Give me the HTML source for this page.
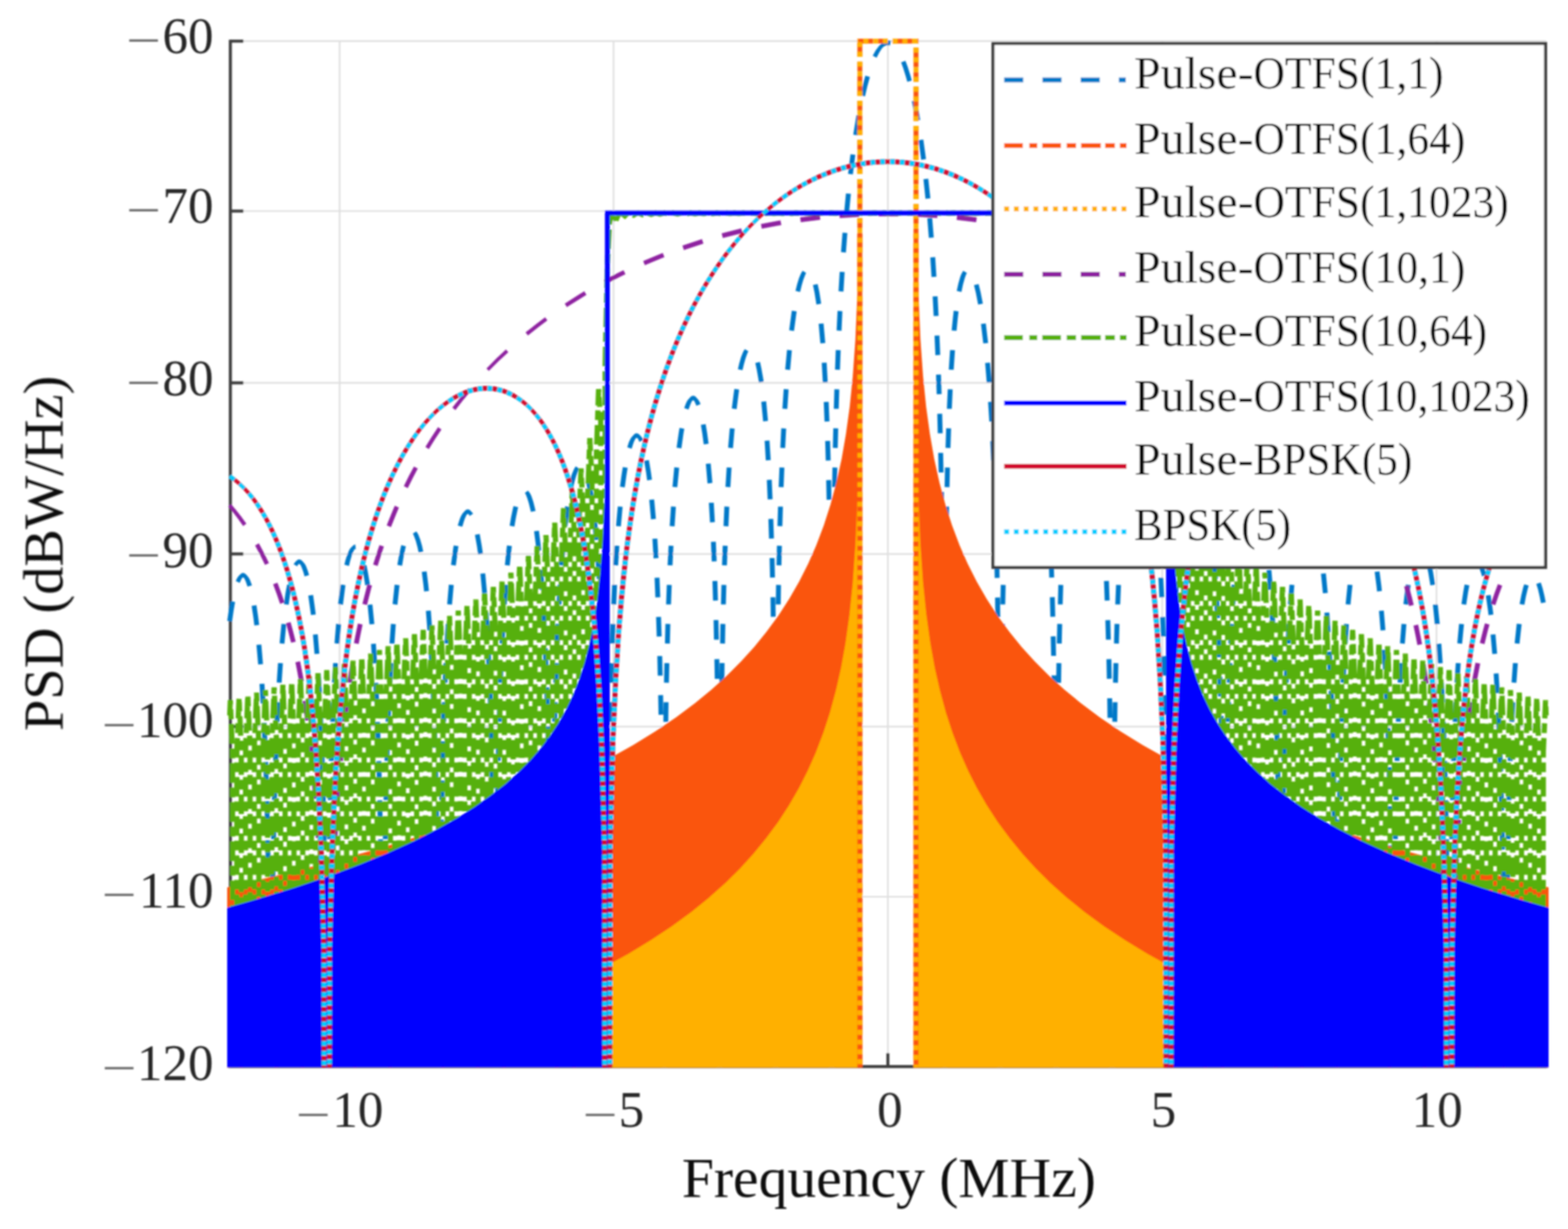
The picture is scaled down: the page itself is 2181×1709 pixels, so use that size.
<!DOCTYPE html>
<html lang="en"><head><meta charset="utf-8"><title>PSD of Pulse-OTFS and BPSK signals</title>
<style>html,body{margin:0;padding:0;background:#fff}body{width:2181px;height:1709px;overflow:hidden}svg{display:block}text{font-family:"Liberation Serif","DejaVu Serif",serif}</style>
</head><body>
<svg xmlns="http://www.w3.org/2000/svg" width="2181" height="1709" viewBox="0 0 2181 1709">
<defs><clipPath id="ax"><rect x="311.5" y="53.6" width="1847.2" height="1431.2"/></clipPath>
<filter id="soft" x="0" y="0" width="2181" height="1709" filterUnits="userSpaceOnUse"><feGaussianBlur stdDeviation="1.1"/></filter>
</defs>
<rect x="0" y="0" width="2181" height="1709" fill="#fff"/>
<g filter="url(#soft)">
<g stroke="#DEDEDE" stroke-width="2.2" fill="none">
<line x1="472.4" y1="57.2" x2="472.4" y2="1483.2"/>
<line x1="853.4" y1="57.2" x2="853.4" y2="1483.2"/>
<line x1="1235" y1="57.2" x2="1235" y2="1483.2"/>
<line x1="1616.6" y1="57.2" x2="1616.6" y2="1483.2"/>
<line x1="1998.1" y1="57.2" x2="1998.1" y2="1483.2"/>
<line x1="319.5" y1="57.2" x2="2150.6" y2="57.2"/>
<line x1="319.5" y1="293.5" x2="2150.6" y2="293.5"/>
<line x1="319.5" y1="532.4" x2="2150.6" y2="532.4"/>
<line x1="319.5" y1="770.3" x2="2150.6" y2="770.3"/>
<line x1="319.5" y1="1010.3" x2="2150.6" y2="1010.3"/>
<line x1="319.5" y1="1247" x2="2150.6" y2="1247"/>
<line x1="319.5" y1="1483.2" x2="2150.6" y2="1483.2"/>
</g>
<g stroke="#3E3E3E" stroke-width="4.2" fill="none" stroke-linecap="butt">
<path d="M320.4,55.3L320.4,1483.2L2151.6,1483.2"/>
<line x1="320.4" y1="57.2" x2="338.5" y2="57.2"/>
<line x1="320.4" y1="293.5" x2="338.5" y2="293.5"/>
<line x1="320.4" y1="532.4" x2="338.5" y2="532.4"/>
<line x1="320.4" y1="770.3" x2="338.5" y2="770.3"/>
<line x1="320.4" y1="1010.3" x2="338.5" y2="1010.3"/>
<line x1="320.4" y1="1247" x2="338.5" y2="1247"/>
<line x1="472.4" y1="1483.2" x2="472.4" y2="1464.5"/>
<line x1="853.4" y1="1483.2" x2="853.4" y2="1464.5"/>
<line x1="1235" y1="1483.2" x2="1235" y2="1464.5"/>
<line x1="1616.6" y1="1483.2" x2="1616.6" y2="1464.5"/>
<line x1="1998.1" y1="1483.2" x2="1998.1" y2="1464.5"/>
</g>
<g clip-path="url(#ax)" stroke="none">
<path fill="#0078C8" d="M316.1,863.3l2.1,-14.9l2.2,-12.4l6.6,1.1l-2.1,12.4l-2.1,14.7zM327.9,808.1l2,-4.3l1.6,-2.2l1.6,-1.8l1.6,-1.6l2,-1.4l2.5,-0.1l2.1,1.3l1.6,1.6l1.7,1.8l1.5,2.1l1.5,2.8l2.6,6.9l0.3,0.8l-6.3,1.8l-0.1,-0.6l-2.2,-6.5l-1,-2.3l-0.9,-1.8l-0.8,-1.2l-0.8,-0.3l-0.3,0.3v-0.1l-0.4,-0.2l-0.8,0.4l-0.8,1.3l-0.9,1.8l-1.7,4zM356.7,841.6l2.3,15.7l1.5,11.6l-6.7,0.8l-1.4,-11.5l-2.4,-15.6zM363.5,896.2l2.3,27.2l-6.7,0.6l-2.4,-27.2zM367.8,950.7l1.6,27.2l-6.8,0.4l-1.6,-27.2zM370.7,1005.1l1.2,27.2l-6.8,0.3l-1.2,-27.2zM372.9,1059.6l0.9,27.2l-6.8,0.2l-0.9,-27.2zM374.5,1114l0.7,27.2l-6.8,0.2l-0.6,-27.2zM375.8,1168.4l0.5,27.2l-6.8,0.2l-0.5,-27.2zM376.7,1222.8l0.4,27.2l-6.8,0.1l-0.4,-27.2zM377.5,1277.3l0.2,27.2h-6.8l-0.2,-27.2zM377.9,1331.7l0.3,27.2h-6.8l-0.3,-27.2zM378.4,1386.1l0.2,27.2h-6.8l-0.2,-27.2zM378.6,1440.5v27.2h-6.8v-27.2zM374.2,1484.6l0.1,-18.5h6.8l-0.1,18.5zM374.3,1438.9v-27.2h6.8v27.2zM374.5,1384.5l0.2,-27.2h6.8l-0.2,27.2zM375,1330.1l0.2,-27.2h6.8l-0.2,27.2zM375.4,1275.7l0.4,-27.2h6.8l-0.4,27.2zM376.2,1221.3l0.4,-27.2h6.8l-0.4,27.2zM377.1,1166.8l0.6,-27.2l6.8,0.2l-0.6,27.2zM378.3,1112.4l0.7,-27.2l6.8,0.2l-0.7,27.2zM379.9,1058l1,-27.2l6.8,0.2l-1,27.2zM382,1003.5l1.4,-27.2l6.7,0.4l-1.3,27.2zM384.9,949.1l1.8,-27.2l6.8,0.4l-1.8,27.2zM388.9,894.6l2.6,-27.2l6.7,0.6l-2.6,27.2zM394.8,840l2.7,-17.5l1.9,-9.8l6.6,1.2l-1.9,9.7l-2.6,17.4zM408.3,784.6l1.2,-1.7l1.6,-1.8l1.6,-1.6l2,-1.4l2.5,-0.2l2.1,1.2l1.7,1.6l1.6,1.8l1.6,2.1l1.5,2.7l2.6,6.9l1.6,5.5l-6.3,1.7l-1.4,-5.2l-2.3,-6.4l-0.9,-2.3l-0.9,-1.8l-0.8,-1.2l-0.8,-0.2l-0.3,0.3l0.1,-0.1l-0.5,-0.2l-0.9,0.4l-0.8,1.4l-0.7,1.5zM435.5,827.3l2.8,20.1l0.9,7.1l-6.7,0.8l-0.9,-7l-2.8,-20.1zM442,881.9l2.2,27.2l-6.7,0.5l-2.2,-27.2zM446.1,936.3l1.6,27.2l-6.8,0.4l-1.6,-27.2zM449,990.8l1.2,27.2l-6.8,0.3l-1.2,-27.2zM451.1,1045.2l0.9,27.2l-6.8,0.3l-0.8,-27.2zM452.7,1099.7l0.7,27.2l-6.8,0.1l-0.7,-27.2zM453.9,1154.1l0.5,27.2l-6.8,0.1l-0.5,-27.2zM454.8,1208.5l0.4,27.2l-6.8,0.1l-0.4,-27.2zM455.6,1262.9l0.2,27.2l-6.8,0.1l-0.2,-27.2zM456,1317.3l0.3,27.2l-6.8,0.1l-0.3,-27.2zM456.5,1371.7l0.2,27.2l-6.8,0.1l-0.2,-27.2zM456.7,1426.1v27.2h-6.8v-27.2zM456.7,1480.5v4.1h-6.8v-4.1zM452.3,1484.6v-18.5h6.8v18.5zM452.3,1438.9v-27.2h6.8v27.2zM452.4,1384.5l0.2,-27.2h6.8l-0.2,27.2zM452.9,1330.1l0.2,-27.2h6.8l-0.2,27.2zM453.3,1275.7l0.3,-27.2h6.8l-0.3,27.2zM454,1221.3l0.4,-27.2h6.8l-0.4,27.2zM454.8,1166.8l0.5,-27.2l6.8,0.2l-0.5,27.2zM455.9,1112.4l0.7,-27.2l6.8,0.2l-0.7,27.2zM457.3,1058l0.9,-27.2l6.8,0.2l-0.9,27.2zM459.2,1003.6l1.2,-27.2l6.8,0.2l-1.2,27.2zM461.8,949.1l1.6,-27.2l6.8,0.4l-1.6,27.2zM465.3,894.6l2.2,-27.2l6.8,0.6l-2.3,27.2zM470.3,840.1l2.8,-22.1l0.8,-5.2l6.6,1l-0.7,5.1l-2.8,22zM479,785.3l1.6,-6.5l2.6,-8.1l1.4,-3.3l1.4,-2.8l1.5,-2.3l1.7,-1.8l1.5,-1.6l2,-1.4l1.6,-0.3l0.5,6.8l-0.4,-0.2l-0.5,-0.2l-0.9,0.5l-0.8,1.4l-0.9,1.9l-1,2.4l-1.1,3l-2.3,7.8l-1.5,6.3zM509.7,785.7l1.7,8.3l2.5,14.5l0.7,4.6l-6.7,1l-0.6,-4.6l-2.4,-14.3l-1.7,-8.1zM518,840.5l2.7,27.2l-6.8,0.6l-2.6,-27.2zM522.8,895l1.8,27.2l-6.8,0.4l-1.7,-27.2zM526.1,949.4l1.3,27.2l-6.8,0.3l-1.2,-27.2zM528.5,1003.9l0.9,27.2l-6.7,0.2l-1,-27.2zM530.3,1058.3l0.7,27.2l-6.8,0.2l-0.7,-27.2zM531.6,1112.7l0.6,27.2l-6.8,0.2l-0.6,-27.2zM532.6,1167.1l0.4,27.2l-6.8,0.1l-0.4,-27.2zM533.4,1221.6l0.3,27.2h-6.8l-0.3,-27.2zM533.9,1276l0.2,27.2h-6.8l-0.2,-27.2zM534.4,1330.4l0.2,27.2h-6.8l-0.2,-27.2zM534.7,1384.8v27.2h-6.8v-27.2zM534.8,1439.2v27.2h-6.8v-27.2zM530.3,1484.6v-18.5h6.8v18.5zM530.4,1438.9v-27.2h6.8v27.2zM530.4,1384.5l0.1,-27.2h6.8l-0.1,27.2zM530.7,1330.1l0.3,-27.2h6.8l-0.3,27.2zM531.2,1275.7l0.2,-27.2h6.8l-0.2,27.2zM531.7,1221.3l0.4,-27.2h6.8l-0.4,27.2zM532.5,1166.8l0.4,-27.2l6.8,0.2l-0.4,27.2zM533.5,1112.4l0.5,-27.2l6.8,0.2l-0.5,27.2zM534.8,1058l0.7,-27.2l6.8,0.2l-0.7,27.2zM536.4,1003.6l1.1,-27.2l6.8,0.2l-1.1,27.2zM538.7,949.1l1.4,-27.2l6.8,0.4l-1.4,27.2zM541.8,894.7l1.9,-27.2l6.8,0.4l-1.9,27.2zM546.1,840.1l2.8,-27.2l6.8,0.8l-2.9,27.2zM552.7,785.5l2.2,-12.6l2.5,-11.7l0.8,-3.1l6.4,1.6l-0.8,3l-2.4,11.4l-2.1,12.6zM579,738.9l1.2,1.7l1.6,2.6l2.6,6.8l2.6,9l1.7,7.9l-6.4,1.4l-1.7,-7.7l-2.3,-8.6l-2.3,-6.3l-0.9,-2.2l-0.9,-1.5zM593.4,794.4l2.3,18.5l0.9,8.8l-6.7,0.7l-0.9,-8.7l-2.3,-18.5zM599.2,849l2,27.2l-6.7,0.5l-2.1,-27.2zM603,903.4l1.4,27.2l-6.7,0.4l-1.5,-27.2zM605.7,957.9l1.1,27.2l-6.8,0.3l-1.1,-27.2zM607.7,1012.3l0.8,27.2l-6.8,0.2l-0.8,-27.2zM609.2,1066.8l0.6,27.2l-6.8,0.1l-0.6,-27.2zM610.3,1121.2l0.4,27.2l-6.8,0.1l-0.4,-27.2zM611.1,1175.6l0.4,27.2l-6.8,0.1l-0.4,-27.2zM611.8,1230l0.2,27.2l-6.8,0.1l-0.2,-27.2zM612.2,1284.4l0.3,27.2l-6.8,0.1l-0.3,-27.2zM612.7,1338.8l0.1,27.2h-6.8l-0.1,-27.2zM612.8,1393.2v27.2h-6.8v-27.2zM612.8,1447.6v27.2h-6.8v-27.2zM608.4,1484.6v-18.5h6.8v18.5zM608.4,1438.9v-27.2h6.8v27.2zM608.4,1384.5v-27.2h6.8v27.2zM608.6,1330.1l0.2,-27.2h6.8l-0.2,27.2zM609,1275.7l0.3,-27.2h6.8l-0.3,27.2zM609.5,1221.3l0.3,-27.2h6.8l-0.3,27.2zM610.2,1166.9l0.4,-27.2h6.8l-0.4,27.2zM611,1112.4l0.6,-27.2l6.8,0.2l-0.6,27.2zM612.2,1058l0.7,-27.2l6.8,0.2l-0.7,27.2zM613.7,1003.6l0.9,-27.2l6.8,0.2l-0.9,27.2zM615.7,949.1l1.2,-27.2l6.8,0.4l-1.3,27.2zM618.3,894.7l1.7,-27.2l6.8,0.4l-1.7,27.2zM622,840.2l2.3,-27.2l6.8,0.6l-2.4,27.2zM627.3,785.6l3.2,-23.5l0.6,-3.7l6.6,1l-0.6,3.7l-3.1,23.5zM636.7,730.8l2.6,-8.3l1.3,-3.4l1.4,-2.9l1.6,-2.4l1.6,-1.8l1.6,-1.7l1.8,-1.5l2.4,-0.5l2.3,0.8l1.7,1.7l1.6,1.7l1.5,1.8l-4.8,3.2l-0.9,-1.7l-0.8,-1h-0.8l-0.1,0.3v-0.2l-0.7,-0.2l-0.8,0.7l-0.8,1.5l-0.9,2l-1.1,2.6l-1,3l-2.4,8.1zM667.2,742.5l2.8,15.9l1.7,11.4l-6.7,1l-1.6,-11.4l-2.8,-15.7zM674.9,797.2l2.5,27.2l-6.7,0.6l-2.5,-27.2zM679.5,851.7l1.7,27.2l-6.8,0.4l-1.7,-27.2zM682.6,906.1l1.2,27.2l-6.7,0.3l-1.3,-27.2zM684.9,960.6l0.9,27.2l-6.8,0.2l-0.9,-27.2zM686.6,1015l0.7,27.2l-6.8,0.2l-0.7,-27.2zM687.9,1069.4l0.5,27.2l-6.8,0.2l-0.5,-27.2zM688.8,1123.8l0.4,27.2l-6.8,0.1l-0.4,-27.2zM689.6,1178.3l0.3,27.2h-6.8l-0.3,-27.2zM690.1,1232.7l0.2,27.2h-6.8l-0.2,-27.2zM690.6,1287.1l0.2,27.2h-6.8l-0.2,-27.2zM690.9,1341.5v27.2h-6.8v-27.2zM690.9,1395.9v27.2h-6.8v-27.2zM690.9,1450.3v27.2h-6.8v-27.2zM686.4,1484.6v-18.5h6.8v18.5zM686.5,1438.9v-27.2h6.8v27.2zM686.5,1384.5v-27.2h6.8v27.2zM686.5,1330.1l0.1,-27.2h6.8l-0.1,27.2zM686.9,1275.7l0.2,-27.2h6.8l-0.2,27.2zM687.3,1221.3l0.3,-27.2h6.8l-0.3,27.2zM687.8,1166.9l0.4,-27.2h6.8l-0.4,27.2zM688.6,1112.4l0.5,-27.2l6.8,0.2l-0.5,27.2zM689.6,1058l0.6,-27.2l6.8,0.2l-0.6,27.2zM690.9,1003.6l0.8,-27.2l6.8,0.2l-0.8,27.2zM692.6,949.2l1.1,-27.2l6.8,0.2l-1.1,27.2zM694.9,894.7l1.4,-27.2l6.8,0.4l-1.4,27.2zM698,840.3l1.9,-27.2l6.8,0.4l-1.9,27.2zM702.3,785.7l2.8,-27.2l6.8,0.8l-2.9,27.2zM708.9,731.1l2.1,-12.3l2.5,-12l0.8,-3.1l6.4,1.6l-0.7,3l-2.4,11.7l-2.1,12.3zM734.4,682.3l1.8,2.3l1.6,2.5l1.4,3l2.6,7.6l2.5,10l0.6,2.7l-6.5,1.4l-0.5,-2.6l-2.4,-9.7l-2.2,-7.1l-1.1,-2.7l-0.8,-2.1l-1.4,-2.1zM749.6,737.9l2.2,17.6l1,9.7l-6.7,0.7l-1,-9.6l-2.2,-17.6zM755.4,792.5l2.1,27.2l-6.8,0.5l-2.1,-27.2zM759.2,846.9l1.4,27.2l-6.7,0.4l-1.5,-27.2zM761.9,901.4l1,27.2l-6.7,0.3l-1.1,-27.2zM763.9,955.8l0.7,27.2l-6.8,0.2l-0.7,-27.2zM765.3,1010.3l0.6,27.2l-6.8,0.1l-0.6,-27.2zM766.5,1064.7l0.4,27.2l-6.8,0.1l-0.4,-27.2zM767.3,1119.1l0.4,27.2l-6.8,0.1l-0.4,-27.2zM767.9,1173.5l0.2,27.2l-6.8,0.1l-0.2,-27.2zM768.4,1227.9l0.2,27.2l-6.8,0.1l-0.2,-27.2zM768.8,1282.3l0.1,27.2h-6.8l-0.1,-27.2zM768.9,1336.7v27.2h-6.8v-27.2zM768.9,1391.1v27.2h-6.8v-27.2zM768.9,1445.5l0.1,27.2h-6.8l-0.1,-27.2zM764.5,1484.6v-18.5h6.8v18.5zM764.5,1438.9v-27.2h6.8v27.2zM764.5,1384.5v-27.2h6.8v27.2zM764.5,1330.1v-27.2h6.8v27.2zM764.6,1275.7l0.3,-27.2h6.8l-0.3,27.2zM765.1,1221.3l0.2,-27.2h6.8l-0.2,27.2zM765.6,1166.9l0.2,-27.2h6.8l-0.2,27.2zM766.2,1112.5l0.4,-27.2h6.8l-0.4,27.2zM767,1058l0.6,-27.2l6.8,0.2l-0.6,27.2zM768.1,1003.6l0.8,-27.2l6.7,0.2l-0.7,27.2zM769.6,949.2l0.9,-27.2l6.8,0.2l-0.9,27.2zM771.5,894.8l1.2,-27.2l6.8,0.2l-1.2,27.2zM774.1,840.3l1.6,-27.2l6.8,0.4l-1.6,27.2zM777.6,785.8l2.2,-27.2l6.8,0.6l-2.3,27.2zM782.5,731.3l2.8,-22.7l0.7,-4.6l6.7,1l-0.7,4.5l-2.8,22.6zM790.8,676.6l2,-8.6l2.6,-8.6l2.7,-6.5l1.5,-2.6l1.3,-1.8l4.7,3.2l-1,1.6l-0.9,2.1l-2.2,6l-2.3,8.2l-1.9,8.4zM821.5,668.4l2.2,9.7l2.4,13.9l0.6,3.8l-6.6,1l-0.6,-3.7l-2.4,-13.7l-2.1,-9.6zM830.3,723.2l2.6,27.2l-6.7,0.6l-2.7,-27.2zM835.1,777.7l1.8,27.2l-6.7,0.4l-1.8,-27.2zM838.4,832.2l1.3,27.2l-6.8,0.3l-1.2,-27.2zM840.8,886.6l1,27.2l-6.8,0.2l-1,-27.2zM842.6,941l0.7,27.2l-6.8,0.2l-0.7,-27.2zM843.9,995.4l0.5,27.2l-6.8,0.2l-0.5,-27.2zM844.9,1049.9l0.4,27.2l-6.8,0.1l-0.4,-27.2zM845.7,1104.3l0.2,27.2h-6.8l-0.2,-27.2zM846.2,1158.7l0.2,27.2h-6.8l-0.2,-27.2zM846.6,1213.1l0.3,27.2h-6.8l-0.3,-27.2zM847,1267.5v27.2h-6.8v-27.2zM847,1321.9v27.2h-6.8v-27.2zM847,1376.3v27.2h-6.8v-27.2zM847,1430.7v27.2h-6.8v-27.2zM842.5,1484.6v-18.5h6.8v18.5zM842.5,1438.9l0.1,-27.2h6.8l-0.1,27.2zM842.6,1384.5v-27.2h6.8v27.2zM842.6,1330.1v-27.2h6.8v27.2zM842.6,1275.7v-27.2h6.8v27.2zM842.8,1221.3l0.3,-27.2h6.8l-0.3,27.2zM843.3,1166.9l0.2,-27.2h6.8l-0.2,27.2zM843.8,1112.5l0.3,-27.2h6.8l-0.3,27.2zM844.5,1058.1l0.4,-27.2h6.8l-0.4,27.2zM845.4,1003.6l0.6,-27.2l6.8,0.2l-0.6,27.2zM846.6,949.2l0.7,-27.2l6.8,0.2l-0.7,27.2zM848.2,894.8l1,-27.2l6.8,0.2l-1,27.2zM850.3,840.3l1.2,-27.2l6.8,0.4l-1.2,27.2zM853,785.9l1.8,-27.2l6.7,0.4l-1.7,27.2zM856.8,731.4l2.5,-27.2l6.7,0.6l-2.4,27.2zM862.4,676.8l2.2,-16.5l1.7,-10.7l6.7,1l-1.7,10.6l-2.3,16.6zM872.5,621.9l2.2,-6.8l1.4,-3.1l1.4,-2.7l1.6,-2.1l1.6,-1.7l1.6,-1.7l2.1,-1.2l2.6,0.1l2,1.3l1.6,1.7l1.6,1.8l1.6,2.2l1,2.1l-5.6,2.6l-0.7,-1.9l-0.9,-1.9l-0.8,-1.3l-0.9,-0.4l-0.4,0.3h0.1l-0.3,-0.2l-0.9,0.3l-0.8,1.1l-0.9,1.8l-1,2.3l-1,2.8l-2.1,6.6zM902.6,639.7l2.8,17l1.4,10.3l-6.7,0.9l-1.3,-10.2l-2.8,-16.9zM909.9,694.4l2.4,27.2l-6.8,0.6l-2.4,-27.2zM914.3,748.9l1.6,27.2l-6.8,0.4l-1.6,-27.2zM917.3,803.3l1.1,27.2l-6.8,0.3l-1.1,-27.2zM919.4,857.8l0.9,27.2l-6.8,0.2l-0.9,-27.2zM921.1,912.2l0.6,27.2l-6.8,0.1l-0.6,-27.2zM922.3,966.6l0.5,27.2l-6.8,0.1l-0.5,-27.2zM923.2,1021l0.4,27.2l-6.8,0.1l-0.4,-27.2zM923.9,1075.4l0.2,27.2l-6.8,0.1l-0.2,-27.2zM924.4,1129.8l0.2,27.2l-6.8,0.1l-0.2,-27.2zM924.8,1184.2l0.2,27.2l-6.8,0.1l-0.2,-27.2zM925,1238.7v27.2h-6.8v-27.2zM925,1293.1v27.2h-6.8v-27.2zM925,1347.5l0.1,27.2h-6.8l-0.1,-27.2zM925.1,1401.9v27.2h-6.8v-27.2zM925.1,1456.3v27.2h-6.8v-27.2zM920.6,1484.6v-18.5h6.8v18.5zM920.6,1438.9v-27.2h6.8v27.2zM920.6,1384.5v-27.2h6.8v27.2zM920.6,1330.1v-27.2h6.8v27.2zM920.6,1275.7v-27.2h6.8v27.2zM920.6,1221.3l0.1,-27.2h6.8l-0.1,27.2zM921,1166.9l0.2,-27.2h6.8l-0.2,27.2zM921.4,1112.5l0.3,-27.2h6.8l-0.3,27.2zM921.9,1058.1l0.4,-27.2h6.8l-0.4,27.2zM922.7,1003.7l0.4,-27.2h6.8l-0.4,27.2zM923.6,949.2l0.6,-27.2l6.8,0.2l-0.6,27.2zM924.9,894.8l0.7,-27.2l6.8,0.2l-0.7,27.2zM926.5,840.4l1,-27.2l6.8,0.2l-1,27.2zM928.6,785.9l1.4,-27.2l6.7,0.4l-1.3,27.2zM931.5,731.5l1.8,-27.2l6.8,0.4l-1.8,27.2zM935.4,677l2.5,-27.2l6.8,0.6l-2.6,27.2zM941.1,622.4l2.8,-19.5l1.3,-7.8l6.6,1.2l-1.3,7.6l-2.7,19.5zM951.7,567.4l2.4,-6.4l1.4,-2.9l1.5,-2.3l1.7,-1.8l1.5,-1.7l1.8,-1.5l2.5,-0.5l2.3,0.8l1.7,1.7l1.6,1.7l1.6,2l1.5,2.6l1.2,2.8l-5.8,2.4l-1,-2.6l-1,-2.2l-0.8,-1.7l-0.8,-1h-0.8l-0.1,0.2v-0.1l-0.6,-0.2l-0.9,0.7l-0.8,1.5l-0.9,2l-1,2.5l-2.2,6.2zM981.5,589.7l2,11.9l2.1,15.4l-6.7,0.9l-2.1,-15.3l-1.9,-11.8zM988.5,644.4l2.4,27.2l-6.8,0.6l-2.3,-27.2zM992.8,698.9l1.5,27.2l-6.7,0.4l-1.6,-27.2zM995.7,753.3l1.1,27.2l-6.8,0.3l-1.1,-27.2zM997.8,807.8l0.8,27.2l-6.8,0.2l-0.8,-27.2zM999.3,862.2l0.6,27.2l-6.8,0.1l-0.5,-27.2zM1000.5,916.6l0.4,27.2l-6.7,0.1l-0.5,-27.2zM1001.4,971l0.4,27.2l-6.8,0.1l-0.4,-27.2zM1002,1025.4l0.3,27.2l-6.8,0.1l-0.3,-27.2zM1002.5,1079.8l0.2,27.2l-6.8,0.1l-0.2,-27.2zM1003,1134.3l0.1,27.2h-6.8l-0.1,-27.2zM1003.1,1188.7v27.2h-6.8v-27.2zM1003.1,1243.1v27.2h-6.8v-27.2zM1003.1,1297.5v27.2h-6.8v-27.2zM1003.1,1351.9v27.2h-6.8v-27.2zM1003.1,1406.3v27.2h-6.8v-27.2zM1003.1,1460.7l0.1,23.9h-6.8l-0.1,-23.9zM998.6,1484.6v-18.5h6.8v18.5zM998.6,1438.9v-27.2h6.8v27.2zM998.6,1384.5v-27.2h6.8v27.2zM998.7,1330.1v-27.2h6.8v27.2zM998.7,1275.7v-27.2h6.8v27.2zM998.7,1221.3v-27.2h6.8v27.2zM998.7,1166.9v-27.2h6.8v27.2zM999,1112.5l0.2,-27.2h6.8l-0.2,27.2zM999.4,1058.1l0.3,-27.2h6.8l-0.3,27.2zM999.9,1003.7l0.4,-27.2h6.8l-0.4,27.2zM1000.7,949.3l0.4,-27.2h6.7l-0.3,27.2zM1001.6,894.8l0.5,-27.2l6.8,0.2l-0.5,27.2zM1002.8,840.4l0.7,-27.2l6.8,0.2l-0.7,27.2zM1004.3,786l1,-27.2l6.8,0.2l-1,27.2zM1006.4,731.5l1.2,-27.2l6.8,0.4l-1.2,27.2zM1009.1,677.1l1.7,-27.2l6.7,0.4l-1.6,27.2zM1012.8,622.6l2.3,-27.2l6.7,0.6l-2.3,27.2zM1017.9,568.1l2.8,-22.1l0.8,-5.2l6.6,1l-0.7,5.1l-2.8,22zM1026.4,513.4l1.8,-7.9l2.5,-8.8l2.7,-6.8l1.4,-2.7l1.2,-1.8l5,3l-0.9,1.6l-1,2.4l-2.2,6.3l-2.3,8.4l-1.8,7.7zM1057.1,503.3l1.9,8.8l2.5,14l0.7,4.6l-6.6,1l-0.7,-4.5l-2.4,-13.8l-1.9,-8.7zM1065.7,558.1l2.5,27.2l-6.7,0.6l-2.6,-27.2zM1070.3,612.6l1.7,27.2l-6.8,0.4l-1.6,-27.2zM1073.4,667.1l1.2,27.2l-6.8,0.3l-1.2,-27.2zM1075.6,721.5l0.9,27.2l-6.8,0.2l-0.9,-27.2zM1077.3,775.9l0.6,27.2l-6.8,0.2l-0.6,-27.2zM1078.5,830.4l0.4,27.2l-6.8,0.1l-0.4,-27.2zM1079.4,884.8l0.4,27.2l-6.8,0.1l-0.4,-27.2zM1080.1,939.2l0.2,27.2l-6.8,0.1l-0.2,-27.2zM1080.5,993.6l0.3,27.2l-6.8,0.1l-0.3,-27.2zM1081,1048l0.1,27.2h-6.8l-0.1,-27.2zM1081.1,1102.4v27.2h-6.8v-27.2zM1081.1,1156.8l0.1,27.2h-6.8l-0.1,-27.2zM1081.2,1211.2v27.2h-6.8v-27.2zM1081.2,1265.6v27.2h-6.8v-27.2zM1081.2,1320v27.2h-6.8v-27.2zM1081.2,1374.4v27.2h-6.8v-27.2zM1081.2,1428.8v27.2h-6.8v-27.2zM1081.2,1483.2v1.4h-6.8v-1.4zM1076.6,1484.6l0.1,-18.5h6.8l-0.1,18.5zM1076.7,1438.9v-27.2h6.8v27.2zM1076.7,1384.5v-27.2h6.8v27.2zM1076.7,1330.1v-27.2h6.8v27.2zM1076.7,1275.7v-27.2h6.8v27.2zM1076.7,1221.3v-27.2h6.8v27.2zM1076.7,1166.9v-27.2h6.8v27.2zM1076.7,1112.5l0.1,-27.2h6.8l-0.1,27.2zM1076.8,1058.1l0.2,-27.2h6.8l-0.2,27.2zM1077.2,1003.7l0.3,-27.2h6.8l-0.3,27.2zM1077.7,949.3l0.2,-27.2h6.8l-0.2,27.2zM1078.3,894.9l0.4,-27.2h6.8l-0.4,27.2zM1079.1,840.4l0.4,-27.2l6.8,0.2l-0.4,27.2zM1080.1,786l0.6,-27.2l6.8,0.2l-0.6,27.2zM1081.4,731.6l0.8,-27.2l6.8,0.2l-0.8,27.2zM1083.1,677.2l1.1,-27.2l6.8,0.2l-1.1,27.2zM1085.4,622.7l1.3,-27.2l6.8,0.4l-1.4,27.2zM1088.3,568.3l1.8,-27.2l6.8,0.4l-1.8,27.2zM1092.2,513.8l2.5,-27.2l6.7,0.6l-2.4,27.2zM1097.7,459.2l3.5,-26l0.2,-1.2l6.7,1l-0.2,1.2l-3.5,26zM1106.5,404.5l2.2,-9l2.6,-8.4l2.6,-6.4l1.5,-2.6l1.1,-1.5l4.8,3l-0.8,1.5l-0.9,2.2l-2.3,5.9l-2.3,8l-2.1,8.9zM1137.3,395l2.3,10.8l2.6,16.5l-6.6,1.1l-2.6,-16.4l-2.2,-10.7zM1145.5,449.7l2.4,27.2l-6.8,0.6l-2.4,-27.2zM1149.8,504.3l1.5,27.2l-6.8,0.3l-1.5,-27.2zM1152.6,558.7l1.1,27.2l-6.8,0.3l-1.1,-27.2zM1154.6,613.1l0.8,27.2l-6.8,0.2l-0.8,-27.2zM1156,667.6l0.6,27.2l-6.8,0.1l-0.6,-27.2zM1157,722l0.5,27.2l-6.8,0.1l-0.5,-27.2zM1157.9,776.4l0.2,27.2l-6.8,0.1l-0.2,-27.2zM1158.4,830.8l0.2,27.2l-6.8,0.1l-0.2,-27.2zM1158.9,885.2l0.2,27.2l-6.8,0.1l-0.2,-27.2zM1159.2,939.6v27.2h-6.8v-27.2zM1159.2,994v27.2h-6.8v-27.2zM1159.2,1048.4v27.2h-6.8v-27.2zM1159.2,1102.8v27.2h-6.8v-27.2zM1159.2,1157.2v27.2h-6.8v-27.2zM1159.2,1211.6l0.1,27.2h-6.8l-0.1,-27.2zM1159.3,1266v27.2h-6.8v-27.2zM1159.3,1320.4v27.2h-6.8v-27.2zM1159.3,1374.8v27.2h-6.8v-27.2zM1159.3,1429.2v27.2h-6.8v-27.2zM1159.3,1483.6v1h-6.8v-1zM1154.7,1484.6v-18.5h6.8v18.5zM1154.7,1438.9v-27.2h6.8v27.2zM1154.7,1384.5v-27.2h6.8v27.2zM1154.7,1330.1v-27.2h6.8v27.2zM1154.7,1275.7v-27.2h6.8v27.2zM1154.7,1221.3v-27.2h6.8v27.2zM1154.8,1166.9v-27.2h6.8v27.2zM1154.8,1112.5v-27.2h6.8v27.2zM1154.8,1058.1v-27.2h6.8v27.2zM1154.8,1003.7v-27.2h6.8v27.2zM1154.8,949.3v-27.2h6.8v27.2zM1155,894.9l0.2,-27.2h6.8l-0.2,27.2zM1155.4,840.5l0.3,-27.2h6.8l-0.3,27.2zM1155.9,786.1l0.3,-27.2h6.8l-0.3,27.2zM1156.6,731.7l0.3,-27.2h6.8l-0.3,27.2zM1157.4,677.2l0.5,-27.2l6.8,0.2l-0.6,27.2zM1158.4,622.8l0.7,-27.2l6.8,0.2l-0.7,27.2zM1159.8,568.4l0.8,-27.2l6.8,0.2l-0.8,27.2zM1161.5,514l1,-27.2l6.8,0.2l-1,27.2zM1163.7,459.5l1.3,-27.2l6.7,0.4l-1.2,27.2zM1166.4,405.1l1.6,-27.2l6.8,0.4l-1.6,27.2zM1169.8,350.6l2.1,-27.2l6.7,0.6l-2,27.2zM1174.1,296.2l2.6,-27.2l6.8,0.6l-2.6,27.2zM1179.6,241.7l3.4,-27.2l6.7,0.8l-3.4,27.2zM1186.8,187.2l4.5,-27.2l6.6,1l-4.5,27.2zM1196.8,132.5l3.3,-14.3l3.5,-13l6.4,1.8l-3.5,12.8l-3.3,14.3zM1213.9,77.5l4,-7.3l4.1,-5.5l2.7,-2.9l2.7,-2.5l2.8,-1.9l3.2,-1.1h3.3l2.6,0.8l-1.7,6.3l-1.8,-0.4h-1.5l-1.7,0.2l-2.1,0.8l-2.2,1.5l-2.1,2.5l-3.3,5.2l-3.6,7.1zM1259.4,84.6l3.1,8.2l3.7,11.7l2.1,7.6l-6.3,1.7l-2,-7.4l-3.6,-11.5l-3,-8.1zM1274.8,139.5l3.8,19.3l1.4,8l-6.6,1.1l-1.4,-7.9l-3.7,-19.2zM1284.3,194.1l3.7,27.2l-6.7,0.9l-3.7,-27.2zM1291.2,248.6l2.9,27.2l-6.8,0.7l-2.8,-27.2zM1296.6,303.1l2.2,27.2l-6.8,0.5l-2.2,-27.2zM1300.8,357.5l1.7,27.2l-6.8,0.5l-1.7,-27.2zM1304.1,412l1.4,27.2l-6.8,0.3l-1.4,-27.2zM1306.7,466.4l1.1,27.2l-6.7,0.3l-1.2,-27.2zM1308.8,520.8l0.9,27.2l-6.8,0.2l-0.9,-27.2zM1310.5,575.3l0.7,27.2l-6.8,0.1l-0.7,-27.2zM1311.8,629.7l0.6,27.2l-6.8,0.1l-0.6,-27.2zM1312.9,684.1l0.4,27.2l-6.8,0.1l-0.4,-27.2zM1313.6,738.5l0.4,27.2l-6.8,0.1l-0.4,-27.2zM1314.3,792.9l0.2,27.2l-6.8,0.1l-0.2,-27.2zM1314.7,847.3l0.2,27.2l-6.8,0.1l-0.2,-27.2zM1315.2,901.7l0.1,27.2h-6.8l-0.1,-27.2zM1315.3,956.1v27.2h-6.8v-27.2zM1315.3,1010.5v27.2h-6.8v-27.2zM1315.3,1064.9v27.2h-6.8v-27.2zM1315.3,1119.3v27.2h-6.8v-27.2zM1315.4,1173.7v27.2h-6.8v-27.2zM1315.4,1228.1v27.2h-6.8v-27.2zM1315.4,1282.5v27.2h-6.8v-27.2zM1315.4,1336.9v27.2h-6.8v-27.2zM1315.4,1391.3v27.2h-6.8v-27.2zM1315.4,1445.7v27.2h-6.8v-27.2zM1310.8,1484.6v-18.5h6.8v18.5zM1310.8,1438.9v-27.2h6.8v27.2zM1310.8,1384.5v-27.2h6.8v27.2zM1310.8,1330.1v-27.2h6.8v27.2zM1310.8,1275.7v-27.2h6.8v27.2zM1310.8,1221.3l0.1,-27.2h6.8l-0.1,27.2zM1310.9,1166.9v-27.2h6.8v27.2zM1310.9,1112.5v-27.2h6.8v27.2zM1310.9,1058.1v-27.2h6.8v27.2zM1310.9,1003.7v-27.2h6.8v27.2zM1310.9,949.3v-27.2h6.8v27.2zM1311.2,894.9l0.2,-27.2h6.8l-0.2,27.2zM1311.6,840.5l0.3,-27.2h6.8l-0.3,27.2zM1312.1,786.1l0.4,-27.2h6.8l-0.4,27.2zM1312.9,731.6l0.4,-27.2l6.8,0.2l-0.4,27.2zM1313.9,677.2l0.6,-27.2l6.8,0.2l-0.6,27.2zM1315.2,622.8l0.9,-27.2l6.8,0.2l-0.9,27.2zM1317.1,568.4l1.2,-27.2l6.8,0.2l-1.2,27.2zM1319.7,513.9l1.8,-27.2l6.8,0.4l-1.8,27.2zM1323.7,459.4l1.9,-18.8l1,-8.5l6.7,0.8l-1,8.5l-1.8,18.6zM1330.8,404.6l2.3,-10.6l2.5,-8.8l1.4,-3.6l1.5,-2.9l1.2,-2.1l5.2,3l-1,1.9l-1,2.5l-1.1,3.2l-2.3,8.4l-2.2,10.4zM1361.2,394.9l2.7,11l3.2,16.3l-6.6,1.3l-3.1,-16.2l-2.6,-10.9zM1371.2,449.7l3.2,27.2l-6.7,0.7l-3.2,-27.2zM1377.1,504.2l2.2,27.2l-6.8,0.5l-2.2,-27.2zM1381.2,558.6l1.6,27.2l-6.7,0.5l-1.7,-27.2zM1384.3,613.1l1.2,27.2l-6.8,0.3l-1.2,-27.2zM1386.6,667.5l1,27.2l-6.8,0.3l-1,-27.2zM1388.4,722l0.7,27.2l-6.7,0.1l-0.8,-27.2zM1389.8,776.4l0.6,27.2l-6.8,0.1l-0.6,-27.2zM1390.9,830.8l0.4,27.2l-6.8,0.1l-0.4,-27.2zM1391.7,885.2l0.4,27.2l-6.8,0.1l-0.4,-27.2zM1392.3,939.6l0.3,27.2l-6.8,0.1l-0.3,-27.2zM1392.8,994l0.2,27.2l-6.8,0.1l-0.2,-27.2zM1393.2,1048.4l0.1,27.2l-6.8,0.1l-0.1,-27.2zM1393.4,1102.8v27.2h-6.8v-27.2zM1393.4,1157.2v27.2h-6.8v-27.2zM1393.4,1211.6v27.2h-6.8v-27.2zM1393.4,1266v27.2h-6.8v-27.2zM1393.4,1320.4v27.2h-6.8v-27.2zM1393.4,1374.8v27.2h-6.8v-27.2zM1393.4,1429.2v27.2h-6.8v-27.2zM1393.5,1483.6v1h-6.8v-1zM1388.9,1484.6v-18.5h6.8v18.5zM1388.9,1438.9v-27.2h6.8v27.2zM1388.9,1384.5v-27.2h6.8v27.2zM1388.9,1330.1v-27.2h6.8v27.2zM1388.9,1275.7v-27.2h6.8v27.2zM1388.9,1221.3v-27.2h6.8v27.2zM1389,1166.9v-27.2h6.8v27.2zM1389,1112.5v-27.2h6.8v27.2zM1389,1058.1l0.3,-27.2h6.8l-0.3,27.2zM1389.5,1003.7l0.2,-27.2h6.8l-0.2,27.2zM1390,949.3l0.2,-27.2h6.8l-0.2,27.2zM1390.6,894.8l0.4,-27.2l6.8,0.2l-0.4,27.2zM1391.4,840.4l0.6,-27.2l6.8,0.2l-0.6,27.2zM1392.6,786l0.7,-27.2l6.8,0.2l-0.7,27.2zM1394.1,731.6l1,-27.2l6.7,0.2l-0.9,27.2zM1396.2,677.1l1.3,-27.2l6.8,0.4l-1.3,27.2zM1399.1,622.7l1.9,-27.2l6.8,0.4l-1.9,27.2zM1403.4,568.1l2.7,-24.5l0.4,-2.7l6.7,0.8l-0.4,2.8l-2.7,24.4zM1410.8,513.4l2.8,-12.2l2.6,-8.3l1.4,-3.3l1.4,-2.8l1,-1.4l5,3l-0.7,1.3l-1,2.3l-1.1,3l-2.2,7.9l-2.7,11.9zM1441.3,503.2l1.9,7.5l2.5,12.2l1.3,7.8l-6.6,1.1l-1.3,-7.7l-2.4,-11.9l-1.8,-7.4zM1451,558.1l3,27.2l-6.7,0.7l-3,-27.2zM1456.5,612.6l2.1,27.2l-6.7,0.5l-2.1,-27.2zM1460.4,667l1.5,27.2l-6.7,0.4l-1.6,-27.2zM1463.3,721.5l1.1,27.2l-6.8,0.3l-1.1,-27.2zM1465.4,775.9l0.9,27.2l-6.8,0.2l-0.9,-27.2zM1467.1,830.3l0.7,27.2l-6.8,0.2l-0.7,-27.2zM1468.3,884.8l0.6,27.2l-6.8,0.1l-0.6,-27.2zM1469.3,939.2l0.4,27.2l-6.8,0.1l-0.4,-27.2zM1470.1,993.6l0.3,27.2l-6.8,0.1l-0.3,-27.2zM1470.6,1048l0.2,27.2l-6.8,0.1l-0.2,-27.2zM1471,1102.4l0.3,27.2l-6.8,0.1l-0.3,-27.2zM1471.4,1156.8v27.2h-6.8v-27.2zM1471.4,1211.2v27.2h-6.8v-27.2zM1471.4,1265.6v27.2h-6.8v-27.2zM1471.4,1320v27.2h-6.8v-27.2zM1471.5,1374.4v27.2h-6.8v-27.2zM1471.5,1428.8v27.2h-6.8v-27.2zM1471.5,1483.2v1.4h-6.8v-1.4zM1466.9,1484.6v-18.5h6.8v18.5zM1467,1438.9v-27.2h6.8v27.2zM1467,1384.5v-27.2h6.8v27.2zM1467,1330.1v-27.2h6.8v27.2zM1467,1275.7v-27.2h6.8v27.2zM1467,1221.3v-27.2h6.8v27.2zM1467,1166.9l0.1,-27.2h6.8l-0.1,27.2zM1467.3,1112.5l0.3,-27.2h6.8l-0.3,27.2zM1467.8,1058.1l0.2,-27.2h6.8l-0.2,27.2zM1468.3,1003.6l0.4,-27.2l6.8,0.2l-0.4,27.2zM1469.1,949.2l0.4,-27.2l6.8,0.2l-0.4,27.2zM1470,894.8l0.6,-27.2l6.8,0.2l-0.6,27.2zM1471.4,840.4l0.7,-27.2l6.8,0.2l-0.8,27.2zM1473.1,786l1.1,-27.2l6.8,0.2l-1.1,27.2zM1475.5,731.5l1.5,-27.2l6.8,0.4l-1.5,27.2zM1478.8,677l2.3,-27.2l6.7,0.6l-2.2,27.2zM1483.9,622.5l2.7,-20.9l1,-6.4l6.7,1l-1,6.4l-2.7,20.7zM1493.7,567.5l1.8,-5.3l1.4,-3.1l1.5,-2.6l1.6,-2l1.6,-1.7l1.7,-1.7l2.3,-0.8l2.5,0.5l1.8,1.5l1.5,1.7l1.7,1.8l1.5,2.3l1.7,3.7l-5.7,2.5l-1.4,-3.4l-0.9,-2l-0.8,-1.5l-0.9,-0.7l-0.6,0.2v0.1l-0.1,-0.2h-0.8l-0.8,1l-0.8,1.7l-1,2.2l-1,2.8l-1.6,5zM1523.9,589.7l2.3,13.2l2.1,14.1l-6.7,1l-2,-14.1l-2.3,-13zM1531.6,644.3l2.6,27.2l-6.7,0.7l-2.6,-27.2zM1536.4,698.8l1.9,27.2l-6.8,0.5l-1.8,-27.2zM1539.9,753.3l1.3,27.2l-6.8,0.3l-1.3,-27.2zM1542.4,807.7l1,27.2l-6.8,0.3l-1,-27.2zM1544.3,862.2l0.8,27.2l-6.8,0.2l-0.8,-27.2zM1545.8,916.6l0.6,27.2l-6.8,0.1l-0.6,-27.2zM1546.9,971l0.4,27.2l-6.8,0.1l-0.4,-27.2zM1547.7,1025.4l0.4,27.2l-6.8,0.1l-0.4,-27.2zM1548.4,1079.8l0.2,27.2l-6.8,0.1l-0.2,-27.2zM1548.9,1134.2l0.2,27.2l-6.8,0.1l-0.2,-27.2zM1549.3,1188.7l0.2,27.2h-6.8l-0.2,-27.2zM1549.5,1243.1v27.2h-6.8v-27.2zM1549.5,1297.5v27.2h-6.8v-27.2zM1549.5,1351.9v27.2h-6.8v-27.2zM1549.5,1406.3v27.2h-6.8v-27.2zM1549.5,1460.7v23.9h-6.8v-23.9zM1545,1484.6v-18.5h6.8v18.5zM1545,1438.9v-27.2h6.8v27.2zM1545,1384.5v-27.2h6.8v27.2zM1545.1,1330.1v-27.2h6.8v27.2zM1545.1,1275.7v-27.2h6.8v27.2zM1545.1,1221.3l0.1,-27.2h6.8l-0.1,27.2zM1545.4,1166.9l0.3,-27.2h6.8l-0.3,27.2zM1545.9,1112.5l0.2,-27.2h6.8l-0.2,27.2zM1546.4,1058l0.4,-27.2l6.8,0.2l-0.4,27.2zM1547.2,1003.6l0.4,-27.2l6.8,0.2l-0.4,27.2zM1548.2,949.2l0.6,-27.2l6.8,0.2l-0.6,27.2zM1549.5,894.8l0.8,-27.2l6.8,0.2l-0.8,27.2zM1551.3,840.4l1.1,-27.2l6.8,0.2l-1.1,27.2zM1553.7,785.9l1.5,-27.2l6.8,0.4l-1.6,27.2zM1557.1,731.4l2.2,-27.2l6.7,0.6l-2.2,27.2zM1562.1,676.9l2.6,-20.1l1.1,-7.2l6.6,1l-1.1,7.1l-2.5,20zM1571.6,621.9l1.9,-6l1.4,-3.4l1.4,-2.8l1.6,-2.2l1.6,-1.8l1.6,-1.7l2,-1.3l2.6,-0.1l2.1,1.2l1.6,1.7l1.6,1.7l1.6,2.1l1.2,2.4l-5.4,2.7l-1,-2.2l-0.9,-1.8l-0.8,-1.1l-0.9,-0.3l-0.3,0.2h0.1l-0.4,-0.3l-0.9,0.4l-0.8,1.3l-0.9,1.9l-1,2.5l-1,3l-1.8,5.9zM1602,639.7l2.2,12.7l2.2,14.6l-6.6,1l-2.2,-14.5l-2.2,-12.6zM1609.8,694.3l2.6,27.2l-6.7,0.7l-2.7,-27.2zM1614.6,748.8l1.9,27.2l-6.8,0.5l-1.8,-27.2zM1618,803.3l1.4,27.2l-6.8,0.3l-1.3,-27.2zM1620.6,857.7l1,27.2l-6.8,0.3l-1,-27.2zM1622.5,912.2l0.7,27.2l-6.8,0.2l-0.7,-27.2zM1623.9,966.6l0.6,27.2l-6.8,0.1l-0.6,-27.2zM1625,1021l0.4,27.2l-6.8,0.1l-0.4,-27.2zM1625.8,1075.4l0.4,27.2l-6.8,0.1l-0.4,-27.2zM1626.5,1129.8l0.2,27.2l-6.8,0.1l-0.2,-27.2zM1626.9,1184.2l0.3,27.2l-6.8,0.1l-0.3,-27.2zM1627.4,1238.7l0.1,27.2h-6.8l-0.1,-27.2zM1627.5,1293.1v27.2h-6.8v-27.2zM1627.5,1347.5v27.2h-6.8v-27.2zM1627.5,1401.9l0.1,27.2h-6.8l-0.1,-27.2zM1627.6,1456.3v27.2h-6.8v-27.2zM1623.1,1484.6v-18.5h6.8v18.5zM1623.1,1438.9v-27.2h6.8v27.2zM1623.1,1384.5v-27.2h6.8v27.2zM1623.1,1330.1v-27.2h6.8v27.2zM1623.1,1275.7l0.1,-27.2h6.8l-0.1,27.2zM1623.4,1221.3l0.2,-27.2h6.8l-0.2,27.2zM1623.9,1166.9l0.2,-27.2h6.8l-0.2,27.2zM1624.3,1112.5l0.4,-27.2h6.8l-0.4,27.2zM1625.1,1058l0.4,-27.2l6.8,0.2l-0.4,27.2zM1626.1,1003.6l0.5,-27.2l6.8,0.2l-0.5,27.2zM1627.3,949.2l0.8,-27.2l6.8,0.2l-0.8,27.2zM1629,894.8l1,-27.2l6.8,0.2l-1,27.2zM1631.3,840.3l1.4,-27.2l6.8,0.4l-1.5,27.2zM1634.4,785.8l2,-27.2l6.8,0.6l-2,27.2zM1639,731.3l2.5,-22l0.7,-5.3l6.7,1l-0.7,5.2l-2.5,21.9zM1646.8,676.6l2.2,-9.6l2.5,-8.6l1.4,-3.5l1.4,-2.9l1.5,-2.4l1,-1.1l4.4,3.2l-0.5,1l-0.9,2l-1.1,2.6l-1,3.1l-2.4,8.2l-2,9.4zM1677.4,668.4l2.4,10.5l3,16.8l-6.6,1.2l-2.9,-16.7l-2.3,-10.4zM1686.6,723.2l2.9,27.2l-6.7,0.7l-2.9,-27.2zM1691.9,777.7l2,27.2l-6.8,0.5l-2,-27.2zM1695.6,832.1l1.4,27.2l-6.8,0.4l-1.4,-27.2zM1698.2,886.6l1.1,27.2l-6.8,0.2l-1,-27.2zM1700.2,941l0.8,27.2l-6.8,0.2l-0.8,-27.2zM1701.8,995.4l0.5,27.2l-6.8,0.2l-0.5,-27.2zM1702.9,1049.9l0.5,27.2l-6.8,0.1l-0.5,-27.2zM1703.8,1104.3l0.4,27.2l-6.8,0.1l-0.4,-27.2zM1704.5,1158.7l0.2,27.2h-6.8l-0.2,-27.2zM1704.9,1213.1l0.3,27.2h-6.8l-0.3,-27.2zM1705.4,1267.5l0.2,27.2h-6.8l-0.2,-27.2zM1705.6,1321.9v27.2h-6.8v-27.2zM1705.6,1376.3v27.2h-6.8v-27.2zM1705.6,1430.7v27.2h-6.8v-27.2zM1701.1,1484.6l0.1,-18.5h6.8l-0.1,18.5zM1701.2,1438.9v-27.2h6.8v27.2zM1701.2,1384.5v-27.2h6.8v27.2zM1701.2,1330.1v-27.2h6.8v27.2zM1701.3,1275.7l0.2,-27.2h6.8l-0.2,27.2zM1701.8,1221.3l0.2,-27.2h6.8l-0.2,27.2zM1702.2,1166.9l0.3,-27.2h6.8l-0.3,27.2zM1702.9,1112.4l0.4,-27.2l6.8,0.2l-0.4,27.2zM1703.8,1058l0.5,-27.2l6.8,0.2l-0.5,27.2zM1704.9,1003.6l0.7,-27.2l6.8,0.2l-0.7,27.2zM1706.5,949.2l0.9,-27.2l6.8,0.2l-0.9,27.2zM1708.5,894.7l1.3,-27.2l6.8,0.4l-1.3,27.2zM1711.3,840.3l1.8,-27.2l6.8,0.4l-1.8,27.2zM1715.3,785.8l2.7,-27.2l6.7,0.6l-2.7,27.2zM1721.5,731.1l3,-17.4l2.2,-9.9l6.5,1.4l-2.2,9.8l-2.9,17.3zM1746.7,682.3l1.8,2.2l1.6,2.5l2.7,6.3l2.5,8.4l2.1,8.7l-6.5,1.5l-1.9,-8.5l-2.3,-8l-2.2,-5.8l-0.8,-2l-1.4,-2zM1762.2,737.9l3.1,23.3l0.4,4l-6.7,0.7l-0.4,-3.9l-3,-23.2zM1768.4,792.4l2.3,27.2l-6.8,0.6l-2.2,-27.2zM1772.6,846.9l1.5,27.2l-6.7,0.4l-1.6,-27.2zM1775.5,901.4l1.2,27.2l-6.8,0.3l-1.2,-27.2zM1777.7,955.8l0.9,27.2l-6.8,0.2l-0.9,-27.2zM1779.3,1010.2l0.7,27.2l-6.8,0.2l-0.6,-27.2zM1780.6,1064.7l0.6,27.2l-6.8,0.1l-0.6,-27.2zM1781.6,1119.1l0.4,27.2l-6.8,0.1l-0.4,-27.2zM1782.4,1173.5l0.2,27.2l-6.8,0.1l-0.2,-27.2zM1782.8,1227.9l0.3,27.2l-6.8,0.1l-0.3,-27.2zM1783.3,1282.3l0.2,27.2l-6.8,0.1l-0.2,-27.2zM1783.6,1336.7v27.2h-6.8v-27.2zM1783.6,1391.1v27.2h-6.8v-27.2zM1783.6,1445.5l0.1,27.2h-6.8l-0.1,-27.2zM1779.2,1484.6v-18.5h6.8v18.5zM1779.2,1438.9v-27.2h6.8v27.2zM1779.2,1384.5v-27.2h6.8v27.2zM1779.3,1330.1l0.1,-27.2h6.8l-0.1,27.2zM1779.6,1275.7l0.3,-27.2h6.8l-0.3,27.2zM1780.1,1221.3l0.2,-27.2h6.8l-0.2,27.2zM1780.6,1166.8l0.4,-27.2l6.8,0.2l-0.4,27.2zM1781.4,1112.4l0.5,-27.2l6.8,0.2l-0.5,27.2zM1782.5,1058l0.6,-27.2l6.8,0.2l-0.6,27.2zM1783.8,1003.6l0.9,-27.2l6.7,0.2l-0.8,27.2zM1785.6,949.2l1.1,-27.2l6.8,0.2l-1.1,27.2zM1788.1,894.7l1.5,-27.2l6.8,0.4l-1.6,27.2zM1791.4,840.2l2.3,-27.2l6.7,0.6l-2.2,27.2zM1796.4,785.7l2.4,-19l1.3,-8.3l6.6,1l-1.2,8.2l-2.4,18.9zM1805.6,730.8l2,-7.1l1.4,-3.6l1.4,-3.1l1.4,-2.5l1.7,-2l1.6,-1.7l1.7,-1.7l2.3,-0.8l2.4,0.5l1.8,1.5l1.6,1.7l1.8,2.3l-4.6,3.2l-1.2,-2.1l-0.8,-0.7l-0.7,0.2v0.2l-0.1,-0.3h-0.8l-0.8,1l-0.8,1.6l-1,2.2l-1,2.8l-1.1,3.3l-1.9,6.9zM1836.2,742.5l2.2,12l2.4,15.3l-6.7,1l-2.3,-15.2l-2.2,-11.9zM1844.2,797.2l2.6,27.2l-6.7,0.6l-2.7,-27.2zM1849,851.7l1.8,27.2l-6.7,0.4l-1.9,-27.2zM1852.4,906.1l1.3,27.2l-6.8,0.4l-1.3,-27.2zM1854.9,960.6l1,27.2l-6.8,0.2l-1,-27.2zM1856.8,1015l0.7,27.2l-6.8,0.2l-0.7,-27.2zM1858.2,1069.4l0.5,27.2l-6.8,0.2l-0.5,-27.2zM1859.3,1123.8l0.4,27.2l-6.8,0.1l-0.4,-27.2zM1860.1,1178.2l0.4,27.2l-6.8,0.1l-0.4,-27.2zM1860.7,1232.7l0.2,27.2h-6.8l-0.2,-27.2zM1861.2,1287.1l0.2,27.2h-6.8l-0.2,-27.2zM1861.6,1341.5l0.1,27.2h-6.8l-0.1,-27.2zM1861.7,1395.9v27.2h-6.8v-27.2zM1861.7,1450.3v27.2h-6.8v-27.2zM1857.3,1484.6v-18.5h6.8v18.5zM1857.3,1438.9v-27.2h6.8v27.2zM1857.3,1384.5v-27.2h6.8v27.2zM1857.5,1330.1l0.2,-27.2h6.8l-0.2,27.2zM1857.9,1275.7l0.3,-27.2h6.8l-0.3,27.2zM1858.4,1221.3l0.3,-27.2h6.8l-0.3,27.2zM1859.1,1166.8l0.4,-27.2l6.8,0.2l-0.4,27.2zM1860,1112.4l0.5,-27.2l6.8,0.2l-0.5,27.2zM1861.1,1058l0.8,-27.2l6.8,0.2l-0.8,27.2zM1862.7,1003.6l1,-27.2l6.8,0.2l-1,27.2zM1864.8,949.1l1.3,-27.2l6.8,0.4l-1.3,27.2zM1867.7,894.7l1.8,-27.2l6.7,0.4l-1.8,27.2zM1871.7,840.2l2.7,-27.2l6.8,0.6l-2.8,27.2zM1878,785.5l2.6,-15l2.7,-12.3l6.5,1.4l-2.6,12.2l-2.5,14.9zM1904.2,738.9l1.8,2.9l1.5,2.9l2.7,7.1l2.5,9.3l1.3,5.8l-6.5,1.4l-1.2,-5.6l-2.3,-9l-2.3,-6.7l-1,-2.4l-1.5,-2.7zM1918.8,794.4l2.6,20.4l0.7,6.9l-6.7,0.7l-0.7,-6.8l-2.6,-20.3zM1924.8,849l2.2,27.2l-6.7,0.5l-2.2,-27.2zM1928.9,903.4l1.5,27.2l-6.7,0.4l-1.6,-27.2zM1931.8,957.9l1.1,27.2l-6.8,0.3l-1.1,-27.2zM1933.9,1012.3l0.9,27.2l-6.8,0.2l-0.8,-27.2zM1935.6,1066.7l0.6,27.2l-6.8,0.2l-0.6,-27.2zM1936.8,1121.2l0.5,27.2l-6.8,0.1l-0.5,-27.2zM1937.7,1175.6l0.4,27.2l-6.8,0.1l-0.4,-27.2zM1938.5,1230l0.3,27.2l-6.8,0.1l-0.3,-27.2zM1939,1284.4l0.2,27.2l-6.8,0.1l-0.2,-27.2zM1939.4,1338.8l0.3,27.2l-6.8,0.1l-0.3,-27.2zM1939.7,1393.2v27.2h-6.8v-27.2zM1939.7,1447.6l0.1,27.2h-6.8l-0.1,-27.2zM1935.3,1484.6v-18.5h6.8v18.5zM1935.3,1438.9l0.1,-27.2h6.8l-0.1,27.2zM1935.4,1384.5l0.1,-27.2h6.8l-0.1,27.2zM1935.7,1330.1l0.3,-27.2h6.8l-0.3,27.2zM1936.2,1275.7l0.2,-27.2h6.8l-0.2,27.2zM1936.7,1221.3l0.4,-27.2h6.8l-0.4,27.2zM1937.5,1166.8l0.5,-27.2l6.7,0.2l-0.4,27.2zM1938.5,1112.4l0.6,-27.2l6.8,0.2l-0.6,27.2zM1939.8,1058l0.9,-27.2l6.8,0.2l-0.9,27.2zM1941.6,1003.6l1.1,-27.2l6.8,0.2l-1.1,27.2zM1944,949.1l1.5,-27.2l6.8,0.4l-1.5,27.2zM1947.3,894.6l2.1,-27.2l6.8,0.6l-2.2,27.2zM1952.1,840.1l2.8,-23.2l0.6,-4.1l6.7,1l-0.6,4l-2.8,23.1zM1960.5,785.3l1.9,-7.8l2.6,-7.9l1.4,-3.2l1.5,-2.6l1.6,-2.1l1.6,-1.8l1.6,-1.6l2.2,-1.1h1.2l-0.5,6.8l0.2,-0.1l-0.3,-0.3l-0.8,0.2l-0.8,1.1l-0.8,1.8l-1,2.3l-1.1,2.8l-2.3,7.5l-1.8,7.6zM1991.2,785.7l2.1,9.7l2.9,17.6l-6.6,1.1l-2.9,-17.5l-2,-9.5zM1999.8,840.4l2.8,27.2l-6.8,0.7l-2.7,-27.2zM2004.8,895l1.9,27.2l-6.7,0.4l-1.9,-27.2zM2008.3,949.4l1.4,27.2l-6.8,0.4l-1.4,-27.2zM2010.9,1003.9l1,27.2l-6.8,0.2l-1,-27.2zM2012.8,1058.3l0.7,27.2l-6.8,0.2l-0.7,-27.2zM2014.2,1112.7l0.6,27.2l-6.8,0.2l-0.6,-27.2zM2015.4,1167.1l0.3,27.2l-6.8,0.1l-0.3,-27.2zM2016.1,1221.5l0.4,27.2l-6.8,0.1l-0.4,-27.2zM2016.8,1276l0.2,27.2h-6.8l-0.2,-27.2zM2017.2,1330.4l0.3,27.2h-6.8l-0.3,-27.2zM2017.7,1384.8l0.1,27.2h-6.8l-0.1,-27.2zM2017.8,1439.2v27.2h-6.8v-27.2zM2013.4,1484.6v-18.5h6.8v18.5zM2013.4,1438.9v-27.2h6.8v27.2zM2013.5,1384.5l0.2,-27.2h6.8l-0.2,27.2zM2014,1330.1l0.2,-27.2h6.8l-0.2,27.2zM2014.4,1275.7l0.3,-27.2h6.8l-0.3,27.2zM2015.1,1221.3l0.4,-27.2h6.8l-0.4,27.2zM2015.9,1166.8l0.6,-27.2l6.8,0.2l-0.6,27.2zM2017,1112.4l0.7,-27.2l6.8,0.2l-0.7,27.2zM2018.5,1058l0.9,-27.2l6.8,0.2l-0.9,27.2zM2020.5,1003.5l1.3,-27.2l6.7,0.4l-1.2,27.2zM2023.2,949.1l1.7,-27.2l6.8,0.4l-1.7,27.2zM2027,894.6l2.5,-27.2l6.8,0.6l-2.6,27.2zM2032.8,840l2.7,-18l1.7,-9.3l6.6,1.2l-1.7,9.2l-2.7,17.9zM2046,784.6l1.5,-2.1l1.6,-1.8l1.7,-1.6l2.1,-1.2l2.5,0.2l2,1.4l1.6,1.6l1.6,1.8l1.6,2.2l1.4,2.8l2.6,7l1.4,4.7l-6.2,1.8l-1.3,-4.5l-2.3,-6.6l-0.9,-2.4l-0.9,-1.8l-0.8,-1.4l-0.9,-0.4l-0.5,0.2l0.1,0.1l-0.3,-0.3l-0.8,0.2l-0.8,1.2l-1,1.9zM2073.4,827.3l2.9,20l0.9,7.2l-6.7,0.9l-0.9,-7.2l-2.9,-20zM2080.1,881.9l2.3,27.2l-6.7,0.5l-2.4,-27.2zM2084.4,936.3l1.7,27.2l-6.8,0.5l-1.7,-27.2zM2087.5,990.8l1.2,27.2l-6.8,0.3l-1.2,-27.2zM2089.8,1045.2l0.9,27.2l-6.8,0.3l-0.9,-27.2zM2091.4,1099.7l0.8,27.2l-6.8,0.1l-0.8,-27.2zM2092.7,1154.1l0.6,27.2l-6.8,0.1l-0.6,-27.2zM2093.7,1208.5l0.4,27.2l-6.8,0.1l-0.4,-27.2zM2094.5,1262.9l0.3,27.2l-6.8,0.1l-0.3,-27.2zM2095,1317.3l0.3,27.2l-6.8,0.1l-0.3,-27.2zM2095.5,1371.7l0.2,27.2l-6.8,0.1l-0.2,-27.2zM2095.8,1426.1v27.2h-6.8v-27.2zM2095.9,1480.5v4.1h-6.8v-4.1zM2091.5,1484.6v-18.5h6.8v18.5zM2091.5,1438.9v-27.2h6.8v27.2zM2091.7,1384.5l0.3,-27.2h6.8l-0.3,27.2zM2092.2,1330.1l0.2,-27.2h6.8l-0.2,27.2zM2092.7,1275.7l0.3,-27.2h6.8l-0.3,27.2zM2093.4,1221.3l0.4,-27.2h6.8l-0.4,27.2zM2094.4,1166.8l0.5,-27.2l6.8,0.2l-0.5,27.2zM2095.6,1112.4l0.7,-27.2l6.8,0.2l-0.7,27.2zM2097.2,1058l1.1,-27.2l6.8,0.2l-1.1,27.2zM2099.4,1003.5l1.4,-27.2l6.8,0.4l-1.4,27.2zM2102.5,949.1l1.9,-27.2l6.8,0.4l-2,27.2zM2106.8,894.5l2.9,-27.2l6.8,0.8l-3,27.2zM2113.7,839.9l2.3,-11.9l2.5,-10.5l1.6,-5.1l6.2,1.8l-1.4,5l-2.4,10.1l-2.2,11.8zM2143.1,810l2.5,7.8l2.5,10.3l1.9,9.4l-6.6,1.3l-1.8,-9.3l-2.3,-10l-2.4,-7.6z"/>
<path fill="#FA5409" d="M1194.4,1484.6h-878.4v-250.7l76.9,-18.1l67.6,-17.3l63.6,-17.7l59.9,-18.3l52.3,-17.3l49.2,-17.8l46.2,-18.2l43.4,-18.8l37.5,-17.7l35.2,-18.1l33,-18.6l30.8,-19l28.8,-19.6l26.7,-20l22.8,-18.7l21.2,-19.3l19.7,-19.6l18.2,-20.1l16.8,-20.6l16.8,-22.9l15.3,-23.6l13.8,-24.1l12.5,-24.7l11.1,-25.3l10.6,-28.1l9.3,-28.9l8,-29.8l7.4,-33.2l6,-34.4l5.3,-38.4l4.3,-42.8l3.6,-50.4l2.7,-62.1l1.9,-84.5zM1275.7,325.9l1.9,84.5l2.7,62.1l3.6,50.4l4.3,42.8l5.3,38.4l6,34.4l7.4,33.2l8,29.8l9.3,28.9l10.6,28.1l11.1,25.3l12.5,24.7l13.8,24.1l15.3,23.6l16.8,22.9l16.8,20.6l18.2,20.1l19.7,19.6l21.2,19.3l22.8,18.7l26.7,20l28.8,19.6l30.8,19l33,18.6l35.2,18.1l37.5,17.7l43.4,18.8l46.2,18.2l49.2,17.8l52.3,17.3l59.9,18.3l63.6,17.7l67.6,17.3l76.8,18.1v250.7h-878.3zM1192.6,325.8h6.8v1158.8h-6.8zM1270.7,325.8h6.8v1158.8h-6.8z"/>
<path fill="#FA5409" d="M1192.6,1484.6v-18.5h6.8v18.5zM1192.6,1459.3v-13.6h6.8v13.6zM1192.6,1438.9v-27.2h6.8v27.2zM1192.6,1404.9v-13.6h6.8v13.6zM1192.6,1384.5v-27.2h6.8v27.2zM1192.6,1350.5v-13.6h6.8v13.6zM1192.6,1330.1v-27.2h6.8v27.2zM1192.6,1296.1v-13.6h6.8v13.6zM1192.6,1275.7v-27.2h6.8v27.2zM1192.6,1241.7v-13.6h6.8v13.6zM1192.6,1221.3v-27.2h6.8v27.2zM1192.6,1187.3v-13.6h6.8v13.6zM1192.6,1166.9v-27.2h6.8v27.2zM1192.6,1132.9v-13.6h6.8v13.6zM1192.6,1112.5v-27.2h6.8v27.2zM1192.6,1078.5v-13.6h6.8v13.6zM1192.6,1058.1v-27.2h6.8v27.2zM1192.6,1024.1v-13.6h6.8v13.6zM1192.6,1003.7v-27.2h6.8v27.2zM1192.6,969.7v-13.6h6.8v13.6zM1192.6,949.3v-27.2h6.8v27.2zM1192.6,915.3v-13.6h6.8v13.6zM1192.6,894.9v-27.2h6.8v27.2zM1192.6,860.9v-13.6h6.8v13.6zM1192.6,840.5v-27.2h6.8v27.2zM1192.6,806.5v-13.6h6.8v13.6zM1192.6,786.1v-27.2h6.8v27.2zM1192.6,752.1v-13.6h6.8v13.6zM1192.6,731.7v-27.2h6.8v27.2zM1192.6,697.7v-13.6h6.8v13.6zM1192.6,677.3v-27.2h6.8v27.2zM1192.6,643.3v-13.6h6.8v13.6zM1192.6,622.9v-27.2h6.8v27.2zM1192.6,588.9v-13.6h6.8v13.6zM1192.6,568.5v-27.2h6.8v27.2zM1192.6,534.5v-13.6h6.8v13.6zM1192.6,514.1v-27.2h6.8v27.2zM1192.6,480.1v-13.6h6.8v13.6zM1192.6,459.7v-27.2h6.8v27.2zM1192.6,425.7v-13.6h6.8v13.6zM1192.6,405.3v-27.2h6.8v27.2zM1192.6,371.3v-13.6h6.8v13.6zM1192.6,350.9v-27.2h6.8v27.2zM1192.6,316.9v-13.6h6.8v13.6zM1192.6,296.5v-27.2h6.8v27.2zM1192.6,262.5v-13.6h6.8v13.6zM1192.6,242.1v-27.2h6.8v27.2zM1192.6,208.1v-13.6h6.8v13.6zM1192.6,187.7v-27.2h6.8v27.2zM1192.6,153.7v-13.6h6.8v13.6zM1192.6,133.3v-27.2h6.8v27.2zM1192.6,99.3v-13.6h6.8v13.6zM1192.6,78.9v-21.7h6.8v21.7zM1192.6,53.8h21.9v6.8h-21.9zM1221.3,53.8h13.6v6.8h-13.6zM1241.7,53.8h27.2v6.8h-27.2zM1275.7,53.8h1.8v6.8h-1.8zM1277.5,57.2v2.2h-6.8v-2.2zM1277.5,66.2v27.2h-6.8v-27.2zM1277.5,100.2v13.6h-6.8v-13.6zM1277.5,120.6v27.2h-6.8v-27.2zM1277.5,154.6v13.6h-6.8v-13.6zM1277.5,175v27.2h-6.8v-27.2zM1277.5,209v13.6h-6.8v-13.6zM1277.5,229.4v27.2h-6.8v-27.2zM1277.5,263.4v13.6h-6.8v-13.6zM1277.5,283.8v27.2h-6.8v-27.2zM1277.5,317.8v13.6h-6.8v-13.6zM1277.5,338.2v27.2h-6.8v-27.2zM1277.5,372.2v13.6h-6.8v-13.6zM1277.5,392.6v27.2h-6.8v-27.2zM1277.5,426.6v13.6h-6.8v-13.6zM1277.5,447v27.2h-6.8v-27.2zM1277.5,481v13.6h-6.8v-13.6zM1277.5,501.4v27.2h-6.8v-27.2zM1277.5,535.4v13.6h-6.8v-13.6zM1277.5,555.8v27.2h-6.8v-27.2zM1277.5,589.8v13.6h-6.8v-13.6zM1277.5,610.2v27.2h-6.8v-27.2zM1277.5,644.2v13.6h-6.8v-13.6zM1277.5,664.6v27.2h-6.8v-27.2zM1277.5,698.6v13.6h-6.8v-13.6zM1277.5,719v27.2h-6.8v-27.2zM1277.5,753v13.6h-6.8v-13.6zM1277.5,773.4v27.2h-6.8v-27.2zM1277.5,807.4v13.6h-6.8v-13.6zM1277.5,827.8v27.2h-6.8v-27.2zM1277.5,861.8v13.6h-6.8v-13.6zM1277.5,882.2v27.2h-6.8v-27.2zM1277.5,916.2v13.6h-6.8v-13.6zM1277.5,936.6v27.2h-6.8v-27.2zM1277.5,970.6v13.6h-6.8v-13.6zM1277.5,991v27.2h-6.8v-27.2zM1277.5,1025v13.6h-6.8v-13.6zM1277.5,1045.4v27.2h-6.8v-27.2zM1277.5,1079.4v13.6h-6.8v-13.6zM1277.5,1099.8v27.2h-6.8v-27.2zM1277.5,1133.8v13.6h-6.8v-13.6zM1277.5,1154.2v27.2h-6.8v-27.2zM1277.5,1188.2v13.6h-6.8v-13.6zM1277.5,1208.6v27.2h-6.8v-27.2zM1277.5,1242.6v13.6h-6.8v-13.6zM1277.5,1263v27.2h-6.8v-27.2zM1277.5,1297v13.6h-6.8v-13.6zM1277.5,1317.4v27.2h-6.8v-27.2zM1277.5,1351.4v13.6h-6.8v-13.6zM1277.5,1371.8v27.2h-6.8v-27.2zM1277.5,1405.8v13.6h-6.8v-13.6zM1277.5,1426.2v27.2h-6.8v-27.2zM1277.5,1460.2v13.6h-6.8v-13.6zM1277.5,1480.6v4h-6.8v-4z"/>
<path fill="#FFB000" d="M1192.6,1484.6h-876.6v35.7l51.7,-12l73.6,-18.3l64.6,-17.6l60.8,-18l57.2,-18.6l49.8,-17.6l46.8,-18.1l43.9,-18.5l41.1,-19l35.5,-18l33.3,-18.4l31.1,-18.9l29.1,-19.3l27,-19.8l25,-20.3l23.2,-20.7l19.6,-19.5l18.2,-19.9l18.2,-22.2l16.7,-22.7l15.1,-23.2l13.7,-23.8l12.3,-24.2l11,-24.8l10.5,-27.4l9.2,-28.1l8.4,-30.9l7.2,-31.5l6.2,-34.6l5.6,-39.9l4.6,-44.6l3.7,-53l2.7,-64.5zM1277.5,692.4l2.7,64.5l3.7,53l4.6,44.6l5.6,39.9l6.2,34.6l7.2,31.5l8.4,30.9l9.2,28.1l10.5,27.4l11,24.8l12.3,24.2l13.7,23.8l15.1,23.2l16.7,22.7l18.2,22.2l18.2,19.9l19.6,19.5l23.2,20.7l25,20.3l27,19.8l29.1,19.3l31.1,18.9l33.3,18.4l35.5,18l41.1,19l43.9,18.5l46.8,18.1l49.8,17.6l57.2,18.6l60.8,18l64.6,17.6l73.6,18.3l51.6,12v-35.7h-876.5z"/>
<path fill="#FFB000" d="M1192.6,1479.7v-6.8h6.8v6.8zM1192.6,1466.1v-6.8h6.8v6.8zM1192.6,1452.5v-6.8h6.8v6.8zM1192.6,1438.9v-6.8h6.8v6.8zM1192.6,1425.3v-6.8h6.8v6.8zM1192.6,1411.7v-6.8h6.8v6.8zM1192.6,1398.1v-6.8h6.8v6.8zM1192.6,1384.5v-6.8h6.8v6.8zM1192.6,1370.9v-6.8h6.8v6.8zM1192.6,1357.3v-6.8h6.8v6.8zM1192.6,1343.7v-6.8h6.8v6.8zM1192.6,1330.1v-6.8h6.8v6.8zM1192.6,1316.5v-6.8h6.8v6.8zM1192.6,1302.9v-6.8h6.8v6.8zM1192.6,1289.3v-6.8h6.8v6.8zM1192.6,1275.7v-6.8h6.8v6.8zM1192.6,1262.1v-6.8h6.8v6.8zM1192.6,1248.5v-6.8h6.8v6.8zM1192.6,1234.9v-6.8h6.8v6.8zM1192.6,1221.3v-6.8h6.8v6.8zM1192.6,1207.7v-6.8h6.8v6.8zM1192.6,1194.1v-6.8h6.8v6.8zM1192.6,1180.5v-6.8h6.8v6.8zM1192.6,1166.9v-6.8h6.8v6.8zM1192.6,1153.3v-6.8h6.8v6.8zM1192.6,1139.7v-6.8h6.8v6.8zM1192.6,1126.1v-6.8h6.8v6.8zM1192.6,1112.5v-6.8h6.8v6.8zM1192.6,1098.9v-6.8h6.8v6.8zM1192.6,1085.3v-6.8h6.8v6.8zM1192.6,1071.7v-6.8h6.8v6.8zM1192.6,1058.1v-6.8h6.8v6.8zM1192.6,1044.5v-6.8h6.8v6.8zM1192.6,1030.9v-6.8h6.8v6.8zM1192.6,1017.3v-6.8h6.8v6.8zM1192.6,1003.7v-6.8h6.8v6.8zM1192.6,990.1v-6.8h6.8v6.8zM1192.6,976.5v-6.8h6.8v6.8zM1192.6,962.9v-6.8h6.8v6.8zM1192.6,949.3v-6.8h6.8v6.8zM1192.6,935.7v-6.8h6.8v6.8zM1192.6,922.1v-6.8h6.8v6.8zM1192.6,908.5v-6.8h6.8v6.8zM1192.6,894.9v-6.8h6.8v6.8zM1192.6,881.3v-6.8h6.8v6.8zM1192.6,867.7v-6.8h6.8v6.8zM1192.6,854.1v-6.8h6.8v6.8zM1192.6,840.5v-6.8h6.8v6.8zM1192.6,826.9v-6.8h6.8v6.8zM1192.6,813.3v-6.8h6.8v6.8zM1192.6,799.7v-6.8h6.8v6.8zM1192.6,786.1v-6.8h6.8v6.8zM1192.6,772.5v-6.8h6.8v6.8zM1192.6,758.9v-6.8h6.8v6.8zM1192.6,745.3v-6.8h6.8v6.8zM1192.6,731.7v-6.8h6.8v6.8zM1192.6,718.1v-6.8h6.8v6.8zM1192.6,704.5v-6.8h6.8v6.8zM1192.6,690.9v-6.8h6.8v6.8zM1192.6,677.3v-6.8h6.8v6.8zM1192.6,663.7v-6.8h6.8v6.8zM1192.6,650.1v-6.8h6.8v6.8zM1192.6,636.5v-6.8h6.8v6.8zM1192.6,622.9v-6.8h6.8v6.8zM1192.6,609.3v-6.8h6.8v6.8zM1192.6,595.7v-6.8h6.8v6.8zM1192.6,582.1v-6.8h6.8v6.8zM1192.6,568.5v-6.8h6.8v6.8zM1192.6,554.9v-6.8h6.8v6.8zM1192.6,541.3v-6.8h6.8v6.8zM1192.6,527.7v-6.8h6.8v6.8zM1192.6,514.1v-6.8h6.8v6.8zM1192.6,500.5v-6.8h6.8v6.8zM1192.6,486.9v-6.8h6.8v6.8zM1192.6,473.3v-6.8h6.8v6.8zM1192.6,459.7v-6.8h6.8v6.8zM1192.6,446.1v-6.8h6.8v6.8zM1192.6,432.5v-6.8h6.8v6.8zM1192.6,418.9v-6.8h6.8v6.8zM1192.6,405.3v-6.8h6.8v6.8zM1192.6,391.7v-6.8h6.8v6.8zM1192.6,378.1v-6.8h6.8v6.8zM1192.6,364.5v-6.8h6.8v6.8zM1192.6,350.9v-6.8h6.8v6.8zM1192.6,337.3v-6.8h6.8v6.8zM1192.6,323.7v-6.8h6.8v6.8zM1192.6,310.1v-6.8h6.8v6.8zM1192.6,296.5v-6.8h6.8v6.8zM1192.6,282.9v-6.8h6.8v6.8zM1192.6,269.3v-6.8h6.8v6.8zM1192.6,255.7v-6.8h6.8v6.8zM1192.6,242.1v-6.8h6.8v6.8zM1192.6,228.5v-6.8h6.8v6.8zM1192.6,214.9v-6.8h6.8v6.8zM1192.6,201.3v-6.8h6.8v6.8zM1192.6,187.7v-6.8h6.8v6.8zM1192.6,174.1v-6.8h6.8v6.8zM1192.6,160.5v-6.8h6.8v6.8zM1192.6,146.9v-6.8h6.8v6.8zM1192.6,133.3v-6.8h6.8v6.8zM1192.6,119.7v-6.8h6.8v6.8zM1192.6,106.1v-6.8h6.8v6.8zM1192.6,92.5v-6.8h6.8v6.8zM1192.6,78.9v-6.8h6.8v6.8zM1192.6,65.3v-6.8h6.8v6.8zM1192.6,53.8h1.5v6.8h-1.5zM1200.9,53.8h6.8v6.8h-6.8zM1214.5,53.8h6.8v6.8h-6.8zM1228.1,53.8h6.8v6.8h-6.8zM1241.7,53.8h6.8v6.8h-6.8zM1255.3,53.8h6.8v6.8h-6.8zM1268.9,53.8h6.8v6.8h-6.8zM1277.5,57.2v2.2h-6.8v-2.2zM1277.5,66.2v6.8h-6.8v-6.8zM1277.5,79.8v6.8h-6.8v-6.8zM1277.5,93.4v6.8h-6.8v-6.8zM1277.5,107v6.8h-6.8v-6.8zM1277.5,120.6v6.8h-6.8v-6.8zM1277.5,134.2v6.8h-6.8v-6.8zM1277.5,147.8v6.8h-6.8v-6.8zM1277.5,161.4v6.8h-6.8v-6.8zM1277.5,175v6.8h-6.8v-6.8zM1277.5,188.6v6.8h-6.8v-6.8zM1277.5,202.2v6.8h-6.8v-6.8zM1277.5,215.8v6.8h-6.8v-6.8zM1277.5,229.4v6.8h-6.8v-6.8zM1277.5,243v6.8h-6.8v-6.8zM1277.5,256.6v6.8h-6.8v-6.8zM1277.5,270.2v6.8h-6.8v-6.8zM1277.5,283.8v6.8h-6.8v-6.8zM1277.5,297.4v6.8h-6.8v-6.8zM1277.5,311v6.8h-6.8v-6.8zM1277.5,324.6v6.8h-6.8v-6.8zM1277.5,338.2v6.8h-6.8v-6.8zM1277.5,351.8v6.8h-6.8v-6.8zM1277.5,365.4v6.8h-6.8v-6.8zM1277.5,379v6.8h-6.8v-6.8zM1277.5,392.6v6.8h-6.8v-6.8zM1277.5,406.2v6.8h-6.8v-6.8zM1277.5,419.8v6.8h-6.8v-6.8zM1277.5,433.4v6.8h-6.8v-6.8zM1277.5,447v6.8h-6.8v-6.8zM1277.5,460.6v6.8h-6.8v-6.8zM1277.5,474.2v6.8h-6.8v-6.8zM1277.5,487.8v6.8h-6.8v-6.8zM1277.5,501.4v6.8h-6.8v-6.8zM1277.5,515v6.8h-6.8v-6.8zM1277.5,528.6v6.8h-6.8v-6.8zM1277.5,542.2v6.8h-6.8v-6.8zM1277.5,555.8v6.8h-6.8v-6.8zM1277.5,569.4v6.8h-6.8v-6.8zM1277.5,583v6.8h-6.8v-6.8zM1277.5,596.6v6.8h-6.8v-6.8zM1277.5,610.2v6.8h-6.8v-6.8zM1277.5,623.8v6.8h-6.8v-6.8zM1277.5,637.4v6.8h-6.8v-6.8zM1277.5,651v6.8h-6.8v-6.8zM1277.5,664.6v6.8h-6.8v-6.8zM1277.5,678.2v6.8h-6.8v-6.8zM1277.5,691.8v6.8h-6.8v-6.8zM1277.5,705.4v6.8h-6.8v-6.8zM1277.5,719v6.8h-6.8v-6.8zM1277.5,732.6v6.8h-6.8v-6.8zM1277.5,746.2v6.8h-6.8v-6.8zM1277.5,759.8v6.8h-6.8v-6.8zM1277.5,773.4v6.8h-6.8v-6.8zM1277.5,787v6.8h-6.8v-6.8zM1277.5,800.6v6.8h-6.8v-6.8zM1277.5,814.2v6.8h-6.8v-6.8zM1277.5,827.8v6.8h-6.8v-6.8zM1277.5,841.4v6.8h-6.8v-6.8zM1277.5,855v6.8h-6.8v-6.8zM1277.5,868.6v6.8h-6.8v-6.8zM1277.5,882.2v6.8h-6.8v-6.8zM1277.5,895.8v6.8h-6.8v-6.8zM1277.5,909.4v6.8h-6.8v-6.8zM1277.5,923v6.8h-6.8v-6.8zM1277.5,936.6v6.8h-6.8v-6.8zM1277.5,950.2v6.8h-6.8v-6.8zM1277.5,963.8v6.8h-6.8v-6.8zM1277.5,977.4v6.8h-6.8v-6.8zM1277.5,991v6.8h-6.8v-6.8zM1277.5,1004.6v6.8h-6.8v-6.8zM1277.5,1018.2v6.8h-6.8v-6.8zM1277.5,1031.8v6.8h-6.8v-6.8zM1277.5,1045.4v6.8h-6.8v-6.8zM1277.5,1059v6.8h-6.8v-6.8zM1277.5,1072.6v6.8h-6.8v-6.8zM1277.5,1086.2v6.8h-6.8v-6.8zM1277.5,1099.8v6.8h-6.8v-6.8zM1277.5,1113.4v6.8h-6.8v-6.8zM1277.5,1127v6.8h-6.8v-6.8zM1277.5,1140.6v6.8h-6.8v-6.8zM1277.5,1154.2v6.8h-6.8v-6.8zM1277.5,1167.8v6.8h-6.8v-6.8zM1277.5,1181.4v6.8h-6.8v-6.8zM1277.5,1195v6.8h-6.8v-6.8zM1277.5,1208.6v6.8h-6.8v-6.8zM1277.5,1222.2v6.8h-6.8v-6.8zM1277.5,1235.8v6.8h-6.8v-6.8zM1277.5,1249.4v6.8h-6.8v-6.8zM1277.5,1263v6.8h-6.8v-6.8zM1277.5,1276.6v6.8h-6.8v-6.8zM1277.5,1290.2v6.8h-6.8v-6.8zM1277.5,1303.8v6.8h-6.8v-6.8zM1277.5,1317.4v6.8h-6.8v-6.8zM1277.5,1331v6.8h-6.8v-6.8zM1277.5,1344.6v6.8h-6.8v-6.8zM1277.5,1358.2v6.8h-6.8v-6.8zM1277.5,1371.8v6.8h-6.8v-6.8zM1277.5,1385.4v6.8h-6.8v-6.8zM1277.5,1399v6.8h-6.8v-6.8zM1277.5,1412.6v6.8h-6.8v-6.8zM1277.5,1426.2v6.8h-6.8v-6.8zM1277.5,1439.8v6.8h-6.8v-6.8zM1277.5,1453.4v6.8h-6.8v-6.8zM1277.5,1467v6.8h-6.8v-6.8zM1277.5,1480.6v4h-6.8v-4z"/>
<path fill="#8E24A0" d="M321.4,701l6.4,7.4l7.9,10.1l7,9.7l-4.5,3.3l-6.9,-9.8l-7.6,-10l-6.2,-7.4zM360.1,755.6l7.3,13.7l6.7,13.6l-5.5,2.7l-6.6,-13.5l-7.2,-13.6zM385.9,810.3l5.3,14.1l4.5,13.2l-6.1,2.1l-4.5,-13.2l-5.2,-13.9zM404.1,865l2.8,10.1l4.4,17.1l-6.4,1.6l-4.3,-17l-2.8,-10.1zM417.4,919.6l1.3,6.3l4,20.9l-6.6,1.3l-3.9,-20.8l-1.3,-6.4zM427.2,974.2l4,27.2l-6.7,0.9l-3.9,-27.2zM434.6,1028.7l2.9,27.2l-6.7,0.7l-2.9,-27.2zM440,1083.2l2.4,27.2l-6.8,0.5l-2.3,-27.2zM444.2,1137.6l1.8,27.2l-6.7,0.5l-1.9,-27.2zM447.4,1192.1l1.2,27.2l-6.7,0.3l-1.3,-27.2zM449.9,1246.5l0.8,27.2l-6.7,0.2l-0.9,-27.2zM451.5,1300.9l0.7,27.2l-6.8,0.2l-0.7,-27.2zM453,1355.3l0.7,27.2l-6.8,0.2l-0.7,-27.2zM454,1409.8v27.2h-6.8v-27.2zM454.1,1464.2v20.4h-6.8v-20.4zM454.9,1484.6v-18.5h6.8v18.5zM455,1438.9v-27.2h6.8v27.2zM455.2,1384.4l0.7,-27.2l6.8,0.2l-0.8,27.2zM456.6,1330l0.8,-27.2l6.8,0.2l-0.8,27.2zM458.1,1275.6l0.7,-27.2l6.8,0.2l-0.7,27.2zM460,1221.1l1.3,-27.2l6.8,0.4l-1.3,27.2zM462.6,1166.7l1.6,-27.2l6.8,0.4l-1.7,27.2zM466,1112.3l0.7,-11.7l1.3,-15.6l6.8,0.6l-1.3,15.4l-0.8,11.7zM470.3,1057.8l2.7,-27.2l6.7,0.6l-2.7,27.2zM475.9,1003.3l3.4,-27.2l6.7,0.8l-3.4,27.2zM483.1,948.8l4.3,-27.2l6.7,1l-4.4,27.2zM492.3,894.3l1.9,-9.6l3.6,-17.7l6.5,1.4l-3.6,17.6l-1.8,9.5zM504.1,839.7l5.8,-22.7l1.2,-4.6l6.3,1.8l-1.2,4.4l-5.7,22.7zM519,785.1l6.6,-20.5l2.3,-6.7l6.1,2l-2.3,6.8l-6.5,20.4zM537.9,730.5l7.4,-18.2l3.8,-9l5.8,2.4l-3.8,9l-7.3,18.2zM561.7,675.9l7.2,-14.3l6.9,-12.9l5.3,2.8l-6.8,12.9l-7.1,14.3zM591.7,621.4l8.7,-14l8.9,-13.3l4.7,3.2l-8.8,13.2l-8.7,13.9zM629.2,566.8l10.6,-13.3l11.6,-13.9l4,3.4l-11.5,13.8l-10.5,13.4zM676.6,512.4l14.3,-14.3l12.8,-12.1l3.4,3.7l-12.8,11.9l-14.3,14.2zM731,462.3l14.6,-11.6l12.6,-9.4l3.2,4.3l-12.6,9.4l-14.5,11.5zM785.5,422.2l18.7,-12l8.5,-5.1l3,5l-8.4,5.1l-18.8,11.8zM840,389.6l19,-9.9l8.3,-4l2.7,5.5l-8.2,4l-19,9.7zM894.6,363l19.2,-8l8,-3.2l2.4,5.8l-8,3.2l-19.2,8zM949.2,341.6l23.4,-7.8l3.8,-1.2l2,6.2l-3.8,1.2l-23.4,7.7zM1003.8,324.6l23.6,-6.1l3.6,-0.9l1.6,6.4l-3.6,0.9l-23.6,6zM1058.4,311.5l23.8,-4.5l3.4,-0.6l1.2,6.6l-3.4,0.6l-23.8,4.5zM1113,302.2l24.1,-3l3.1,-0.3l0.8,6.7l-3.1,0.3l-24.1,3zM1167.6,296.4l24.3,-1.5l3,-0.2l0.3,6.8l-2.9,0.2l-24.3,1.5zM1222.2,293.9h24.6l2.7,0.1l-0.1,6.8l-2.7,-0.1h-24.5zM1276.8,294.8l24.8,1.5l2.5,0.2l-0.5,6.8l-2.4,-0.2l-24.8,-1.5zM1331.4,299.1l25.1,3l2.2,0.3l-1,6.7l-2.1,-0.3l-25,-3zM1386,306.7l25.3,4.8l2,0.4l-1.4,6.5l-1.9,-0.4l-25.2,-4.7zM1440.6,318l21.6,5.5l5.7,1.5l-1.8,6.3l-5.5,-1.5l-21.6,-5.4zM1495.2,333.1l21.9,7.1l5.4,1.9l-2.1,6.1l-5.4,-1.8l-21.8,-7.2zM1549.8,352.4l22.1,9.1l5.2,2.2l-2.5,5.8l-5.1,-2.2l-22.1,-9.1zM1604.4,376.4l18.4,9.3l8.8,4.7l-2.8,5.3l-8.8,-4.6l-18.4,-9.2zM1658.9,406l18.7,11.6l8.6,5.6l-3.1,4.8l-8.6,-5.5l-18.6,-11.5zM1713.4,442.4l15,11.4l12.3,9.8l-3.3,4.1l-12.3,-9.7l-14.9,-11.3zM1767.9,487.4l15.2,14.5l11.9,12l-3.4,3.4l-11.9,-11.9l-15.2,-14.4zM1820,541.1l10.3,12.4l11.8,14.9l-4.2,3.3l-11.7,-14.9l-10.2,-12.3zM1861.9,595.7l11.7,17.9l5.8,9.3l-4.9,3l-5.7,-9.2l-11.7,-17.9zM1895.2,650.2l9.9,19.2l4,8.1l-5.5,2.7l-3.9,-8.1l-9.9,-19.1zM1921.7,704.8l7.1,17l4,10.3l-5.9,2.3l-4,-10.2l-7,-17zM1942.7,759.4l5.7,17.2l3.1,10.1l-6.2,1.9l-3,-10l-5.7,-17.2zM1959.4,814l4.8,18.1l2.2,9.1l-6.5,1.6l-2.1,-9.1l-4.7,-18zM1972.6,868.5l3.3,16.2l2.1,11.1l-6.5,1.2l-2.1,-11l-3.3,-16.1zM1982.9,923.1l4.3,27.2l-6.6,1l-4.3,-27.2zM1991,977.6l3.4,27.2l-6.8,0.8l-3.3,-27.2zM1997.3,1032.1l2.6,27.2l-6.7,0.6l-2.6,-27.2zM2002.2,1086.5l1.2,14.1l0.8,13.2l-6.7,0.4l-0.9,-13.2l-1.1,-13.9zM2006,1141l1.6,27.2l-6.8,0.4l-1.6,-27.2zM2008.9,1195.5l1.2,27.2l-6.8,0.3l-1.2,-27.2zM2011.3,1249.9l0.7,27.2l-6.8,0.2l-0.7,-27.2zM2012.8,1304.3l0.7,27.2l-6.8,0.2l-0.7,-27.2zM2014.2,1358.7l0.8,27.2l-6.8,0.2l-0.7,-27.2zM2015.1,1413.2v27.2h-6.8v-27.2zM2015.2,1467.6v17h-6.8v-17zM2016,1484.6v-18.5h6.8v18.5zM2016.1,1438.9v-27.2h6.8v27.2zM2016.3,1384.4l0.8,-27.2l6.8,0.2l-0.8,27.2zM2017.8,1330l0.8,-27.2l6.7,0.2l-0.7,27.2zM2019.3,1275.6l0.8,-27.2l6.8,0.2l-0.8,27.2zM2021.4,1221.1l1.3,-27.2l6.7,0.4l-1.2,27.2zM2024,1166.7l1.8,-27.2l6.7,0.4l-1.8,27.2zM2027.6,1112.2l2.3,-27.2l6.7,0.6l-2.2,27.2zM2032.4,1057.7l2.9,-27.2l6.7,0.8l-2.9,27.2zM2038.7,1003.3l0.9,-6.9l3,-20.4l6.6,1l-2.9,20.3l-0.9,6.8zM2047.1,948.7l5.2,-27.2l6.6,1.2l-5.2,27.2zM2058.4,894.1l4.8,-19l2.3,-8.3l6.3,1.8l-2.3,8.2l-4.7,18.9zM2073.8,839.5l5.1,-15.1l4.6,-12.2l6,2.2l-4.5,12.1l-5.1,15zM2095.2,784.8l7.5,-15.5l6.3,-11.8l5.3,2.8l-6.2,11.8l-7.4,15.3zM2126.1,730.1l8.3,-11.6l7.9,-10.1l4.7,-5.6l4,3.4l-4.6,5.5l-7.6,10l-8.2,11.6z"/>
<path fill="#56B00C" d="M315.9,994.7l0.9,-21.2l7.1,0.3l-0.9,21.2zM323.9,973.5l0.3,6l-7.2,0.3l-0.2,-6zM324.5,986.3l0.6,13.6l-7.2,0.3l-0.6,-13.6zM325.4,1006.7l1.1,27.2l-7.1,0.3l-1.2,-27.2zM326.8,1040.7l0.2,3.6v10.1h-7.2v-10l-0.2,-3.4zM327,1061.2v27.2h-7.2v-27.2zM327,1095.2v13.6h-7.2v-13.6zM327,1115.6l0.1,27.2h-7.2l-0.1,-27.2zM327.1,1149.6v13.6h-7.2v-13.6zM327.1,1170v27.2h-7.2v-27.2zM327.1,1204v13.6h-7.2v-13.6zM327.1,1224.4v27.2h-7.2v-27.2zM327.1,1258.4v13.6h-7.2v-13.6zM327.1,1278.8l0.1,27.2h-7.2l-0.1,-27.2zM327.2,1312.8v13.6h-7.2v-13.6zM327.2,1333.2v27.2h-7.2v-27.2zM327.2,1367.2v13.6h-7.2v-13.6zM327.2,1387.6v27.2h-7.2v-27.2zM327.2,1421.6v13.6h-7.2v-13.6zM327.3,1442v27.2h-7.2v-27.2zM327.3,1476v8.6h-7.2v-8.6zM325.6,1484.6v-23.2h7.2v23.2zM325.6,1454.6v-13.6h7.2v13.6zM325.6,1434.2l0.1,-27.2h7.2l-0.1,27.2zM325.7,1400.2v-13.6h7.2v13.6zM325.7,1379.8v-27.2h7.2v27.2zM325.7,1345.8v-13.6h7.2v13.6zM325.7,1325.4v-27.2h7.2v27.2zM325.7,1291.4v-13.6h7.2v13.6zM325.7,1271l0.1,-27.2h7.2l-0.1,27.2zM325.8,1237v-13.6h7.2v13.6zM325.8,1216.6v-27.2h7.2v27.2zM325.8,1182.6v-13.6h7.2v13.6zM325.8,1162.2v-27.2h7.2v27.2zM325.8,1128.2v-13.6h7.2v13.6zM325.8,1107.8l0.1,-27.2h7.2l-0.1,27.2zM325.9,1073.8v-13.6h7.2v13.6zM325.9,1053.4v-10.8l0.7,-16.6l7.2,0.4l-0.7,16.3v10.7zM326.9,1019.2l0.5,-13.6l7.2,0.4l-0.5,13.6zM327.7,998.8l1.2,-27.2l7.2,0.4l-1.2,27.2zM336.4,975.4l0.5,13.6l-7.1,0.3l-0.6,-13.6zM337.2,995.8l1.2,27.2l-7.2,0.3l-1.1,-27.2zM338.7,1029.8l0.5,13.6l-7.2,0.2l-0.5,-13.6zM339.2,1050.3v27.2h-7.2v-27.2zM339.2,1084.3v13.6h-7.2v-13.6zM339.2,1104.7v27.2h-7.2v-27.2zM339.3,1138.7v13.6h-7.2v-13.6zM339.3,1159.1v27.2h-7.2v-27.2zM339.3,1193.1v13.6h-7.2v-13.6zM339.3,1213.5v27.2h-7.2v-27.2zM339.3,1247.5v13.6h-7.2v-13.6zM339.3,1267.9l0.1,27.2h-7.2l-0.1,-27.2zM339.4,1301.9v13.6h-7.2v-13.6zM339.4,1322.3v27.2h-7.2v-27.2zM339.4,1356.3v13.6h-7.2v-13.6zM339.4,1376.7v27.2h-7.2v-27.2zM339.4,1410.7v13.6h-7.2v-13.6zM339.4,1431.1l0.1,27.2h-7.2l-0.1,-27.2zM339.5,1465.1v13.6h-7.2v-13.6zM337.8,1484.6v-23.2h7.2v23.2zM337.8,1454.6v-13.6h7.2v13.6zM337.8,1434.2v-27.2h7.2v27.2zM337.9,1400.2v-13.6h7.2v13.6zM337.9,1379.8v-27.2h7.2v27.2zM337.9,1345.8v-13.6h7.2v13.6zM337.9,1325.4v-27.2h7.2v27.2zM337.9,1291.4v-13.6h7.2v13.6zM337.9,1271l0.1,-27.2h7.2l-0.1,27.2zM338,1237v-13.6h7.2v13.6zM338,1216.6v-27.2h7.2v27.2zM338,1182.6v-13.6h7.2v13.6zM338,1162.2v-27.2h7.2v27.2zM338,1128.2v-13.6h7.2v13.6zM338,1107.8l0.1,-27.2h7.2l-0.1,27.2zM338.1,1073.8v-13.6h7.2v13.6zM338.1,1053.4v-14.3l0.5,-13.1l7.2,0.4l-0.5,12.9v14.1zM338.9,1019.2l0.6,-13.6l7.2,0.4l-0.6,13.6zM339.8,998.8l1.1,-27.2l7.2,0.4l-1.1,27.2zM348.4,968.4l0.6,13.6l-7.2,0.3l-0.6,-13.6zM349.3,988.8l1.2,27.2l-7.2,0.3l-1.2,-27.2zM350.8,1022.8l0.5,13.6l-7.1,0.3l-0.6,-13.6zM351.4,1043.4v27.2h-7.2v-27.2zM351.4,1077.4v13.6h-7.2v-13.6zM351.4,1097.8v27.2h-7.2v-27.2zM351.4,1131.8l0.1,13.6h-7.2l-0.1,-13.6zM351.5,1152.2v27.2h-7.2v-27.2zM351.5,1186.2v13.6h-7.2v-13.6zM351.5,1206.6v27.2h-7.2v-27.2zM351.5,1240.6v13.6h-7.2v-13.6zM351.5,1261v27.2h-7.2v-27.2zM351.6,1295v13.6h-7.2v-13.6zM351.6,1315.4v27.2h-7.2v-27.2zM351.6,1349.4v13.6h-7.2v-13.6zM351.6,1369.8v27.2h-7.2v-27.2zM351.6,1403.8v13.6h-7.2v-13.6zM351.6,1424.2l0.1,27.2h-7.2l-0.1,-27.2zM351.7,1458.2v13.6h-7.2v-13.6zM351.7,1478.6v6h-7.2v-6zM350,1484.6v-23.2h7.2v23.2zM350,1454.6v-13.6h7.2v13.6zM350,1434.2v-27.2h7.2v27.2zM350,1400.2l0.1,-13.6h7.2l-0.1,13.6zM350.1,1379.8v-27.2h7.2v27.2zM350.1,1345.8v-13.6h7.2v13.6zM350.1,1325.4v-27.2h7.2v27.2zM350.1,1291.4v-13.6h7.2v13.6zM350.1,1271v-27.2h7.2v27.2zM350.2,1237v-13.6h7.2v13.6zM350.2,1216.6v-27.2h7.2v27.2zM350.2,1182.6v-13.6h7.2v13.6zM350.2,1162.2v-27.2h7.2v27.2zM350.2,1128.2v-13.6h7.2v13.6zM350.2,1107.8l0.1,-27.2h7.2l-0.1,27.2zM350.3,1073.8v-13.6h7.2v13.6zM350.3,1053.4v-17.8l0.4,-9.6l7.2,0.4l-0.4,9.4v17.6zM351,1019.2l0.5,-13.6l7.2,0.4l-0.5,13.6zM351.8,998.8l1.2,-27.2l7.2,0.4l-1.2,27.2zM353.3,964.8v-1.7l7.2,0.3v1.8zM360.5,963.1l0.5,11.9l-7.1,0.3l-0.6,-11.9zM361.3,981.8l1.2,27.2l-7.2,0.3l-1.2,-27.2zM362.8,1015.8l0.6,13.6l-7.2,0.3l-0.6,-13.6zM363.6,1036.3v27.2h-7.2v-27.2zM363.6,1070.3v13.6h-7.2v-13.6zM363.6,1090.7v27.2h-7.2v-27.2zM363.6,1124.7v13.6h-7.2v-13.6zM363.7,1145.1v27.2h-7.2v-27.2zM363.7,1179.1v13.6h-7.2v-13.6zM363.7,1199.5v27.2h-7.2v-27.2zM363.7,1233.5v13.6h-7.2v-13.6zM363.7,1253.9v27.2h-7.2v-27.2zM363.7,1287.9l0.1,13.6h-7.2l-0.1,-13.6zM363.8,1308.3v27.2h-7.2v-27.2zM363.8,1342.3v13.6h-7.2v-13.6zM363.8,1362.7v27.2h-7.2v-27.2zM363.8,1396.7v13.6h-7.2v-13.6zM363.8,1417.1v27.2h-7.2v-27.2zM363.9,1451.1v13.6h-7.2v-13.6zM363.9,1471.5v13.1h-7.2v-13.1zM362.2,1484.6v-23.2h7.2v23.2zM362.2,1454.6v-13.6h7.2v13.6zM362.2,1434.2v-27.2h7.2v27.2zM362.2,1400.2l0.1,-13.6h7.2l-0.1,13.6zM362.3,1379.8v-27.2h7.2v27.2zM362.3,1345.8v-13.6h7.2v13.6zM362.3,1325.4v-27.2h7.2v27.2zM362.3,1291.4v-13.6h7.2v13.6zM362.3,1271v-27.2h7.2v27.2zM362.3,1237l0.1,-13.6h7.2l-0.1,13.6zM362.4,1216.6v-27.2h7.2v27.2zM362.4,1182.6v-13.6h7.2v13.6zM362.4,1162.2v-27.2h7.2v27.2zM362.4,1128.2v-13.6h7.2v13.6zM362.4,1107.8v-27.2h7.2v27.2zM362.5,1073.8v-13.6h7.2v13.6zM362.5,1053.4v-21.4l0.2,-6l7.2,0.4l-0.2,5.8v21.2zM363,1019.2l0.6,-13.6l7.2,0.4l-0.6,13.6zM363.9,998.8l1.1,-27.2l7.2,0.4l-1.1,27.2zM365.3,964.8l0.2,-5.3l7.2,0.3l-0.2,5.4zM372.7,959.5l0.4,8.2l-7.2,0.3l-0.4,-8.2zM373.4,974.5l1.1,27.2l-7.1,0.3l-1.2,-27.2zM374.8,1008.5l0.6,13.6l-7.2,0.3l-0.5,-13.6zM375.7,1029.1l0.1,27.2h-7.2l-0.1,-27.2zM375.8,1063.1v13.6h-7.2v-13.6zM375.8,1083.5v27.2h-7.2v-27.2zM375.8,1117.5v13.6h-7.2v-13.6zM375.8,1137.9l0.1,27.2h-7.2l-0.1,-27.2zM375.9,1171.9v13.6h-7.2v-13.6zM375.9,1192.3v27.2h-7.2v-27.2zM375.9,1226.3v13.6h-7.2v-13.6zM375.9,1246.7v27.2h-7.2v-27.2zM375.9,1280.7v13.6h-7.2v-13.6zM376,1301.1v27.2h-7.2v-27.2zM376,1335.1v13.6h-7.2v-13.6zM376,1355.5v27.2h-7.2v-27.2zM376,1389.5v13.6h-7.2v-13.6zM376,1409.9v27.2h-7.2v-27.2zM376,1443.9l0.1,13.6h-7.2l-0.1,-13.6zM376.1,1464.3v20.3h-7.2v-20.3zM374.4,1484.6v-23.2h7.2v23.2zM374.4,1454.6v-13.6h7.2v13.6zM374.4,1434.2v-27.2h7.2v27.2zM374.4,1400.2v-13.6h7.2v13.6zM374.4,1379.8l0.1,-27.2h7.2l-0.1,27.2zM374.5,1345.8v-13.6h7.2v13.6zM374.5,1325.4v-27.2h7.2v27.2zM374.5,1291.4v-13.6h7.2v13.6zM374.5,1271v-27.2h7.2v27.2zM374.5,1237v-13.6h7.2v13.6zM374.6,1216.6v-27.2h7.2v27.2zM374.6,1182.6v-13.6h7.2v13.6zM374.6,1162.2v-27.2h7.2v27.2zM374.6,1128.2v-13.6h7.2v13.6zM374.6,1107.8v-27.2h7.2v27.2zM374.6,1073.8l0.1,-13.6h7.2l-0.1,13.6zM374.7,1053.4l0.1,-27.2h7.2l-0.1,27.2zM375.1,1019.2l0.5,-13.6l7.2,0.4l-0.6,13.6zM375.9,998.8l1.2,-27.2l7.2,0.4l-1.2,27.2zM377.4,964.8l0.3,-9l7.2,0.3l-0.4,9.1zM384.9,955.8l0.2,4.6l-7.2,0.3l-0.2,-4.6zM385.4,967.2l1.2,27.2l-7.2,0.3l-1.2,-27.2zM386.9,1001.2l0.6,13.6l-7.2,0.3l-0.6,-13.6zM387.8,1021.6l0.2,4.9v22.4h-7.2v-22.3l-0.2,-4.7zM388,1055.7v13.6h-7.2v-13.6zM388,1076.1v27.2h-7.2v-27.2zM388,1110.1v13.6h-7.2v-13.6zM388,1130.5l0.1,27.2h-7.2l-0.1,-27.2zM388.1,1164.5v13.6h-7.2v-13.6zM388.1,1184.9v27.2h-7.2v-27.2zM388.1,1218.9v13.6h-7.2v-13.6zM388.1,1239.3v27.2h-7.2v-27.2zM388.1,1273.3v13.6h-7.2v-13.6zM388.1,1293.7l0.1,27.2h-7.2l-0.1,-27.2zM388.2,1327.7v13.6h-7.2v-13.6zM388.2,1348.1v27.2h-7.2v-27.2zM388.2,1382.1v13.6h-7.2v-13.6zM388.2,1402.5v27.2h-7.2v-27.2zM388.2,1436.5v13.6h-7.2v-13.6zM388.3,1456.9v27.2h-7.2v-27.2zM386.6,1484.6v-23.2h7.2v23.2zM386.6,1454.6v-13.6h7.2v13.6zM386.6,1434.2v-27.2h7.2v27.2zM386.6,1400.2v-13.6h7.2v13.6zM386.6,1379.8l0.1,-27.2h7.2l-0.1,27.2zM386.7,1345.8v-13.6h7.2v13.6zM386.7,1325.4v-27.2h7.2v27.2zM386.7,1291.4v-13.6h7.2v13.6zM386.7,1271v-27.2h7.2v27.2zM386.7,1237v-13.6h7.2v13.6zM386.7,1216.6l0.1,-27.2h7.2l-0.1,27.2zM386.8,1182.6v-13.6h7.2v13.6zM386.8,1162.2v-27.2h7.2v27.2zM386.8,1128.2v-13.6h7.2v13.6zM386.8,1107.8v-27.2h7.2v27.2zM386.8,1073.8v-13.6h7.2v13.6zM386.9,1053.4v-27.2h7.2v27.2zM387.1,1019.2l0.6,-13.6l7.2,0.4l-0.6,13.6zM388,998.8l1.1,-27.2l7.2,0.4l-1.2,27.2zM389.4,964.8l0.5,-12.8l7.2,0.3l-0.5,12.9zM397.1,952v0.8l-7.1,0.3l-0.1,-0.8zM397.4,959.6l1.2,27.2l-7.2,0.3l-1.1,-27.2zM398.9,993.6l0.6,13.6l-7.2,0.3l-0.6,-13.6zM399.8,1014l0.4,8.7v18.7h-7.2v-18.5l-0.4,-8.6zM400.2,1048.2v13.6h-7.2v-13.6zM400.2,1068.6v27.2h-7.2v-27.2zM400.2,1102.6v13.6h-7.2v-13.6zM400.2,1123l0.1,27.2h-7.2l-0.1,-27.2zM400.3,1157v13.6h-7.2v-13.6zM400.3,1177.4v27.2h-7.2v-27.2zM400.3,1211.4v13.6h-7.2v-13.6zM400.3,1231.8v27.2h-7.2v-27.2zM400.3,1265.8v13.6h-7.2v-13.6zM400.3,1286.2l0.1,27.2h-7.2l-0.1,-27.2zM400.4,1320.2v13.6h-7.2v-13.6zM400.4,1340.6v27.2h-7.2v-27.2zM400.4,1374.6v13.6h-7.2v-13.6zM400.4,1395v27.2h-7.2v-27.2zM400.4,1429v13.6h-7.2v-13.6zM400.4,1449.4l0.1,27.2h-7.2l-0.1,-27.2zM400.5,1483.4v1.2h-7.2v-1.2zM398.8,1484.6v-23.2h7.2v23.2zM398.8,1454.6v-13.6h7.2v13.6zM398.8,1434.2v-27.2h7.2v27.2zM398.8,1400.2v-13.6h7.2v13.6zM398.8,1379.8l0.1,-27.2h7.2l-0.1,27.2zM398.9,1345.8v-13.6h7.2v13.6zM398.9,1325.4v-27.2h7.2v27.2zM398.9,1291.4v-13.6h7.2v13.6zM398.9,1271v-27.2h7.2v27.2zM398.9,1237v-13.6h7.2v13.6zM398.9,1216.6l0.1,-27.2h7.2l-0.1,27.2zM399,1182.6v-13.6h7.2v13.6zM399,1162.2v-27.2h7.2v27.2zM399,1128.2v-13.6h7.2v13.6zM399,1107.8v-27.2h7.2v27.2zM399,1073.8v-13.6h7.2v13.6zM399,1053.4l0.1,-27.2h7.2l-0.1,27.2zM399.1,1019.2l0.6,-13.6l7.2,0.4l-0.6,13.6zM400,998.8l1.1,-27.2l7.2,0.4l-1.1,27.2zM401.4,964.8l0.6,-13.6l7.2,0.4l-0.6,13.6zM409.5,951.9l1.1,27.2l-7.1,0.3l-1.2,-27.2zM410.9,985.9l0.6,13.6l-7.2,0.3l-0.5,-13.6zM411.8,1006.3l0.6,12.5v14.9h-7.2v-14.7l-0.6,-12.4zM412.4,1040.5v13.6h-7.2v-13.6zM412.4,1060.9v27.2h-7.2v-27.2zM412.4,1094.9v13.6h-7.2v-13.6zM412.4,1115.3v27.2h-7.2v-27.2zM412.4,1149.3l0.1,13.6h-7.2l-0.1,-13.6zM412.5,1169.7v27.2h-7.2v-27.2zM412.5,1203.7v13.6h-7.2v-13.6zM412.5,1224.1v27.2h-7.2v-27.2zM412.5,1258.1v13.6h-7.2v-13.6zM412.5,1278.5l0.1,27.2h-7.2l-0.1,-27.2zM412.6,1312.5v13.6h-7.2v-13.6zM412.6,1332.9v27.2h-7.2v-27.2zM412.6,1366.9v13.6h-7.2v-13.6zM412.6,1387.3v27.2h-7.2v-27.2zM412.6,1421.3v13.6h-7.2v-13.6zM412.6,1441.7l0.1,27.2h-7.2l-0.1,-27.2zM412.7,1475.7v8.9h-7.2v-8.9zM411,1484.6v-23.2h7.2v23.2zM411,1454.6v-13.6h7.2v13.6zM411,1434.2v-27.2h7.2v27.2zM411,1400.2v-13.6h7.2v13.6zM411,1379.8v-27.2h7.2v27.2zM411.1,1345.8v-13.6h7.2v13.6zM411.1,1325.4v-27.2h7.2v27.2zM411.1,1291.4v-13.6h7.2v13.6zM411.1,1271v-27.2h7.2v27.2zM411.1,1237v-13.6h7.2v13.6zM411.1,1216.6l0.1,-27.2h7.2l-0.1,27.2zM411.2,1182.6v-13.6h7.2v13.6zM411.2,1162.2v-27.2h7.2v27.2zM411.2,1128.2v-13.6h7.2v13.6zM411.2,1107.8v-27.2h7.2v27.2zM411.2,1073.8v-13.6h7.2v13.6zM411.2,1053.4l0.1,-27.2h7.2l-0.1,27.2zM411.3,1019.3l0.4,-13.6l7.2,0.2l-0.4,13.6zM412,998.8l1.2,-27.2l7.2,0.4l-1.2,27.2zM413.5,964.8l0.5,-13.6l7.2,0.4l-0.6,13.6zM414.3,944.4v-0.2l7.2,0.3v0.3zM421.5,944.2l1.2,27l-7.2,0.3l-1.2,-27zM423,978l0.6,13.6l-7.2,0.3l-0.6,-13.6zM423.8,998.4l0.8,16.5v10.9h-7.2v-10.8l-0.7,-16.3zM424.6,1032.6v13.6h-7.2v-13.6zM424.6,1053v27.2h-7.2v-27.2zM424.6,1087v13.6h-7.2v-13.6zM424.6,1107.4v27.2h-7.2v-27.2zM424.6,1141.4l0.1,13.6h-7.2l-0.1,-13.6zM424.7,1161.8v27.2h-7.2v-27.2zM424.7,1195.8v13.6h-7.2v-13.6zM424.7,1216.2v27.2h-7.2v-27.2zM424.7,1250.2v13.6h-7.2v-13.6zM424.7,1270.6v27.2h-7.2v-27.2zM424.7,1304.6l0.1,13.6h-7.2l-0.1,-13.6zM424.8,1325v27.2h-7.2v-27.2zM424.8,1359v13.6h-7.2v-13.6zM424.8,1379.4v27.2h-7.2v-27.2zM424.8,1413.4v13.6h-7.2v-13.6zM424.8,1433.8v27.2h-7.2v-27.2zM424.9,1467.8v13.6h-7.2v-13.6zM423.2,1484.6v-23.2h7.2v23.2zM423.2,1454.6v-13.6h7.2v13.6zM423.2,1434.2v-27.2h7.2v27.2zM423.2,1400.2v-13.6h7.2v13.6zM423.2,1379.8v-27.2h7.2v27.2zM423.2,1345.8l0.1,-13.6h7.2l-0.1,13.6zM423.3,1325.4v-27.2h7.2v27.2zM423.3,1291.4v-13.6h7.2v13.6zM423.3,1271v-27.2h7.2v27.2zM423.3,1237v-13.6h7.2v13.6zM423.3,1216.6v-27.2h7.2v27.2zM423.4,1182.6v-13.6h7.2v13.6zM423.4,1162.2v-27.2h7.2v27.2zM423.4,1128.2v-13.6h7.2v13.6zM423.4,1107.8v-27.2h7.2v27.2zM423.4,1073.8v-13.6h7.2v13.6zM423.4,1053.4l0.1,-27.2h7.2l-0.1,27.2zM423.5,1019.4v-6.6l0.3,-7.2l7.2,0.4l-0.3,7v6.4zM424.1,998.8l1.1,-27.2l7.2,0.4l-1.2,27.2zM425.5,964.8l0.6,-13.6l7.1,0.4l-0.5,13.6zM426.3,944.4l0.2,-4.2l7.2,0.3l-0.2,4.3zM433.7,940.2l1,22.9l-7.2,0.4l-1,-23zM435,969.9l0.6,13.6l-7.2,0.4l-0.6,-13.6zM435.9,990.3l0.9,20.5v6.9h-7.2v-6.7l-0.9,-20.3zM436.8,1024.5v13.6h-7.2v-13.6zM436.8,1044.9v27.2h-7.2v-27.2zM436.8,1078.9v13.6h-7.2v-13.6zM436.8,1099.3v27.2h-7.2v-27.2zM436.8,1133.3v13.6h-7.2v-13.6zM436.8,1153.7l0.1,27.2h-7.2l-0.1,-27.2zM436.9,1187.7v13.6h-7.2v-13.6zM436.9,1208.1v27.2h-7.2v-27.2zM436.9,1242.1v13.6h-7.2v-13.6zM436.9,1262.5v27.2h-7.2v-27.2zM436.9,1296.5v13.6h-7.2v-13.6zM437,1316.9v27.2h-7.2v-27.2zM437,1350.9v13.6h-7.2v-13.6zM437,1371.3v27.2h-7.2v-27.2zM437,1405.3v13.6h-7.2v-13.6zM437,1425.7v27.2h-7.2v-27.2zM437,1459.7l0.1,13.6h-7.2l-0.1,-13.6zM437.1,1480.1v4.5h-7.2v-4.5zM435.4,1484.6v-23.2h7.2v23.2zM435.4,1454.6v-13.6h7.2v13.6zM435.4,1434.2v-27.2h7.2v27.2zM435.4,1400.2v-13.6h7.2v13.6zM435.4,1379.8v-27.2h7.2v27.2zM435.4,1345.8v-13.6h7.2v13.6zM435.5,1325.4v-27.2h7.2v27.2zM435.5,1291.4v-13.6h7.2v13.6zM435.5,1271v-27.2h7.2v27.2zM435.5,1237v-13.6h7.2v13.6zM435.5,1216.6v-27.2h7.2v27.2zM435.5,1182.6l0.1,-13.6h7.2l-0.1,13.6zM435.6,1162.2v-27.2h7.2v27.2zM435.6,1128.2v-13.6h7.2v13.6zM435.6,1107.8v-27.2h7.2v27.2zM435.6,1073.8v-13.6h7.2v13.6zM435.6,1053.4v-27.2h7.2v27.2zM435.6,1019.4l0.2,-13.6h7.2l-0.2,13.6zM436.1,998.8l1.1,-27.2l7.2,0.4l-1.1,27.2zM437.5,964.8l0.6,-13.6l7.2,0.4l-0.6,13.6zM438.4,944.4l0.3,-8.3l7.2,0.3l-0.4,8.4zM445.9,936.1l0.8,18.8l-7.2,0.3l-0.8,-18.8zM447,961.7l0.6,13.6l-7.2,0.3l-0.6,-13.6zM447.9,982.1l1.1,24.5v2.8h-7.2v-2.6l-1.1,-24.4zM449,1016.2v13.6h-7.2v-13.6zM449,1036.6v27.2h-7.2v-27.2zM449,1070.6v13.6h-7.2v-13.6zM449,1091v27.2h-7.2v-27.2zM449,1125v13.6h-7.2v-13.6zM449,1145.4l0.1,27.2h-7.2l-0.1,-27.2zM449.1,1179.4v13.6h-7.2v-13.6zM449.1,1199.8v27.2h-7.2v-27.2zM449.1,1233.8v13.6h-7.2v-13.6zM449.1,1254.2v27.2h-7.2v-27.2zM449.1,1288.2v13.6h-7.2v-13.6zM449.1,1308.6l0.1,27.2h-7.2l-0.1,-27.2zM449.2,1342.6v13.6h-7.2v-13.6zM449.2,1363v27.2h-7.2v-27.2zM449.2,1397v13.6h-7.2v-13.6zM449.2,1417.4v27.2h-7.2v-27.2zM449.2,1451.4v13.6h-7.2v-13.6zM449.3,1471.8v12.8h-7.2v-12.8zM447.5,1484.6l0.1,-23.2h7.2l-0.1,23.2zM447.6,1454.6v-13.6h7.2v13.6zM447.6,1434.2v-27.2h7.2v27.2zM447.6,1400.2v-13.6h7.2v13.6zM447.6,1379.8v-27.2h7.2v27.2zM447.6,1345.8v-13.6h7.2v13.6zM447.6,1325.4l0.1,-27.2h7.2l-0.1,27.2zM447.7,1291.4v-13.6h7.2v13.6zM447.7,1271v-27.2h7.2v27.2zM447.7,1237v-13.6h7.2v13.6zM447.7,1216.6v-27.2h7.2v27.2zM447.7,1182.6v-13.6h7.2v13.6zM447.8,1162.2v-27.2h7.2v27.2zM447.8,1128.2v-13.6h7.2v13.6zM447.8,1107.8v-27.2h7.2v27.2zM447.8,1073.8v-13.6h7.2v13.6zM447.8,1053.4v-27.2h7.2v27.2zM447.8,1019.4l0.1,-13.6h7.2l-0.1,13.6zM448.1,998.8l1.1,-27.2l7.2,0.4l-1.1,27.2zM449.5,964.8l0.6,-13.6l7.2,0.4l-0.6,13.6zM450.4,944.4l0.5,-12.6l7.2,0.3l-0.5,12.7zM458.1,931.8l0.6,14.6l-7.2,0.3l-0.6,-14.6zM459,953.2l0.6,13.6l-7.2,0.3l-0.6,-13.6zM459.9,973.6l1.2,27.2l-7.2,0.3l-1.2,-27.2zM461.2,1007.7v13.6h-7.2v-13.6zM461.2,1028.1v27.2h-7.2v-27.2zM461.2,1062.1v13.6h-7.2v-13.6zM461.2,1082.5v27.2h-7.2v-27.2zM461.2,1116.5v13.6h-7.2v-13.6zM461.2,1136.9l0.1,27.2h-7.2l-0.1,-27.2zM461.3,1170.9v13.6h-7.2v-13.6zM461.3,1191.3v27.2h-7.2v-27.2zM461.3,1225.3v13.6h-7.2v-13.6zM461.3,1245.7v27.2h-7.2v-27.2zM461.3,1279.7v13.6h-7.2v-13.6zM461.3,1300.1l0.1,27.2h-7.2l-0.1,-27.2zM461.4,1334.1v13.6h-7.2v-13.6zM461.4,1354.5v27.2h-7.2v-27.2zM461.4,1388.5v13.6h-7.2v-13.6zM461.4,1408.9v27.2h-7.2v-27.2zM461.4,1442.9v13.6h-7.2v-13.6zM461.4,1463.3l0.1,21.3h-7.2l-0.1,-21.3zM459.7,1484.6l0.1,-23.2h7.2l-0.1,23.2zM459.8,1454.6v-13.6h7.2v13.6zM459.8,1434.2v-27.2h7.2v27.2zM459.8,1400.2v-13.6h7.2v13.6zM459.8,1379.8v-27.2h7.2v27.2zM459.8,1345.8v-13.6h7.2v13.6zM459.8,1325.4l0.1,-27.2h7.2l-0.1,27.2zM459.9,1291.4v-13.6h7.2v13.6zM459.9,1271v-27.2h7.2v27.2zM459.9,1237v-13.6h7.2v13.6zM459.9,1216.6v-27.2h7.2v27.2zM459.9,1182.6v-13.6h7.2v13.6zM459.9,1162.2l0.1,-27.2h7.2l-0.1,27.2zM460,1128.2v-13.6h7.2v13.6zM460,1107.8v-27.2h7.2v27.2zM460,1073.8v-13.6h7.2v13.6zM460,1053.4v-27.2h7.2v27.2zM460,1019.4v-13.6h7.2v13.6zM460.1,998.8l1.1,-27.2l7.2,0.4l-1.1,27.2zM461.5,964.8l0.6,-13.6l7.2,0.4l-0.6,13.6zM462.4,944.4l0.7,-16.9l7.2,0.3l-0.7,17zM470.3,927.5l0.4,10.2l-7.2,0.3l-0.4,-10.2zM471,944.5l0.6,13.6l-7.2,0.3l-0.6,-13.6zM471.9,964.9l1.2,27.2l-7.2,0.3l-1.2,-27.2zM473.3,999l0.1,13.6h-7.2l-0.1,-13.6zM473.4,1019.4v27.2h-7.2v-27.2zM473.4,1053.4v13.6h-7.2v-13.6zM473.4,1073.8v27.2h-7.2v-27.2zM473.4,1107.8v13.6h-7.2v-13.6zM473.4,1128.2v27.2h-7.2v-27.2zM473.5,1162.2v13.6h-7.2v-13.6zM473.5,1182.6v27.2h-7.2v-27.2zM473.5,1216.6v13.6h-7.2v-13.6zM473.5,1237v27.2h-7.2v-27.2zM473.5,1271v13.6h-7.2v-13.6zM473.5,1291.4l0.1,27.2h-7.2l-0.1,-27.2zM473.6,1325.4v13.6h-7.2v-13.6zM473.6,1345.8v27.2h-7.2v-27.2zM473.6,1379.8v13.6h-7.2v-13.6zM473.6,1400.2v27.2h-7.2v-27.2zM473.6,1434.2v13.6h-7.2v-13.6zM473.6,1454.6l0.1,27.2h-7.2l-0.1,-27.2zM471.9,1484.6v-23.2h7.2v23.2zM472,1454.6v-13.6h7.2v13.6zM472,1434.2v-27.2h7.2v27.2zM472,1400.2v-13.6h7.2v13.6zM472,1379.8v-27.2h7.2v27.2zM472,1345.8v-13.6h7.2v13.6zM472,1325.4l0.1,-27.2h7.2l-0.1,27.2zM472.1,1291.4v-13.6h7.2v13.6zM472.1,1271v-27.2h7.2v27.2zM472.1,1237v-13.6h7.2v13.6zM472.1,1216.6v-27.2h7.2v27.2zM472.1,1182.6v-13.6h7.2v13.6zM472.1,1162.2l0.1,-27.2h7.2l-0.1,27.2zM472.2,1128.2v-13.6h7.2v13.6zM472.2,1107.8v-27.2h7.2v27.2zM472.2,1073.8v-13.6h7.2v13.6zM472.2,1053.4v-27.2h7.2v27.2zM472.2,1019.4v-13.6h7.2v13.6zM472.2,999v-3.3l1.1,-24.1l7.1,0.4l-1,23.9v3.1zM473.5,964.8l0.6,-13.6l7.2,0.4l-0.6,13.6zM474.4,944.4l0.9,-21.4l7.2,0.3l-0.9,21.5zM482.5,923l0.2,5.7l-7.2,0.3l-0.2,-5.7zM483,935.5l0.6,13.6l-7.2,0.3l-0.6,-13.6zM483.9,955.9l1.2,27.2l-7.2,0.3l-1.2,-27.2zM485.4,989.9l0.1,3.6v10.2h-7.2v-10.1l-0.1,-3.4zM485.6,1010.5v27.2h-7.2v-27.2zM485.6,1044.5v13.6h-7.2v-13.6zM485.6,1064.9v27.2h-7.2v-27.2zM485.6,1098.9v13.6h-7.2v-13.6zM485.6,1119.3v27.2h-7.2v-27.2zM485.6,1153.3l0.1,13.6h-7.2l-0.1,-13.6zM485.7,1173.7v27.2h-7.2v-27.2zM485.7,1207.7v13.6h-7.2v-13.6zM485.7,1228.1v27.2h-7.2v-27.2zM485.7,1262.1v13.6h-7.2v-13.6zM485.7,1282.5v27.2h-7.2v-27.2zM485.7,1316.5l0.1,13.6h-7.2l-0.1,-13.6zM485.8,1336.9v27.2h-7.2v-27.2zM485.8,1370.9v13.6h-7.2v-13.6zM485.8,1391.3v27.2h-7.2v-27.2zM485.8,1425.3v13.6h-7.2v-13.6zM485.8,1445.7v27.2h-7.2v-27.2zM485.9,1479.7v4.9h-7.2v-4.9zM484.1,1484.6v-23.2h7.2v23.2zM484.1,1454.6l0.1,-13.6h7.2l-0.1,13.6zM484.2,1434.2v-27.2h7.2v27.2zM484.2,1400.2v-13.6h7.2v13.6zM484.2,1379.8v-27.2h7.2v27.2zM484.2,1345.8v-13.6h7.2v13.6zM484.2,1325.4v-27.2h7.2v27.2zM484.2,1291.4l0.1,-13.6h7.2l-0.1,13.6zM484.3,1271v-27.2h7.2v27.2zM484.3,1237v-13.6h7.2v13.6zM484.3,1216.6v-27.2h7.2v27.2zM484.3,1182.6v-13.6h7.2v13.6zM484.3,1162.2v-27.2h7.2v27.2zM484.4,1128.2v-13.6h7.2v13.6zM484.4,1107.8v-27.2h7.2v27.2zM484.4,1073.8v-13.6h7.2v13.6zM484.4,1053.4v-27.2h7.2v27.2zM484.4,1019.4v-13.6h7.2v13.6zM484.4,999v-7.8l0.9,-19.6l7.1,0.4l-0.8,19.3v7.7zM485.5,964.8l0.6,-13.6l7.2,0.4l-0.6,13.6zM486.4,944.4l1.1,-26l7.2,0.3l-1.1,26.1zM494.7,918.4v1.1l-7.2,0.3v-1.1zM495,926.3l0.6,13.6l-7.2,0.3l-0.6,-13.6zM495.9,946.7l1.2,27.2l-7.2,0.3l-1.2,-27.2zM497.4,980.7l0.3,8.1v5.7h-7.2v-5.5l-0.3,-8zM497.7,1001.3l0.1,27.2h-7.2l-0.1,-27.2zM497.8,1035.3v13.6h-7.2v-13.6zM497.8,1055.7v27.2h-7.2v-27.2zM497.8,1089.7v13.6h-7.2v-13.6zM497.8,1110.1v27.2h-7.2v-27.2zM497.8,1144.1v13.6h-7.2v-13.6zM497.9,1164.5v27.2h-7.2v-27.2zM497.9,1198.5v13.6h-7.2v-13.6zM497.9,1218.9v27.2h-7.2v-27.2zM497.9,1252.9v13.6h-7.2v-13.6zM497.9,1273.3v27.2h-7.2v-27.2zM497.9,1307.3l0.1,13.6h-7.2l-0.1,-13.6zM498,1327.7v27.2h-7.2v-27.2zM498,1361.7v13.6h-7.2v-13.6zM498,1382.1v27.2h-7.2v-27.2zM498,1416.1v13.6h-7.2v-13.6zM498,1436.5v27.2h-7.2v-27.2zM498,1470.5l0.1,13.6h-7.2l-0.1,-13.6zM496.3,1484.6v-23.2h7.2v23.2zM496.3,1454.6v-13.6h7.2v13.6zM496.4,1434.2v-27.2h7.2v27.2zM496.4,1400.2v-13.6h7.2v13.6zM496.4,1379.8v-27.2h7.2v27.2zM496.4,1345.8v-13.6h7.2v13.6zM496.4,1325.4v-27.2h7.2v27.2zM496.4,1291.4l0.1,-13.6h7.2l-0.1,13.6zM496.5,1271v-27.2h7.2v27.2zM496.5,1237v-13.6h7.2v13.6zM496.5,1216.6v-27.2h7.2v27.2zM496.5,1182.6v-13.6h7.2v13.6zM496.5,1162.2v-27.2h7.2v27.2zM496.5,1128.2l0.1,-13.6h7.2l-0.1,13.6zM496.6,1107.8v-27.2h7.2v27.2zM496.6,1073.8v-13.6h7.2v13.6zM496.6,1053.4v-27.2h7.2v27.2zM496.6,1019.4v-13.6h7.2v13.6zM496.6,999v-12.5l0.7,-14.9l7.1,0.4l-0.6,14.6v12.4zM497.5,964.8l0.6,-13.6l7.2,0.4l-0.6,13.6zM498.4,944.4l1.1,-27.2l7.2,0.4l-1.1,27.2zM507,916.8l0.6,13.6l-7.2,0.3l-0.6,-13.6zM507.9,937.2l1.2,27.2l-7.2,0.3l-1.2,-27.2zM509.4,971.2l0.5,13.6l-7.2,0.3l-0.5,-13.6zM509.9,991.8l0.1,27.2h-7.2l-0.1,-27.2zM510,1025.8v13.6h-7.2v-13.6zM510,1046.2v27.2h-7.2v-27.2zM510,1080.2v13.6h-7.2v-13.6zM510,1100.6v27.2h-7.2v-27.2zM510,1134.6v13.6h-7.2v-13.6zM510,1155l0.1,27.2h-7.2l-0.1,-27.2zM510.1,1189v13.6h-7.2v-13.6zM510.1,1209.4v27.2h-7.2v-27.2zM510.1,1243.4v13.6h-7.2v-13.6zM510.1,1263.8v27.2h-7.2v-27.2zM510.1,1297.8v13.6h-7.2v-13.6zM510.1,1318.2l0.1,27.2h-7.2l-0.1,-27.2zM510.2,1352.2v13.6h-7.2v-13.6zM510.2,1372.6v27.2h-7.2v-27.2zM510.2,1406.6v13.6h-7.2v-13.6zM510.2,1427v27.2h-7.2v-27.2zM510.2,1461v13.6h-7.2v-13.6zM510.3,1481.4v3.2h-7.2v-3.2zM508.5,1484.6v-23.2h7.2v23.2zM508.5,1454.6v-13.6h7.2v13.6zM508.5,1434.2l0.1,-27.2h7.2l-0.1,27.2zM508.6,1400.2v-13.6h7.2v13.6zM508.6,1379.8v-27.2h7.2v27.2zM508.6,1345.8v-13.6h7.2v13.6zM508.6,1325.4v-27.2h7.2v27.2zM508.6,1291.4v-13.6h7.2v13.6zM508.6,1271l0.1,-27.2h7.2l-0.1,27.2zM508.7,1237v-13.6h7.2v13.6zM508.7,1216.6v-27.2h7.2v27.2zM508.7,1182.6v-13.6h7.2v13.6zM508.7,1162.2v-27.2h7.2v27.2zM508.7,1128.2v-13.6h7.2v13.6zM508.8,1107.8v-27.2h7.2v27.2zM508.8,1073.8v-13.6h7.2v13.6zM508.8,1053.4v-27.2h7.2v27.2zM508.8,1019.4v-13.6h7.2v13.6zM508.8,999v-17.4l0.5,-10l7.1,0.4l-0.4,9.8v17.2zM509.5,964.8l0.6,-13.6l7.2,0.4l-0.6,13.6zM510.4,944.4l1.1,-27.2l7.2,0.4l-1.1,27.2zM511.8,910.4l0.1,-1.6l7.2,0.3l-0.1,1.7zM519.1,908.8l0.5,11.9l-7.2,0.3l-0.5,-11.9zM519.9,927.5l1.2,27.2l-7.2,0.3l-1.2,-27.2zM521.4,961.5l0.6,13.6l-7.2,0.3l-0.6,-13.6zM522.1,982v27.2h-7.2v-27.2zM522.2,1016v13.6h-7.2v-13.6zM522.2,1036.4v27.2h-7.2v-27.2zM522.2,1070.4v13.6h-7.2v-13.6zM522.2,1090.8v27.2h-7.2v-27.2zM522.2,1124.8v13.6h-7.2v-13.6zM522.2,1145.2l0.1,27.2h-7.2l-0.1,-27.2zM522.3,1179.2v13.6h-7.2v-13.6zM522.3,1199.6v27.2h-7.2v-27.2zM522.3,1233.6v13.6h-7.2v-13.6zM522.3,1254v27.2h-7.2v-27.2zM522.3,1288v13.6h-7.2v-13.6zM522.3,1308.4l0.1,27.2h-7.2l-0.1,-27.2zM522.4,1342.4v13.6h-7.2v-13.6zM522.4,1362.8v27.2h-7.2v-27.2zM522.4,1396.8v13.6h-7.2v-13.6zM522.4,1417.2v27.2h-7.2v-27.2zM522.4,1451.2v13.6h-7.2v-13.6zM522.4,1471.6l0.1,13h-7.2l-0.1,-13zM520.7,1484.6v-23.2h7.2v23.2zM520.7,1454.6v-13.6h7.2v13.6zM520.7,1434.2l0.1,-27.2h7.2l-0.1,27.2zM520.8,1400.2v-13.6h7.2v13.6zM520.8,1379.8v-27.2h7.2v27.2zM520.8,1345.8v-13.6h7.2v13.6zM520.8,1325.4v-27.2h7.2v27.2zM520.8,1291.4v-13.6h7.2v13.6zM520.8,1271l0.1,-27.2h7.2l-0.1,27.2zM520.9,1237v-13.6h7.2v13.6zM520.9,1216.6v-27.2h7.2v27.2zM520.9,1182.6v-13.6h7.2v13.6zM520.9,1162.2v-27.2h7.2v27.2zM520.9,1128.2v-13.6h7.2v13.6zM520.9,1107.8l0.1,-27.2h7.2l-0.1,27.2zM521,1073.8v-13.6h7.2v13.6zM521,1053.4v-27.2h7.2v27.2zM521,1019.4v-13.6h7.2v13.6zM521,999v-22.4l0.2,-5l7.2,0.4l-0.2,4.8v22.2zM521.5,964.8l0.6,-13.6l7.2,0.4l-0.6,13.6zM522.4,944.4l1.1,-27.2l7.2,0.4l-1.1,27.2zM523.8,910.4l0.3,-6.7l7.2,0.3l-0.3,6.8zM531.3,903.7l0.3,6.9l-7.2,0.3l-0.3,-6.9zM531.9,917.4l1.1,27.2l-7.1,0.3l-1.2,-27.2zM533.3,951.4l0.6,13.6l-7.2,0.3l-0.5,-13.6zM534.2,971.9l0.1,27.2l-7.2,0.1l-0.1,-27.2zM534.3,1006l0.1,13.6h-7.2l-0.1,-13.6zM534.4,1026.4v27.2h-7.2v-27.2zM534.4,1060.4v13.6h-7.2v-13.6zM534.4,1080.8v27.2h-7.2v-27.2zM534.4,1114.8v13.6h-7.2v-13.6zM534.4,1135.2v27.2h-7.2v-27.2zM534.5,1169.2v13.6h-7.2v-13.6zM534.5,1189.6v27.2h-7.2v-27.2zM534.5,1223.6v13.6h-7.2v-13.6zM534.5,1244v27.2h-7.2v-27.2zM534.5,1278v13.6h-7.2v-13.6zM534.5,1298.4l0.1,27.2h-7.2l-0.1,-27.2zM534.6,1332.4v13.6h-7.2v-13.6zM534.6,1352.8v27.2h-7.2v-27.2zM534.6,1386.8v13.6h-7.2v-13.6zM534.6,1407.2v27.2h-7.2v-27.2zM534.6,1441.2v13.6h-7.2v-13.6zM534.6,1461.6l0.1,23h-7.2l-0.1,-23zM532.9,1484.6v-23.2h7.2v23.2zM532.9,1454.6v-13.6h7.2v13.6zM532.9,1434.2v-27.2h7.2v27.2zM533,1400.2v-13.6h7.2v13.6zM533,1379.8v-27.2h7.2v27.2zM533,1345.8v-13.6h7.2v13.6zM533,1325.4v-27.2h7.2v27.2zM533,1291.4v-13.6h7.2v13.6zM533,1271l0.1,-27.2h7.2l-0.1,27.2zM533.1,1237v-13.6h7.2v13.6zM533.1,1216.6v-27.2h7.2v27.2zM533.1,1182.6v-13.6h7.2v13.6zM533.1,1162.2v-27.2h7.2v27.2zM533.1,1128.2v-13.6h7.2v13.6zM533.1,1107.8l0.1,-27.2h7.2l-0.1,27.2zM533.2,1073.8v-13.6h7.2v13.6zM533.2,1053.4v-27.2h7.2v27.2zM533.2,1019.4v-13.6h7.2v13.6zM533.2,999v-27.2h7.2v27.2zM533.5,964.8l0.6,-13.6l7.2,0.4l-0.6,13.6zM534.4,944.4l1.1,-27.2l7.2,0.4l-1.2,27.2zM535.8,910.4l0.5,-11.9l7.2,0.3l-0.5,12zM543.5,898.5v1.7l-7.1,0.3l-0.1,-1.7zM543.8,907l1.2,27.2l-7.2,0.3l-1.2,-27.2zM545.3,941l0.6,13.6l-7.2,0.3l-0.6,-13.6zM546.2,961.4l0.3,7.4v20h-7.2v-19.8l-0.3,-7.3zM546.5,995.6v13.6h-7.2v-13.6zM546.6,1016v27.2h-7.2v-27.2zM546.6,1050v13.6h-7.2v-13.6zM546.6,1070.4v27.2h-7.2v-27.2zM546.6,1104.4v13.6h-7.2v-13.6zM546.6,1124.8v27.2h-7.2v-27.2zM546.6,1158.8l0.1,13.6h-7.2l-0.1,-13.6zM546.7,1179.2v27.2h-7.2v-27.2zM546.7,1213.2v13.6h-7.2v-13.6zM546.7,1233.6v27.2h-7.2v-27.2zM546.7,1267.6v13.6h-7.2v-13.6zM546.7,1288v27.2h-7.2v-27.2zM546.7,1322l0.1,13.6h-7.2l-0.1,-13.6zM546.8,1342.4v27.2h-7.2v-27.2zM546.8,1376.4v13.6h-7.2v-13.6zM546.8,1396.8v27.2h-7.2v-27.2zM546.8,1430.8v13.6h-7.2v-13.6zM546.8,1451.2v27.2h-7.2v-27.2zM545.1,1484.6v-23.2h7.2v23.2zM545.1,1454.6v-13.6h7.2v13.6zM545.1,1434.2v-27.2h7.2v27.2zM545.1,1400.2l0.1,-13.6h7.2l-0.1,13.6zM545.2,1379.8v-27.2h7.2v27.2zM545.2,1345.8v-13.6h7.2v13.6zM545.2,1325.4v-27.2h7.2v27.2zM545.2,1291.4v-13.6h7.2v13.6zM545.2,1271v-27.2h7.2v27.2zM545.2,1237l0.1,-13.6h7.2l-0.1,13.6zM545.3,1216.6v-27.2h7.2v27.2zM545.3,1182.6v-13.6h7.2v13.6zM545.3,1162.2v-27.2h7.2v27.2zM545.3,1128.2v-13.6h7.2v13.6zM545.3,1107.8v-27.2h7.2v27.2zM545.4,1073.8v-13.6h7.2v13.6zM545.4,1053.4v-27.2h7.2v27.2zM545.4,1019.4v-13.6h7.2v13.6zM545.4,999v-27.2h7.2v27.2zM545.5,964.8l0.5,-13.6l7.2,0.4l-0.5,13.6zM546.3,944.4l1.2,-27.2l7.2,0.4l-1.2,27.2zM547.8,910.4l0.5,-13.6l7.2,0.4l-0.6,13.6zM555.8,896.2l1.2,27.2l-7.2,0.4l-1.2,-27.2zM557.3,930.2l0.6,13.6l-7.2,0.4l-0.6,-13.6zM558.2,950.6l0.5,12.8v14.6h-7.2v-14.5l-0.5,-12.5zM558.7,984.8v13.6h-7.2v-13.6zM558.7,1005.2l0.1,27.2h-7.2l-0.1,-27.2zM558.8,1039.2v13.6h-7.2v-13.6zM558.8,1059.6v27.2h-7.2v-27.2zM558.8,1093.6v13.6h-7.2v-13.6zM558.8,1114v27.2h-7.2v-27.2zM558.8,1148v13.6h-7.2v-13.6zM558.8,1168.4l0.1,27.2h-7.2l-0.1,-27.2zM558.9,1202.4v13.6h-7.2v-13.6zM558.9,1222.8v27.2h-7.2v-27.2zM558.9,1256.8v13.6h-7.2v-13.6zM558.9,1277.2v27.2h-7.2v-27.2zM558.9,1311.2v13.6h-7.2v-13.6zM559,1331.6v27.2h-7.2v-27.2zM559,1365.6v13.6h-7.2v-13.6zM559,1386v27.2h-7.2v-27.2zM559,1420v13.6h-7.2v-13.6zM559,1440.4v27.2h-7.2v-27.2zM559,1474.4v10.2h-7.2v-10.2zM557.3,1484.6v-23.2h7.2v23.2zM557.3,1454.6v-13.6h7.2v13.6zM557.3,1434.2v-27.2h7.2v27.2zM557.3,1400.2v-13.6h7.2v13.6zM557.4,1379.8v-27.2h7.2v27.2zM557.4,1345.8v-13.6h7.2v13.6zM557.4,1325.4v-27.2h7.2v27.2zM557.4,1291.4v-13.6h7.2v13.6zM557.4,1271v-27.2h7.2v27.2zM557.4,1237v-13.6h7.2v13.6zM557.5,1216.6v-27.2h7.2v27.2zM557.5,1182.6v-13.6h7.2v13.6zM557.5,1162.2v-27.2h7.2v27.2zM557.5,1128.2v-13.6h7.2v13.6zM557.5,1107.8v-27.2h7.2v27.2zM557.5,1073.8l0.1,-13.6h7.2l-0.1,13.6zM557.6,1053.4v-27.2h7.2v27.2zM557.6,1019.4v-13.6h7.2v13.6zM557.6,999v-27.2h7.2v27.2zM557.6,965v-4.4l0.4,-9.4l7.2,0.4l-0.4,9.2v4.2zM558.3,944.4l1.1,-27.2l7.2,0.4l-1.1,27.2zM559.7,910.4l0.6,-13.6l7.2,0.4l-0.6,13.6zM560.6,890l0.1,-2.4l7.2,0.3l-0.1,2.5zM567.9,887.6l1,24.7l-7.2,0.3l-1,-24.7zM569.2,919.1l0.6,13.6l-7.2,0.3l-0.6,-13.6zM570.1,939.5l0.8,18.3v9.1h-7.2v-9l-0.8,-18.1zM570.9,973.7v13.6h-7.2v-13.6zM570.9,994.1l0.1,27.2h-7.2l-0.1,-27.2zM571,1028.1v13.6h-7.2v-13.6zM571,1048.5v27.2h-7.2v-27.2zM571,1082.5v13.6h-7.2v-13.6zM571,1102.9v27.2h-7.2v-27.2zM571,1136.9v13.6h-7.2v-13.6zM571,1157.3l0.1,27.2h-7.2l-0.1,-27.2zM571.1,1191.3v13.6h-7.2v-13.6zM571.1,1211.7v27.2h-7.2v-27.2zM571.1,1245.7v13.6h-7.2v-13.6zM571.1,1266.1v27.2h-7.2v-27.2zM571.1,1300.1v13.6h-7.2v-13.6zM571.1,1320.5l0.1,27.2h-7.2l-0.1,-27.2zM571.2,1354.5v13.6h-7.2v-13.6zM571.2,1374.9v27.2h-7.2v-27.2zM571.2,1408.9v13.6h-7.2v-13.6zM571.2,1429.3v27.2h-7.2v-27.2zM571.2,1463.3v13.6h-7.2v-13.6zM571.2,1483.7v0.9h-7.2v-0.9zM569.5,1484.6v-23.2h7.2v23.2zM569.5,1454.6v-13.6h7.2v13.6zM569.5,1434.2v-27.2h7.2v27.2zM569.5,1400.2v-13.6h7.2v13.6zM569.5,1379.8l0.1,-27.2h7.2l-0.1,27.2zM569.6,1345.8v-13.6h7.2v13.6zM569.6,1325.4v-27.2h7.2v27.2zM569.6,1291.4v-13.6h7.2v13.6zM569.6,1271v-27.2h7.2v27.2zM569.6,1237v-13.6h7.2v13.6zM569.6,1216.6l0.1,-27.2h7.2l-0.1,27.2zM569.7,1182.6v-13.6h7.2v13.6zM569.7,1162.2v-27.2h7.2v27.2zM569.7,1128.2v-13.6h7.2v13.6zM569.7,1107.8v-27.2h7.2v27.2zM569.7,1073.8v-13.6h7.2v13.6zM569.8,1053.4v-27.2h7.2v27.2zM569.8,1019.4v-13.6h7.2v13.6zM569.8,999v-27.2h7.2v27.2zM569.8,965v-10.1l0.2,-3.7l7.2,0.4l-0.2,3.4v10zM570.3,944.4l1.1,-27.2l7.2,0.4l-1.2,27.2zM571.7,910.4l0.5,-13.6l7.2,0.4l-0.5,13.6zM572.5,890l0.4,-8.2l7.2,0.3l-0.4,8.3zM580.1,881.8l0.8,18.9l-7.2,0.4l-0.8,-19zM581.2,907.5l0.6,13.6l-7.2,0.4l-0.6,-13.6zM582.1,927.9l1,24v3.4h-7.2v-3.2l-1,-23.8zM583.1,962.1v13.6h-7.2v-13.6zM583.1,982.5v27.2h-7.2v-27.2zM583.2,1016.5v13.6h-7.2v-13.6zM583.2,1036.9v27.2h-7.2v-27.2zM583.2,1070.9v13.6h-7.2v-13.6zM583.2,1091.3v27.2h-7.2v-27.2zM583.2,1125.3v13.6h-7.2v-13.6zM583.2,1145.7l0.1,27.2h-7.2l-0.1,-27.2zM583.3,1179.7v13.6h-7.2v-13.6zM583.3,1200.1v27.2h-7.2v-27.2zM583.3,1234.1v13.6h-7.2v-13.6zM583.3,1254.5v27.2h-7.2v-27.2zM583.3,1288.5v13.6h-7.2v-13.6zM583.3,1308.9l0.1,27.2h-7.2l-0.1,-27.2zM583.4,1342.9v13.6h-7.2v-13.6zM583.4,1363.3v27.2h-7.2v-27.2zM583.4,1397.3v13.6h-7.2v-13.6zM583.4,1417.7v27.2h-7.2v-27.2zM583.4,1451.7v13.6h-7.2v-13.6zM583.4,1472.1v12.5h-7.2v-12.5zM581.7,1484.6v-23.2h7.2v23.2zM581.7,1454.6v-13.6h7.2v13.6zM581.7,1434.2v-27.2h7.2v27.2zM581.7,1400.2v-13.6h7.2v13.6zM581.7,1379.8l0.1,-27.2h7.2l-0.1,27.2zM581.8,1345.8v-13.6h7.2v13.6zM581.8,1325.4v-27.2h7.2v27.2zM581.8,1291.4v-13.6h7.2v13.6zM581.8,1271v-27.2h7.2v27.2zM581.8,1237v-13.6h7.2v13.6zM581.8,1216.6l0.1,-27.2h7.2l-0.1,27.2zM581.9,1182.6v-13.6h7.2v13.6zM581.9,1162.2v-27.2h7.2v27.2zM581.9,1128.2v-13.6h7.2v13.6zM581.9,1107.8v-27.2h7.2v27.2zM581.9,1073.8v-13.6h7.2v13.6zM581.9,1053.4l0.1,-27.2h7.2l-0.1,27.2zM582,1019.4v-13.6h7.2v13.6zM582,999v-27.2h7.2v27.2zM582,965v-13.6h7.2v13.6zM582.2,944.5l1.1,-27.2l7.2,0.2l-1.1,27.2zM583.6,910.5l0.6,-13.6l7.2,0.2l-0.6,13.6zM584.5,890.1l0.6,-14.3l7.2,0.3l-0.6,14.2zM592.3,875.8l0.5,12.9l-7.2,0.3l-0.5,-12.9zM593.1,895.5l0.6,13.6l-7.2,0.3l-0.6,-13.6zM594,915.9l1.2,27.2l-7.2,0.3l-1.2,-27.2zM595.3,950.1v13.6h-7.2v-13.6zM595.3,970.5v27.2h-7.2v-27.2zM595.3,1004.5l0.1,13.6h-7.2l-0.1,-13.6zM595.4,1024.9v27.2h-7.2v-27.2zM595.4,1058.9v13.6h-7.2v-13.6zM595.4,1079.3v27.2h-7.2v-27.2zM595.4,1113.3v13.6h-7.2v-13.6zM595.4,1133.7v27.2h-7.2v-27.2zM595.4,1167.7l0.1,13.6h-7.2l-0.1,-13.6zM595.5,1188.1v27.2h-7.2v-27.2zM595.5,1222.1v13.6h-7.2v-13.6zM595.5,1242.5v27.2h-7.2v-27.2zM595.5,1276.5v13.6h-7.2v-13.6zM595.5,1296.9v27.2h-7.2v-27.2zM595.6,1330.9v13.6h-7.2v-13.6zM595.6,1351.3v27.2h-7.2v-27.2zM595.6,1385.3v13.6h-7.2v-13.6zM595.6,1405.7v27.2h-7.2v-27.2zM595.6,1439.7v13.6h-7.2v-13.6zM595.6,1460.1v24.5h-7.2v-24.5zM593.9,1484.6v-23.2h7.2v23.2zM593.9,1454.6v-13.6h7.2v13.6zM593.9,1434.2v-27.2h7.2v27.2zM593.9,1400.2v-13.6h7.2v13.6zM593.9,1379.8v-27.2h7.2v27.2zM593.9,1345.8l0.1,-13.6h7.2l-0.1,13.6zM594,1325.4v-27.2h7.2v27.2zM594,1291.4v-13.6h7.2v13.6zM594,1271v-27.2h7.2v27.2zM594,1237v-13.6h7.2v13.6zM594,1216.6v-27.2h7.2v27.2zM594.1,1182.6v-13.6h7.2v13.6zM594.1,1162.2v-27.2h7.2v27.2zM594.1,1128.2v-13.6h7.2v13.6zM594.1,1107.8v-27.2h7.2v27.2zM594.1,1073.8v-13.6h7.2v13.6zM594.1,1053.4l0.1,-27.2h7.2l-0.1,27.2zM594.2,1019.4v-13.6h7.2v13.6zM594.2,999v-27.2h7.2v27.2zM594.2,965v-13.6h7.2v13.6zM594.2,944.5l1.1,-27.2l7.2,0.2l-1.1,27.2zM595.6,910.5l0.5,-13.6l7.2,0.2l-0.6,13.6zM596.4,890.1l0.9,-20.6l7.1,0.3l-0.8,20.5zM604.4,869.5l0.3,6.7l-7.1,0.3l-0.3,-6.7zM605,883l0.6,13.6l-7.2,0.3l-0.6,-13.6zM605.9,903.4l1.2,27.2l-7.2,0.3l-1.2,-27.2zM607.4,937.5l0.1,13.6l-7.2,0.1l-0.1,-13.6zM607.5,958v27.2h-7.2v-27.2zM607.5,992v13.6h-7.2v-13.6zM607.5,1012.4l0.1,27.2h-7.2l-0.1,-27.2zM607.6,1046.4v13.6h-7.2v-13.6zM607.6,1066.8v27.2h-7.2v-27.2zM607.6,1100.8v13.6h-7.2v-13.6zM607.6,1121.2v27.2h-7.2v-27.2zM607.6,1155.2v13.6h-7.2v-13.6zM607.7,1175.6v27.2h-7.2v-27.2zM607.7,1209.6v13.6h-7.2v-13.6zM607.7,1230v27.2h-7.2v-27.2zM607.7,1264v13.6h-7.2v-13.6zM607.7,1284.4v27.2h-7.2v-27.2zM607.7,1318.4l0.1,13.6h-7.2l-0.1,-13.6zM607.8,1338.8v27.2h-7.2v-27.2zM607.8,1372.8v13.6h-7.2v-13.6zM607.8,1393.2v27.2h-7.2v-27.2zM607.8,1427.2v13.6h-7.2v-13.6zM607.8,1447.6v27.2h-7.2v-27.2zM607.8,1481.6v3h-7.2v-3zM606.1,1484.6v-23.2h7.2v23.2zM606.1,1454.6v-13.6h7.2v13.6zM606.1,1434.2v-27.2h7.2v27.2zM606.1,1400.2v-13.6h7.2v13.6zM606.1,1379.8v-27.2h7.2v27.2zM606.1,1345.8l0.1,-13.6h7.2l-0.1,13.6zM606.2,1325.4v-27.2h7.2v27.2zM606.2,1291.4v-13.6h7.2v13.6zM606.2,1271v-27.2h7.2v27.2zM606.2,1237v-13.6h7.2v13.6zM606.2,1216.6v-27.2h7.2v27.2zM606.2,1182.6l0.1,-13.6h7.2l-0.1,13.6zM606.3,1162.2v-27.2h7.2v27.2zM606.3,1128.2v-13.6h7.2v13.6zM606.3,1107.8v-27.2h7.2v27.2zM606.3,1073.8v-13.6h7.2v13.6zM606.3,1053.4v-27.2h7.2v27.2zM606.3,1019.4l0.1,-13.6h7.2l-0.1,13.6zM606.4,999v-27.2h7.2v27.2zM606.4,965v-13.6h7.2v13.6zM606.4,944.6v-8.3l0.8,-19l7.2,0.2l-0.8,18.9v8.2zM607.5,910.5l0.5,-13.6l7.2,0.2l-0.5,13.6zM608.3,890.1l1.2,-27.1l7.1,0.3l-1.1,27zM616.6,863l0.1,0.2l-7.2,0.3v-0.2zM616.9,870l0.6,13.6l-7.1,0.3l-0.6,-13.6zM617.8,890.4l1.2,27.2l-7.2,0.3l-1.1,-27.2zM619.3,924.4l0.4,8.5v5.2h-7.2v-5l-0.4,-8.4zM619.7,944.9v27.2h-7.2v-27.2zM619.7,978.9v13.6h-7.2v-13.6zM619.7,999.3l0.1,27.2h-7.2l-0.1,-27.2zM619.8,1033.3v13.6h-7.2v-13.6zM619.8,1053.7v27.2h-7.2v-27.2zM619.8,1087.7v13.6h-7.2v-13.6zM619.8,1108.1v27.2h-7.2v-27.2zM619.8,1142.1v13.6h-7.2v-13.6zM619.8,1162.5l0.1,27.2h-7.2l-0.1,-27.2zM619.9,1196.5v13.6h-7.2v-13.6zM619.9,1216.9v27.2h-7.2v-27.2zM619.9,1250.9v13.6h-7.2v-13.6zM619.9,1271.3v27.2h-7.2v-27.2zM619.9,1305.3v13.6h-7.2v-13.6zM619.9,1325.7l0.1,27.2h-7.2l-0.1,-27.2zM620,1359.7v13.6h-7.2v-13.6zM620,1380.1v27.2h-7.2v-27.2zM620,1414.1v13.6h-7.2v-13.6zM620,1434.5v27.2h-7.2v-27.2zM620,1468.5v13.6h-7.2v-13.6zM618.2,1484.6l0.1,-23.2h7.2l-0.1,23.2zM618.3,1454.6v-13.6h7.2v13.6zM618.3,1434.2v-27.2h7.2v27.2zM618.3,1400.2v-13.6h7.2v13.6zM618.3,1379.8v-27.2h7.2v27.2zM618.3,1345.8v-13.6h7.2v13.6zM618.3,1325.4l0.1,-27.2h7.2l-0.1,27.2zM618.4,1291.4v-13.6h7.2v13.6zM618.4,1271v-27.2h7.2v27.2zM618.4,1237v-13.6h7.2v13.6zM618.4,1216.6v-27.2h7.2v27.2zM618.4,1182.6v-13.6h7.2v13.6zM618.5,1162.2v-27.2h7.2v27.2zM618.5,1128.2v-13.6h7.2v13.6zM618.5,1107.8v-27.2h7.2v27.2zM618.5,1073.8v-13.6h7.2v13.6zM618.5,1053.4v-27.2h7.2v27.2zM618.5,1019.4v-13.6h7.2v13.6zM618.6,999v-27.2h7.2v27.2zM618.6,965v-13.6h7.2v13.6zM618.6,944.6v-15.1l0.5,-12.2l7.2,0.2l-0.5,12.2v14.9zM619.4,910.5l0.6,-13.6l7.1,0.2l-0.5,13.6zM620.2,890.1l1.2,-27.2l7.2,0.2l-1.2,27.2zM628.8,856.3l0.6,13.6l-7.1,0.3l-0.6,-13.6zM629.7,876.7l1.2,27.2l-7.2,0.3l-1.2,-27.2zM631.2,910.7l0.6,13.6l-7.2,0.3l-0.6,-13.6zM631.9,931.3v27.2h-7.2v-27.2zM631.9,965.3v13.6h-7.2v-13.6zM631.9,985.7v27.2h-7.2v-27.2zM632,1019.7v13.6h-7.2v-13.6zM632,1040.1v27.2h-7.2v-27.2zM632,1074.1v13.6h-7.2v-13.6zM632,1094.5v27.2h-7.2v-27.2zM632,1128.5v13.6h-7.2v-13.6zM632,1148.9l0.1,27.2h-7.2l-0.1,-27.2zM632.1,1182.9v13.6h-7.2v-13.6zM632.1,1203.3v27.2h-7.2v-27.2zM632.1,1237.3v13.6h-7.2v-13.6zM632.1,1257.7v27.2h-7.2v-27.2zM632.1,1291.7v13.6h-7.2v-13.6zM632.1,1312.1l0.1,27.2h-7.2l-0.1,-27.2zM632.2,1346.1v13.6h-7.2v-13.6zM632.2,1366.5v27.2h-7.2v-27.2zM632.2,1400.5v13.6h-7.2v-13.6zM632.2,1420.9v27.2h-7.2v-27.2zM632.2,1454.9v13.6h-7.2v-13.6zM632.2,1475.3v9.3h-7.2v-9.3zM630.4,1484.6l0.1,-23.2h7.2l-0.1,23.2zM630.5,1454.6v-13.6h7.2v13.6zM630.5,1434.2v-27.2h7.2v27.2zM630.5,1400.2v-13.6h7.2v13.6zM630.5,1379.8v-27.2h7.2v27.2zM630.5,1345.8v-13.6h7.2v13.6zM630.5,1325.4l0.1,-27.2h7.2l-0.1,27.2zM630.6,1291.4v-13.6h7.2v13.6zM630.6,1271v-27.2h7.2v27.2zM630.6,1237v-13.6h7.2v13.6zM630.6,1216.6v-27.2h7.2v27.2zM630.6,1182.6v-13.6h7.2v13.6zM630.6,1162.2l0.1,-27.2h7.2l-0.1,27.2zM630.7,1128.2v-13.6h7.2v13.6zM630.7,1107.8v-27.2h7.2v27.2zM630.7,1073.8v-13.6h7.2v13.6zM630.7,1053.4v-27.2h7.2v27.2zM630.7,1019.4v-13.6h7.2v13.6zM630.7,999l0.1,-27.2h7.2l-0.1,27.2zM630.8,965v-13.6h7.2v13.6zM630.8,944.6v-22.1l0.2,-5.2l7.2,0.2l-0.2,5.1v22zM631.3,910.5l0.6,-13.6l7.1,0.2l-0.5,13.6zM632.1,890.1l1.2,-27.2l7.2,0.2l-1.2,27.2zM633.6,856.1l0.2,-7.1l7.2,0.3l-0.3,7zM641,849l0.3,6.6l-7.2,0.3l-0.3,-6.6zM641.6,862.4l1.2,27.2l-7.2,0.3l-1.2,-27.2zM643.1,896.4l0.6,13.6l-7.2,0.3l-0.6,-13.6zM644,916.9l0.1,27.2h-7.2l-0.1,-27.2zM644.1,950.9v13.6h-7.2v-13.6zM644.1,971.3v27.2h-7.2v-27.2zM644.1,1005.3l0.1,13.6h-7.2l-0.1,-13.6zM644.2,1025.7v27.2h-7.2v-27.2zM644.2,1059.7v13.6h-7.2v-13.6zM644.2,1080.1v27.2h-7.2v-27.2zM644.2,1114.1v13.6h-7.2v-13.6zM644.2,1134.5v27.2h-7.2v-27.2zM644.2,1168.5l0.1,13.6h-7.2l-0.1,-13.6zM644.3,1188.9v27.2h-7.2v-27.2zM644.3,1222.9v13.6h-7.2v-13.6zM644.3,1243.3v27.2h-7.2v-27.2zM644.3,1277.3v13.6h-7.2v-13.6zM644.3,1297.7v27.2h-7.2v-27.2zM644.4,1331.7v13.6h-7.2v-13.6zM644.4,1352.1v27.2h-7.2v-27.2zM644.4,1386.1v13.6h-7.2v-13.6zM644.4,1406.5v27.2h-7.2v-27.2zM644.4,1440.5v13.6h-7.2v-13.6zM644.4,1460.9v23.7h-7.2v-23.7zM642.6,1484.6v-23.2h7.2v23.2zM642.6,1454.6l0.1,-13.6h7.2l-0.1,13.6zM642.7,1434.2v-27.2h7.2v27.2zM642.7,1400.2v-13.6h7.2v13.6zM642.7,1379.8v-27.2h7.2v27.2zM642.7,1345.8v-13.6h7.2v13.6zM642.7,1325.4v-27.2h7.2v27.2zM642.8,1291.4v-13.6h7.2v13.6zM642.8,1271v-27.2h7.2v27.2zM642.8,1237v-13.6h7.2v13.6zM642.8,1216.6v-27.2h7.2v27.2zM642.8,1182.6v-13.6h7.2v13.6zM642.8,1162.2l0.1,-27.2h7.2l-0.1,27.2zM642.9,1128.2v-13.6h7.2v13.6zM642.9,1107.8v-27.2h7.2v27.2zM642.9,1073.8v-13.6h7.2v13.6zM642.9,1053.4v-27.2h7.2v27.2zM642.9,1019.4v-13.6h7.2v13.6zM642.9,999l0.1,-27.2h7.2l-0.1,27.2zM643,965v-13.6h7.2v13.6zM643,944.6v-27.2h7.2v27.2zM643.2,910.5l0.5,-13.6l7.2,0.2l-0.5,13.6zM644,890.1l1.2,-27.2l7.1,0.2l-1.1,27.2zM645.4,856.1l0.6,-13.6l7.2,0.2l-0.6,13.6zM653.5,847.3l1.2,27.2l-7.2,0.3l-1.2,-27.2zM655,881.3l0.6,13.6l-7.2,0.3l-0.6,-13.6zM655.9,901.7l0.4,9.4v18h-7.2v-17.8l-0.4,-9.3zM656.3,935.9v13.6h-7.2v-13.6zM656.3,956.3v27.2h-7.2v-27.2zM656.3,990.3v13.6h-7.2v-13.6zM656.3,1010.7l0.1,27.2h-7.2l-0.1,-27.2zM656.4,1044.7v13.6h-7.2v-13.6zM656.4,1065.1v27.2h-7.2v-27.2zM656.4,1099.1v13.6h-7.2v-13.6zM656.4,1119.5v27.2h-7.2v-27.2zM656.4,1153.5v13.6h-7.2v-13.6zM656.5,1173.9v27.2h-7.2v-27.2zM656.5,1207.9v13.6h-7.2v-13.6zM656.5,1228.3v27.2h-7.2v-27.2zM656.5,1262.3v13.6h-7.2v-13.6zM656.5,1282.7v27.2h-7.2v-27.2zM656.5,1316.7l0.1,13.6h-7.2l-0.1,-13.6zM656.6,1337.1v27.2h-7.2v-27.2zM656.6,1371.1v13.6h-7.2v-13.6zM656.6,1391.5v27.2h-7.2v-27.2zM656.6,1425.5v13.6h-7.2v-13.6zM656.6,1445.9v27.2h-7.2v-27.2zM656.6,1479.9v4.7h-7.2v-4.7zM654.8,1484.6v-23.2h7.2v23.2zM654.8,1454.6l0.1,-13.6h7.2l-0.1,13.6zM654.9,1434.2v-27.2h7.2v27.2zM654.9,1400.2v-13.6h7.2v13.6zM654.9,1379.8v-27.2h7.2v27.2zM654.9,1345.8v-13.6h7.2v13.6zM654.9,1325.4v-27.2h7.2v27.2zM654.9,1291.4l0.1,-13.6h7.2l-0.1,13.6zM655,1271v-27.2h7.2v27.2zM655,1237v-13.6h7.2v13.6zM655,1216.6v-27.2h7.2v27.2zM655,1182.6v-13.6h7.2v13.6zM655,1162.2v-27.2h7.2v27.2zM655,1128.2l0.1,-13.6h7.2l-0.1,13.6zM655.1,1107.8v-27.2h7.2v27.2zM655.1,1073.8v-13.6h7.2v13.6zM655.1,1053.4v-27.2h7.2v27.2zM655.1,1019.4v-13.6h7.2v13.6zM655.1,999v-27.2h7.2v27.2zM655.1,965l0.1,-13.6h7.2l-0.1,13.6zM655.2,944.6v-27.2h7.2v27.2zM655.2,910.6v-3.4l0.4,-10.3l7.2,0.2l-0.4,10.2v3.3zM655.9,890.1l1.1,-27.2l7.2,0.2l-1.1,27.2zM657.3,856.1l0.6,-13.6l7.2,0.2l-0.6,13.6zM658.2,835.7v-2.2l7.2,0.3l-0.1,2.1zM665.4,833.5l1.1,25.1l-7.2,0.3l-1.1,-25.1zM666.8,865.4l0.6,13.6l-7.2,0.3l-0.6,-13.6zM667.7,885.8l0.8,17.3v10.1h-7.2v-10l-0.8,-17.1zM668.5,920v13.6h-7.2v-13.6zM668.5,940.4v27.2h-7.2v-27.2zM668.5,974.4v13.6h-7.2v-13.6zM668.5,994.8l0.1,27.2h-7.2l-0.1,-27.2zM668.6,1028.8v13.6h-7.2v-13.6zM668.6,1049.2v27.2h-7.2v-27.2zM668.6,1083.2v13.6h-7.2v-13.6zM668.6,1103.6v27.2h-7.2v-27.2zM668.6,1137.6v13.6h-7.2v-13.6zM668.6,1158l0.1,27.2h-7.2l-0.1,-27.2zM668.7,1192v13.6h-7.2v-13.6zM668.7,1212.4v27.2h-7.2v-27.2zM668.7,1246.4v13.6h-7.2v-13.6zM668.7,1266.8v27.2h-7.2v-27.2zM668.7,1300.8v13.6h-7.2v-13.6zM668.7,1321.2l0.1,27.2h-7.2l-0.1,-27.2zM668.8,1355.2v13.6h-7.2v-13.6zM668.8,1375.6v27.2h-7.2v-27.2zM668.8,1409.6v13.6h-7.2v-13.6zM668.8,1430v27.2h-7.2v-27.2zM668.8,1464v13.6h-7.2v-13.6zM668.8,1484.4v0.2h-7.2v-0.2zM667,1484.6v-23.2h7.2v23.2zM667,1454.6v-13.6h7.2v13.6zM667,1434.2l0.1,-27.2h7.2l-0.1,27.2zM667.1,1400.2v-13.6h7.2v13.6zM667.1,1379.8v-27.2h7.2v27.2zM667.1,1345.8v-13.6h7.2v13.6zM667.1,1325.4v-27.2h7.2v27.2zM667.1,1291.4v-13.6h7.2v13.6zM667.1,1271l0.1,-27.2h7.2l-0.1,27.2zM667.2,1237v-13.6h7.2v13.6zM667.2,1216.6v-27.2h7.2v27.2zM667.2,1182.6v-13.6h7.2v13.6zM667.2,1162.2v-27.2h7.2v27.2zM667.2,1128.2v-13.6h7.2v13.6zM667.3,1107.8v-27.2h7.2v27.2zM667.3,1073.8v-13.6h7.2v13.6zM667.3,1053.4v-27.2h7.2v27.2zM667.3,1019.4v-13.6h7.2v13.6zM667.3,999v-27.2h7.2v27.2zM667.3,965v-13.6h7.2v13.6zM667.4,944.6v-27.2h7.2v27.2zM667.4,910.6l0.1,-13.6h7.2l-0.1,13.6zM667.7,890.1l1.2,-27.2l7.2,0.2l-1.2,27.2zM669.2,856.1l0.5,-13.6l7.2,0.2l-0.6,13.6zM670,835.7l0.4,-10.6l7.2,0.3l-0.4,10.5zM677.6,825.1l0.8,16.6l-7.2,0.4l-0.8,-16.7zM678.7,848.5l0.6,13.6l-7.2,0.4l-0.6,-13.6zM679.6,868.9l1.1,27.2l-7.2,0.3l-1.1,-27.2zM680.7,903.1v13.6h-7.2v-13.6zM680.7,923.5v27.2h-7.2v-27.2zM680.7,957.5v13.6h-7.2v-13.6zM680.7,977.9v27.2h-7.2v-27.2zM680.8,1011.9v13.6h-7.2v-13.6zM680.8,1032.3v27.2h-7.2v-27.2zM680.8,1066.3v13.6h-7.2v-13.6zM680.8,1086.7v27.2h-7.2v-27.2zM680.8,1120.7v13.6h-7.2v-13.6zM680.8,1141.1l0.1,27.2h-7.2l-0.1,-27.2zM680.9,1175.1v13.6h-7.2v-13.6zM680.9,1195.5v27.2h-7.2v-27.2zM680.9,1229.5v13.6h-7.2v-13.6zM680.9,1249.9v27.2h-7.2v-27.2zM680.9,1283.9v13.6h-7.2v-13.6zM680.9,1304.3l0.1,27.2h-7.2l-0.1,-27.2zM681,1338.3v13.6h-7.2v-13.6zM681,1358.7v27.2h-7.2v-27.2zM681,1392.7v13.6h-7.2v-13.6zM681,1413.1v27.2h-7.2v-27.2zM681,1447.1v13.6h-7.2v-13.6zM681,1467.5v17.1h-7.2v-17.1zM679.2,1484.6v-23.2h7.2v23.2zM679.2,1454.6v-13.6h7.2v13.6zM679.2,1434.2l0.1,-27.2h7.2l-0.1,27.2zM679.3,1400.2v-13.6h7.2v13.6zM679.3,1379.8v-27.2h7.2v27.2zM679.3,1345.8v-13.6h7.2v13.6zM679.3,1325.4v-27.2h7.2v27.2zM679.3,1291.4v-13.6h7.2v13.6zM679.3,1271l0.1,-27.2h7.2l-0.1,27.2zM679.4,1237v-13.6h7.2v13.6zM679.4,1216.6v-27.2h7.2v27.2zM679.4,1182.6v-13.6h7.2v13.6zM679.4,1162.2v-27.2h7.2v27.2zM679.4,1128.2v-13.6h7.2v13.6zM679.4,1107.8l0.1,-27.2h7.2l-0.1,27.2zM679.5,1073.8v-13.6h7.2v13.6zM679.5,1053.4v-27.2h7.2v27.2zM679.5,1019.4v-13.6h7.2v13.6zM679.5,999v-27.2h7.2v27.2zM679.5,965v-13.6h7.2v13.6zM679.5,944.6l0.1,-27.2h7.2l-0.1,27.2zM679.6,910.6v-13.6h7.2v13.6zM679.6,890.1l1.1,-27.2l7.2,0.2l-1.1,27.2zM681,856.1l0.5,-13.6l7.2,0.2l-0.5,13.6zM681.8,835.7l0.8,-19.6l7.2,0.3l-0.8,19.5zM689.8,816.1l0.4,7.7l-7.2,0.3l-0.4,-7.7zM690.5,830.6l0.6,13.6l-7.2,0.3l-0.6,-13.6zM691.4,851l1.2,27.2l-7.2,0.3l-1.2,-27.2zM692.9,885.1v13.6l-7.2,0.1v-13.6zM692.9,905.5v27.2h-7.2v-27.2zM692.9,939.5v13.6h-7.2v-13.6zM692.9,959.9v27.2h-7.2v-27.2zM692.9,993.9l0.1,13.6h-7.2l-0.1,-13.6zM693,1014.3v27.2h-7.2v-27.2zM693,1048.3v13.6h-7.2v-13.6zM693,1068.7v27.2h-7.2v-27.2zM693,1102.7v13.6h-7.2v-13.6zM693,1123.1v27.2h-7.2v-27.2zM693,1157.1l0.1,13.6h-7.2l-0.1,-13.6zM693.1,1177.5v27.2h-7.2v-27.2zM693.1,1211.5v13.6h-7.2v-13.6zM693.1,1231.9v27.2h-7.2v-27.2zM693.1,1265.9v13.6h-7.2v-13.6zM693.1,1286.3v27.2h-7.2v-27.2zM693.1,1320.3l0.1,13.6h-7.2l-0.1,-13.6zM693.2,1340.7v27.2h-7.2v-27.2zM693.2,1374.7v13.6h-7.2v-13.6zM693.2,1395.1v27.2h-7.2v-27.2zM693.2,1429.1v13.6h-7.2v-13.6zM693.2,1449.5v27.2h-7.2v-27.2zM693.2,1483.5l0.1,1.1h-7.2l-0.1,-1.1zM691.4,1484.6v-23.2h7.2v23.2zM691.4,1454.6v-13.6h7.2v13.6zM691.4,1434.2v-27.2h7.2v27.2zM691.4,1400.2l0.1,-13.6h7.2l-0.1,13.6zM691.5,1379.8v-27.2h7.2v27.2zM691.5,1345.8v-13.6h7.2v13.6zM691.5,1325.4v-27.2h7.2v27.2zM691.5,1291.4v-13.6h7.2v13.6zM691.5,1271v-27.2h7.2v27.2zM691.6,1237v-13.6h7.2v13.6zM691.6,1216.6v-27.2h7.2v27.2zM691.6,1182.6v-13.6h7.2v13.6zM691.6,1162.2v-27.2h7.2v27.2zM691.6,1128.2v-13.6h7.2v13.6zM691.6,1107.8v-27.2h7.2v27.2zM691.7,1073.8v-13.6h7.2v13.6zM691.7,1053.4v-27.2h7.2v27.2zM691.7,1019.4v-13.6h7.2v13.6zM691.7,999v-27.2h7.2v27.2zM691.7,965v-13.6h7.2v13.6zM691.7,944.6l0.1,-27.2h7.2l-0.1,27.2zM691.8,910.6v-13.6h7.2v13.6zM691.8,890.2v-9.6l0.7,-17.7l7.2,0.2l-0.7,17.7v9.4zM692.8,856.1l0.5,-13.6l7.2,0.2l-0.5,13.6zM693.6,835.7l1.1,-27.2l7.2,0.2l-1.1,27.2zM702.2,811.4l0.6,13.6l-7.2,0.3l-0.6,-13.6zM703.1,831.8l1.2,27.2l-7.2,0.3l-1.2,-27.2zM704.6,865.8l0.5,9.8v3.9h-7.2v-3.7l-0.5,-9.7zM705.1,886.3v27.2h-7.2v-27.2zM705.1,920.3v13.6h-7.2v-13.6zM705.1,940.7v27.2h-7.2v-27.2zM705.1,974.7v13.6h-7.2v-13.6zM705.1,995.1l0.1,27.2h-7.2l-0.1,-27.2zM705.2,1029.1v13.6h-7.2v-13.6zM705.2,1049.5v27.2h-7.2v-27.2zM705.2,1083.5v13.6h-7.2v-13.6zM705.2,1103.9v27.2h-7.2v-27.2zM705.2,1137.9v13.6h-7.2v-13.6zM705.2,1158.3l0.1,27.2h-7.2l-0.1,-27.2zM705.3,1192.3v13.6h-7.2v-13.6zM705.3,1212.7v27.2h-7.2v-27.2zM705.3,1246.7v13.6h-7.2v-13.6zM705.3,1267.1v27.2h-7.2v-27.2zM705.3,1301.1v13.6h-7.2v-13.6zM705.3,1321.5l0.1,27.2h-7.2l-0.1,-27.2zM705.4,1355.5v13.6h-7.2v-13.6zM705.4,1375.9v27.2h-7.2v-27.2zM705.4,1409.9v13.6h-7.2v-13.6zM705.4,1430.3v27.2h-7.2v-27.2zM705.4,1464.3v13.6h-7.2v-13.6zM703.6,1484.6v-23.2h7.2v23.2zM703.6,1454.6v-13.6h7.2v13.6zM703.6,1434.2v-27.2h7.2v27.2zM703.6,1400.2v-13.6h7.2v13.6zM703.7,1379.8v-27.2h7.2v27.2zM703.7,1345.8v-13.6h7.2v13.6zM703.7,1325.4v-27.2h7.2v27.2zM703.7,1291.4v-13.6h7.2v13.6zM703.7,1271v-27.2h7.2v27.2zM703.7,1237v-13.6h7.2v13.6zM703.8,1216.6v-27.2h7.2v27.2zM703.8,1182.6v-13.6h7.2v13.6zM703.8,1162.2v-27.2h7.2v27.2zM703.8,1128.2v-13.6h7.2v13.6zM703.8,1107.8v-27.2h7.2v27.2zM703.8,1073.8l0.1,-13.6h7.2l-0.1,13.6zM703.9,1053.4v-27.2h7.2v27.2zM703.9,1019.4v-13.6h7.2v13.6zM703.9,999v-27.2h7.2v27.2zM703.9,965v-13.6h7.2v13.6zM703.9,944.6v-27.2h7.2v27.2zM703.9,910.6l0.1,-13.6h7.2l-0.1,13.6zM704,890.2v-19.7l0.3,-7.6l7.2,0.2l-0.3,7.5v19.6zM704.6,856.1l0.5,-13.6l7.2,0.2l-0.5,13.6zM705.4,835.7l1.1,-27.2l7.2,0.2l-1.1,27.2zM706.8,801.7l0.2,-5.5l7.2,0.3l-0.2,5.4zM714.2,796.2l0.4,8.1l-7.2,0.3l-0.4,-8.1zM714.9,811.1l1.2,27.2l-7.2,0.3l-1.2,-27.2zM716.4,845.1l0.6,13.6l-7.2,0.3l-0.6,-13.6zM717.3,865.7v27.2h-7.2v-27.2zM717.3,899.7v13.6h-7.2v-13.6zM717.3,920.1v27.2h-7.2v-27.2zM717.3,954.1v13.6h-7.2v-13.6zM717.3,974.5l0.1,27.2h-7.2l-0.1,-27.2zM717.4,1008.5v13.6h-7.2v-13.6zM717.4,1028.9v27.2h-7.2v-27.2zM717.4,1062.9v13.6h-7.2v-13.6zM717.4,1083.3v27.2h-7.2v-27.2zM717.4,1117.3v13.6h-7.2v-13.6zM717.4,1137.7l0.1,27.2h-7.2l-0.1,-27.2zM717.5,1171.7v13.6h-7.2v-13.6zM717.5,1192.1v27.2h-7.2v-27.2zM717.5,1226.1v13.6h-7.2v-13.6zM717.5,1246.5v27.2h-7.2v-27.2zM717.5,1280.5v13.6h-7.2v-13.6zM717.5,1300.9l0.1,27.2h-7.2l-0.1,-27.2zM717.6,1334.9v13.6h-7.2v-13.6zM717.6,1355.3v27.2h-7.2v-27.2zM717.6,1389.3v13.6h-7.2v-13.6zM717.6,1409.7v27.2h-7.2v-27.2zM717.6,1443.7v13.6h-7.2v-13.6zM717.6,1464.1l0.1,20.5h-7.2l-0.1,-20.5zM715.8,1484.6v-23.2h7.2v23.2zM715.8,1454.6v-13.6h7.2v13.6zM715.8,1434.2v-27.2h7.2v27.2zM715.8,1400.2v-13.6h7.2v13.6zM715.8,1379.8l0.1,-27.2h7.2l-0.1,27.2zM715.9,1345.8v-13.6h7.2v13.6zM715.9,1325.4v-27.2h7.2v27.2zM715.9,1291.4v-13.6h7.2v13.6zM715.9,1271v-27.2h7.2v27.2zM715.9,1237v-13.6h7.2v13.6zM715.9,1216.6l0.1,-27.2h7.2l-0.1,27.2zM716,1182.6v-13.6h7.2v13.6zM716,1162.2v-27.2h7.2v27.2zM716,1128.2v-13.6h7.2v13.6zM716,1107.8v-27.2h7.2v27.2zM716,1073.8v-13.6h7.2v13.6zM716,1053.4l0.1,-27.2h7.2l-0.1,27.2zM716.1,1019.4v-13.6h7.2v13.6zM716.1,999v-27.2h7.2v27.2zM716.1,965v-13.6h7.2v13.6zM716.1,944.6v-27.2h7.2v27.2zM716.1,910.6v-13.6h7.2v13.6zM716.1,890.2l0.1,-27.2h7.2l-0.1,27.2zM716.3,856.1l0.6,-13.6l7.2,0.2l-0.6,13.6zM717.1,835.7l1.2,-27.2l7.1,0.2l-1.1,27.2zM718.5,801.7l0.6,-13.6l7.2,0.2l-0.6,13.6zM726.6,788.7l1.2,27.2l-7.2,0.3l-1.2,-27.2zM728.1,822.7l0.6,13.6l-7.2,0.3l-0.6,-13.6zM729,843.1l0.5,10.5v16.9h-7.2v-16.7l-0.5,-10.4zM729.5,877.3v13.6h-7.2v-13.6zM729.5,897.7v27.2h-7.2v-27.2zM729.5,931.7v13.6h-7.2v-13.6zM729.5,952.1v27.2h-7.2v-27.2zM729.5,986.1l0.1,13.6h-7.2l-0.1,-13.6zM729.6,1006.5v27.2h-7.2v-27.2zM729.6,1040.5v13.6h-7.2v-13.6zM729.6,1060.9v27.2h-7.2v-27.2zM729.6,1094.9v13.6h-7.2v-13.6zM729.6,1115.3v27.2h-7.2v-27.2zM729.6,1149.3l0.1,13.6h-7.2l-0.1,-13.6zM729.7,1169.7v27.2h-7.2v-27.2zM729.7,1203.7v13.6h-7.2v-13.6zM729.7,1224.1v27.2h-7.2v-27.2zM729.7,1258.1v13.6h-7.2v-13.6zM729.7,1278.5v27.2h-7.2v-27.2zM729.7,1312.5l0.1,13.6h-7.2l-0.1,-13.6zM729.8,1332.9v27.2h-7.2v-27.2zM729.8,1366.9v13.6h-7.2v-13.6zM729.8,1387.3v27.2h-7.2v-27.2zM729.8,1421.3v13.6h-7.2v-13.6zM729.8,1441.7v27.2h-7.2v-27.2zM729.9,1475.7v8.9h-7.2v-8.9zM728,1484.6v-23.2h7.2v23.2zM728,1454.6v-13.6h7.2v13.6zM728,1434.2v-27.2h7.2v27.2zM728,1400.2v-13.6h7.2v13.6zM728,1379.8v-27.2h7.2v27.2zM728.1,1345.8v-13.6h7.2v13.6zM728.1,1325.4v-27.2h7.2v27.2zM728.1,1291.4v-13.6h7.2v13.6zM728.1,1271v-27.2h7.2v27.2zM728.1,1237v-13.6h7.2v13.6zM728.1,1216.6v-27.2h7.2v27.2zM728.2,1182.6v-13.6h7.2v13.6zM728.2,1162.2v-27.2h7.2v27.2zM728.2,1128.2v-13.6h7.2v13.6zM728.2,1107.8v-27.2h7.2v27.2zM728.2,1073.8v-13.6h7.2v13.6zM728.2,1053.4l0.1,-27.2h7.2l-0.1,27.2zM728.3,1019.4v-13.6h7.2v13.6zM728.3,999v-27.2h7.2v27.2zM728.3,965v-13.6h7.2v13.6zM728.3,944.6v-27.2h7.2v27.2zM728.3,910.6v-13.6h7.2v13.6zM728.3,890.2l0.1,-27.2h7.2l-0.1,27.2zM728.4,856.2v-8.7l0.2,-5l7.2,0.2l-0.2,5v8.5zM728.8,835.7l1.2,-27.2l7.1,0.2l-1.1,27.2zM730.2,801.7l0.6,-13.6l7.2,0.2l-0.6,13.6zM731.1,781.3l0.3,-8.6l7.2,0.3l-0.3,8.5zM738.6,772.7l0.8,18.7l-7.1,0.3l-0.9,-18.7zM739.7,798.2l0.6,13.6l-7.1,0.3l-0.6,-13.6zM740.7,818.6l1,22.5v4.8h-7.2v-4.7l-1,-22.3zM741.7,852.7v13.6h-7.2v-13.6zM741.7,873.1v27.2h-7.2v-27.2zM741.7,907.1v13.6h-7.2v-13.6zM741.7,927.5v27.2h-7.2v-27.2zM741.7,961.5v13.6h-7.2v-13.6zM741.7,981.9l0.1,27.2h-7.2l-0.1,-27.2zM741.8,1015.9v13.6h-7.2v-13.6zM741.8,1036.3v27.2h-7.2v-27.2zM741.8,1070.3v13.6h-7.2v-13.6zM741.8,1090.7v27.2h-7.2v-27.2zM741.8,1124.7v13.6h-7.2v-13.6zM741.8,1145.1l0.1,27.2h-7.2l-0.1,-27.2zM741.9,1179.1v13.6h-7.2v-13.6zM741.9,1199.5v27.2h-7.2v-27.2zM741.9,1233.5v13.6h-7.2v-13.6zM741.9,1253.9v27.2h-7.2v-27.2zM741.9,1287.9v13.6h-7.2v-13.6zM741.9,1308.3l0.1,27.2h-7.2l-0.1,-27.2zM742,1342.3v13.6h-7.2v-13.6zM742,1362.7v27.2h-7.2v-27.2zM742,1396.7v13.6h-7.2v-13.6zM742,1417.1v27.2h-7.2v-27.2zM742,1451.1v13.6h-7.2v-13.6zM742.1,1471.5v13.1h-7.2v-13.1zM740.2,1484.6v-23.2h7.2v23.2zM740.2,1454.6v-13.6h7.2v13.6zM740.2,1434.2v-27.2h7.2v27.2zM740.2,1400.2v-13.6h7.2v13.6zM740.2,1379.8v-27.2h7.2v27.2zM740.2,1345.8v-13.6h7.2v13.6zM740.3,1325.4v-27.2h7.2v27.2zM740.3,1291.4v-13.6h7.2v13.6zM740.3,1271v-27.2h7.2v27.2zM740.3,1237v-13.6h7.2v13.6zM740.3,1216.6v-27.2h7.2v27.2zM740.3,1182.6l0.1,-13.6h7.2l-0.1,13.6zM740.4,1162.2v-27.2h7.2v27.2zM740.4,1128.2v-13.6h7.2v13.6zM740.4,1107.8v-27.2h7.2v27.2zM740.4,1073.8v-13.6h7.2v13.6zM740.4,1053.4v-27.2h7.2v27.2zM740.4,1019.4l0.1,-13.6h7.2l-0.1,13.6zM740.5,999v-27.2h7.2v27.2zM740.5,965v-13.6h7.2v13.6zM740.5,944.6v-27.2h7.2v27.2zM740.5,910.6v-13.6h7.2v13.6zM740.5,890.2v-27.2h7.2v27.2zM740.5,856.2l0.1,-13.6h7.2l-0.1,13.6zM740.6,835.7l1,-27.2l7.2,0.2l-1,27.2zM741.9,801.7l0.5,-13.6l7.2,0.2l-0.5,13.6zM742.7,781.3l0.9,-22.1l7.2,0.3l-0.9,22zM750.8,759.2l0.2,5.1l-7.2,0.3l-0.2,-5.1zM751.3,771.1l0.6,13.6l-7.1,0.3l-0.7,-13.6zM752.3,791.5l1.2,27.2l-7.2,0.3l-1.2,-27.2zM753.8,825.6l0.1,13.6l-7.2,0.1l-0.1,-13.6zM753.9,846v27.2h-7.2v-27.2zM753.9,880v13.6h-7.2v-13.6zM753.9,900.4v27.2h-7.2v-27.2zM753.9,934.4v13.6h-7.2v-13.6zM753.9,954.8l0.1,27.2h-7.2l-0.1,-27.2zM754,988.8v13.6h-7.2v-13.6zM754,1009.2v27.2h-7.2v-27.2zM754,1043.2v13.6h-7.2v-13.6zM754,1063.6v27.2h-7.2v-27.2zM754,1097.6v13.6h-7.2v-13.6zM754,1118l0.1,27.2h-7.2l-0.1,-27.2zM754.1,1152v13.6h-7.2v-13.6zM754.1,1172.4v27.2h-7.2v-27.2zM754.1,1206.4v13.6h-7.2v-13.6zM754.1,1226.8v27.2h-7.2v-27.2zM754.1,1260.8v13.6h-7.2v-13.6zM754.1,1281.2l0.1,27.2h-7.2l-0.1,-27.2zM754.2,1315.2v13.6h-7.2v-13.6zM754.2,1335.6v27.2h-7.2v-27.2zM754.2,1369.6v13.6h-7.2v-13.6zM754.2,1390v27.2h-7.2v-27.2zM754.2,1424v13.6h-7.2v-13.6zM754.2,1444.4l0.1,27.2h-7.2l-0.1,-27.2zM754.3,1478.4v6.2h-7.2v-6.2zM752.3,1484.6l0.1,-23.2h7.2l-0.1,23.2zM752.4,1454.6v-13.6h7.2v13.6zM752.4,1434.2v-27.2h7.2v27.2zM752.4,1400.2v-13.6h7.2v13.6zM752.4,1379.8v-27.2h7.2v27.2zM752.4,1345.8v-13.6h7.2v13.6zM752.4,1325.4l0.1,-27.2h7.2l-0.1,27.2zM752.5,1291.4v-13.6h7.2v13.6zM752.5,1271v-27.2h7.2v27.2zM752.5,1237v-13.6h7.2v13.6zM752.5,1216.6v-27.2h7.2v27.2zM752.5,1182.6v-13.6h7.2v13.6zM752.5,1162.2l0.1,-27.2h7.2l-0.1,27.2zM752.6,1128.2v-13.6h7.2v13.6zM752.6,1107.8v-27.2h7.2v27.2zM752.6,1073.8v-13.6h7.2v13.6zM752.6,1053.4v-27.2h7.2v27.2zM752.6,1019.4v-13.6h7.2v13.6zM752.6,999l0.1,-27.2h7.2l-0.1,27.2zM752.7,965v-13.6h7.2v13.6zM752.7,944.6v-27.2h7.2v27.2zM752.7,910.6v-13.6h7.2v13.6zM752.7,890.2v-27.2h7.2v27.2zM752.7,856.2v-13.6h7.2v13.6zM752.7,835.8l0.1,-16.2l0.4,-11.1l7.2,0.2l-0.4,11l-0.1,16.1zM753.5,801.7l0.5,-13.6l7.2,0.2l-0.5,13.6zM754.3,781.3l1.1,-27.2l7.2,0.2l-1.1,27.2zM755.7,747.3l0.1,-3.3l7.2,0.3l-0.1,3.2zM763,744l0.5,10.3l-7.2,0.3l-0.5,-10.3zM763.8,761.1l1.2,27.2l-7.2,0.3l-1.2,-27.2zM765.3,795.1l0.6,13.6l-7.2,0.3l-0.6,-13.6zM766.1,815.7v27.2h-7.2v-27.2zM766.1,849.7v13.6h-7.2v-13.6zM766.1,870.1v27.2h-7.2v-27.2zM766.1,904.1v13.6h-7.2v-13.6zM766.1,924.5v27.2h-7.2v-27.2zM766.1,958.5l0.1,13.6h-7.2l-0.1,-13.6zM766.2,978.9v27.2h-7.2v-27.2zM766.2,1012.9v13.6h-7.2v-13.6zM766.2,1033.3v27.2h-7.2v-27.2zM766.2,1067.3v13.6h-7.2v-13.6zM766.2,1087.7v27.2h-7.2v-27.2zM766.2,1121.7l0.1,13.6h-7.2l-0.1,-13.6zM766.3,1142.1v27.2h-7.2v-27.2zM766.3,1176.1v13.6h-7.2v-13.6zM766.3,1196.5v27.2h-7.2v-27.2zM766.3,1230.5v13.6h-7.2v-13.6zM766.3,1250.9v27.2h-7.2v-27.2zM766.3,1284.9l0.1,13.6h-7.2l-0.1,-13.6zM766.4,1305.3v27.2h-7.2v-27.2zM766.4,1339.3v13.6h-7.2v-13.6zM766.4,1359.7v27.2h-7.2v-27.2zM766.4,1393.7v13.6h-7.2v-13.6zM766.4,1414.1v27.2h-7.2v-27.2zM766.4,1448.1l0.1,13.6h-7.2l-0.1,-13.6zM766.5,1468.5v16.1h-7.2v-16.1zM764.5,1484.6v-23.2h7.2v23.2zM764.5,1454.6l0.1,-13.6h7.2l-0.1,13.6zM764.6,1434.2v-27.2h7.2v27.2zM764.6,1400.2v-13.6h7.2v13.6zM764.6,1379.8v-27.2h7.2v27.2zM764.6,1345.8v-13.6h7.2v13.6zM764.6,1325.4v-27.2h7.2v27.2zM764.6,1291.4l0.1,-13.6h7.2l-0.1,13.6zM764.7,1271v-27.2h7.2v27.2zM764.7,1237v-13.6h7.2v13.6zM764.7,1216.6v-27.2h7.2v27.2zM764.7,1182.6v-13.6h7.2v13.6zM764.7,1162.2v-27.2h7.2v27.2zM764.7,1128.2l0.1,-13.6h7.2l-0.1,13.6zM764.8,1107.8v-27.2h7.2v27.2zM764.8,1073.8v-13.6h7.2v13.6zM764.8,1053.4v-27.2h7.2v27.2zM764.8,1019.4v-13.6h7.2v13.6zM764.8,999v-27.2h7.2v27.2zM764.9,965v-13.6h7.2v13.6zM764.9,944.6v-27.2h7.2v27.2zM764.9,910.6v-13.6h7.2v13.6zM764.9,890.2v-27.2h7.2v27.2zM764.9,856.2v-13.6h7.2v13.6zM764.9,835.8v-27.2h7.2v27.2zM765,801.7l0.5,-13.6l7.2,0.2l-0.5,13.6zM765.8,781.3l1.1,-27.2l7.2,0.2l-1.1,27.2zM767.2,747.3l0.5,-13.6l7.2,0.2l-0.5,13.6zM768,726.9v-0.2l7.2,0.3v0.1zM775.2,726.7l1.2,27l-7.2,0.3l-1.2,-27zM776.7,760.5l0.7,13.6l-7.2,0.3l-0.6,-13.6zM777.7,780.9l0.5,12.6l0.1,14.7l-7.2,0.1l-0.1,-14.6l-0.5,-12.5zM778.3,815v13.6l-7.2,0.1v-13.6zM778.3,835.4v27.2l-7.2,0.1v-27.2zM778.3,869.4v13.6l-7.2,0.1v-13.6zM778.3,889.8v27.2l-7.2,0.1v-27.2zM778.3,923.8v13.6l-7.2,0.1v-13.6zM778.3,944.2l0.1,27.2l-7.2,0.1l-0.1,-27.2zM778.4,978.2v13.6l-7.2,0.1v-13.6zM778.4,998.6v27.2l-7.2,0.1v-27.2zM778.4,1032.6v13.6l-7.2,0.1v-13.6zM778.4,1053v27.2l-7.2,0.1v-27.2zM778.4,1087v13.6l-7.2,0.1v-13.6zM778.4,1107.4l0.1,27.2l-7.2,0.1l-0.1,-27.2zM778.5,1141.4v13.6l-7.2,0.1v-13.6zM778.5,1161.8v27.2l-7.2,0.1v-27.2zM778.5,1195.8v13.6l-7.2,0.1v-13.6zM778.5,1216.2v27.2l-7.2,0.1v-27.2zM778.5,1250.2v13.6l-7.2,0.1v-13.6zM778.5,1270.6l0.1,27.2l-7.2,0.1l-0.1,-27.2zM778.6,1304.6v13.6l-7.2,0.1v-13.6zM778.6,1325v27.2l-7.2,0.1v-27.2zM778.6,1359v13.6l-7.2,0.1v-13.6zM778.6,1379.4v27.2l-7.2,0.1v-27.2zM778.6,1413.4v13.6l-7.2,0.1v-13.6zM778.6,1433.8l0.1,27.2l-7.2,0.1l-0.1,-27.2zM778.7,1467.8v13.6l-7.2,0.1v-13.6zM776.7,1484.6v-23.2h7.2v23.2zM776.7,1454.6v-13.6h7.2v13.6zM776.7,1434.2l0.1,-27.2h7.2l-0.1,27.2zM776.8,1400.2v-13.6h7.2v13.6zM776.8,1379.8v-27.2h7.2v27.2zM776.8,1345.8v-13.6h7.2v13.6zM776.8,1325.4v-27.2h7.2v27.2zM776.8,1291.4v-13.6h7.2v13.6zM776.8,1271l0.1,-27.2h7.2l-0.1,27.2zM776.9,1237v-13.6h7.2v13.6zM776.9,1216.6v-27.2h7.2v27.2zM776.9,1182.6v-13.6h7.2v13.6zM776.9,1162.2v-27.2h7.2v27.2zM776.9,1128.2v-13.6h7.2v13.6zM776.9,1107.8l0.1,-27.2h7.2l-0.1,27.2zM777,1073.8v-13.6h7.2v13.6zM777,1053.4v-27.2h7.2v27.2zM777,1019.4v-13.6h7.2v13.6zM777,999v-27.2h7.2v27.2zM777,965v-13.6h7.2v13.6zM777,944.6l0.1,-27.2h7.2l-0.1,27.2zM777.1,910.6v-13.6h7.2v13.6zM777.1,890.2v-27.2h7.2v27.2zM777.1,856.2v-13.6h7.2v13.6zM777.1,835.8v-27.2h7.2v27.2zM777.1,801.8v-13.6h7.2v13.6zM777.2,781.3l1.1,-27.2l7.2,0.2l-1.1,27.2zM778.6,747.3l0.5,-13.6l7.2,0.2l-0.5,13.6zM779.4,726.9l0.8,-20.4l7.2,0.3l-0.8,20.3zM787.4,706.5l0.3,6.8l-7.2,0.3l-0.3,-6.8zM788,720.1l0.6,13.6l-7.1,0.3l-0.7,-13.6zM789,740.5l1.2,27.2l-7.2,0.3l-1.2,-27.2zM790.4,774.7l0.1,13.6h-7.2l-0.1,-13.6zM790.5,795.1v27.2h-7.2v-27.2zM790.5,829.1v13.6h-7.2v-13.6zM790.5,849.5v27.2h-7.2v-27.2zM790.5,883.5v13.6h-7.2v-13.6zM790.5,903.9v27.2h-7.2v-27.2zM790.5,937.9l0.1,13.6h-7.2l-0.1,-13.6zM790.6,958.3v27.2h-7.2v-27.2zM790.6,992.3v13.6h-7.2v-13.6zM790.6,1012.7v27.2h-7.2v-27.2zM790.6,1046.7v13.6h-7.2v-13.6zM790.6,1067.1v27.2h-7.2v-27.2zM790.6,1101.1l0.1,13.6h-7.2l-0.1,-13.6zM790.7,1121.5v27.2h-7.2v-27.2zM790.7,1155.5v13.6h-7.2v-13.6zM790.7,1175.9v27.2h-7.2v-27.2zM790.7,1209.9v13.6h-7.2v-13.6zM790.7,1230.3v27.2h-7.2v-27.2zM790.7,1264.3l0.1,13.6h-7.2l-0.1,-13.6zM790.8,1284.7v27.2h-7.2v-27.2zM790.8,1318.7v13.6h-7.2v-13.6zM790.8,1339.1v27.2h-7.2v-27.2zM790.8,1373.1v13.6h-7.2v-13.6zM790.8,1393.5v27.2h-7.2v-27.2zM790.8,1427.5l0.1,13.6h-7.2l-0.1,-13.6zM790.9,1447.9v27.2h-7.2v-27.2zM790.9,1481.9v2.7h-7.2v-2.7zM788.9,1484.6v-23.2h7.2v23.2zM788.9,1454.6v-13.6h7.2v13.6zM788.9,1434.2v-27.2h7.2v27.2zM789,1400.2v-13.6h7.2v13.6zM789,1379.8v-27.2h7.2v27.2zM789,1345.8v-13.6h7.2v13.6zM789,1325.4v-27.2h7.2v27.2zM789,1291.4v-13.6h7.2v13.6zM789,1271v-27.2h7.2v27.2zM789.1,1237v-13.6h7.2v13.6zM789.1,1216.6v-27.2h7.2v27.2zM789.1,1182.6v-13.6h7.2v13.6zM789.1,1162.2v-27.2h7.2v27.2zM789.1,1128.2v-13.6h7.2v13.6zM789.1,1107.8v-27.2h7.2v27.2zM789.2,1073.8v-13.6h7.2v13.6zM789.2,1053.4v-27.2h7.2v27.2zM789.2,1019.4v-13.6h7.2v13.6zM789.2,999v-27.2h7.2v27.2zM789.2,965v-13.6h7.2v13.6zM789.2,944.6v-27.2h7.2v27.2zM789.3,910.6v-13.6h7.2v13.6zM789.3,890.2v-27.2h7.2v27.2zM789.3,856.2v-13.6h7.2v13.6zM789.3,835.8v-27.2h7.2v27.2zM789.3,801.8v-13.6h7.2v13.6zM789.3,781.4v-21.1l0.3,-6.2l7.2,0.2l-0.3,6.2v20.9zM789.9,747.3l0.5,-13.6l7.2,0.2l-0.6,13.6zM790.7,726.9l1,-27.2l7.2,0.2l-1.1,27.2zM792,692.9l0.4,-10.8l7.2,0.3l-0.4,10.7zM799.6,682.1l0.1,2.9l-7.2,0.3l-0.1,-2.8zM800,691.8l1.3,27.2l-7.2,0.3l-1.2,-27.2zM801.6,725.8l0.7,13.6l-7.2,0.3l-0.6,-13.6zM802.6,746.4l0.1,27.2h-7.2l-0.1,-27.2zM802.7,780.4v13.6h-7.2v-13.6zM802.7,800.8v27.2h-7.2v-27.2zM802.7,834.8v13.6h-7.2v-13.6zM802.7,855.2v27.2h-7.2v-27.2zM802.7,889.2v13.6h-7.2v-13.6zM802.7,909.6l0.1,27.2h-7.2l-0.1,-27.2zM802.8,943.6v13.6h-7.2v-13.6zM802.8,964v27.2h-7.2v-27.2zM802.8,998v13.6h-7.2v-13.6zM802.8,1018.4v27.2h-7.2v-27.2zM802.8,1052.4v13.6h-7.2v-13.6zM802.8,1072.8l0.1,27.2h-7.2l-0.1,-27.2zM802.9,1106.8v13.6h-7.2v-13.6zM802.9,1127.2v27.2h-7.2v-27.2zM802.9,1161.2v13.6h-7.2v-13.6zM802.9,1181.6v27.2h-7.2v-27.2zM802.9,1215.6v13.6h-7.2v-13.6zM802.9,1236l0.1,27.2h-7.2l-0.1,-27.2zM803,1270v13.6h-7.2v-13.6zM803,1290.4v27.2h-7.2v-27.2zM803,1324.4v13.6h-7.2v-13.6zM803,1344.8v27.2h-7.2v-27.2zM803,1378.8v13.6h-7.2v-13.6zM803,1399.2l0.1,27.2h-7.2l-0.1,-27.2zM803.1,1433.2v13.6h-7.2v-13.6zM803.1,1453.6v27.2h-7.2v-27.2zM801.1,1484.6v-23.2h7.2v23.2zM801.1,1454.6v-13.6h7.2v13.6zM801.1,1434.2v-27.2h7.2v27.2zM801.1,1400.2v-13.6h7.2v13.6zM801.1,1379.8l0.1,-27.2h7.2l-0.1,27.2zM801.2,1345.8v-13.6h7.2v13.6zM801.2,1325.4v-27.2h7.2v27.2zM801.2,1291.4v-13.6h7.2v13.6zM801.2,1271v-27.2h7.2v27.2zM801.2,1237v-13.6h7.2v13.6zM801.2,1216.6l0.1,-27.2h7.2l-0.1,27.2zM801.3,1182.6v-13.6h7.2v13.6zM801.3,1162.2v-27.2h7.2v27.2zM801.3,1128.2v-13.6h7.2v13.6zM801.3,1107.8v-27.2h7.2v27.2zM801.3,1073.8v-13.6h7.2v13.6zM801.3,1053.4l0.1,-27.2h7.2l-0.1,27.2zM801.4,1019.4v-13.6h7.2v13.6zM801.4,999v-27.2h7.2v27.2zM801.4,965v-13.6h7.2v13.6zM801.4,944.6v-27.2h7.2v27.2zM801.4,910.6v-13.6h7.2v13.6zM801.4,890.2l0.1,-27.2h7.2l-0.1,27.2zM801.5,856.2v-13.6h7.2v13.6zM801.5,835.8v-27.2h7.2v27.2zM801.5,801.8v-13.6h7.2v13.6zM801.5,781.4v-27.2h7.2v27.2zM801.5,747.4v-13.6h7.2v13.6zM801.7,726.9l1.1,-27.2l7.1,0.2l-1,27.2zM803,692.9l0.5,-13.6l7.2,0.2l-0.5,13.6zM803.8,672.5l0.8,-21.2l7.2,0.3l-0.8,21.1zM811.8,651.3l0.3,6.1l-7.2,0.3l-0.3,-6.1zM812.4,664.2l0.7,13.6l-7.2,0.3l-0.7,-13.6zM813.4,684.6l1.3,27.2l-7.1,0.3l-1.4,-27.2zM814.8,718.7v13.6h-7.2v-13.6zM814.9,739.1v27.2h-7.2v-27.2zM814.9,773.1v13.6h-7.2v-13.6zM814.9,793.5v27.2h-7.2v-27.2zM814.9,827.5v13.6h-7.2v-13.6zM814.9,847.9v27.2h-7.2v-27.2zM814.9,881.9v13.6h-7.2v-13.6zM815,902.3v27.2h-7.2v-27.2zM815,936.3v13.6h-7.2v-13.6zM815,956.7v27.2h-7.2v-27.2zM815,990.7v13.6h-7.2v-13.6zM815,1011.1v27.2h-7.2v-27.2zM815,1045.1v13.6h-7.2v-13.6zM815,1065.5l0.1,27.2h-7.2l-0.1,-27.2zM815.1,1099.5v13.6h-7.2v-13.6zM815.1,1119.9v27.2h-7.2v-27.2zM815.1,1153.9v13.6h-7.2v-13.6zM815.1,1174.3v27.2h-7.2v-27.2zM815.1,1208.3v13.6h-7.2v-13.6zM815.1,1228.7l0.1,27.2h-7.2l-0.1,-27.2zM815.2,1262.7v13.6h-7.2v-13.6zM815.2,1283.1v27.2h-7.2v-27.2zM815.2,1317.1v13.6h-7.2v-13.6zM815.2,1337.5v27.2h-7.2v-27.2zM815.2,1371.5v13.6h-7.2v-13.6zM815.2,1391.9l0.1,27.2h-7.2l-0.1,-27.2zM815.3,1425.9v13.6h-7.2v-13.6zM815.3,1446.3v27.2h-7.2v-27.2zM815.3,1480.3v4.3h-7.2v-4.3zM813.3,1484.6v-23.2h7.2v23.2zM813.3,1454.6v-13.6h7.2v13.6zM813.3,1434.2v-27.2h7.2v27.2zM813.3,1400.2v-13.6h7.2v13.6zM813.3,1379.8v-27.2h7.2v27.2zM813.3,1345.8v-13.6h7.2v13.6zM813.4,1325.4v-27.2h7.2v27.2zM813.4,1291.4v-13.6h7.2v13.6zM813.4,1271v-27.2h7.2v27.2zM813.4,1237v-13.6h7.2v13.6zM813.4,1216.6v-27.2h7.2v27.2zM813.4,1182.6v-13.6h7.2v13.6zM813.5,1162.2v-27.2h7.2v27.2zM813.5,1128.2v-13.6h7.2v13.6zM813.5,1107.8v-27.2h7.2v27.2zM813.5,1073.8v-13.6h7.2v13.6zM813.5,1053.4v-27.2h7.2v27.2zM813.5,1019.4v-13.6h7.2v13.6zM813.6,999v-27.2h7.2v27.2zM813.6,965v-13.6h7.2v13.6zM813.6,944.6v-27.2h7.2v27.2zM813.6,910.6v-13.6h7.2v13.6zM813.6,890.2v-27.2h7.2v27.2zM813.6,856.2v-13.6h7.2v13.6zM813.6,835.8l0.1,-27.2h7.2l-0.1,27.2zM813.7,801.8v-13.6h7.2v13.6zM813.7,781.4v-27.2h7.2v27.2zM813.7,747.4v-13.6h7.2v13.6zM813.7,727v-27.2h7.2v27.2zM813.7,692.9l0.5,-13.6l7.2,0.2l-0.5,13.6zM814.5,672.5l1,-27.2l7.2,0.2l-1,27.2zM815.7,638.5l0.5,-13.6l7.2,0.2l-0.5,13.6zM816.5,618.1l0.3,-9.1l7.2,0.3l-0.4,9zM824,609l0.9,18.1l-7.2,0.4l-0.9,-18.1zM825.3,633.9l0.7,13.6l-7.2,0.4l-0.7,-13.6zM826.4,654.3l0.6,12.7v14.7h-7.2v-14.5l-0.6,-12.5zM827,688.5l0.1,13.6h-7.2l-0.1,-13.6zM827.1,708.9v27.2h-7.2v-27.2zM827.1,742.9v13.6h-7.2v-13.6zM827.1,763.3v27.2h-7.2v-27.2zM827.1,797.3v13.6h-7.2v-13.6zM827.1,817.7v27.2h-7.2v-27.2zM827.1,851.7l0.1,13.6h-7.2l-0.1,-13.6zM827.2,872.1v27.2h-7.2v-27.2zM827.2,906.1v13.6h-7.2v-13.6zM827.2,926.5v27.2h-7.2v-27.2zM827.2,960.5v13.6h-7.2v-13.6zM827.2,980.9v27.2h-7.2v-27.2zM827.2,1014.9v13.6h-7.2v-13.6zM827.3,1035.3v27.2h-7.2v-27.2zM827.3,1069.3v13.6h-7.2v-13.6zM827.3,1089.7v27.2h-7.2v-27.2zM827.3,1123.7v13.6h-7.2v-13.6zM827.3,1144.1v27.2h-7.2v-27.2zM827.3,1178.1v13.6h-7.2v-13.6zM827.4,1198.5v27.2h-7.2v-27.2zM827.4,1232.5v13.6h-7.2v-13.6zM827.4,1252.9v27.2h-7.2v-27.2zM827.4,1286.9v13.6h-7.2v-13.6zM827.4,1307.3v27.2h-7.2v-27.2zM827.4,1341.3v13.6h-7.2v-13.6zM827.4,1361.7l0.1,27.2h-7.2l-0.1,-27.2zM827.5,1395.7v13.6h-7.2v-13.6zM827.5,1416.1v27.2h-7.2v-27.2zM827.5,1450.1v13.6h-7.2v-13.6zM827.5,1470.5v14.1h-7.2v-14.1zM825.4,1484.6v-23.2h7.2v23.2zM825.4,1454.6l0.1,-13.6h7.2l-0.1,13.6zM825.5,1434.2v-27.2h7.2v27.2zM825.5,1400.2v-13.6h7.2v13.6zM825.5,1379.8v-27.2h7.2v27.2zM825.5,1345.8v-13.6h7.2v13.6zM825.5,1325.4v-27.2h7.2v27.2zM825.5,1291.4v-13.6h7.2v13.6zM825.6,1271v-27.2h7.2v27.2zM825.6,1237v-13.6h7.2v13.6zM825.6,1216.6v-27.2h7.2v27.2zM825.6,1182.6v-13.6h7.2v13.6zM825.6,1162.2v-27.2h7.2v27.2zM825.6,1128.2v-13.6h7.2v13.6zM825.6,1107.8l0.1,-27.2h7.2l-0.1,27.2zM825.7,1073.8v-13.6h7.2v13.6zM825.7,1053.4v-27.2h7.2v27.2zM825.7,1019.4v-13.6h7.2v13.6zM825.7,999v-27.2h7.2v27.2zM825.7,965v-13.6h7.2v13.6zM825.7,944.6l0.1,-27.2h7.2l-0.1,27.2zM825.8,910.6v-13.6h7.2v13.6zM825.8,890.2v-27.2h7.2v27.2zM825.8,856.2v-13.6h7.2v13.6zM825.8,835.8v-27.2h7.2v27.2zM825.8,801.8v-13.6h7.2v13.6zM825.8,781.4l0.1,-27.2h7.2l-0.1,27.2zM825.9,747.4v-13.6h7.2v13.6zM825.9,727v-27.2h7.2v27.2zM825.9,693v-13.6h7.2v13.6zM825.9,672.6v-27.2h7.2v27.2zM825.9,638.6v-4.9l0.3,-8.8l7.2,0.2l-0.3,8.7v4.8zM826.4,618.1l0.9,-27.2l7.2,0.2l-0.9,27.2zM827.6,584.1l0.4,-13.6l7.2,0.2l-0.4,13.6zM828.2,563.7l0.8,-22.8l7.2,0.3l-0.8,22.7zM836.2,540.8l0.3,4.5l-7.2,0.4l-0.3,-4.4zM836.9,552.1l0.9,13.6l-7.1,0.4l-1,-13.6zM838.3,572.5l0.9,14v13.4h-7.2v-13.1l-0.9,-13.9zM839.2,606.7v13.6h-7.2v-13.6zM839.3,627.1v27.2h-7.2v-27.2zM839.3,661.1v13.6h-7.2v-13.6zM839.3,681.5v27.2h-7.2v-27.2zM839.3,715.5v13.6h-7.2v-13.6zM839.3,735.9v27.2h-7.2v-27.2zM839.3,769.9v13.6h-7.2v-13.6zM839.3,790.3l0.1,27.2h-7.2l-0.1,-27.2zM839.4,824.3v13.6h-7.2v-13.6zM839.4,844.7v27.2h-7.2v-27.2zM839.4,878.7v13.6h-7.2v-13.6zM839.4,899.1v27.2h-7.2v-27.2zM839.4,933.1v13.6h-7.2v-13.6zM839.4,953.5l0.1,27.2h-7.2l-0.1,-27.2zM839.5,987.5v13.6h-7.2v-13.6zM839.5,1007.9v27.2h-7.2v-27.2zM839.5,1041.9v13.6h-7.2v-13.6zM839.5,1062.3v27.2h-7.2v-27.2zM839.5,1096.3v13.6h-7.2v-13.6zM839.5,1116.7l0.1,27.2h-7.2l-0.1,-27.2zM839.6,1150.7v13.6h-7.2v-13.6zM839.6,1171.1v27.2h-7.2v-27.2zM839.6,1205.1v13.6h-7.2v-13.6zM839.6,1225.5v27.2h-7.2v-27.2zM839.6,1259.5v13.6h-7.2v-13.6zM839.6,1279.9l0.1,27.2h-7.2l-0.1,-27.2zM839.7,1313.9v13.6h-7.2v-13.6zM839.7,1334.3v27.2h-7.2v-27.2zM839.7,1368.3v13.6h-7.2v-13.6zM839.7,1388.7v27.2h-7.2v-27.2zM839.7,1422.7v13.6h-7.2v-13.6zM839.7,1443.1v27.2h-7.2v-27.2zM839.8,1477.1v7.5h-7.2v-7.5zM837.6,1484.6v-23.2h7.2v23.2zM837.6,1454.6v-13.6h7.2v13.6zM837.6,1434.2v-27.2h7.2v27.2zM837.6,1400.2v-13.6h7.2v13.6zM837.6,1379.8v-27.2h7.2v27.2zM837.6,1345.8v-13.6h7.2v13.6zM837.7,1325.4v-27.2h7.2v27.2zM837.7,1291.4v-13.6h7.2v13.6zM837.7,1271v-27.2h7.2v27.2zM837.7,1237v-13.6h7.2v13.6zM837.7,1216.6v-27.2h7.2v27.2zM837.7,1182.6v-13.6h7.2v13.6zM837.7,1162.2l0.1,-27.2h7.2l-0.1,27.2zM837.8,1128.2v-13.6h7.2v13.6zM837.8,1107.8v-27.2h7.2v27.2zM837.8,1073.8v-13.6h7.2v13.6zM837.8,1053.4v-27.2h7.2v27.2zM837.8,1019.4v-13.6h7.2v13.6zM837.8,999l0.1,-27.2h7.2l-0.1,27.2zM837.9,965v-13.6h7.2v13.6zM837.9,944.6v-27.2h7.2v27.2zM837.9,910.6v-13.6h7.2v13.6zM837.9,890.2v-27.2h7.2v27.2zM837.9,856.2v-13.6h7.2v13.6zM837.9,835.8l0.1,-27.2h7.2l-0.1,27.2zM838,801.8v-13.6h7.2v13.6zM838,781.4v-27.2h7.2v27.2zM838,747.4v-13.6h7.2v13.6zM838,727v-27.2h7.2v27.2zM838,693v-13.6h7.2v13.6zM838,672.6v-27.2h7.2v27.2zM838.1,638.6v-13.6h7.2v13.6zM838.1,618.2v-27.2h7.2v27.2zM838.1,584.2v-13.6h7.2v13.6zM838.1,563.8v-27.2h7.2v27.2zM838.1,529.8v-13.6h7.2v13.6zM838.1,509.3l0.6,-27.2l7.2,0.2l-0.6,27.2zM838.8,475.3l0.3,-13.6l7.2,0.2l-0.3,13.6zM839.3,454.9l0.6,-27.2l7.2,0.2l-0.6,27.2zM840,420.9l0.3,-13.6l7.2,0.2l-0.3,13.6zM840.5,400.5l0.6,-27.2l7.2,0.2l-0.6,27.2zM841.3,366.4l0.7,-13.6l7.2,0.4l-0.8,13.6zM842.3,346l1.5,-27.2l7.2,0.4l-1.5,27.2zM844.1,312l0.2,-2.1l2.6,-12l6.9,1.4l-2.4,11.5l-0.1,1.6zM855.8,298.9l0.7,2.1l2.7,3.8l-4.5,3.5l-3.4,-4.1l-1.4,-2.5zM854.1,305.1l3.3,-6.5l3.3,-4.3l4.7,3.5l-2.7,4l-2.8,6.1zM864.9,294.3l3,2.8l1.1,0.8l1.4,-1.5l1.5,-1.3l3.5,4.5l-1.4,0.9l-4.6,4.6l-5.1,-4l-3,-3.2zM882,296.5l-0.8,-0.3l1.6,-1.1l4.5,-2.6l6.2,2.8l-0.9,0.4l2.8,5.9l-1.8,0.9l-6,-2.8l-1.6,0.7l-4.5,2.9l-2.6,-1.3zM902,293.3l3.7,1.4l6.1,-2.2l6.2,1.9l6,-1.9l5,1.3l-1.9,6.7l-3,-0.8l-6.1,1.9l-6.1,-1.9l-6.1,2.2l-6.2,-2.2zM933.9,293.1l2.3,-0.6l6.1,1.5l5.3,-1.3l1.7,6.8l-7,1.7l-6,-1.5l-0.6,0.1zM954.5,293.8l6.1,-1.3l6.1,1.2l6.1,-1.2l6.1,1.1l2.9,-0.5l1.3,6.9l-4.2,0.8l-6,-1.1l-6.2,1.2l-6,-1.2l-4.7,1zM989.8,293.3l1.3,0.2l6.1,-1l6.2,1l-1.2,7l-5,-0.8l-6.1,1l-2.5,-0.4zM1010.2,292.6l5.3,0.8l6.1,-0.9l6.1,0.9l6.1,-0.9l3.5,0.5l-1,7l-2.5,-0.3l-6.1,0.9l-6.1,-0.9l-6.1,0.9l-6.4,-1zM1043.1,292.9l2.9,-0.4l6.1,0.8l4.6,-0.6l1,7l-5.6,0.8l-6.1,-0.8l-1.9,0.2zM1063.6,293.3l6.8,-0.8l6.1,0.7l6.1,-0.7l6.1,0.7l2.1,-0.2l0.9,7l-3,0.4l-6.1,-0.7l-6.1,0.7l-6.1,-0.7l-6,0.7zM1098.5,292.9l2.4,0.3l6.1,-0.7l5,0.6l-0.8,7.1l-4.2,-0.5l-6.1,0.7l-3.3,-0.4zM1118,292.6l1.2,-0.1l6.1,0.7l6.1,-0.7l6.1,0.7l6.1,-0.7l2.4,0.2l-0.8,7.1l-1.6,-0.1l-6.1,0.7l-6.1,-0.7l-6.1,0.7l-6.1,-0.7h-0.4zM1152,292.9l3.8,-0.4l6.1,0.6l3.7,-0.4l0.8,7.1l-4.5,0.5l-6.1,-0.6l-3,0.3zM1173.2,293l0.9,0.1l6.1,-0.6l6.1,0.6l6.1,-0.6l6.1,0.6l1.1,-0.1l0.8,7.1l-1.9,0.2l-6.1,-0.6l-6.1,0.6l-6.1,-0.6l-6.1,0.6l-1.7,-0.2zM1207.2,292.7l3.5,0.4l6.1,-0.6l4,0.4l-0.8,7.1l-3.2,-0.3l-6.1,0.6l-4.3,-0.4zM1226.8,292.7l2.2,-0.2l6,0.6l6.1,-0.6l6.1,0.6l6.1,-0.6l1.5,0.1l-0.8,7.1h-0.7l-6.1,0.6l-6.1,-0.6l-6.1,0.6l-6,-0.6l-1.4,0.1zM1260.8,293l4.7,-0.5l6.1,0.6l2.8,-0.3l0.8,7.1l-3.6,0.4l-6.1,-0.6l-3.9,0.4zM1282,292.9l1.8,0.2l6.1,-0.6l6.1,0.6l6.1,-0.6l6.1,0.6h0.2l0.8,7.1l-1,0.1l-6.1,-0.6l-6.1,0.6l-6.1,-0.6l-6.1,0.6l-2.6,-0.3zM1316,292.6l4.4,0.5l6.1,-0.6l3.1,0.3l-0.8,7.1l-2.3,-0.2l-6.1,0.6l-5.2,-0.5zM1335.6,292.8l3.1,-0.3l6.1,0.7l6.1,-0.7l6.1,0.7l5.8,-0.7l0.8,7.1l-6.6,0.8l-6.1,-0.7l-6.1,0.7l-6.1,-0.7l-2.3,0.2zM1369.6,293.2l5.7,-0.7l6.1,0.7l1.8,-0.2l0.9,7.1l-2.7,0.3l-6.1,-0.7l-4.8,0.6zM1390.9,292.9l2.7,0.3l6.1,-0.7l6.1,0.8l6.1,-0.8l6.2,0.8l-1,7.1l-5.2,-0.7l-6.1,0.8l-6.1,-0.8l-6.1,0.7l-3.6,-0.4zM1424.9,292.6l5.3,0.7l6.1,-0.8l2.2,0.3l-1,7l-1.2,-0.1l-6.1,0.8l-6.3,-0.9zM1444.3,293.1l4.2,-0.6l6.1,0.9l6.1,-0.9l6.1,1l4.6,-0.8l1.2,7l-5.8,1l-6.1,-1l-6.1,0.9l-6.1,-0.9l-3.1,0.4zM1478.2,293.6l6.9,-1.1l6.1,1.1l0.6,-0.1l1.3,7l-1.9,0.3l-6.2,-1.1l-5.6,0.9zM1499.9,293l3.5,0.7l6.1,-1.2l6.1,1.3l6.1,-1.3l5.5,1.3l-1.6,6.8l-4,-0.9l-6,1.3l-6.2,-1.3l-6,1.2l-4.9,-1zM1532.4,292.8l1.5,-0.3l6.1,1.6l6.1,-1.6l1.7,0.5l-2,6.6l0.2,0.1l-6,1.6l-6.2,-1.6l0.3,-0.1zM1552.6,294.3l5.7,-1.8l6,2.2l6.3,-2.2l6,2.8l2.9,-1.3l2.7,5.9l-5.7,2.6l-6.2,-2.8l-6,2.2l-6.1,-2.2l-3.5,1.1zM1589.3,296.5l-0.4,-0.3l1.3,-0.8l4.8,-2.9l4.7,3.9l1.4,1.5l-1.6,1.1l3.5,4.5l-2.3,1.6l-4.6,-4.6l-1.4,-0.8l-1.3,1l-4.8,2.6l-2.6,-1.8zM1610.1,295.3l2.6,3.3l3.3,6.5l-5.8,2.8l-2.8,-6.1l-2,-3zM1610.9,304.8l2.7,-3.8l2.7,-6.3l5.9,2.7l-3.4,6.8l-3.4,4.1zM1622.7,295.3l1.5,7.3l-6.9,1.5l-1.5,-7.3zM1625.8,309.9l0.8,13.6l-7.2,0.4l-0.8,-13.6zM1626.9,330.3l1.5,27.2l-7.2,0.4l-1.4,-27.2zM1628.7,364.4l0.4,13.6l-7.2,0.2l-0.4,-13.6zM1629.3,384.9l0.6,27.2l-7.2,0.1l-0.6,-27.2zM1630,418.9l0.3,13.6l-7.2,0.1l-0.3,-13.6zM1630.5,439.3l0.6,27.2l-7.2,0.1l-0.6,-27.2zM1631.2,473.3l0.3,13.6l-7.2,0.1l-0.3,-13.6zM1631.7,493.7l0.3,14.5v12.7h-7.2v-12.6l-0.3,-14.5zM1632,527.7v13.6h-7.2v-13.6zM1632,548.1v27.2h-7.2v-27.2zM1632,582.1v13.6h-7.2v-13.6zM1632,602.5v27.2h-7.2v-27.2zM1632,636.5l0.1,13.6h-7.2l-0.1,-13.6zM1632.1,656.9v27.2h-7.2v-27.2zM1632.1,690.9v13.6h-7.2v-13.6zM1632.1,711.3v27.2h-7.2v-27.2zM1632.1,745.3v13.6h-7.2v-13.6zM1632.1,765.7v27.2h-7.2v-27.2zM1632.1,799.7l0.1,13.6h-7.2l-0.1,-13.6zM1632.2,820.1v27.2h-7.2v-27.2zM1632.2,854.1v13.6h-7.2v-13.6zM1632.2,874.5v27.2h-7.2v-27.2zM1632.2,908.5v13.6h-7.2v-13.6zM1632.2,928.9v27.2h-7.2v-27.2zM1632.2,962.9v13.6h-7.2v-13.6zM1632.2,983.3l0.1,27.2h-7.2l-0.1,-27.2zM1632.3,1017.3v13.6h-7.2v-13.6zM1632.3,1037.7v27.2h-7.2v-27.2zM1632.3,1071.7v13.6h-7.2v-13.6zM1632.3,1092.1v27.2h-7.2v-27.2zM1632.3,1126.1v13.6h-7.2v-13.6zM1632.3,1146.5l0.1,27.2h-7.2l-0.1,-27.2zM1632.4,1180.5v13.6h-7.2v-13.6zM1632.4,1200.9v27.2h-7.2v-27.2zM1632.4,1234.9v13.6h-7.2v-13.6zM1632.4,1255.3v27.2h-7.2v-27.2zM1632.4,1289.3v13.6h-7.2v-13.6zM1632.4,1309.7l0.1,27.2h-7.2l-0.1,-27.2zM1632.5,1343.7v13.6h-7.2v-13.6zM1632.5,1364.1v27.2h-7.2v-27.2zM1632.5,1398.1v13.6h-7.2v-13.6zM1632.5,1418.5v27.2h-7.2v-27.2zM1632.5,1452.5v13.6h-7.2v-13.6zM1632.5,1472.9v11.7h-7.2v-11.7zM1630.3,1484.6l0.1,-23.2h7.2l-0.1,23.2zM1630.4,1454.6v-13.6h7.2v13.6zM1630.4,1434.2v-27.2h7.2v27.2zM1630.4,1400.2v-13.6h7.2v13.6zM1630.4,1379.8v-27.2h7.2v27.2zM1630.4,1345.8v-13.6h7.2v13.6zM1630.4,1325.4l0.1,-27.2h7.2l-0.1,27.2zM1630.5,1291.4v-13.6h7.2v13.6zM1630.5,1271v-27.2h7.2v27.2zM1630.5,1237v-13.6h7.2v13.6zM1630.5,1216.6v-27.2h7.2v27.2zM1630.5,1182.6v-13.6h7.2v13.6zM1630.5,1162.2v-27.2h7.2v27.2zM1630.6,1128.2v-13.6h7.2v13.6zM1630.6,1107.8v-27.2h7.2v27.2zM1630.6,1073.8v-13.6h7.2v13.6zM1630.6,1053.4v-27.2h7.2v27.2zM1630.6,1019.4v-13.6h7.2v13.6zM1630.6,999v-27.2h7.2v27.2zM1630.6,965l0.1,-13.6h7.2l-0.1,13.6zM1630.7,944.6v-27.2h7.2v27.2zM1630.7,910.6v-13.6h7.2v13.6zM1630.7,890.2v-27.2h7.2v27.2zM1630.7,856.2v-13.6h7.2v13.6zM1630.7,835.8v-27.2h7.2v27.2zM1630.7,801.8l0.1,-13.6h7.2l-0.1,13.6zM1630.8,781.4v-27.2h7.2v27.2zM1630.8,747.4v-13.6h7.2v13.6zM1630.8,727v-27.2h7.2v27.2zM1630.8,693v-13.6h7.2v13.6zM1630.8,672.6v-27.2h7.2v27.2zM1630.8,638.6v-13.6h7.2v13.6zM1630.9,618.2v-27.2h7.2v27.2zM1631.1,584l0.9,-13.6l7.1,0.4l-0.9,13.6zM1632.4,563.6l1.5,-22.8l7.2,0.5l-1.5,22.7zM1641.1,540.9l0.2,4.5l-7.2,0.2l-0.2,-4.4zM1641.5,552.2l0.4,13.6l-7.2,0.2l-0.4,-13.6zM1642.2,572.6l0.9,27.2l-7.2,0.2l-0.9,-27.2zM1643.3,606.6l0.4,13.6l-7.2,0.2l-0.4,-13.6zM1643.9,627l0.3,6.7v20.6h-7.2v-20.5l-0.2,-6.6zM1644.2,661.1v13.6h-7.2v-13.6zM1644.2,681.5v27.2h-7.2v-27.2zM1644.2,715.5v13.6h-7.2v-13.6zM1644.2,735.9v27.2h-7.2v-27.2zM1644.3,769.9v13.6h-7.2v-13.6zM1644.3,790.3v27.2h-7.2v-27.2zM1644.3,824.3v13.6h-7.2v-13.6zM1644.3,844.7v27.2h-7.2v-27.2zM1644.3,878.7v13.6h-7.2v-13.6zM1644.3,899.1v27.2h-7.2v-27.2zM1644.3,933.1l0.1,13.6h-7.2l-0.1,-13.6zM1644.4,953.5v27.2h-7.2v-27.2zM1644.4,987.5v13.6h-7.2v-13.6zM1644.4,1007.9v27.2h-7.2v-27.2zM1644.4,1041.9v13.6h-7.2v-13.6zM1644.4,1062.3v27.2h-7.2v-27.2zM1644.4,1096.3l0.1,13.6h-7.2l-0.1,-13.6zM1644.5,1116.7v27.2h-7.2v-27.2zM1644.5,1150.7v13.6h-7.2v-13.6zM1644.5,1171.1v27.2h-7.2v-27.2zM1644.5,1205.1v13.6h-7.2v-13.6zM1644.5,1225.5v27.2h-7.2v-27.2zM1644.5,1259.5v13.6h-7.2v-13.6zM1644.6,1279.9v27.2h-7.2v-27.2zM1644.6,1313.9v13.6h-7.2v-13.6zM1644.6,1334.3v27.2h-7.2v-27.2zM1644.6,1368.3v13.6h-7.2v-13.6zM1644.6,1388.7v27.2h-7.2v-27.2zM1644.6,1422.7v13.6h-7.2v-13.6zM1644.7,1443.1v27.2h-7.2v-27.2zM1644.7,1477.1v7.5h-7.2v-7.5zM1642.6,1484.6v-23.2h7.2v23.2zM1642.6,1454.6v-13.6h7.2v13.6zM1642.6,1434.2v-27.2h7.2v27.2zM1642.6,1400.2v-13.6h7.2v13.6zM1642.6,1379.8l0.1,-27.2h7.2l-0.1,27.2zM1642.7,1345.8v-13.6h7.2v13.6zM1642.7,1325.4v-27.2h7.2v27.2zM1642.7,1291.4v-13.6h7.2v13.6zM1642.7,1271v-27.2h7.2v27.2zM1642.7,1237v-13.6h7.2v13.6zM1642.7,1216.6l0.1,-27.2h7.2l-0.1,27.2zM1642.8,1182.6v-13.6h7.2v13.6zM1642.8,1162.2v-27.2h7.2v27.2zM1642.8,1128.2v-13.6h7.2v13.6zM1642.8,1107.8v-27.2h7.2v27.2zM1642.8,1073.8v-13.6h7.2v13.6zM1642.8,1053.4l0.1,-27.2h7.2l-0.1,27.2zM1642.9,1019.4v-13.6h7.2v13.6zM1642.9,999v-27.2h7.2v27.2zM1642.9,965v-13.6h7.2v13.6zM1642.9,944.6v-27.2h7.2v27.2zM1642.9,910.6v-13.6h7.2v13.6zM1642.9,890.2l0.1,-27.2h7.2l-0.1,27.2zM1643,856.2v-13.6h7.2v13.6zM1643,835.8v-27.2h7.2v27.2zM1643,801.8v-13.6h7.2v13.6zM1643,781.4v-27.2h7.2v27.2zM1643,747.4v-13.6h7.2v13.6zM1643,727v-27.2h7.2v27.2zM1643.1,693v-13.6h7.2v13.6zM1643.1,672.6v-5.6l1.1,-21.8l7.2,0.4l-1.1,21.6v5.4zM1644.6,638.4l0.7,-13.6l7.2,0.4l-0.7,13.6zM1645.7,618l0.4,-9l7.2,0.4l-0.5,9zM1653.3,609l0.7,18.2l-7.2,0.3l-0.7,-18.2zM1654.2,634l0.5,13.6l-7.2,0.3l-0.5,-13.6zM1655,654.4l1,27.2l-7.2,0.3l-1,-27.2zM1656.2,688.4l0.2,4.4v9.3h-7.2v-9.2l-0.2,-4.2zM1656.4,708.9v27.2h-7.2v-27.2zM1656.4,742.9v13.6h-7.2v-13.6zM1656.4,763.3v27.2h-7.2v-27.2zM1656.4,797.3v13.6h-7.2v-13.6zM1656.4,817.7l0.1,27.2h-7.2l-0.1,-27.2zM1656.5,851.7v13.6h-7.2v-13.6zM1656.5,872.1v27.2h-7.2v-27.2zM1656.5,906.1v13.6h-7.2v-13.6zM1656.5,926.5v27.2h-7.2v-27.2zM1656.5,960.5v13.6h-7.2v-13.6zM1656.5,980.9l0.1,27.2h-7.2l-0.1,-27.2zM1656.6,1014.9v13.6h-7.2v-13.6zM1656.6,1035.3v27.2h-7.2v-27.2zM1656.6,1069.3v13.6h-7.2v-13.6zM1656.6,1089.7v27.2h-7.2v-27.2zM1656.6,1123.7v13.6h-7.2v-13.6zM1656.6,1144.1l0.1,27.2h-7.2l-0.1,-27.2zM1656.7,1178.1v13.6h-7.2v-13.6zM1656.7,1198.5v27.2h-7.2v-27.2zM1656.7,1232.5v13.6h-7.2v-13.6zM1656.7,1252.9v27.2h-7.2v-27.2zM1656.7,1286.9v13.6h-7.2v-13.6zM1656.7,1307.3l0.1,27.2h-7.2l-0.1,-27.2zM1656.8,1341.3v13.6h-7.2v-13.6zM1656.8,1361.7v27.2h-7.2v-27.2zM1656.8,1395.7v13.6h-7.2v-13.6zM1656.8,1416.1v27.2h-7.2v-27.2zM1656.8,1450.1v13.6h-7.2v-13.6zM1656.8,1470.5v14.1h-7.2v-14.1zM1654.8,1484.6v-23.2h7.2v23.2zM1654.8,1454.6v-13.6h7.2v13.6zM1654.8,1434.2v-27.2h7.2v27.2zM1654.8,1400.2l0.1,-13.6h7.2l-0.1,13.6zM1654.9,1379.8v-27.2h7.2v27.2zM1654.9,1345.8v-13.6h7.2v13.6zM1654.9,1325.4v-27.2h7.2v27.2zM1654.9,1291.4v-13.6h7.2v13.6zM1654.9,1271v-27.2h7.2v27.2zM1654.9,1237l0.1,-13.6h7.2l-0.1,13.6zM1655,1216.6v-27.2h7.2v27.2zM1655,1182.6v-13.6h7.2v13.6zM1655,1162.2v-27.2h7.2v27.2zM1655,1128.2v-13.6h7.2v13.6zM1655,1107.8v-27.2h7.2v27.2zM1655,1073.8l0.1,-13.6h7.2l-0.1,13.6zM1655.1,1053.4v-27.2h7.2v27.2zM1655.1,1019.4v-13.6h7.2v13.6zM1655.1,999v-27.2h7.2v27.2zM1655.1,965v-13.6h7.2v13.6zM1655.1,944.6v-27.2h7.2v27.2zM1655.1,910.6l0.1,-13.6h7.2l-0.1,13.6zM1655.2,890.2v-27.2h7.2v27.2zM1655.2,856.2v-13.6h7.2v13.6zM1655.2,835.8v-27.2h7.2v27.2zM1655.2,801.8v-13.6h7.2v13.6zM1655.2,781.4v-27.2h7.2v27.2zM1655.2,747.4l0.1,-13.6h7.2l-0.1,13.6zM1655.3,727v-13.3l0.7,-14.1l7.1,0.4l-0.6,13.9v13.1zM1656.3,692.8l0.7,-13.6l7.1,0.4l-0.6,13.6zM1657.3,672.4l1,-21.1l7.2,0.3l-1,21.2zM1665.5,651.3l0.2,6.1l-7.2,0.3l-0.2,-6.1zM1666,664.2l0.5,13.6l-7.2,0.3l-0.5,-13.6zM1666.8,684.6l1,27.2l-7.2,0.3l-1,-27.2zM1668.1,718.6l0.5,13.6l-7.2,0.3l-0.5,-13.6zM1668.6,739.1v27.2h-7.2v-27.2zM1668.6,773.1v13.6h-7.2v-13.6zM1668.6,793.5v27.2h-7.2v-27.2zM1668.6,827.5v13.6h-7.2v-13.6zM1668.6,847.9v27.2h-7.2v-27.2zM1668.7,881.9v13.6h-7.2v-13.6zM1668.7,902.3v27.2h-7.2v-27.2zM1668.7,936.3v13.6h-7.2v-13.6zM1668.7,956.7v27.2h-7.2v-27.2zM1668.7,990.7v13.6h-7.2v-13.6zM1668.7,1011.1v27.2h-7.2v-27.2zM1668.8,1045.1v13.6h-7.2v-13.6zM1668.8,1065.5v27.2h-7.2v-27.2zM1668.8,1099.5v13.6h-7.2v-13.6zM1668.8,1119.9v27.2h-7.2v-27.2zM1668.8,1153.9v13.6h-7.2v-13.6zM1668.8,1174.3v27.2h-7.2v-27.2zM1668.9,1208.3v13.6h-7.2v-13.6zM1668.9,1228.7v27.2h-7.2v-27.2zM1668.9,1262.7v13.6h-7.2v-13.6zM1668.9,1283.1v27.2h-7.2v-27.2zM1668.9,1317.1v13.6h-7.2v-13.6zM1668.9,1337.5v27.2h-7.2v-27.2zM1668.9,1371.5l0.1,13.6h-7.2l-0.1,-13.6zM1669,1391.9v27.2h-7.2v-27.2zM1669,1425.9v13.6h-7.2v-13.6zM1669,1446.3v27.2h-7.2v-27.2zM1669,1480.3v4.3h-7.2v-4.3zM1667,1484.6v-23.2h7.2v23.2zM1667,1454.6v-13.6h7.2v13.6zM1667,1434.2l0.1,-27.2h7.2l-0.1,27.2zM1667.1,1400.2v-13.6h7.2v13.6zM1667.1,1379.8v-27.2h7.2v27.2zM1667.1,1345.8v-13.6h7.2v13.6zM1667.1,1325.4v-27.2h7.2v27.2zM1667.1,1291.4v-13.6h7.2v13.6zM1667.1,1271l0.1,-27.2h7.2l-0.1,27.2zM1667.2,1237v-13.6h7.2v13.6zM1667.2,1216.6v-27.2h7.2v27.2zM1667.2,1182.6v-13.6h7.2v13.6zM1667.2,1162.2v-27.2h7.2v27.2zM1667.2,1128.2v-13.6h7.2v13.6zM1667.2,1107.8l0.1,-27.2h7.2l-0.1,27.2zM1667.3,1073.8v-13.6h7.2v13.6zM1667.3,1053.4v-27.2h7.2v27.2zM1667.3,1019.4v-13.6h7.2v13.6zM1667.3,999v-27.2h7.2v27.2zM1667.3,965v-13.6h7.2v13.6zM1667.3,944.6l0.1,-27.2h7.2l-0.1,27.2zM1667.4,910.6v-13.6h7.2v13.6zM1667.4,890.2v-27.2h7.2v27.2zM1667.4,856.2v-13.6h7.2v13.6zM1667.4,835.8v-27.2h7.2v27.2zM1667.4,801.8v-13.6h7.2v13.6zM1667.4,781.4l0.1,-27.2h7.2l-0.1,27.2zM1667.5,747.2l0.6,-13.6l7.2,0.4l-0.6,13.6zM1668.4,726.8l1.3,-27.2l7.2,0.4l-1.3,27.2zM1670,692.8l0.5,-10.7l7.2,0.4l-0.5,10.7zM1677.7,682.1l0.1,2.9l-7.2,0.3l-0.1,-2.9zM1678.1,691.8l1,27.2l-7.1,0.3l-1.1,-27.2zM1679.4,725.8l0.5,13.6l-7.1,0.3l-0.6,-13.6zM1680.2,746.2l0.6,14.1v13.3h-7.2v-13.1l-0.6,-14zM1680.8,780.4v13.6h-7.2v-13.6zM1680.8,800.8v27.2h-7.2v-27.2zM1680.8,834.8v13.6h-7.2v-13.6zM1680.8,855.2v27.2h-7.2v-27.2zM1680.8,889.2v13.6h-7.2v-13.6zM1680.8,909.6l0.1,27.2h-7.2l-0.1,-27.2zM1680.9,943.6v13.6h-7.2v-13.6zM1680.9,964v27.2h-7.2v-27.2zM1680.9,998v13.6h-7.2v-13.6zM1680.9,1018.4v27.2h-7.2v-27.2zM1680.9,1052.4v13.6h-7.2v-13.6zM1680.9,1072.8l0.1,27.2h-7.2l-0.1,-27.2zM1681,1106.8v13.6h-7.2v-13.6zM1681,1127.2v27.2h-7.2v-27.2zM1681,1161.2v13.6h-7.2v-13.6zM1681,1181.6v27.2h-7.2v-27.2zM1681,1215.6v13.6h-7.2v-13.6zM1681,1236l0.1,27.2h-7.2l-0.1,-27.2zM1681.1,1270v13.6h-7.2v-13.6zM1681.1,1290.4v27.2h-7.2v-27.2zM1681.1,1324.4v13.6h-7.2v-13.6zM1681.1,1344.8v27.2h-7.2v-27.2zM1681.1,1378.8v13.6h-7.2v-13.6zM1681.1,1399.2l0.1,27.2h-7.2l-0.1,-27.2zM1681.2,1433.2v13.6h-7.2v-13.6zM1681.2,1453.6v27.2h-7.2v-27.2zM1679.2,1484.6v-23.2h7.2v23.2zM1679.2,1454.6v-13.6h7.2v13.6zM1679.3,1434.2v-27.2h7.2v27.2zM1679.3,1400.2v-13.6h7.2v13.6zM1679.3,1379.8v-27.2h7.2v27.2zM1679.3,1345.8v-13.6h7.2v13.6zM1679.3,1325.4v-27.2h7.2v27.2zM1679.3,1291.4v-13.6h7.2v13.6zM1679.4,1271v-27.2h7.2v27.2zM1679.4,1237v-13.6h7.2v13.6zM1679.4,1216.6v-27.2h7.2v27.2zM1679.4,1182.6v-13.6h7.2v13.6zM1679.4,1162.2v-27.2h7.2v27.2zM1679.4,1128.2v-13.6h7.2v13.6zM1679.5,1107.8v-27.2h7.2v27.2zM1679.5,1073.8v-13.6h7.2v13.6zM1679.5,1053.4v-27.2h7.2v27.2zM1679.5,1019.4v-13.6h7.2v13.6zM1679.5,999v-27.2h7.2v27.2zM1679.5,965v-13.6h7.2v13.6zM1679.6,944.6v-27.2h7.2v27.2zM1679.6,910.6v-13.6h7.2v13.6zM1679.6,890.2v-27.2h7.2v27.2zM1679.6,856.2v-13.6h7.2v13.6zM1679.6,835.8v-27.2h7.2v27.2zM1679.6,801.8v-13.6h7.2v13.6zM1679.7,781.4v-8.9l0.8,-18.5l7.2,0.4l-0.8,18.2v8.8zM1680.8,747.2l0.7,-13.6l7.1,0.4l-0.6,13.6zM1681.8,726.8l0.9,-20.3l7.2,0.3l-0.9,20.4zM1689.9,706.5l0.3,6.8l-7.2,0.3l-0.3,-6.8zM1690.4,720.1l0.6,13.6l-7.2,0.3l-0.5,-13.6zM1691.2,740.5l1.1,27.2l-7.2,0.3l-1,-27.2zM1692.6,774.5l0.4,9v4.8h-7.2v-4.7l-0.4,-8.8zM1693,795.1v27.2h-7.2v-27.2zM1693,829.1v13.6h-7.2v-13.6zM1693,849.5v27.2h-7.2v-27.2zM1693,883.5v13.6h-7.2v-13.6zM1693,903.9v27.2h-7.2v-27.2zM1693,937.9l0.1,13.6h-7.2l-0.1,-13.6zM1693.1,958.3v27.2h-7.2v-27.2zM1693.1,992.3v13.6h-7.2v-13.6zM1693.1,1012.7v27.2h-7.2v-27.2zM1693.1,1046.7v13.6h-7.2v-13.6zM1693.1,1067.1v27.2h-7.2v-27.2zM1693.1,1101.1l0.1,13.6h-7.2l-0.1,-13.6zM1693.2,1121.5v27.2h-7.2v-27.2zM1693.2,1155.5v13.6h-7.2v-13.6zM1693.2,1175.9v27.2h-7.2v-27.2zM1693.2,1209.9v13.6h-7.2v-13.6zM1693.2,1230.3v27.2h-7.2v-27.2zM1693.2,1264.3l0.1,13.6h-7.2l-0.1,-13.6zM1693.3,1284.7v27.2h-7.2v-27.2zM1693.3,1318.7v13.6h-7.2v-13.6zM1693.3,1339.1v27.2h-7.2v-27.2zM1693.3,1373.1v13.6h-7.2v-13.6zM1693.3,1393.5v27.2h-7.2v-27.2zM1693.3,1427.5l0.1,13.6h-7.2l-0.1,-13.6zM1693.4,1447.9v27.2h-7.2v-27.2zM1693.4,1481.9v2.7h-7.2v-2.7zM1691.4,1484.6v-23.2h7.2v23.2zM1691.4,1454.6l0.1,-13.6h7.2l-0.1,13.6zM1691.5,1434.2v-27.2h7.2v27.2zM1691.5,1400.2v-13.6h7.2v13.6zM1691.5,1379.8v-27.2h7.2v27.2zM1691.5,1345.8v-13.6h7.2v13.6zM1691.5,1325.4v-27.2h7.2v27.2zM1691.5,1291.4l0.1,-13.6h7.2l-0.1,13.6zM1691.6,1271v-27.2h7.2v27.2zM1691.6,1237v-13.6h7.2v13.6zM1691.6,1216.6v-27.2h7.2v27.2zM1691.6,1182.6v-13.6h7.2v13.6zM1691.6,1162.2v-27.2h7.2v27.2zM1691.6,1128.2l0.1,-13.6h7.2l-0.1,13.6zM1691.7,1107.8v-27.2h7.2v27.2zM1691.7,1073.8v-13.6h7.2v13.6zM1691.7,1053.4v-27.2h7.2v27.2zM1691.7,1019.4v-13.6h7.2v13.6zM1691.7,999v-27.2h7.2v27.2zM1691.7,965l0.1,-13.6h7.2l-0.1,13.6zM1691.8,944.6v-27.2h7.2v27.2zM1691.8,910.6v-13.6h7.2v13.6zM1691.8,890.2v-27.2h7.2v27.2zM1691.8,856.2v-13.6h7.2v13.6zM1691.8,835.8v-27.2h7.2v27.2zM1691.8,801.8l0.1,-8.3l0.2,-5.5l7.2,0.4l-0.2,5.3l-0.1,8.1zM1692.4,781.2l1.3,-27.2l7.1,0.4l-1.2,27.2zM1694,747.2l0.6,-13.6l7.2,0.4l-0.6,13.6zM1694.9,726.8v-0.1l7.2,0.3v0.2zM1702.1,726.7l1.1,27l-7.2,0.3l-1.1,-27zM1703.5,760.5l0.5,13.6l-7.2,0.3l-0.5,-13.6zM1704.3,780.9l0.8,22l0.1,5.3l-7.2,0.1v-5.3l-0.9,-21.8zM1705.2,815v13.6l-7.2,0.1v-13.6zM1705.2,835.4v27.2l-7.2,0.1v-27.2zM1705.2,869.4v13.6l-7.2,0.1v-13.6zM1705.2,889.8v27.2l-7.2,0.1v-27.2zM1705.2,923.8v13.6l-7.2,0.1v-13.6zM1705.2,944.2l0.1,27.2l-7.2,0.1l-0.1,-27.2zM1705.3,978.2v13.6l-7.2,0.1v-13.6zM1705.3,998.6v27.2l-7.2,0.1v-27.2zM1705.3,1032.6v13.6l-7.2,0.1v-13.6zM1705.3,1053v27.2l-7.2,0.1v-27.2zM1705.3,1087v13.6l-7.2,0.1v-13.6zM1705.3,1107.4l0.1,27.2l-7.2,0.1l-0.1,-27.2zM1705.4,1141.4v13.6l-7.2,0.1v-13.6zM1705.4,1161.8v27.2l-7.2,0.1v-27.2zM1705.4,1195.8v13.6l-7.2,0.1v-13.6zM1705.4,1216.2v27.2l-7.2,0.1v-27.2zM1705.4,1250.2v13.6l-7.2,0.1v-13.6zM1705.4,1270.6l0.1,27.2l-7.2,0.1l-0.1,-27.2zM1705.5,1304.6v13.6l-7.2,0.1v-13.6zM1705.5,1325v27.2l-7.2,0.1v-27.2zM1705.5,1359v13.6l-7.2,0.1v-13.6zM1705.5,1379.4v27.2l-7.2,0.1v-27.2zM1705.5,1413.4v13.6l-7.2,0.1v-13.6zM1705.5,1433.8l0.1,27.2l-7.2,0.1l-0.1,-27.2zM1705.6,1467.8v13.6l-7.2,0.1v-13.6zM1703.6,1484.6v-23.2h7.2v23.2zM1703.7,1454.6v-13.6h7.2v13.6zM1703.7,1434.2v-27.2h7.2v27.2zM1703.7,1400.2v-13.6h7.2v13.6zM1703.7,1379.8v-27.2h7.2v27.2zM1703.7,1345.8v-13.6h7.2v13.6zM1703.7,1325.4v-27.2h7.2v27.2zM1703.8,1291.4v-13.6h7.2v13.6zM1703.8,1271v-27.2h7.2v27.2zM1703.8,1237v-13.6h7.2v13.6zM1703.8,1216.6v-27.2h7.2v27.2zM1703.8,1182.6v-13.6h7.2v13.6zM1703.8,1162.2v-27.2h7.2v27.2zM1703.9,1128.2v-13.6h7.2v13.6zM1703.9,1107.8v-27.2h7.2v27.2zM1703.9,1073.8v-13.6h7.2v13.6zM1703.9,1053.4v-27.2h7.2v27.2zM1703.9,1019.4v-13.6h7.2v13.6zM1703.9,999v-27.2h7.2v27.2zM1704,965v-13.6h7.2v13.6zM1704,944.6v-27.2h7.2v27.2zM1704,910.6v-13.6h7.2v13.6zM1704,890.2v-27.2h7.2v27.2zM1704,856.2v-13.6h7.2v13.6zM1704,835.8v-24.3l0.2,-3.1l7.2,0.4l-0.2,2.9v24.1zM1704.5,801.6l0.6,-13.6l7.2,0.4l-0.6,13.6zM1705.4,781.2l1.2,-27.2l7.2,0.4l-1.2,27.2zM1707,747.2l0.1,-3.2l7.2,0.3l-0.2,3.3zM1714.3,744l0.4,10.3l-7.2,0.3l-0.4,-10.3zM1715,761.1l1.1,27.2l-7.2,0.3l-1.1,-27.2zM1716.4,795.1l0.5,13.6l-7.2,0.3l-0.5,-13.6zM1717.2,815.5l0.1,4.1l0.1,23.3h-7.2l-0.1,-23.2l-0.1,-3.9zM1717.4,849.7v13.6h-7.2v-13.6zM1717.4,870.1v27.2h-7.2v-27.2zM1717.4,904.1v13.6h-7.2v-13.6zM1717.4,924.5v27.2h-7.2v-27.2zM1717.4,958.5v13.6h-7.2v-13.6zM1717.4,978.9l0.1,27.2h-7.2l-0.1,-27.2zM1717.5,1012.9v13.6h-7.2v-13.6zM1717.5,1033.3v27.2h-7.2v-27.2zM1717.5,1067.3v13.6h-7.2v-13.6zM1717.5,1087.7v27.2h-7.2v-27.2zM1717.5,1121.7v13.6h-7.2v-13.6zM1717.5,1142.1l0.1,27.2h-7.2l-0.1,-27.2zM1717.6,1176.1v13.6h-7.2v-13.6zM1717.6,1196.5v27.2h-7.2v-27.2zM1717.6,1230.5v13.6h-7.2v-13.6zM1717.6,1250.9v27.2h-7.2v-27.2zM1717.6,1284.9v13.6h-7.2v-13.6zM1717.6,1305.3l0.1,27.2h-7.2l-0.1,-27.2zM1717.7,1339.3v13.6h-7.2v-13.6zM1717.7,1359.7v27.2h-7.2v-27.2zM1717.7,1393.7v13.6h-7.2v-13.6zM1717.7,1414.1v27.2h-7.2v-27.2zM1717.7,1448.1v13.6h-7.2v-13.6zM1717.7,1468.5l0.1,16.1h-7.2l-0.1,-16.1zM1715.8,1484.6l0.1,-23.2h7.2l-0.1,23.2zM1715.9,1454.6v-13.6h7.2v13.6zM1715.9,1434.2v-27.2h7.2v27.2zM1715.9,1400.2v-13.6h7.2v13.6zM1715.9,1379.8v-27.2h7.2v27.2zM1715.9,1345.8v-13.6h7.2v13.6zM1715.9,1325.4l0.1,-27.2h7.2l-0.1,27.2zM1716,1291.4v-13.6h7.2v13.6zM1716,1271v-27.2h7.2v27.2zM1716,1237v-13.6h7.2v13.6zM1716,1216.6v-27.2h7.2v27.2zM1716,1182.6v-13.6h7.2v13.6zM1716,1162.2l0.1,-27.2h7.2l-0.1,27.2zM1716.1,1128.2v-13.6h7.2v13.6zM1716.1,1107.8v-27.2h7.2v27.2zM1716.1,1073.8v-13.6h7.2v13.6zM1716.1,1053.4v-27.2h7.2v27.2zM1716.1,1019.4v-13.6h7.2v13.6zM1716.1,999l0.1,-27.2h7.2l-0.1,27.2zM1716.2,965v-13.6h7.2v13.6zM1716.2,944.6v-27.2h7.2v27.2zM1716.2,910.6v-13.6h7.2v13.6zM1716.2,890.2v-27.2h7.2v27.2zM1716.2,856.2v-13.6h7.2v13.6zM1716.2,835.8v-8.6l0.9,-18.8l7.2,0.4l-0.9,18.5v8.5zM1717.4,801.6l0.6,-13.6l7.2,0.4l-0.6,13.6zM1718.3,781.2l1,-22l7.2,0.3l-1,22.1zM1726.5,759.2l0.2,5.1l-7.2,0.3l-0.2,-5.1zM1727,771.1l0.5,13.6l-7.2,0.3l-0.5,-13.6zM1727.8,791.5l1.1,27.2l-7.2,0.3l-1.1,-27.2zM1729.2,825.5l0.3,8.8v4.9h-7.2v-4.7l-0.3,-8.7zM1729.5,846l0.1,27.2h-7.2l-0.1,-27.2zM1729.6,880v13.6h-7.2v-13.6zM1729.6,900.4v27.2h-7.2v-27.2zM1729.6,934.4v13.6h-7.2v-13.6zM1729.6,954.8v27.2h-7.2v-27.2zM1729.6,988.8v13.6h-7.2v-13.6zM1729.7,1009.2v27.2h-7.2v-27.2zM1729.7,1043.2v13.6h-7.2v-13.6zM1729.7,1063.6v27.2h-7.2v-27.2zM1729.7,1097.6v13.6h-7.2v-13.6zM1729.7,1118v27.2h-7.2v-27.2zM1729.7,1152v13.6h-7.2v-13.6zM1729.8,1172.4v27.2h-7.2v-27.2zM1729.8,1206.4v13.6h-7.2v-13.6zM1729.8,1226.8v27.2h-7.2v-27.2zM1729.8,1260.8v13.6h-7.2v-13.6zM1729.8,1281.2v27.2h-7.2v-27.2zM1729.8,1315.2v13.6h-7.2v-13.6zM1729.9,1335.6v27.2h-7.2v-27.2zM1729.9,1369.6v13.6h-7.2v-13.6zM1729.9,1390v27.2h-7.2v-27.2zM1729.9,1424v13.6h-7.2v-13.6zM1729.9,1444.4v27.2h-7.2v-27.2zM1729.9,1478.4v6.2h-7.2v-6.2zM1728,1484.6l0.1,-23.2h7.2l-0.1,23.2zM1728.1,1454.6v-13.6h7.2v13.6zM1728.1,1434.2v-27.2h7.2v27.2zM1728.1,1400.2v-13.6h7.2v13.6zM1728.1,1379.8v-27.2h7.2v27.2zM1728.1,1345.8v-13.6h7.2v13.6zM1728.1,1325.4l0.1,-27.2h7.2l-0.1,27.2zM1728.2,1291.4v-13.6h7.2v13.6zM1728.2,1271v-27.2h7.2v27.2zM1728.2,1237v-13.6h7.2v13.6zM1728.2,1216.6v-27.2h7.2v27.2zM1728.2,1182.6v-13.6h7.2v13.6zM1728.2,1162.2l0.1,-27.2h7.2l-0.1,27.2zM1728.3,1128.2v-13.6h7.2v13.6zM1728.3,1107.8v-27.2h7.2v27.2zM1728.3,1073.8v-13.6h7.2v13.6zM1728.3,1053.4v-27.2h7.2v27.2zM1728.3,1019.4v-13.6h7.2v13.6zM1728.3,999l0.1,-27.2h7.2l-0.1,27.2zM1728.4,965v-13.6h7.2v13.6zM1728.4,944.6v-27.2h7.2v27.2zM1728.4,910.6v-13.6h7.2v13.6zM1728.4,890.2v-27.2h7.2v27.2zM1728.4,856.2v-13.6h7.2v13.6zM1728.7,835.6l1.2,-27.2l7.2,0.4l-1.2,27.2zM1730.2,801.6l0.6,-13.6l7.2,0.4l-0.6,13.6zM1731.1,781.2l0.4,-8.5l7.2,0.3l-0.4,8.6zM1738.7,772.7l0.7,18.7l-7.1,0.3l-0.8,-18.7zM1739.7,798.2l0.6,13.6l-7.2,0.3l-0.6,-13.6zM1740.6,818.6l1.1,27.2l-7.2,0.3l-1.1,-27.2zM1741.7,852.7v13.6h-7.2v-13.6zM1741.8,873.1v27.2h-7.2v-27.2zM1741.8,907.1v13.6h-7.2v-13.6zM1741.8,927.5v27.2h-7.2v-27.2zM1741.8,961.5v13.6h-7.2v-13.6zM1741.8,981.9v27.2h-7.2v-27.2zM1741.8,1015.9l0.1,13.6h-7.2l-0.1,-13.6zM1741.9,1036.3v27.2h-7.2v-27.2zM1741.9,1070.3v13.6h-7.2v-13.6zM1741.9,1090.7v27.2h-7.2v-27.2zM1741.9,1124.7v13.6h-7.2v-13.6zM1741.9,1145.1v27.2h-7.2v-27.2zM1741.9,1179.1l0.1,13.6h-7.2l-0.1,-13.6zM1742,1199.5v27.2h-7.2v-27.2zM1742,1233.5v13.6h-7.2v-13.6zM1742,1253.9v27.2h-7.2v-27.2zM1742,1287.9v13.6h-7.2v-13.6zM1742,1308.3v27.2h-7.2v-27.2zM1742,1342.3l0.1,13.6h-7.2l-0.1,-13.6zM1742.1,1362.7v27.2h-7.2v-27.2zM1742.1,1396.7v13.6h-7.2v-13.6zM1742.1,1417.1v27.2h-7.2v-27.2zM1742.1,1451.1v13.6h-7.2v-13.6zM1742.1,1471.5v13.1h-7.2v-13.1zM1740.2,1484.6l0.1,-23.2h7.2l-0.1,23.2zM1740.3,1454.6v-13.6h7.2v13.6zM1740.3,1434.2v-27.2h7.2v27.2zM1740.3,1400.2v-13.6h7.2v13.6zM1740.3,1379.8v-27.2h7.2v27.2zM1740.3,1345.8v-13.6h7.2v13.6zM1740.3,1325.4l0.1,-27.2h7.2l-0.1,27.2zM1740.4,1291.4v-13.6h7.2v13.6zM1740.4,1271v-27.2h7.2v27.2zM1740.4,1237v-13.6h7.2v13.6zM1740.4,1216.6v-27.2h7.2v27.2zM1740.4,1182.6v-13.6h7.2v13.6zM1740.4,1162.2l0.1,-27.2h7.2l-0.1,27.2zM1740.5,1128.2v-13.6h7.2v13.6zM1740.5,1107.8v-27.2h7.2v27.2zM1740.5,1073.8v-13.6h7.2v13.6zM1740.5,1053.4v-27.2h7.2v27.2zM1740.5,1019.4v-13.6h7.2v13.6zM1740.5,999l0.1,-27.2h7.2l-0.1,27.2zM1740.6,965v-13.6h7.2v13.6zM1740.6,944.6v-27.2h7.2v27.2zM1740.6,910.6v-13.6h7.2v13.6zM1740.6,890.2v-27.2h7.2v27.2zM1740.6,856.1l0.5,-13.6l7.2,0.2l-0.5,13.6zM1741.4,835.6l1.2,-27.2l7.2,0.4l-1.2,27.2zM1743,801.6l0.6,-13.6l7.1,0.4l-0.6,13.6zM1751,788.7l1.1,27.2l-7.1,0.3l-1.2,-27.2zM1752.4,822.7l0.6,13.6l-7.2,0.3l-0.6,-13.6zM1753.3,843.1l0.6,16.4v11h-7.2v-10.9l-0.6,-16.2zM1753.9,877.3l0.1,13.6h-7.2l-0.1,-13.6zM1754,897.7v27.2h-7.2v-27.2zM1754,931.7v13.6h-7.2v-13.6zM1754,952.1v27.2h-7.2v-27.2zM1754,986.1v13.6h-7.2v-13.6zM1754,1006.5v27.2h-7.2v-27.2zM1754,1040.5l0.1,13.6h-7.2l-0.1,-13.6zM1754.1,1060.9v27.2h-7.2v-27.2zM1754.1,1094.9v13.6h-7.2v-13.6zM1754.1,1115.3v27.2h-7.2v-27.2zM1754.1,1149.3v13.6h-7.2v-13.6zM1754.1,1169.7v27.2h-7.2v-27.2zM1754.1,1203.7l0.1,13.6h-7.2l-0.1,-13.6zM1754.2,1224.1v27.2h-7.2v-27.2zM1754.2,1258.1v13.6h-7.2v-13.6zM1754.2,1278.5v27.2h-7.2v-27.2zM1754.2,1312.5v13.6h-7.2v-13.6zM1754.2,1332.9v27.2h-7.2v-27.2zM1754.2,1366.9l0.1,13.6h-7.2l-0.1,-13.6zM1754.3,1387.3v27.2h-7.2v-27.2zM1754.3,1421.3v13.6h-7.2v-13.6zM1754.3,1441.7v27.2h-7.2v-27.2zM1754.3,1475.7v8.9h-7.2v-8.9zM1752.4,1484.6l0.1,-23.2h7.2l-0.1,23.2zM1752.5,1454.6v-13.6h7.2v13.6zM1752.5,1434.2v-27.2h7.2v27.2zM1752.5,1400.2v-13.6h7.2v13.6zM1752.5,1379.8v-27.2h7.2v27.2zM1752.5,1345.8v-13.6h7.2v13.6zM1752.5,1325.4l0.1,-27.2h7.2l-0.1,27.2zM1752.6,1291.4v-13.6h7.2v13.6zM1752.6,1271v-27.2h7.2v27.2zM1752.6,1237v-13.6h7.2v13.6zM1752.6,1216.6v-27.2h7.2v27.2zM1752.6,1182.6v-13.6h7.2v13.6zM1752.6,1162.2l0.1,-27.2h7.2l-0.1,27.2zM1752.7,1128.2v-13.6h7.2v13.6zM1752.7,1107.8v-27.2h7.2v27.2zM1752.7,1073.8v-13.6h7.2v13.6zM1752.7,1053.4v-27.2h7.2v27.2zM1752.7,1019.4v-13.6h7.2v13.6zM1752.7,999l0.1,-27.2h7.2l-0.1,27.2zM1752.8,965v-13.6h7.2v13.6zM1752.8,944.6v-27.2h7.2v27.2zM1752.8,910.6v-13.6h7.2v13.6zM1752.8,890.2l0.1,-27.2h7.2l-0.1,27.2zM1753.2,856l0.6,-13.6l7.2,0.4l-0.6,13.6zM1754.1,835.6l1.2,-27.2l7.2,0.4l-1.2,27.2zM1755.6,801.6l0.3,-5.4l7.2,0.3l-0.3,5.5zM1763.1,796.2l0.3,8.1l-7.2,0.3l-0.3,-8.1zM1763.7,811.1l1.1,27.2l-7.2,0.3l-1.1,-27.2zM1765.1,845.1l0.5,13.6l-7.1,0.3l-0.6,-13.6zM1765.9,865.5l0.2,5v22.4h-7.2v-22.3l-0.2,-4.8zM1766.1,899.7l0.1,13.6h-7.2l-0.1,-13.6zM1766.2,920.1v27.2h-7.2v-27.2zM1766.2,954.1v13.6h-7.2v-13.6zM1766.2,974.5v27.2h-7.2v-27.2zM1766.2,1008.5v13.6h-7.2v-13.6zM1766.2,1028.9v27.2h-7.2v-27.2zM1766.3,1062.9v13.6h-7.2v-13.6zM1766.3,1083.3v27.2h-7.2v-27.2zM1766.3,1117.3v13.6h-7.2v-13.6zM1766.3,1137.7v27.2h-7.2v-27.2zM1766.3,1171.7v13.6h-7.2v-13.6zM1766.3,1192.1v27.2h-7.2v-27.2zM1766.4,1226.1v13.6h-7.2v-13.6zM1766.4,1246.5v27.2h-7.2v-27.2zM1766.4,1280.5v13.6h-7.2v-13.6zM1766.4,1300.9v27.2h-7.2v-27.2zM1766.4,1334.9v13.6h-7.2v-13.6zM1766.4,1355.3v27.2h-7.2v-27.2zM1766.5,1389.3v13.6h-7.2v-13.6zM1766.5,1409.7v27.2h-7.2v-27.2zM1766.5,1443.7v13.6h-7.2v-13.6zM1766.5,1464.1v20.5h-7.2v-20.5zM1764.6,1484.6l0.1,-23.2h7.2l-0.1,23.2zM1764.7,1454.6v-13.6h7.2v13.6zM1764.7,1434.2v-27.2h7.2v27.2zM1764.7,1400.2v-13.6h7.2v13.6zM1764.7,1379.8v-27.2h7.2v27.2zM1764.7,1345.8v-13.6h7.2v13.6zM1764.7,1325.4l0.1,-27.2h7.2l-0.1,27.2zM1764.8,1291.4v-13.6h7.2v13.6zM1764.8,1271v-27.2h7.2v27.2zM1764.8,1237v-13.6h7.2v13.6zM1764.8,1216.6v-27.2h7.2v27.2zM1764.8,1182.6v-13.6h7.2v13.6zM1764.8,1162.2l0.1,-27.2h7.2l-0.1,27.2zM1764.9,1128.2v-13.6h7.2v13.6zM1764.9,1107.8v-27.2h7.2v27.2zM1764.9,1073.8v-13.6h7.2v13.6zM1764.9,1053.4v-27.2h7.2v27.2zM1764.9,1019.4v-13.6h7.2v13.6zM1765,999v-27.2h7.2v27.2zM1765,965v-13.6h7.2v13.6zM1765,944.6v-27.2h7.2v27.2zM1765,910.6v-13.6h7.2v13.6zM1765,890.2v-14.6l0.6,-12.8l7.2,0.4l-0.6,12.6v14.4zM1765.9,856l0.6,-13.6l7.2,0.4l-0.6,13.6zM1766.8,835.6l1.2,-27.2l7.2,0.4l-1.2,27.2zM1775.5,811.4l0.5,13.6l-7.2,0.3l-0.5,-13.6zM1776.3,831.8l1.1,27.2l-7.2,0.3l-1.1,-27.2zM1777.7,865.8l0.6,13.6l-7.2,0.3l-0.6,-13.6zM1778.3,886.3v27.2h-7.2v-27.2zM1778.4,920.3v13.6h-7.2v-13.6zM1778.4,940.7v27.2h-7.2v-27.2zM1778.4,974.7v13.6h-7.2v-13.6zM1778.4,995.1v27.2h-7.2v-27.2zM1778.4,1029.1v13.6h-7.2v-13.6zM1778.4,1049.5v27.2h-7.2v-27.2zM1778.5,1083.5v13.6h-7.2v-13.6zM1778.5,1103.9v27.2h-7.2v-27.2zM1778.5,1137.9v13.6h-7.2v-13.6zM1778.5,1158.3v27.2h-7.2v-27.2zM1778.5,1192.3v13.6h-7.2v-13.6zM1778.5,1212.7l0.1,27.2h-7.2l-0.1,-27.2zM1778.6,1246.7v13.6h-7.2v-13.6zM1778.6,1267.1v27.2h-7.2v-27.2zM1778.6,1301.1v13.6h-7.2v-13.6zM1778.6,1321.5v27.2h-7.2v-27.2zM1778.6,1355.5v13.6h-7.2v-13.6zM1778.6,1375.9l0.1,27.2h-7.2l-0.1,-27.2zM1778.7,1409.9v13.6h-7.2v-13.6zM1778.7,1430.3v27.2h-7.2v-27.2zM1778.7,1464.3v13.6h-7.2v-13.6zM1776.8,1484.6l0.1,-23.2h7.2l-0.1,23.2zM1776.9,1454.6v-13.6h7.2v13.6zM1776.9,1434.2v-27.2h7.2v27.2zM1776.9,1400.2v-13.6h7.2v13.6zM1776.9,1379.8v-27.2h7.2v27.2zM1776.9,1345.8v-13.6h7.2v13.6zM1776.9,1325.4l0.1,-27.2h7.2l-0.1,27.2zM1777,1291.4v-13.6h7.2v13.6zM1777,1271v-27.2h7.2v27.2zM1777,1237v-13.6h7.2v13.6zM1777,1216.6v-27.2h7.2v27.2zM1777,1182.6v-13.6h7.2v13.6zM1777.1,1162.2v-27.2h7.2v27.2zM1777.1,1128.2v-13.6h7.2v13.6zM1777.1,1107.8v-27.2h7.2v27.2zM1777.1,1073.8v-13.6h7.2v13.6zM1777.1,1053.4v-27.2h7.2v27.2zM1777.1,1019.4v-13.6h7.2v13.6zM1777.2,999v-27.2h7.2v27.2zM1777.2,965v-13.6h7.2v13.6zM1777.2,944.6v-27.2h7.2v27.2zM1777.2,910.6v-13.6h7.2v13.6zM1777.2,890.2v-4.8l1,-22.6l7.2,0.4l-1,22.4v4.6zM1778.5,856l0.6,-13.6l7.2,0.4l-0.6,13.6zM1779.4,835.6l0.9,-19.5l7.2,0.3l-0.9,19.6zM1787.5,816.1l0.3,7.7l-7.2,0.3l-0.3,-7.7zM1788.1,830.6l0.5,13.6l-7.2,0.3l-0.5,-13.6zM1788.9,851l1.1,27.2l-7.2,0.3l-1.1,-27.2zM1790.3,885l0.2,5v8.7h-7.2v-8.5l-0.2,-4.9zM1790.5,905.5v27.2h-7.2v-27.2zM1790.6,939.5v13.6h-7.2v-13.6zM1790.6,959.9v27.2h-7.2v-27.2zM1790.6,993.9v13.6h-7.2v-13.6zM1790.6,1014.3v27.2h-7.2v-27.2zM1790.6,1048.3v13.6h-7.2v-13.6zM1790.6,1068.7l0.1,27.2h-7.2l-0.1,-27.2zM1790.7,1102.7v13.6h-7.2v-13.6zM1790.7,1123.1v27.2h-7.2v-27.2zM1790.7,1157.1v13.6h-7.2v-13.6zM1790.7,1177.5v27.2h-7.2v-27.2zM1790.7,1211.5v13.6h-7.2v-13.6zM1790.7,1231.9l0.1,27.2h-7.2l-0.1,-27.2zM1790.8,1265.9v13.6h-7.2v-13.6zM1790.8,1286.3v27.2h-7.2v-27.2zM1790.8,1320.3v13.6h-7.2v-13.6zM1790.8,1340.7v27.2h-7.2v-27.2zM1790.8,1374.7v13.6h-7.2v-13.6zM1790.8,1395.1l0.1,27.2h-7.2l-0.1,-27.2zM1790.9,1429.1v13.6h-7.2v-13.6zM1790.9,1449.5v27.2h-7.2v-27.2zM1790.9,1483.5v1.1h-7.2v-1.1zM1789.1,1484.6v-23.2h7.2v23.2zM1789.1,1454.6v-13.6h7.2v13.6zM1789.1,1434.2v-27.2h7.2v27.2zM1789.1,1400.2v-13.6h7.2v13.6zM1789.1,1379.8v-27.2h7.2v27.2zM1789.1,1345.8v-13.6h7.2v13.6zM1789.2,1325.4v-27.2h7.2v27.2zM1789.2,1291.4v-13.6h7.2v13.6zM1789.2,1271v-27.2h7.2v27.2zM1789.2,1237v-13.6h7.2v13.6zM1789.2,1216.6v-27.2h7.2v27.2zM1789.2,1182.6v-13.6h7.2v13.6zM1789.3,1162.2v-27.2h7.2v27.2zM1789.3,1128.2v-13.6h7.2v13.6zM1789.3,1107.8v-27.2h7.2v27.2zM1789.3,1073.8v-13.6h7.2v13.6zM1789.3,1053.4v-27.2h7.2v27.2zM1789.3,1019.4l0.1,-13.6h7.2l-0.1,13.6zM1789.4,999v-27.2h7.2v27.2zM1789.4,965v-13.6h7.2v13.6zM1789.4,944.6v-27.2h7.2v27.2zM1789.4,910.6v-13.6h7.2v13.6zM1789.6,890l1.2,-27.2l7.2,0.4l-1.2,27.2zM1791.1,856l0.6,-13.6l7.2,0.4l-0.6,13.6zM1792,835.6l0.5,-10.5l7.2,0.3l-0.5,10.6zM1799.7,825.1l0.7,16.6l-7.2,0.3l-0.7,-16.6zM1800.6,848.5l0.6,13.6l-7.2,0.3l-0.6,-13.6zM1801.5,868.9l1.1,27.2l-7.2,0.3l-1.1,-27.2zM1802.7,903.1v13.6h-7.2v-13.6zM1802.7,923.5l0.1,27.2h-7.2l-0.1,-27.2zM1802.8,957.5v13.6h-7.2v-13.6zM1802.8,977.9v27.2h-7.2v-27.2zM1802.8,1011.9v13.6h-7.2v-13.6zM1802.8,1032.3v27.2h-7.2v-27.2zM1802.8,1066.3v13.6h-7.2v-13.6zM1802.8,1086.7l0.1,27.2h-7.2l-0.1,-27.2zM1802.9,1120.7v13.6h-7.2v-13.6zM1802.9,1141.1v27.2h-7.2v-27.2zM1802.9,1175.1v13.6h-7.2v-13.6zM1802.9,1195.5v27.2h-7.2v-27.2zM1802.9,1229.5v13.6h-7.2v-13.6zM1802.9,1249.9l0.1,27.2h-7.2l-0.1,-27.2zM1803,1283.9v13.6h-7.2v-13.6zM1803,1304.3v27.2h-7.2v-27.2zM1803,1338.3v13.6h-7.2v-13.6zM1803,1358.7v27.2h-7.2v-27.2zM1803,1392.7v13.6h-7.2v-13.6zM1803,1413.1l0.1,27.2h-7.2l-0.1,-27.2zM1803.1,1447.1v13.6h-7.2v-13.6zM1803.1,1467.5v17.1h-7.2v-17.1zM1801.3,1484.6v-23.2h7.2v23.2zM1801.3,1454.6v-13.6h7.2v13.6zM1801.3,1434.2v-27.2h7.2v27.2zM1801.3,1400.2v-13.6h7.2v13.6zM1801.3,1379.8v-27.2h7.2v27.2zM1801.3,1345.8v-13.6h7.2v13.6zM1801.4,1325.4v-27.2h7.2v27.2zM1801.4,1291.4v-13.6h7.2v13.6zM1801.4,1271v-27.2h7.2v27.2zM1801.4,1237v-13.6h7.2v13.6zM1801.4,1216.6v-27.2h7.2v27.2zM1801.4,1182.6v-13.6h7.2v13.6zM1801.5,1162.2v-27.2h7.2v27.2zM1801.5,1128.2v-13.6h7.2v13.6zM1801.5,1107.8v-27.2h7.2v27.2zM1801.5,1073.8v-13.6h7.2v13.6zM1801.5,1053.4v-27.2h7.2v27.2zM1801.5,1019.4l0.1,-13.6h7.2l-0.1,13.6zM1801.6,999v-27.2h7.2v27.2zM1801.6,965v-13.6h7.2v13.6zM1801.6,944.6v-27.2h7.2v27.2zM1801.6,910.6v-7.5l0.3,-6.3l7.2,0.4l-0.3,6v7.4zM1802.2,890l1.2,-27.2l7.2,0.4l-1.2,27.2zM1803.7,856l0.6,-13.6l7.2,0.4l-0.6,13.6zM1804.6,835.6l0.1,-2.1l7.2,0.3l-0.1,2.2zM1811.9,833.5l1,25.1l-7.2,0.3l-1,-25.1zM1813.2,865.4l0.5,13.6l-7.1,0.3l-0.6,-13.6zM1814,885.8l0.9,21.4v6h-7.2v-5.9l-0.9,-21.2zM1814.9,920v13.6h-7.2v-13.6zM1814.9,940.4l0.1,27.2h-7.2l-0.1,-27.2zM1815,974.4v13.6h-7.2v-13.6zM1815,994.8v27.2h-7.2v-27.2zM1815,1028.8v13.6h-7.2v-13.6zM1815,1049.2v27.2h-7.2v-27.2zM1815,1083.2v13.6h-7.2v-13.6zM1815,1103.6l0.1,27.2h-7.2l-0.1,-27.2zM1815.1,1137.6v13.6h-7.2v-13.6zM1815.1,1158v27.2h-7.2v-27.2zM1815.1,1192v13.6h-7.2v-13.6zM1815.1,1212.4v27.2h-7.2v-27.2zM1815.1,1246.4v13.6h-7.2v-13.6zM1815.1,1266.8l0.1,27.2h-7.2l-0.1,-27.2zM1815.2,1300.8v13.6h-7.2v-13.6zM1815.2,1321.2v27.2h-7.2v-27.2zM1815.2,1355.2v13.6h-7.2v-13.6zM1815.2,1375.6v27.2h-7.2v-27.2zM1815.2,1409.6v13.6h-7.2v-13.6zM1815.2,1430l0.1,27.2h-7.2l-0.1,-27.2zM1815.3,1464v13.6h-7.2v-13.6zM1815.3,1484.4v0.2h-7.2v-0.2zM1813.5,1484.6v-23.2h7.2v23.2zM1813.5,1454.6v-13.6h7.2v13.6zM1813.5,1434.2v-27.2h7.2v27.2zM1813.5,1400.2v-13.6h7.2v13.6zM1813.5,1379.8v-27.2h7.2v27.2zM1813.5,1345.8v-13.6h7.2v13.6zM1813.6,1325.4v-27.2h7.2v27.2zM1813.6,1291.4v-13.6h7.2v13.6zM1813.6,1271v-27.2h7.2v27.2zM1813.6,1237v-13.6h7.2v13.6zM1813.6,1216.6v-27.2h7.2v27.2zM1813.6,1182.6l0.1,-13.6h7.2l-0.1,13.6zM1813.7,1162.2v-27.2h7.2v27.2zM1813.7,1128.2v-13.6h7.2v13.6zM1813.7,1107.8v-27.2h7.2v27.2zM1813.7,1073.8v-13.6h7.2v13.6zM1813.7,1053.4v-27.2h7.2v27.2zM1813.7,1019.4l0.1,-13.6h7.2l-0.1,13.6zM1813.8,999v-27.2h7.2v27.2zM1813.8,965v-13.6h7.2v13.6zM1813.8,944.6v-27.2h7.2v27.2zM1813.8,910.4l0.6,-13.6l7.2,0.4l-0.6,13.6zM1814.7,890l1.2,-27.2l7.2,0.4l-1.2,27.2zM1816.2,856l0.6,-13.6l7.2,0.4l-0.6,13.6zM1824.3,847.3l1.1,27.2l-7.2,0.3l-1.1,-27.2zM1825.7,881.3l0.6,13.6l-7.2,0.3l-0.6,-13.6zM1826.6,901.7l0.5,13.3v14.1h-7.2v-13.9l-0.5,-13.2zM1827.1,935.9v13.6h-7.2v-13.6zM1827.1,956.3l0.1,27.2h-7.2l-0.1,-27.2zM1827.2,990.3v13.6h-7.2v-13.6zM1827.2,1010.7v27.2h-7.2v-27.2zM1827.2,1044.7v13.6h-7.2v-13.6zM1827.2,1065.1v27.2h-7.2v-27.2zM1827.2,1099.1v13.6h-7.2v-13.6zM1827.2,1119.5l0.1,27.2h-7.2l-0.1,-27.2zM1827.3,1153.5v13.6h-7.2v-13.6zM1827.3,1173.9v27.2h-7.2v-27.2zM1827.3,1207.9v13.6h-7.2v-13.6zM1827.3,1228.3v27.2h-7.2v-27.2zM1827.3,1262.3v13.6h-7.2v-13.6zM1827.3,1282.7l0.1,27.2h-7.2l-0.1,-27.2zM1827.4,1316.7v13.6h-7.2v-13.6zM1827.4,1337.1v27.2h-7.2v-27.2zM1827.4,1371.1v13.6h-7.2v-13.6zM1827.4,1391.5v27.2h-7.2v-27.2zM1827.4,1425.5v13.6h-7.2v-13.6zM1827.4,1445.9l0.1,27.2h-7.2l-0.1,-27.2zM1827.5,1479.9v4.7h-7.2v-4.7zM1825.7,1484.6v-23.2h7.2v23.2zM1825.7,1454.6v-13.6h7.2v13.6zM1825.7,1434.2v-27.2h7.2v27.2zM1825.7,1400.2v-13.6h7.2v13.6zM1825.7,1379.8v-27.2h7.2v27.2zM1825.7,1345.8v-13.6h7.2v13.6zM1825.8,1325.4v-27.2h7.2v27.2zM1825.8,1291.4v-13.6h7.2v13.6zM1825.8,1271v-27.2h7.2v27.2zM1825.8,1237v-13.6h7.2v13.6zM1825.8,1216.6v-27.2h7.2v27.2zM1825.8,1182.6l0.1,-13.6h7.2l-0.1,13.6zM1825.9,1162.2v-27.2h7.2v27.2zM1825.9,1128.2v-13.6h7.2v13.6zM1825.9,1107.8v-27.2h7.2v27.2zM1825.9,1073.8v-13.6h7.2v13.6zM1825.9,1053.4v-27.2h7.2v27.2zM1825.9,1019.4l0.1,-13.6h7.2l-0.1,13.6zM1826,999v-27.2h7.2v27.2zM1826,965v-13.6h7.2v13.6zM1826,944.6l0.1,-27.2h7.2l-0.1,27.2zM1826.4,910.4l0.6,-13.6l7.2,0.4l-0.6,13.6zM1827.3,890l1.2,-27.2l7.1,0.4l-1.1,27.2zM1828.8,856l0.3,-7l7.2,0.3l-0.4,7.1zM1836.3,849l0.2,6.6l-7.2,0.3l-0.2,-6.6zM1836.8,862.4l1.1,27.2l-7.2,0.3l-1.1,-27.2zM1838.2,896.4l0.6,13.6l-7.2,0.3l-0.6,-13.6zM1839.1,916.8l0.2,5.7v21.6h-7.2v-21.5l-0.2,-5.5zM1839.3,950.9v13.6h-7.2v-13.6zM1839.3,971.3l0.1,27.2h-7.2l-0.1,-27.2zM1839.4,1005.3v13.6h-7.2v-13.6zM1839.4,1025.7v27.2h-7.2v-27.2zM1839.4,1059.7v13.6h-7.2v-13.6zM1839.4,1080.1v27.2h-7.2v-27.2zM1839.4,1114.1v13.6h-7.2v-13.6zM1839.4,1134.5l0.1,27.2h-7.2l-0.1,-27.2zM1839.5,1168.5v13.6h-7.2v-13.6zM1839.5,1188.9v27.2h-7.2v-27.2zM1839.5,1222.9v13.6h-7.2v-13.6zM1839.5,1243.3v27.2h-7.2v-27.2zM1839.5,1277.3v13.6h-7.2v-13.6zM1839.5,1297.7l0.1,27.2h-7.2l-0.1,-27.2zM1839.6,1331.7v13.6h-7.2v-13.6zM1839.6,1352.1v27.2h-7.2v-27.2zM1839.6,1386.1v13.6h-7.2v-13.6zM1839.6,1406.5v27.2h-7.2v-27.2zM1839.6,1440.5v13.6h-7.2v-13.6zM1839.6,1460.9l0.1,23.7h-7.2l-0.1,-23.7zM1837.9,1484.6v-23.2h7.2v23.2zM1837.9,1454.6v-13.6h7.2v13.6zM1837.9,1434.2v-27.2h7.2v27.2zM1837.9,1400.2v-13.6h7.2v13.6zM1837.9,1379.8v-27.2h7.2v27.2zM1837.9,1345.8v-13.6h7.2v13.6zM1838,1325.4v-27.2h7.2v27.2zM1838,1291.4v-13.6h7.2v13.6zM1838,1271v-27.2h7.2v27.2zM1838,1237v-13.6h7.2v13.6zM1838,1216.6v-27.2h7.2v27.2zM1838,1182.6l0.1,-13.6h7.2l-0.1,13.6zM1838.1,1162.2v-27.2h7.2v27.2zM1838.1,1128.2v-13.6h7.2v13.6zM1838.1,1107.8v-27.2h7.2v27.2zM1838.1,1073.8v-13.6h7.2v13.6zM1838.1,1053.4v-27.2h7.2v27.2zM1838.1,1019.4l0.1,-13.6h7.2l-0.1,13.6zM1838.2,999v-27.2h7.2v27.2zM1838.2,965v-13.6h7.2v13.6zM1838.2,944.6v-18.6l0.4,-8.8l7.2,0.4l-0.4,8.6v18.4zM1838.9,910.4l0.6,-13.6l7.2,0.4l-0.6,13.6zM1839.8,890l1.2,-27.2l7.2,0.4l-1.2,27.2zM1848.5,856.3l0.5,13.6l-7.2,0.3l-0.5,-13.6zM1849.3,876.7l1.1,27.2l-7.2,0.3l-1.1,-27.2zM1850.7,910.7l0.6,13.6l-7.2,0.3l-0.6,-13.6zM1851.5,931.3v27.2h-7.2v-27.2zM1851.5,965.3v13.6h-7.2v-13.6zM1851.5,985.7l0.1,27.2h-7.2l-0.1,-27.2zM1851.6,1019.7v13.6h-7.2v-13.6zM1851.6,1040.1v27.2h-7.2v-27.2zM1851.6,1074.1v13.6h-7.2v-13.6zM1851.6,1094.5v27.2h-7.2v-27.2zM1851.6,1128.5v13.6h-7.2v-13.6zM1851.6,1148.9l0.1,27.2h-7.2l-0.1,-27.2zM1851.7,1182.9v13.6h-7.2v-13.6zM1851.7,1203.3v27.2h-7.2v-27.2zM1851.7,1237.3v13.6h-7.2v-13.6zM1851.7,1257.7v27.2h-7.2v-27.2zM1851.7,1291.7v13.6h-7.2v-13.6zM1851.7,1312.1l0.1,27.2h-7.2l-0.1,-27.2zM1851.8,1346.1v13.6h-7.2v-13.6zM1851.8,1366.5v27.2h-7.2v-27.2zM1851.8,1400.5v13.6h-7.2v-13.6zM1851.8,1420.9v27.2h-7.2v-27.2zM1851.8,1454.9v13.6h-7.2v-13.6zM1851.8,1475.3l0.1,9.3h-7.2l-0.1,-9.3zM1850.1,1484.6v-23.2h7.2v23.2zM1850.1,1454.6v-13.6h7.2v13.6zM1850.1,1434.2v-27.2h7.2v27.2zM1850.1,1400.2v-13.6h7.2v13.6zM1850.1,1379.8v-27.2h7.2v27.2zM1850.1,1345.8v-13.6h7.2v13.6zM1850.2,1325.4v-27.2h7.2v27.2zM1850.2,1291.4v-13.6h7.2v13.6zM1850.2,1271v-27.2h7.2v27.2zM1850.2,1237v-13.6h7.2v13.6zM1850.2,1216.6v-27.2h7.2v27.2zM1850.2,1182.6l0.1,-13.6h7.2l-0.1,13.6zM1850.3,1162.2v-27.2h7.2v27.2zM1850.3,1128.2v-13.6h7.2v13.6zM1850.3,1107.8v-27.2h7.2v27.2zM1850.3,1073.8v-13.6h7.2v13.6zM1850.3,1053.4v-27.2h7.2v27.2zM1850.3,1019.4l0.1,-13.6h7.2l-0.1,13.6zM1850.4,999v-27.2h7.2v27.2zM1850.4,965v-13.6h7.2v13.6zM1850.4,944.6v-11.7l0.7,-15.7l7.2,0.4l-0.7,15.5v11.5zM1851.4,910.4l0.6,-13.6l7.2,0.4l-0.6,13.6zM1852.3,890l1.2,-27l7.1,0.3l-1.1,27.1zM1860.6,863l0.1,0.2l-7.2,0.3v-0.2zM1860.9,870l0.6,13.6l-7.2,0.3l-0.6,-13.6zM1861.8,890.4l1.1,27.2l-7.2,0.3l-1.1,-27.2zM1863.2,924.4l0.5,13.6l-7.2,0.2l-0.5,-13.6zM1863.7,944.9v27.2h-7.2v-27.2zM1863.7,978.9v13.6h-7.2v-13.6zM1863.7,999.3l0.1,27.2h-7.2l-0.1,-27.2zM1863.8,1033.3v13.6h-7.2v-13.6zM1863.8,1053.7v27.2h-7.2v-27.2zM1863.8,1087.7v13.6h-7.2v-13.6zM1863.8,1108.1v27.2h-7.2v-27.2zM1863.8,1142.1v13.6h-7.2v-13.6zM1863.8,1162.5l0.1,27.2h-7.2l-0.1,-27.2zM1863.9,1196.5v13.6h-7.2v-13.6zM1863.9,1216.9v27.2h-7.2v-27.2zM1863.9,1250.9v13.6h-7.2v-13.6zM1863.9,1271.3v27.2h-7.2v-27.2zM1863.9,1305.3v13.6h-7.2v-13.6zM1863.9,1325.7l0.1,27.2h-7.2l-0.1,-27.2zM1864,1359.7v13.6h-7.2v-13.6zM1864,1380.1v27.2h-7.2v-27.2zM1864,1414.1v13.6h-7.2v-13.6zM1864,1434.5v27.2h-7.2v-27.2zM1864,1468.5v13.6h-7.2v-13.6zM1862.3,1484.6v-23.2h7.2v23.2zM1862.3,1454.6v-13.6h7.2v13.6zM1862.3,1434.2v-27.2h7.2v27.2zM1862.3,1400.2v-13.6h7.2v13.6zM1862.3,1379.8v-27.2h7.2v27.2zM1862.3,1345.8v-13.6h7.2v13.6zM1862.4,1325.4v-27.2h7.2v27.2zM1862.4,1291.4v-13.6h7.2v13.6zM1862.4,1271v-27.2h7.2v27.2zM1862.4,1237v-13.6h7.2v13.6zM1862.4,1216.6v-27.2h7.2v27.2zM1862.4,1182.6l0.1,-13.6h7.2l-0.1,13.6zM1862.5,1162.2v-27.2h7.2v27.2zM1862.5,1128.2v-13.6h7.2v13.6zM1862.5,1107.8v-27.2h7.2v27.2zM1862.5,1073.8v-13.6h7.2v13.6zM1862.5,1053.4v-27.2h7.2v27.2zM1862.5,1019.4l0.1,-13.6h7.2l-0.1,13.6zM1862.6,999v-27.2h7.2v27.2zM1862.6,965v-13.6h7.2v13.6zM1862.6,944.6v-5.1l1,-22.3l7.2,0.4l-1,22.1v4.9zM1863.9,910.4l0.6,-13.6l7.1,0.4l-0.5,13.6zM1864.8,890l0.9,-20.5l7.1,0.3l-0.9,20.6zM1872.8,869.5l0.3,6.7l-7.2,0.3l-0.2,-6.7zM1873.4,883l0.6,13.6l-7.2,0.3l-0.6,-13.6zM1874.3,903.4l1.1,27.2l-7.2,0.3l-1.1,-27.2zM1875.7,937.4l0.2,5.3v8.5h-7.2v-8.3l-0.2,-5.2zM1875.9,958v27.2h-7.2v-27.2zM1875.9,992v13.6h-7.2v-13.6zM1875.9,1012.4l0.1,27.2h-7.2l-0.1,-27.2zM1876,1046.4v13.6h-7.2v-13.6zM1876,1066.8v27.2h-7.2v-27.2zM1876,1100.8v13.6h-7.2v-13.6zM1876,1121.2v27.2h-7.2v-27.2zM1876,1155.2v13.6h-7.2v-13.6zM1876,1175.6l0.1,27.2h-7.2l-0.1,-27.2zM1876.1,1209.6v13.6h-7.2v-13.6zM1876.1,1230v27.2h-7.2v-27.2zM1876.1,1264v13.6h-7.2v-13.6zM1876.1,1284.4v27.2h-7.2v-27.2zM1876.1,1318.4v13.6h-7.2v-13.6zM1876.1,1338.8l0.1,27.2h-7.2l-0.1,-27.2zM1876.2,1372.8v13.6h-7.2v-13.6zM1876.2,1393.2v27.2h-7.2v-27.2zM1876.2,1427.2v13.6h-7.2v-13.6zM1876.2,1447.6v27.2h-7.2v-27.2zM1876.2,1481.6v3h-7.2v-3zM1874.5,1484.6v-23.2h7.2v23.2zM1874.5,1454.6v-13.6h7.2v13.6zM1874.5,1434.2v-27.2h7.2v27.2zM1874.5,1400.2v-13.6h7.2v13.6zM1874.5,1379.8v-27.2h7.2v27.2zM1874.5,1345.8v-13.6h7.2v13.6zM1874.6,1325.4v-27.2h7.2v27.2zM1874.6,1291.4v-13.6h7.2v13.6zM1874.6,1271v-27.2h7.2v27.2zM1874.6,1237v-13.6h7.2v13.6zM1874.6,1216.6v-27.2h7.2v27.2zM1874.6,1182.6l0.1,-13.6h7.2l-0.1,13.6zM1874.7,1162.2v-27.2h7.2v27.2zM1874.7,1128.2v-13.6h7.2v13.6zM1874.7,1107.8v-27.2h7.2v27.2zM1874.7,1073.8v-13.6h7.2v13.6zM1874.7,1053.4v-27.2h7.2v27.2zM1874.7,1019.4l0.1,-13.6h7.2l-0.1,13.6zM1874.8,999v-27.2h7.2v27.2zM1874.8,965v-13.6h7.2v13.6zM1874.9,944.4l1.1,-27.2l7.2,0.4l-1.2,27.2zM1876.3,910.4l0.6,-13.6l7.2,0.4l-0.6,13.6zM1877.2,890l0.6,-14.2l7.2,0.3l-0.6,14.3zM1885,875.8l0.6,12.9l-7.2,0.3l-0.6,-12.9zM1885.9,895.5l0.5,13.6l-7.2,0.3l-0.5,-13.6zM1886.7,915.9l1.1,27.2l-7.1,0.3l-1.2,-27.2zM1888.1,950.1v13.6h-7.2v-13.6zM1888.1,970.5v27.2h-7.2v-27.2zM1888.1,1004.5v13.6h-7.2v-13.6zM1888.1,1024.9l0.1,27.2h-7.2l-0.1,-27.2zM1888.2,1058.9v13.6h-7.2v-13.6zM1888.2,1079.3v27.2h-7.2v-27.2zM1888.2,1113.3v13.6h-7.2v-13.6zM1888.2,1133.7v27.2h-7.2v-27.2zM1888.2,1167.7v13.6h-7.2v-13.6zM1888.2,1188.1l0.1,27.2h-7.2l-0.1,-27.2zM1888.3,1222.1v13.6h-7.2v-13.6zM1888.3,1242.5v27.2h-7.2v-27.2zM1888.3,1276.5v13.6h-7.2v-13.6zM1888.3,1296.9v27.2h-7.2v-27.2zM1888.3,1330.9v13.6h-7.2v-13.6zM1888.3,1351.3l0.1,27.2h-7.2l-0.1,-27.2zM1888.4,1385.3v13.6h-7.2v-13.6zM1888.4,1405.7v27.2h-7.2v-27.2zM1888.4,1439.7v13.6h-7.2v-13.6zM1888.4,1460.1v24.5h-7.2v-24.5zM1886.7,1484.6v-23.2h7.2v23.2zM1886.7,1454.6v-13.6h7.2v13.6zM1886.7,1434.2v-27.2h7.2v27.2zM1886.7,1400.2v-13.6h7.2v13.6zM1886.7,1379.8v-27.2h7.2v27.2zM1886.7,1345.8v-13.6h7.2v13.6zM1886.8,1325.4v-27.2h7.2v27.2zM1886.8,1291.4v-13.6h7.2v13.6zM1886.8,1271v-27.2h7.2v27.2zM1886.8,1237v-13.6h7.2v13.6zM1886.8,1216.6v-27.2h7.2v27.2zM1886.8,1182.6l0.1,-13.6h7.2l-0.1,13.6zM1886.9,1162.2v-27.2h7.2v27.2zM1886.9,1128.2v-13.6h7.2v13.6zM1886.9,1107.8v-27.2h7.2v27.2zM1886.9,1073.8v-13.6h7.2v13.6zM1886.9,1053.4v-27.2h7.2v27.2zM1886.9,1019.4l0.1,-13.6h7.2l-0.1,13.6zM1887,999v-27.2h7.2v27.2zM1887,965v-13.6h7.2v13.6zM1887.3,944.4l1.2,-27.2l7.2,0.4l-1.2,27.2zM1888.8,910.4l0.6,-13.6l7.2,0.4l-0.6,13.6zM1889.7,890l0.3,-8.2l7.2,0.3l-0.3,8.3zM1897.2,881.8l0.8,18.9l-7.2,0.3l-0.8,-18.9zM1898.3,907.5l0.6,13.6l-7.2,0.3l-0.6,-13.6zM1899.2,927.9l1.1,27.2l-7.2,0.3l-1.1,-27.2zM1900.3,962.1v13.6h-7.2v-13.6zM1900.3,982.5v27.2h-7.2v-27.2zM1900.3,1016.5v13.6h-7.2v-13.6zM1900.3,1036.9l0.1,27.2h-7.2l-0.1,-27.2zM1900.4,1070.9v13.6h-7.2v-13.6zM1900.4,1091.3v27.2h-7.2v-27.2zM1900.4,1125.3v13.6h-7.2v-13.6zM1900.4,1145.7v27.2h-7.2v-27.2zM1900.4,1179.7v13.6h-7.2v-13.6zM1900.4,1200.1l0.1,27.2h-7.2l-0.1,-27.2zM1900.5,1234.1v13.6h-7.2v-13.6zM1900.5,1254.5v27.2h-7.2v-27.2zM1900.5,1288.5v13.6h-7.2v-13.6zM1900.5,1308.9v27.2h-7.2v-27.2zM1900.5,1342.9v13.6h-7.2v-13.6zM1900.5,1363.3l0.1,27.2h-7.2l-0.1,-27.2zM1900.6,1397.3v13.6h-7.2v-13.6zM1900.6,1417.7v27.2h-7.2v-27.2zM1900.6,1451.7v13.6h-7.2v-13.6zM1900.6,1472.1v12.5h-7.2v-12.5zM1898.9,1484.6v-23.2h7.2v23.2zM1898.9,1454.6v-13.6h7.2v13.6zM1898.9,1434.2v-27.2h7.2v27.2zM1898.9,1400.2v-13.6h7.2v13.6zM1898.9,1379.8v-27.2h7.2v27.2zM1898.9,1345.8v-13.6h7.2v13.6zM1899,1325.4v-27.2h7.2v27.2zM1899,1291.4v-13.6h7.2v13.6zM1899,1271v-27.2h7.2v27.2zM1899,1237v-13.6h7.2v13.6zM1899,1216.6v-27.2h7.2v27.2zM1899,1182.6l0.1,-13.6h7.2l-0.1,13.6zM1899.1,1162.2v-27.2h7.2v27.2zM1899.1,1128.2v-13.6h7.2v13.6zM1899.1,1107.8v-27.2h7.2v27.2zM1899.1,1073.8v-13.6h7.2v13.6zM1899.1,1053.4v-27.2h7.2v27.2zM1899.1,1019.4l0.1,-13.6h7.2l-0.1,13.6zM1899.2,999v-27.2h7.2v27.2zM1899.2,965v-7.2l0.3,-6.6l7.2,0.4l-0.3,6.3v7.1zM1899.8,944.4l1.2,-27.2l7.1,0.4l-1.1,27.2zM1901.2,910.4l0.6,-13.6l7.2,0.4l-0.6,13.6zM1902.1,890l0.1,-2.4l7.2,0.3l-0.1,2.5zM1909.4,887.6l1.1,24.7l-7.2,0.3l-1.1,-24.7zM1910.7,919.1l0.6,13.6l-7.2,0.3l-0.5,-13.6zM1911.6,939.5l0.9,21.1v6.3h-7.2v-6.1l-0.9,-21zM1912.5,973.7v13.6h-7.2v-13.6zM1912.5,994.1v27.2h-7.2v-27.2zM1912.5,1028.1v13.6h-7.2v-13.6zM1912.5,1048.5l0.1,27.2h-7.2l-0.1,-27.2zM1912.6,1082.5v13.6h-7.2v-13.6zM1912.6,1102.9v27.2h-7.2v-27.2zM1912.6,1136.9v13.6h-7.2v-13.6zM1912.6,1157.3v27.2h-7.2v-27.2zM1912.6,1191.3v13.6h-7.2v-13.6zM1912.6,1211.7l0.1,27.2h-7.2l-0.1,-27.2zM1912.7,1245.7v13.6h-7.2v-13.6zM1912.7,1266.1v27.2h-7.2v-27.2zM1912.7,1300.1v13.6h-7.2v-13.6zM1912.7,1320.5v27.2h-7.2v-27.2zM1912.7,1354.5v13.6h-7.2v-13.6zM1912.7,1374.9l0.1,27.2h-7.2l-0.1,-27.2zM1912.8,1408.9v13.6h-7.2v-13.6zM1912.8,1429.3v27.2h-7.2v-27.2zM1912.8,1463.3v13.6h-7.2v-13.6zM1912.8,1483.7v0.9h-7.2v-0.9zM1911.1,1484.6v-23.2h7.2v23.2zM1911.1,1454.6v-13.6h7.2v13.6zM1911.1,1434.2v-27.2h7.2v27.2zM1911.1,1400.2v-13.6h7.2v13.6zM1911.1,1379.8v-27.2h7.2v27.2zM1911.1,1345.8v-13.6h7.2v13.6zM1911.2,1325.4v-27.2h7.2v27.2zM1911.2,1291.4v-13.6h7.2v13.6zM1911.2,1271v-27.2h7.2v27.2zM1911.2,1237v-13.6h7.2v13.6zM1911.2,1216.6v-27.2h7.2v27.2zM1911.2,1182.6l0.1,-13.6h7.2l-0.1,13.6zM1911.3,1162.2v-27.2h7.2v27.2zM1911.3,1128.2v-13.6h7.2v13.6zM1911.3,1107.8v-27.2h7.2v27.2zM1911.3,1073.8v-13.6h7.2v13.6zM1911.3,1053.4v-27.2h7.2v27.2zM1911.3,1019.4l0.1,-13.6h7.2l-0.1,13.6zM1911.4,999v-27.2h7.2v27.2zM1911.4,964.9l0.5,-13.6l7.2,0.2l-0.5,13.6zM1912.2,944.4l1.2,-27.2l7.2,0.4l-1.2,27.2zM1913.7,910.4l0.6,-13.6l7.2,0.4l-0.6,13.6zM1921.8,896.2l1.1,27.2l-7.2,0.3l-1.1,-27.2zM1923.2,930.2l0.5,13.6l-7.1,0.3l-0.6,-13.6zM1924,950.6l0.7,15.5v11.9h-7.2v-11.7l-0.7,-15.4zM1924.7,984.8v13.6h-7.2v-13.6zM1924.7,1005.2v27.2h-7.2v-27.2zM1924.7,1039.2v13.6h-7.2v-13.6zM1924.7,1059.6l0.1,27.2h-7.2l-0.1,-27.2zM1924.8,1093.6v13.6h-7.2v-13.6zM1924.8,1114v27.2h-7.2v-27.2zM1924.8,1148v13.6h-7.2v-13.6zM1924.8,1168.4v27.2h-7.2v-27.2zM1924.8,1202.4v13.6h-7.2v-13.6zM1924.8,1222.8l0.1,27.2h-7.2l-0.1,-27.2zM1924.9,1256.8v13.6h-7.2v-13.6zM1924.9,1277.2v27.2h-7.2v-27.2zM1924.9,1311.2v13.6h-7.2v-13.6zM1924.9,1331.6v27.2h-7.2v-27.2zM1924.9,1365.6v13.6h-7.2v-13.6zM1924.9,1386l0.1,27.2h-7.2l-0.1,-27.2zM1925,1420v13.6h-7.2v-13.6zM1925,1440.4v27.2h-7.2v-27.2zM1925,1474.4v10.2h-7.2v-10.2zM1923.2,1484.6l0.1,-23.2h7.2l-0.1,23.2zM1923.3,1454.6v-13.6h7.2v13.6zM1923.3,1434.2v-27.2h7.2v27.2zM1923.3,1400.2v-13.6h7.2v13.6zM1923.3,1379.8v-27.2h7.2v27.2zM1923.3,1345.8v-13.6h7.2v13.6zM1923.4,1325.4v-27.2h7.2v27.2zM1923.4,1291.4v-13.6h7.2v13.6zM1923.4,1271v-27.2h7.2v27.2zM1923.4,1237v-13.6h7.2v13.6zM1923.4,1216.6v-27.2h7.2v27.2zM1923.4,1182.6l0.1,-13.6h7.2l-0.1,13.6zM1923.5,1162.2v-27.2h7.2v27.2zM1923.5,1128.2v-13.6h7.2v13.6zM1923.5,1107.8v-27.2h7.2v27.2zM1923.5,1073.8v-13.6h7.2v13.6zM1923.5,1053.4v-27.2h7.2v27.2zM1923.5,1019.4l0.1,-13.6h7.2l-0.1,13.6zM1923.6,999v-27.2h7.2v27.2zM1923.8,964.8l0.5,-13.6l7.2,0.4l-0.6,13.6zM1924.6,944.4l1.2,-27.2l7.2,0.4l-1.2,27.2zM1926.1,910.4l0.5,-11.9l7.2,0.3l-0.5,12zM1933.8,898.5l0.1,1.7l-7.2,0.3l-0.1,-1.7zM1934.2,907l1.1,27.2l-7.2,0.3l-1.1,-27.2zM1935.6,941l0.6,13.6l-7.2,0.3l-0.6,-13.6zM1936.5,961.4l0.4,10.1v17.3h-7.2v-17.2l-0.4,-9.9zM1936.9,995.6v13.6h-7.2v-13.6zM1936.9,1016v27.2h-7.2v-27.2zM1936.9,1050v13.6h-7.2v-13.6zM1936.9,1070.4l0.1,27.2h-7.2l-0.1,-27.2zM1937,1104.4v13.6h-7.2v-13.6zM1937,1124.8v27.2h-7.2v-27.2zM1937,1158.8v13.6h-7.2v-13.6zM1937,1179.2v27.2h-7.2v-27.2zM1937,1213.2v13.6h-7.2v-13.6zM1937,1233.6l0.1,27.2h-7.2l-0.1,-27.2zM1937.1,1267.6v13.6h-7.2v-13.6zM1937.1,1288v27.2h-7.2v-27.2zM1937.1,1322v13.6h-7.2v-13.6zM1937.1,1342.4v27.2h-7.2v-27.2zM1937.1,1376.4v13.6h-7.2v-13.6zM1937.1,1396.8l0.1,27.2h-7.2l-0.1,-27.2zM1937.2,1430.8v13.6h-7.2v-13.6zM1937.2,1451.2v27.2h-7.2v-27.2zM1935.4,1484.6l0.1,-23.2h7.2l-0.1,23.2zM1935.5,1454.6v-13.6h7.2v13.6zM1935.5,1434.2v-27.2h7.2v27.2zM1935.5,1400.2v-13.6h7.2v13.6zM1935.5,1379.8v-27.2h7.2v27.2zM1935.5,1345.8v-13.6h7.2v13.6zM1935.5,1325.4l0.1,-27.2h7.2l-0.1,27.2zM1935.6,1291.4v-13.6h7.2v13.6zM1935.6,1271v-27.2h7.2v27.2zM1935.6,1237v-13.6h7.2v13.6zM1935.6,1216.6v-27.2h7.2v27.2zM1935.6,1182.6v-13.6h7.2v13.6zM1935.7,1162.2v-27.2h7.2v27.2zM1935.7,1128.2v-13.6h7.2v13.6zM1935.7,1107.8v-27.2h7.2v27.2zM1935.7,1073.8v-13.6h7.2v13.6zM1935.7,1053.4v-27.2h7.2v27.2zM1935.7,1019.4l0.1,-13.6h7.2l-0.1,13.6zM1935.8,999l0.1,-27.2h7.2l-0.1,27.2zM1936.2,964.8l0.6,-13.6l7.2,0.4l-0.6,13.6zM1937.1,944.4l1.1,-27.2l7.2,0.4l-1.2,27.2zM1938.5,910.4l0.3,-6.7l7.2,0.3l-0.3,6.8zM1946,903.7l0.3,6.9l-7.2,0.3l-0.3,-6.9zM1946.6,917.4l1.1,27.2l-7.2,0.3l-1.1,-27.2zM1948,951.4l0.6,13.6l-7.2,0.3l-0.6,-13.6zM1948.9,971.8l0.2,4.8v22.6h-7.2v-22.4l-0.2,-4.7zM1949.1,1006v13.6h-7.2v-13.6zM1949.1,1026.4v27.2h-7.2v-27.2zM1949.1,1060.4v13.6h-7.2v-13.6zM1949.1,1080.8l0.1,27.2h-7.2l-0.1,-27.2zM1949.2,1114.8v13.6h-7.2v-13.6zM1949.2,1135.2v27.2h-7.2v-27.2zM1949.2,1169.2v13.6h-7.2v-13.6zM1949.2,1189.6v27.2h-7.2v-27.2zM1949.2,1223.6v13.6h-7.2v-13.6zM1949.2,1244l0.1,27.2h-7.2l-0.1,-27.2zM1949.3,1278v13.6h-7.2v-13.6zM1949.3,1298.4v27.2h-7.2v-27.2zM1949.3,1332.4v13.6h-7.2v-13.6zM1949.3,1352.8v27.2h-7.2v-27.2zM1949.3,1386.8v13.6h-7.2v-13.6zM1949.3,1407.2l0.1,27.2h-7.2l-0.1,-27.2zM1949.4,1441.2v13.6h-7.2v-13.6zM1949.4,1461.6v23h-7.2v-23zM1947.6,1484.6l0.1,-23.2h7.2l-0.1,23.2zM1947.7,1454.6v-13.6h7.2v13.6zM1947.7,1434.2v-27.2h7.2v27.2zM1947.7,1400.2v-13.6h7.2v13.6zM1947.7,1379.8v-27.2h7.2v27.2zM1947.7,1345.8v-13.6h7.2v13.6zM1947.7,1325.4l0.1,-27.2h7.2l-0.1,27.2zM1947.8,1291.4v-13.6h7.2v13.6zM1947.8,1271v-27.2h7.2v27.2zM1947.8,1237v-13.6h7.2v13.6zM1947.8,1216.6v-27.2h7.2v27.2zM1947.8,1182.6v-13.6h7.2v13.6zM1947.9,1162.2v-27.2h7.2v27.2zM1947.9,1128.2v-13.6h7.2v13.6zM1947.9,1107.8v-27.2h7.2v27.2zM1947.9,1073.8v-13.6h7.2v13.6zM1947.9,1053.4v-27.2h7.2v27.2zM1947.9,1019.4l0.1,-13.6h7.2l-0.1,13.6zM1948,999v-19.9l0.3,-7.5l7.2,0.4l-0.3,7.3v19.7zM1948.6,964.8l0.6,-13.6l7.2,0.4l-0.6,13.6zM1949.5,944.4l1.2,-27.2l7.1,0.4l-1.1,27.2zM1951,910.4v-1.6l7.2,0.3l-0.1,1.7zM1958.2,908.8l0.5,11.9l-7.2,0.3l-0.5,-11.9zM1959,927.5l1.1,27.2l-7.2,0.3l-1.1,-27.2zM1960.4,961.5l0.6,13.6l-7.2,0.3l-0.6,-13.6zM1961.3,982v27.2h-7.2v-27.2zM1961.3,1016v13.6h-7.2v-13.6zM1961.3,1036.4v27.2h-7.2v-27.2zM1961.3,1070.4v13.6h-7.2v-13.6zM1961.3,1090.8l0.1,27.2h-7.2l-0.1,-27.2zM1961.4,1124.8v13.6h-7.2v-13.6zM1961.4,1145.2v27.2h-7.2v-27.2zM1961.4,1179.2v13.6h-7.2v-13.6zM1961.4,1199.6v27.2h-7.2v-27.2zM1961.4,1233.6v13.6h-7.2v-13.6zM1961.4,1254l0.1,27.2h-7.2l-0.1,-27.2zM1961.5,1288v13.6h-7.2v-13.6zM1961.5,1308.4v27.2h-7.2v-27.2zM1961.5,1342.4v13.6h-7.2v-13.6zM1961.5,1362.8v27.2h-7.2v-27.2zM1961.5,1396.8v13.6h-7.2v-13.6zM1961.5,1417.2l0.1,27.2h-7.2l-0.1,-27.2zM1961.6,1451.2v13.6h-7.2v-13.6zM1961.6,1471.6v13h-7.2v-13zM1959.8,1484.6l0.1,-23.2h7.2l-0.1,23.2zM1959.9,1454.6v-13.6h7.2v13.6zM1959.9,1434.2v-27.2h7.2v27.2zM1959.9,1400.2v-13.6h7.2v13.6zM1959.9,1379.8v-27.2h7.2v27.2zM1959.9,1345.8v-13.6h7.2v13.6zM1959.9,1325.4l0.1,-27.2h7.2l-0.1,27.2zM1960,1291.4v-13.6h7.2v13.6zM1960,1271v-27.2h7.2v27.2zM1960,1237v-13.6h7.2v13.6zM1960,1216.6v-27.2h7.2v27.2zM1960,1182.6v-13.6h7.2v13.6zM1960.1,1162.2v-27.2h7.2v27.2zM1960.1,1128.2v-13.6h7.2v13.6zM1960.1,1107.8v-27.2h7.2v27.2zM1960.1,1073.8v-13.6h7.2v13.6zM1960.1,1053.4v-27.2h7.2v27.2zM1960.1,1019.4l0.1,-13.6h7.2l-0.1,13.6zM1960.2,999v-14.9l0.5,-12.5l7.2,0.4l-0.5,12.2v14.8zM1961,964.8l0.6,-13.6l7.2,0.4l-0.6,13.6zM1961.9,944.4l1.2,-27.2l7.2,0.4l-1.2,27.2zM1970.5,916.8l0.6,13.6l-7.2,0.3l-0.5,-13.6zM1971.4,937.2l1.1,27.2l-7.1,0.3l-1.2,-27.2zM1972.8,971.2l0.6,13.6l-7.2,0.3l-0.6,-13.6zM1973.5,991.8v27.2h-7.2v-27.2zM1973.5,1025.8v13.6h-7.2v-13.6zM1973.5,1046.2v27.2h-7.2v-27.2zM1973.5,1080.2v13.6h-7.2v-13.6zM1973.5,1100.6l0.1,27.2h-7.2l-0.1,-27.2zM1973.6,1134.6v13.6h-7.2v-13.6zM1973.6,1155v27.2h-7.2v-27.2zM1973.6,1189v13.6h-7.2v-13.6zM1973.6,1209.4v27.2h-7.2v-27.2zM1973.6,1243.4v13.6h-7.2v-13.6zM1973.6,1263.8l0.1,27.2h-7.2l-0.1,-27.2zM1973.7,1297.8v13.6h-7.2v-13.6zM1973.7,1318.2v27.2h-7.2v-27.2zM1973.7,1352.2v13.6h-7.2v-13.6zM1973.7,1372.6v27.2h-7.2v-27.2zM1973.7,1406.6v13.6h-7.2v-13.6zM1973.7,1427l0.1,27.2h-7.2l-0.1,-27.2zM1973.8,1461v13.6h-7.2v-13.6zM1973.8,1481.4v3.2h-7.2v-3.2zM1972,1484.6l0.1,-23.2h7.2l-0.1,23.2zM1972.1,1454.6v-13.6h7.2v13.6zM1972.1,1434.2v-27.2h7.2v27.2zM1972.1,1400.2v-13.6h7.2v13.6zM1972.1,1379.8v-27.2h7.2v27.2zM1972.1,1345.8v-13.6h7.2v13.6zM1972.1,1325.4l0.1,-27.2h7.2l-0.1,27.2zM1972.2,1291.4v-13.6h7.2v13.6zM1972.2,1271v-27.2h7.2v27.2zM1972.2,1237v-13.6h7.2v13.6zM1972.2,1216.6v-27.2h7.2v27.2zM1972.2,1182.6v-13.6h7.2v13.6zM1972.3,1162.2v-27.2h7.2v27.2zM1972.3,1128.2v-13.6h7.2v13.6zM1972.3,1107.8v-27.2h7.2v27.2zM1972.3,1073.8v-13.6h7.2v13.6zM1972.3,1053.4v-27.2h7.2v27.2zM1972.3,1019.4l0.1,-13.6h7.2l-0.1,13.6zM1972.4,999v-10.2l0.7,-17.2l7.2,0.4l-0.7,17v10zM1973.4,964.8l0.6,-13.6l7.2,0.4l-0.6,13.6zM1974.3,944.4l1.1,-26l7.2,0.3l-1.1,26.1zM1982.6,918.4l0.1,1.1l-7.2,0.3l-0.1,-1.1zM1982.9,926.3l0.6,13.6l-7.2,0.3l-0.6,-13.6zM1983.8,946.7l1.1,27.2l-7.2,0.3l-1.1,-27.2zM1985.2,980.7l0.5,10.5v3.3h-7.2v-3.2l-0.5,-10.3zM1985.7,1001.3v27.2h-7.2v-27.2zM1985.7,1035.3v13.6h-7.2v-13.6zM1985.7,1055.7v27.2h-7.2v-27.2zM1985.7,1089.7v13.6h-7.2v-13.6zM1985.7,1110.1l0.1,27.2h-7.2l-0.1,-27.2zM1985.8,1144.1v13.6h-7.2v-13.6zM1985.8,1164.5v27.2h-7.2v-27.2zM1985.8,1198.5v13.6h-7.2v-13.6zM1985.8,1218.9v27.2h-7.2v-27.2zM1985.8,1252.9v13.6h-7.2v-13.6zM1985.8,1273.3l0.1,27.2h-7.2l-0.1,-27.2zM1985.9,1307.3v13.6h-7.2v-13.6zM1985.9,1327.7v27.2h-7.2v-27.2zM1985.9,1361.7v13.6h-7.2v-13.6zM1985.9,1382.1v27.2h-7.2v-27.2zM1985.9,1416.1v13.6h-7.2v-13.6zM1985.9,1436.5l0.1,27.2h-7.2l-0.1,-27.2zM1986,1470.5v13.6h-7.2v-13.6zM1984.2,1484.6l0.1,-23.2h7.2l-0.1,23.2zM1984.3,1454.6v-13.6h7.2v13.6zM1984.3,1434.2v-27.2h7.2v27.2zM1984.3,1400.2v-13.6h7.2v13.6zM1984.3,1379.8v-27.2h7.2v27.2zM1984.3,1345.8v-13.6h7.2v13.6zM1984.3,1325.4l0.1,-27.2h7.2l-0.1,27.2zM1984.4,1291.4v-13.6h7.2v13.6zM1984.4,1271v-27.2h7.2v27.2zM1984.4,1237v-13.6h7.2v13.6zM1984.4,1216.6v-27.2h7.2v27.2zM1984.4,1182.6v-13.6h7.2v13.6zM1984.4,1162.2l0.1,-27.2h7.2l-0.1,27.2zM1984.5,1128.2v-13.6h7.2v13.6zM1984.5,1107.8v-27.2h7.2v27.2zM1984.5,1073.8v-13.6h7.2v13.6zM1984.5,1053.4v-27.2h7.2v27.2zM1984.5,1019.4v-13.6h7.2v13.6zM1984.6,999v-5.5l0.9,-21.9l7.2,0.4l-0.9,21.6v5.4zM1985.8,964.8l0.6,-13.6l7.2,0.4l-0.6,13.6zM1986.7,944.4l0.9,-21.4l7.2,0.3l-0.9,21.5zM1994.8,923l0.2,5.7l-7.1,0.3l-0.3,-5.7zM1995.3,935.5l0.6,13.6l-7.2,0.3l-0.6,-13.6zM1996.2,955.9l1.1,27.2l-7.2,0.3l-1.1,-27.2zM1997.6,989.9l0.3,5.8v8h-7.2v-7.8l-0.3,-5.7zM1997.9,1010.5v27.2h-7.2v-27.2zM1997.9,1044.5v13.6h-7.2v-13.6zM1997.9,1064.9v27.2h-7.2v-27.2zM1997.9,1098.9v13.6h-7.2v-13.6zM1997.9,1119.3l0.1,27.2h-7.2l-0.1,-27.2zM1998,1153.3v13.6h-7.2v-13.6zM1998,1173.7v27.2h-7.2v-27.2zM1998,1207.7v13.6h-7.2v-13.6zM1998,1228.1v27.2h-7.2v-27.2zM1998,1262.1v13.6h-7.2v-13.6zM1998,1282.5l0.1,27.2h-7.2l-0.1,-27.2zM1998.1,1316.5v13.6h-7.2v-13.6zM1998.1,1336.9v27.2h-7.2v-27.2zM1998.1,1370.9v13.6h-7.2v-13.6zM1998.1,1391.3v27.2h-7.2v-27.2zM1998.1,1425.3v13.6h-7.2v-13.6zM1998.1,1445.7l0.1,27.2h-7.2l-0.1,-27.2zM1998.2,1479.7v4.9h-7.2v-4.9zM1996.4,1484.6l0.1,-23.2h7.2l-0.1,23.2zM1996.5,1454.6v-13.6h7.2v13.6zM1996.5,1434.2v-27.2h7.2v27.2zM1996.5,1400.2v-13.6h7.2v13.6zM1996.5,1379.8v-27.2h7.2v27.2zM1996.5,1345.8v-13.6h7.2v13.6zM1996.5,1325.4l0.1,-27.2h7.2l-0.1,27.2zM1996.6,1291.4v-13.6h7.2v13.6zM1996.6,1271v-27.2h7.2v27.2zM1996.6,1237v-13.6h7.2v13.6zM1996.6,1216.6v-27.2h7.2v27.2zM1996.6,1182.6v-13.6h7.2v13.6zM1996.6,1162.2l0.1,-27.2h7.2l-0.1,27.2zM1996.7,1128.2v-13.6h7.2v13.6zM1996.7,1107.8v-27.2h7.2v27.2zM1996.7,1073.8v-13.6h7.2v13.6zM1996.7,1053.4v-27.2h7.2v27.2zM1996.7,1019.4v-13.6h7.2v13.6zM1996.8,998.8l1.1,-27.2l7.2,0.4l-1.2,27.2zM1998.2,964.8l0.6,-13.6l7.2,0.4l-0.6,13.6zM1999.1,944.4l0.7,-16.9l7.2,0.3l-0.7,17zM2007,927.5l0.4,10.2l-7.2,0.3l-0.4,-10.2zM2007.7,944.5l0.6,13.6l-7.2,0.3l-0.6,-13.6zM2008.6,964.9l1.1,27.2l-7.2,0.3l-1.1,-27.2zM2010,999l0.1,13.6h-7.2l-0.1,-13.6zM2010.1,1019.4v27.2h-7.2v-27.2zM2010.1,1053.4v13.6h-7.2v-13.6zM2010.1,1073.8v27.2h-7.2v-27.2zM2010.1,1107.8v13.6h-7.2v-13.6zM2010.1,1128.2l0.1,27.2h-7.2l-0.1,-27.2zM2010.2,1162.2v13.6h-7.2v-13.6zM2010.2,1182.6v27.2h-7.2v-27.2zM2010.2,1216.6v13.6h-7.2v-13.6zM2010.2,1237v27.2h-7.2v-27.2zM2010.2,1271v13.6h-7.2v-13.6zM2010.2,1291.4l0.1,27.2h-7.2l-0.1,-27.2zM2010.3,1325.4v13.6h-7.2v-13.6zM2010.3,1345.8v27.2h-7.2v-27.2zM2010.3,1379.8v13.6h-7.2v-13.6zM2010.3,1400.2v27.2h-7.2v-27.2zM2010.3,1434.2v13.6h-7.2v-13.6zM2010.3,1454.6l0.1,27.2h-7.2l-0.1,-27.2zM2008.6,1484.6l0.1,-23.2h7.2l-0.1,23.2zM2008.7,1454.6v-13.6h7.2v13.6zM2008.7,1434.2v-27.2h7.2v27.2zM2008.7,1400.2v-13.6h7.2v13.6zM2008.7,1379.8v-27.2h7.2v27.2zM2008.7,1345.8v-13.6h7.2v13.6zM2008.7,1325.4l0.1,-27.2h7.2l-0.1,27.2zM2008.8,1291.4v-13.6h7.2v13.6zM2008.8,1271v-27.2h7.2v27.2zM2008.8,1237v-13.6h7.2v13.6zM2008.8,1216.6v-27.2h7.2v27.2zM2008.8,1182.6v-13.6h7.2v13.6zM2008.8,1162.2l0.1,-27.2h7.2l-0.1,27.2zM2008.9,1128.2v-13.6h7.2v13.6zM2008.9,1107.8v-27.2h7.2v27.2zM2008.9,1073.8v-13.6h7.2v13.6zM2008.9,1053.4v-27.2h7.2v27.2zM2008.9,1019.4v-13.6h7.2v13.6zM2009.1,998.8l1.2,-27.2l7.2,0.4l-1.2,27.2zM2010.6,964.8l0.6,-13.6l7.2,0.4l-0.6,13.6zM2011.5,944.4l0.5,-12.6l7.2,0.3l-0.6,12.7zM2019.2,931.8l0.6,14.6l-7.2,0.3l-0.6,-14.6zM2020.1,953.2l0.6,13.6l-7.2,0.3l-0.6,-13.6zM2020.9,973.6l1.2,27.2l-7.2,0.3l-1.1,-27.2zM2022.3,1007.7v13.6h-7.2v-13.6zM2022.3,1028.1v27.2h-7.2v-27.2zM2022.3,1062.1v13.6h-7.2v-13.6zM2022.3,1082.5v27.2h-7.2v-27.2zM2022.3,1116.5v13.6h-7.2v-13.6zM2022.3,1136.9l0.1,27.2h-7.2l-0.1,-27.2zM2022.4,1170.9v13.6h-7.2v-13.6zM2022.4,1191.3v27.2h-7.2v-27.2zM2022.4,1225.3v13.6h-7.2v-13.6zM2022.4,1245.7v27.2h-7.2v-27.2zM2022.4,1279.7v13.6h-7.2v-13.6zM2022.4,1300.1l0.1,27.2h-7.2l-0.1,-27.2zM2022.5,1334.1v13.6h-7.2v-13.6zM2022.5,1354.5v27.2h-7.2v-27.2zM2022.5,1388.5v13.6h-7.2v-13.6zM2022.5,1408.9v27.2h-7.2v-27.2zM2022.5,1442.9v13.6h-7.2v-13.6zM2022.5,1463.3l0.1,21.3h-7.2l-0.1,-21.3zM2020.8,1484.6l0.1,-23.2h7.2l-0.1,23.2zM2020.9,1454.6v-13.6h7.2v13.6zM2020.9,1434.2v-27.2h7.2v27.2zM2020.9,1400.2v-13.6h7.2v13.6zM2020.9,1379.8v-27.2h7.2v27.2zM2020.9,1345.8v-13.6h7.2v13.6zM2020.9,1325.4l0.1,-27.2h7.2l-0.1,27.2zM2021,1291.4v-13.6h7.2v13.6zM2021,1271v-27.2h7.2v27.2zM2021,1237v-13.6h7.2v13.6zM2021,1216.6v-27.2h7.2v27.2zM2021,1182.6v-13.6h7.2v13.6zM2021,1162.2l0.1,-27.2h7.2l-0.1,27.2zM2021.1,1128.2v-13.6h7.2v13.6zM2021.1,1107.8v-27.2h7.2v27.2zM2021.1,1073.8v-13.6h7.2v13.6zM2021.1,1053.4v-27.2h7.2v27.2zM2021.1,1019.4l0.1,-13.6h7.2l-0.1,13.6zM2021.5,998.8l1.2,-27.2l7.1,0.4l-1.1,27.2zM2023,964.8l0.5,-13.6l7.2,0.4l-0.6,13.6zM2023.8,944.4l0.4,-8.3l7.2,0.3l-0.4,8.4zM2031.4,936.1l0.8,18.8l-7.2,0.3l-0.8,-18.8zM2032.5,961.7l0.5,13.6l-7.2,0.3l-0.5,-13.6zM2033.3,982.1l1.1,27.2l-7.1,0.3l-1.2,-27.2zM2034.4,1016.2l0.1,13.6h-7.2l-0.1,-13.6zM2034.5,1036.6v27.2h-7.2v-27.2zM2034.5,1070.6v13.6h-7.2v-13.6zM2034.5,1091v27.2h-7.2v-27.2zM2034.5,1125v13.6h-7.2v-13.6zM2034.5,1145.4v27.2h-7.2v-27.2zM2034.6,1179.4v13.6h-7.2v-13.6zM2034.6,1199.8v27.2h-7.2v-27.2zM2034.6,1233.8v13.6h-7.2v-13.6zM2034.6,1254.2v27.2h-7.2v-27.2zM2034.6,1288.2v13.6h-7.2v-13.6zM2034.6,1308.6l0.1,27.2h-7.2l-0.1,-27.2zM2034.7,1342.6v13.6h-7.2v-13.6zM2034.7,1363v27.2h-7.2v-27.2zM2034.7,1397v13.6h-7.2v-13.6zM2034.7,1417.4v27.2h-7.2v-27.2zM2034.7,1451.4v13.6h-7.2v-13.6zM2034.7,1471.8v12.8h-7.2v-12.8zM2033,1484.6l0.1,-23.2h7.2l-0.1,23.2zM2033.1,1454.6v-13.6h7.2v13.6zM2033.1,1434.2v-27.2h7.2v27.2zM2033.1,1400.2v-13.6h7.2v13.6zM2033.1,1379.8v-27.2h7.2v27.2zM2033.1,1345.8v-13.6h7.2v13.6zM2033.1,1325.4l0.1,-27.2h7.2l-0.1,27.2zM2033.2,1291.4v-13.6h7.2v13.6zM2033.2,1271v-27.2h7.2v27.2zM2033.2,1237v-13.6h7.2v13.6zM2033.2,1216.6v-27.2h7.2v27.2zM2033.2,1182.6v-13.6h7.2v13.6zM2033.2,1162.2l0.1,-27.2h7.2l-0.1,27.2zM2033.3,1128.2v-13.6h7.2v13.6zM2033.3,1107.8v-27.2h7.2v27.2zM2033.3,1073.8v-13.6h7.2v13.6zM2033.3,1053.4v-27.2h7.2v27.2zM2033.3,1019.4v-8.6l0.3,-5.2l7.2,0.4l-0.3,5v8.4zM2033.9,998.8l1.1,-27.2l7.2,0.4l-1.2,27.2zM2035.3,964.8l0.6,-13.6l7.2,0.4l-0.6,13.6zM2036.2,944.4l0.2,-4.2l7.2,0.3l-0.2,4.3zM2043.6,940.2l0.9,23l-7.1,0.3l-1,-23zM2044.8,970l0.6,13.6l-7.2,0.3l-0.6,-13.6zM2045.7,990.4l0.9,22.4v4.9h-7.2v-4.7l-0.9,-22.3zM2046.6,1024.5l0.1,13.6h-7.2l-0.1,-13.6zM2046.7,1044.9v27.2h-7.2v-27.2zM2046.7,1078.9v13.6h-7.2v-13.6zM2046.7,1099.3v27.2h-7.2v-27.2zM2046.7,1133.3v13.6h-7.2v-13.6zM2046.7,1153.7v27.2h-7.2v-27.2zM2046.8,1187.7v13.6h-7.2v-13.6zM2046.8,1208.1v27.2h-7.2v-27.2zM2046.8,1242.1v13.6h-7.2v-13.6zM2046.8,1262.5v27.2h-7.2v-27.2zM2046.8,1296.5v13.6h-7.2v-13.6zM2046.8,1316.9l0.1,27.2h-7.2l-0.1,-27.2zM2046.9,1350.9v13.6h-7.2v-13.6zM2046.9,1371.3v27.2h-7.2v-27.2zM2046.9,1405.3v13.6h-7.2v-13.6zM2046.9,1425.7v27.2h-7.2v-27.2zM2046.9,1459.7v13.6h-7.2v-13.6zM2046.9,1480.1v4.5h-7.2v-4.5zM2045.2,1484.6l0.1,-23.2h7.2l-0.1,23.2zM2045.3,1454.6v-13.6h7.2v13.6zM2045.3,1434.2v-27.2h7.2v27.2zM2045.3,1400.2v-13.6h7.2v13.6zM2045.3,1379.8v-27.2h7.2v27.2zM2045.3,1345.8v-13.6h7.2v13.6zM2045.3,1325.4l0.1,-27.2h7.2l-0.1,27.2zM2045.4,1291.4v-13.6h7.2v13.6zM2045.4,1271v-27.2h7.2v27.2zM2045.4,1237v-13.6h7.2v13.6zM2045.4,1216.6v-27.2h7.2v27.2zM2045.4,1182.6v-13.6h7.2v13.6zM2045.4,1162.2l0.1,-27.2h7.2l-0.1,27.2zM2045.5,1128.2v-13.6h7.2v13.6zM2045.5,1107.8v-27.2h7.2v27.2zM2045.5,1073.8v-13.6h7.2v13.6zM2045.5,1053.4v-27.2h7.2v27.2zM2045.5,1019.4v-4.5l0.4,-9.3l7.2,0.4l-0.4,9v4.4zM2046.2,998.8l1.2,-27.2l7.2,0.4l-1.2,27.2zM2047.7,964.8l0.6,-13.6l7.2,0.4l-0.6,13.6zM2048.6,944.4v-0.2l7.2,0.3v0.3zM2055.8,944.2l1.1,27l-7.2,0.3l-1.1,-27zM2057.2,978l0.6,13.6l-7.2,0.3l-0.6,-13.6zM2058.1,998.4l0.7,18.5v8.9h-7.2v-8.8l-0.7,-18.3zM2058.8,1032.6l0.1,13.6h-7.2l-0.1,-13.6zM2058.9,1053v27.2h-7.2v-27.2zM2058.9,1087v13.6h-7.2v-13.6zM2058.9,1107.4v27.2h-7.2v-27.2zM2058.9,1141.4v13.6h-7.2v-13.6zM2058.9,1161.8v27.2h-7.2v-27.2zM2059,1195.8v13.6h-7.2v-13.6zM2059,1216.2v27.2h-7.2v-27.2zM2059,1250.2v13.6h-7.2v-13.6zM2059,1270.6v27.2h-7.2v-27.2zM2059,1304.6v13.6h-7.2v-13.6zM2059,1325l0.1,27.2h-7.2l-0.1,-27.2zM2059.1,1359v13.6h-7.2v-13.6zM2059.1,1379.4v27.2h-7.2v-27.2zM2059.1,1413.4v13.6h-7.2v-13.6zM2059.1,1433.8v27.2h-7.2v-27.2zM2059.1,1467.8v13.6h-7.2v-13.6zM2057.4,1484.6v-23.2h7.2v23.2zM2057.5,1454.6v-13.6h7.2v13.6zM2057.5,1434.2v-27.2h7.2v27.2zM2057.5,1400.2v-13.6h7.2v13.6zM2057.5,1379.8v-27.2h7.2v27.2zM2057.5,1345.8v-13.6h7.2v13.6zM2057.5,1325.4l0.1,-27.2h7.2l-0.1,27.2zM2057.6,1291.4v-13.6h7.2v13.6zM2057.6,1271v-27.2h7.2v27.2zM2057.6,1237v-13.6h7.2v13.6zM2057.6,1216.6v-27.2h7.2v27.2zM2057.6,1182.6v-13.6h7.2v13.6zM2057.6,1162.2l0.1,-27.2h7.2l-0.1,27.2zM2057.7,1128.2v-13.6h7.2v13.6zM2057.7,1107.8v-27.2h7.2v27.2zM2057.7,1073.8v-13.6h7.2v13.6zM2057.7,1053.4v-27.2h7.2v27.2zM2057.7,1019.3l0.6,-13.6l7.2,0.2l-0.6,13.6zM2058.6,998.8l1.2,-27.2l7.2,0.4l-1.2,27.2zM2060.1,964.8l0.6,-13.6l7.1,0.4l-0.5,13.6zM2068.1,951.9l1.2,27.2l-7.2,0.3l-1.2,-27.2zM2069.6,985.9l0.5,13.6l-7.2,0.3l-0.5,-13.6zM2070.4,1006.3l0.6,14.5v12.9h-7.2v-12.8l-0.6,-14.3zM2071,1040.5l0.1,13.6h-7.2l-0.1,-13.6zM2071.1,1060.9v27.2h-7.2v-27.2zM2071.1,1094.9v13.6h-7.2v-13.6zM2071.1,1115.3v27.2h-7.2v-27.2zM2071.1,1149.3v13.6h-7.2v-13.6zM2071.1,1169.7v27.2h-7.2v-27.2zM2071.1,1203.7l0.1,13.6h-7.2l-0.1,-13.6zM2071.2,1224.1v27.2h-7.2v-27.2zM2071.2,1258.1v13.6h-7.2v-13.6zM2071.2,1278.5v27.2h-7.2v-27.2zM2071.2,1312.5v13.6h-7.2v-13.6zM2071.2,1332.9l0.1,27.2h-7.2l-0.1,-27.2zM2071.3,1366.9v13.6h-7.2v-13.6zM2071.3,1387.3v27.2h-7.2v-27.2zM2071.3,1421.3v13.6h-7.2v-13.6zM2071.3,1441.7v27.2h-7.2v-27.2zM2071.3,1475.7v8.9h-7.2v-8.9zM2069.6,1484.6v-23.2h7.2v23.2zM2069.7,1454.6v-13.6h7.2v13.6zM2069.7,1434.2v-27.2h7.2v27.2zM2069.7,1400.2v-13.6h7.2v13.6zM2069.7,1379.8v-27.2h7.2v27.2zM2069.7,1345.8v-13.6h7.2v13.6zM2069.7,1325.4l0.1,-27.2h7.2l-0.1,27.2zM2069.8,1291.4v-13.6h7.2v13.6zM2069.8,1271v-27.2h7.2v27.2zM2069.8,1237v-13.6h7.2v13.6zM2069.8,1216.6v-27.2h7.2v27.2zM2069.8,1182.6v-13.6h7.2v13.6zM2069.8,1162.2l0.1,-27.2h7.2l-0.1,27.2zM2069.9,1128.2v-13.6h7.2v13.6zM2069.9,1107.8v-27.2h7.2v27.2zM2069.9,1073.8v-13.6h7.2v13.6zM2069.9,1053.4v-27.2h7.2v27.2zM2070.1,1019.2l0.6,-13.6l7.2,0.4l-0.6,13.6zM2071,998.8l1.1,-27.2l7.2,0.4l-1.1,27.2zM2072.4,964.8l0.6,-12.8l7.2,0.3l-0.6,12.9zM2080.2,952v0.8l-7.2,0.3v-0.8zM2080.5,959.6l1.1,27.2l-7.2,0.3l-1.1,-27.2zM2081.9,993.6l0.6,13.6l-7.2,0.3l-0.6,-13.6zM2082.8,1014l0.4,10.6v16.8h-7.2v-16.6l-0.4,-10.5zM2083.2,1048.2l0.1,13.6h-7.2l-0.1,-13.6zM2083.3,1068.6v27.2h-7.2v-27.2zM2083.3,1102.6v13.6h-7.2v-13.6zM2083.3,1123v27.2h-7.2v-27.2zM2083.3,1157v13.6h-7.2v-13.6zM2083.3,1177.4v27.2h-7.2v-27.2zM2083.3,1211.4l0.1,13.6h-7.2l-0.1,-13.6zM2083.4,1231.8v27.2h-7.2v-27.2zM2083.4,1265.8v13.6h-7.2v-13.6zM2083.4,1286.2v27.2h-7.2v-27.2zM2083.4,1320.2v13.6h-7.2v-13.6zM2083.4,1340.6v27.2h-7.2v-27.2zM2083.5,1374.6v13.6h-7.2v-13.6zM2083.5,1395v27.2h-7.2v-27.2zM2083.5,1429v13.6h-7.2v-13.6zM2083.5,1449.4v27.2h-7.2v-27.2zM2083.5,1483.4v1.2h-7.2v-1.2zM2081.8,1484.6v-23.2h7.2v23.2zM2081.9,1454.6v-13.6h7.2v13.6zM2081.9,1434.2v-27.2h7.2v27.2zM2081.9,1400.2v-13.6h7.2v13.6zM2081.9,1379.8v-27.2h7.2v27.2zM2081.9,1345.8v-13.6h7.2v13.6zM2081.9,1325.4l0.1,-27.2h7.2l-0.1,27.2zM2082,1291.4v-13.6h7.2v13.6zM2082,1271v-27.2h7.2v27.2zM2082,1237v-13.6h7.2v13.6zM2082,1216.6v-27.2h7.2v27.2zM2082,1182.6v-13.6h7.2v13.6zM2082,1162.2l0.1,-27.2h7.2l-0.1,27.2zM2082.1,1128.2v-13.6h7.2v13.6zM2082.1,1107.8v-27.2h7.2v27.2zM2082.1,1073.8v-13.6h7.2v13.6zM2082.1,1053.4v-27.2h7.2v27.2zM2082.4,1019.2l0.6,-13.6l7.2,0.4l-0.6,13.6zM2083.3,998.8l1.2,-27.2l7.2,0.4l-1.2,27.2zM2084.8,964.8l0.4,-9l7.2,0.3l-0.4,9.1zM2092.4,955.8l0.2,4.6l-7.2,0.3l-0.2,-4.6zM2092.8,967.2l1.2,27.2l-7.2,0.3l-1.1,-27.2zM2094.3,1001.2l0.5,13.6l-7.1,0.3l-0.6,-13.6zM2095.1,1021.6l0.3,6.8v20.5h-7.2v-20.4l-0.3,-6.6zM2095.4,1055.7l0.1,13.6h-7.2l-0.1,-13.6zM2095.5,1076.1v27.2h-7.2v-27.2zM2095.5,1110.1v13.6h-7.2v-13.6zM2095.5,1130.5v27.2h-7.2v-27.2zM2095.5,1164.5v13.6h-7.2v-13.6zM2095.5,1184.9v27.2h-7.2v-27.2zM2095.5,1218.9l0.1,13.6h-7.2l-0.1,-13.6zM2095.6,1239.3v27.2h-7.2v-27.2zM2095.6,1273.3v13.6h-7.2v-13.6zM2095.6,1293.7v27.2h-7.2v-27.2zM2095.6,1327.7v13.6h-7.2v-13.6zM2095.6,1348.1v27.2h-7.2v-27.2zM2095.7,1382.1v13.6h-7.2v-13.6zM2095.7,1402.5v27.2h-7.2v-27.2zM2095.7,1436.5v13.6h-7.2v-13.6zM2095.7,1456.9v27.2h-7.2v-27.2zM2094,1484.6v-23.2h7.2v23.2zM2094,1454.6l0.1,-13.6h7.2l-0.1,13.6zM2094.1,1434.2v-27.2h7.2v27.2zM2094.1,1400.2v-13.6h7.2v13.6zM2094.1,1379.8v-27.2h7.2v27.2zM2094.1,1345.8v-13.6h7.2v13.6zM2094.1,1325.4v-27.2h7.2v27.2zM2094.2,1291.4v-13.6h7.2v13.6zM2094.2,1271v-27.2h7.2v27.2zM2094.2,1237v-13.6h7.2v13.6zM2094.2,1216.6v-27.2h7.2v27.2zM2094.2,1182.6v-13.6h7.2v13.6zM2094.2,1162.2l0.1,-27.2h7.2l-0.1,27.2zM2094.3,1128.2v-13.6h7.2v13.6zM2094.3,1107.8v-27.2h7.2v27.2zM2094.3,1073.8v-13.6h7.2v13.6zM2094.3,1053.4v-23.2l0.2,-4.2l7.2,0.4l-0.2,4v23zM2094.8,1019.2l0.6,-13.6l7.2,0.4l-0.6,13.6zM2095.7,998.8l1.2,-27.2l7.1,0.4l-1.1,27.2zM2097.1,964.8l0.3,-5.3l7.2,0.3l-0.3,5.4zM2104.6,959.5l0.3,8.2l-7.2,0.3l-0.3,-8.2zM2105.2,974.5l1.1,27.2l-7.1,0.3l-1.2,-27.2zM2106.6,1008.5l0.6,13.6l-7.2,0.3l-0.6,-13.6zM2107.5,1028.9l0.1,3.1v24.3h-7.2v-24.1l-0.1,-3zM2107.6,1063.1v13.6h-7.2v-13.6zM2107.7,1083.5v27.2h-7.2v-27.2zM2107.7,1117.5v13.6h-7.2v-13.6zM2107.7,1137.9v27.2h-7.2v-27.2zM2107.7,1171.9v13.6h-7.2v-13.6zM2107.7,1192.3v27.2h-7.2v-27.2zM2107.7,1226.3l0.1,13.6h-7.2l-0.1,-13.6zM2107.8,1246.7v27.2h-7.2v-27.2zM2107.8,1280.7v13.6h-7.2v-13.6zM2107.8,1301.1v27.2h-7.2v-27.2zM2107.8,1335.1v13.6h-7.2v-13.6zM2107.8,1355.5v27.2h-7.2v-27.2zM2107.9,1389.5v13.6h-7.2v-13.6zM2107.9,1409.9v27.2h-7.2v-27.2zM2107.9,1443.9v13.6h-7.2v-13.6zM2107.9,1464.3v20.3h-7.2v-20.3zM2106.2,1484.6v-23.2h7.2v23.2zM2106.2,1454.6l0.1,-13.6h7.2l-0.1,13.6zM2106.3,1434.2v-27.2h7.2v27.2zM2106.3,1400.2v-13.6h7.2v13.6zM2106.3,1379.8v-27.2h7.2v27.2zM2106.3,1345.8v-13.6h7.2v13.6zM2106.3,1325.4v-27.2h7.2v27.2zM2106.4,1291.4v-13.6h7.2v13.6zM2106.4,1271v-27.2h7.2v27.2zM2106.4,1237v-13.6h7.2v13.6zM2106.4,1216.6v-27.2h7.2v27.2zM2106.4,1182.6v-13.6h7.2v13.6zM2106.4,1162.2l0.1,-27.2h7.2l-0.1,27.2zM2106.5,1128.2v-13.6h7.2v13.6zM2106.5,1107.8v-27.2h7.2v27.2zM2106.5,1073.8v-13.6h7.2v13.6zM2106.5,1053.4v-19.6l0.4,-7.8l7.1,0.4l-0.3,7.6v19.4zM2107.2,1019.2l0.5,-13.6l7.2,0.4l-0.6,13.6zM2108,998.8l1.2,-27.2l7.2,0.4l-1.2,27.2zM2109.5,964.8l0.1,-1.7l7.2,0.3l-0.1,1.8zM2116.8,963.1l0.5,11.9l-7.2,0.3l-0.5,-11.9zM2117.5,981.8l1.2,27.2l-7.2,0.3l-1.1,-27.2zM2119,1015.8l0.6,13.6l-7.2,0.3l-0.6,-13.6zM2119.8,1036.3v27.2h-7.2v-27.2zM2119.8,1070.3v13.6h-7.2v-13.6zM2119.9,1090.7v27.2h-7.2v-27.2zM2119.9,1124.7v13.6h-7.2v-13.6zM2119.9,1145.1v27.2h-7.2v-27.2zM2119.9,1179.1v13.6h-7.2v-13.6zM2119.9,1199.5v27.2h-7.2v-27.2zM2119.9,1233.5l0.1,13.6h-7.2l-0.1,-13.6zM2120,1253.9v27.2h-7.2v-27.2zM2120,1287.9v13.6h-7.2v-13.6zM2120,1308.3v27.2h-7.2v-27.2zM2120,1342.3v13.6h-7.2v-13.6zM2120,1362.7v27.2h-7.2v-27.2zM2120,1396.7l0.1,13.6h-7.2l-0.1,-13.6zM2120.1,1417.1v27.2h-7.2v-27.2zM2120.1,1451.1v13.6h-7.2v-13.6zM2120.1,1471.5v13.1h-7.2v-13.1zM2118.4,1484.6v-23.2h7.2v23.2zM2118.4,1454.6l0.1,-13.6h7.2l-0.1,13.6zM2118.5,1434.2v-27.2h7.2v27.2zM2118.5,1400.2v-13.6h7.2v13.6zM2118.5,1379.8v-27.2h7.2v27.2zM2118.5,1345.8v-13.6h7.2v13.6zM2118.5,1325.4v-27.2h7.2v27.2zM2118.6,1291.4v-13.6h7.2v13.6zM2118.6,1271v-27.2h7.2v27.2zM2118.6,1237v-13.6h7.2v13.6zM2118.6,1216.6v-27.2h7.2v27.2zM2118.6,1182.6v-13.6h7.2v13.6zM2118.6,1162.2l0.1,-27.2h7.2l-0.1,27.2zM2118.7,1128.2v-13.6h7.2v13.6zM2118.7,1107.8v-27.2h7.2v27.2zM2118.7,1073.8v-13.6h7.2v13.6zM2118.7,1053.4v-16l0.5,-11.4l7.2,0.4l-0.5,11.1v15.9zM2119.5,1019.2l0.6,-13.6l7.2,0.4l-0.6,13.6zM2120.4,998.8l1.2,-27.2l7.1,0.4l-1.1,27.2zM2129,968.4l0.6,13.6l-7.2,0.3l-0.6,-13.6zM2129.9,988.8l1.1,27.2l-7.2,0.3l-1.1,-27.2zM2131.3,1022.8l0.6,13.6l-7.2,0.3l-0.6,-13.6zM2132,1043.4v27.2h-7.2v-27.2zM2132,1077.4v13.6h-7.2v-13.6zM2132.1,1097.8v27.2h-7.2v-27.2zM2132.1,1131.8v13.6h-7.2v-13.6zM2132.1,1152.2v27.2h-7.2v-27.2zM2132.1,1186.2v13.6h-7.2v-13.6zM2132.1,1206.6v27.2h-7.2v-27.2zM2132.1,1240.6l0.1,13.6h-7.2l-0.1,-13.6zM2132.2,1261v27.2h-7.2v-27.2zM2132.2,1295v13.6h-7.2v-13.6zM2132.2,1315.4v27.2h-7.2v-27.2zM2132.2,1349.4v13.6h-7.2v-13.6zM2132.2,1369.8v27.2h-7.2v-27.2zM2132.2,1403.8l0.1,13.6h-7.2l-0.1,-13.6zM2132.3,1424.2v27.2h-7.2v-27.2zM2132.3,1458.2v13.6h-7.2v-13.6zM2132.3,1478.6v6h-7.2v-6zM2130.6,1484.6v-23.2h7.2v23.2zM2130.6,1454.6l0.1,-13.6h7.2l-0.1,13.6zM2130.7,1434.2v-27.2h7.2v27.2zM2130.7,1400.2v-13.6h7.2v13.6zM2130.7,1379.8v-27.2h7.2v27.2zM2130.7,1345.8v-13.6h7.2v13.6zM2130.7,1325.4v-27.2h7.2v27.2zM2130.7,1291.4l0.1,-13.6h7.2l-0.1,13.6zM2130.8,1271v-27.2h7.2v27.2zM2130.8,1237v-13.6h7.2v13.6zM2130.8,1216.6v-27.2h7.2v27.2zM2130.8,1182.6v-13.6h7.2v13.6zM2130.8,1162.2l0.1,-27.2h7.2l-0.1,27.2zM2130.9,1128.2v-13.6h7.2v13.6zM2130.9,1107.8v-27.2h7.2v27.2zM2130.9,1073.8v-13.6h7.2v13.6zM2130.9,1053.4v-12.5l0.7,-14.9l7.1,0.4l-0.6,14.6v12.4zM2131.8,1019.2l0.6,-13.6l7.2,0.4l-0.6,13.6zM2132.7,998.8l1.2,-27.2l7.2,0.4l-1.2,27.2zM2141.4,975.4l0.5,13.6l-7.1,0.3l-0.6,-13.6zM2142.2,995.8l1.2,27.2l-7.2,0.3l-1.2,-27.2zM2143.7,1029.8l0.5,13.6l-7.2,0.3l-0.5,-13.6zM2144.2,1050.3v27.2h-7.2v-27.2zM2144.2,1084.3v13.6h-7.2v-13.6zM2144.2,1104.7l0.1,27.2h-7.2l-0.1,-27.2zM2144.3,1138.7v13.6h-7.2v-13.6zM2144.3,1159.1v27.2h-7.2v-27.2zM2144.3,1193.1v13.6h-7.2v-13.6zM2144.3,1213.5v27.2h-7.2v-27.2zM2144.3,1247.5v13.6h-7.2v-13.6zM2144.4,1267.9v27.2h-7.2v-27.2zM2144.4,1301.9v13.6h-7.2v-13.6zM2144.4,1322.3v27.2h-7.2v-27.2zM2144.4,1356.3v13.6h-7.2v-13.6zM2144.4,1376.7v27.2h-7.2v-27.2zM2144.4,1410.7l0.1,13.6h-7.2l-0.1,-13.6zM2144.5,1431.1v27.2h-7.2v-27.2zM2144.5,1465.1v13.6h-7.2v-13.6zM2142.8,1484.6v-23.2h7.2v23.2zM2142.8,1454.6l0.1,-13.6h7.2l-0.1,13.6zM2142.9,1434.2v-27.2h7.2v27.2zM2142.9,1400.2v-13.6h7.2v13.6zM2142.9,1379.8v-27.2h7.2v27.2zM2142.9,1345.8v-13.6h7.2v13.6zM2142.9,1325.4v-27.2h7.2v27.2zM2142.9,1291.4l0.1,-13.6h7.2l-0.1,13.6zM2143,1271v-27.2h7.2v27.2zM2143,1237v-13.6h7.2v13.6zM2143,1216.6v-27.2h7.2v27.2zM2143,1182.6v-13.6h7.2v13.6zM2143,1162.2v-27.2h7.2v27.2zM2143.1,1128.2v-13.6h7.2v13.6zM2143.1,1107.8v-27.2h7.2v27.2zM2143.1,1073.8v-13.6h7.2v13.6zM2143.1,1053.4v-9.1l0.8,-18.3l7.2,0.4l-0.8,18v9zM2144.2,1019.2l0.6,-13.6l7.2,0.4l-0.6,13.6zM2145.1,998.8l1.1,-25.3l7.1,0.3l-1,25.4zM2153.3,973.5l0.1,1.9l-7.2,0.3v-1.9zM2153.7,982.2l0.5,12.5l-7.1,0.3l-0.6,-12.5z"/>
<path fill="#0000FF" d="M843.2,1484.6h-527.2v-222.3l37.2,-10.5l55.1,-16.9l48.3,-16.2l44.5,-16.6l38.9,-16l35.7,-16.4l31,-15.7l28.5,-16.1l24.5,-15.4l22.5,-15.9l20.7,-16.2l18.7,-16.8l16,-16.1l14.4,-16.7l13.1,-17.3l11.8,-17.9l10.5,-18.7l9.4,-19.5l8.7,-21.9l7.6,-23.2l6.9,-26.3l5.8,-28.1l5,-32l4.3,-38.6l3.4,-45.9l2.7,-58.9l2,-82.1zM1626.9,610.4l2,82.1l2.7,58.9l3.4,45.9l4.3,38.6l5,32l5.8,28.1l6.9,26.3l7.6,23.2l8.7,21.9l9.4,19.5l10.5,18.7l11.8,17.9l13.1,17.3l14.4,16.7l16,16.1l18.7,16.8l20.7,16.2l22.5,15.9l24.5,15.4l28.5,16.1l31,15.7l35.7,16.4l38.9,16l44.5,16.6l48.3,16.2l55.1,16.9l37.1,10.5v222.3h-527.1z"/>
<path fill="#0000FF" d="M841.4,1484.6v-1191.9h6.8v1191.9zM841.4,292.7h787.3v6.8h-787.3zM1628.7,292.7v1191.9h-6.8v-1191.9z"/>
<path fill="#D2102D" d="M321,660l6.3,4.5l4,3.2l3.9,3.5l3.9,3.8l4,4l4,4.3l4.1,4.7l4,5l4,5.4l4,5.8l4,6.3l4,6.7l4,7.2l4,7.8l4,8.3l3.9,9l4,9.7l4,10.5l3.9,11.4l4,12.3l3.9,13.5l4,14.8l3.9,16.3l3.9,18l4,20.2l3.9,22.8l3.9,26.1l3.9,30.5l4,36.3l3.9,44.8l3.9,58.2l3.9,82.6l3.9,142l0.1,165.1h-6.8l-0.1,-165l-3.9,-141.8l-3.9,-82.5l-3.9,-58.1l-3.9,-44.6l-3.9,-36.2l-3.9,-30.3l-3.8,-26l-3.9,-22.7l-3.9,-20.1l-3.9,-17.9l-3.8,-16.1l-3.9,-14.6l-3.8,-13.4l-3.9,-12.2l-3.9,-11.2l-3.8,-10.4l-3.8,-9.5l-3.9,-8.9l-3.8,-8.2l-3.8,-7.7l-3.8,-7.1l-3.8,-6.6l-3.9,-6.1l-3.7,-5.8l-3.8,-5.3l-3.8,-5l-3.8,-4.6l-3.8,-4.3l-3.8,-3.9l-3.9,-3.5l-3.9,-3.2l-3.8,-3l-6.2,-4.2zM454.9,1484.6l0.1,-167.1l3.9,-144.1l3.9,-84.7l3.9,-60.2l3.9,-46.9l4,-38.4l3.9,-32.5l3.9,-28.2l3.9,-24.9l3.9,-22.2l4,-20.1l3.9,-18.3l3.9,-16.9l4,-15.5l3.9,-14.4l3.9,-13.4l4,-12.6l3.9,-11.7l4,-11.1l3.9,-10.4l4,-9.9l7.9,-18.1l7.9,-16.2l7.9,-14.7l7.9,-13.2l8,-11.9l8,-10.7l7.9,-9.7l8,-8.7l7.9,-7.8l7.8,-7l7.9,-6.1l7.9,-5.4l8,-4.5l8,-3.8l8,-2.9l8.1,-2.1l8.1,-1.3l4.1,-0.4l4.1,-0.1l4,0.2l4.1,0.3l4.1,0.6l4.1,0.8l4,1l4.1,1.3l4,1.5l4.1,1.8l4,2.1l4,2.3l3.9,2.5l4,2.9l4,3.1l3.9,3.4l3.9,3.8l4,4l4,4.3l4.1,4.6l4,5.1l4,5.5l4,5.9l4,6.5l4,7l4,7.6l4,8.2l4,8.9l4,9.6l4,10.6l3.9,11.5l4,12.6l3.9,13.9l4,15.4l3.9,17.2l3.9,19.3l4,21.9l3.9,25.2l3.9,29.5l3.9,35.4l3.9,43.8l4,57.3l3.9,81.5l3.9,141.1l0.2,307.1h-6.8l-0.2,-307l-3.9,-140.9l-3.9,-81.5l-3.9,-57l-3.9,-43.8l-3.9,-35.2l-3.9,-29.4l-3.9,-25l-3.8,-21.8l-3.9,-19.1l-3.9,-17l-3.8,-15.3l-3.9,-13.7l-3.8,-12.5l-3.9,-11.4l-3.8,-10.4l-3.9,-9.5l-3.8,-8.8l-3.8,-8l-3.8,-7.5l-3.8,-6.8l-3.8,-6.4l-3.8,-5.8l-3.8,-5.5l-3.8,-5l-3.7,-4.6l-3.8,-4.2l-3.8,-3.9l-3.9,-3.4l-3.9,-3.1l-3.8,-2.9l-3.9,-2.5l-3.8,-2.3l-3.8,-2l-3.8,-1.7l-3.8,-1.6l-3.7,-1.3l-3.8,-1l-3.7,-0.9l-3.8,-0.7l-3.7,-0.5l-3.7,-0.3l-3.7,-0.1l-3.8,0.1l-3.7,0.3l-7.5,1.1l-7.5,1.8l-7.6,2.6l-7.6,3.3l-7.7,4.1l-7.7,4.9l-7.7,5.7l-7.8,6.6l-7.7,7.6l-7.6,8.6l-7.7,9.5l-7.6,10.7l-7.7,11.8l-7.6,13l-7.7,14.5l-7.7,16.1l-7.7,17.9l-3.9,9.8l-3.8,10.3l-3.9,10.9l-3.9,11.7l-3.8,12.5l-3.9,13.3l-3.9,14.3l-3.9,15.4l-3.8,16.7l-3.9,18.2l-3.9,20l-3.9,22.1l-3.8,24.8l-3.9,28.1l-3.9,32.4l-3.9,38.2l-3.9,46.8l-3.9,60.1l-3.9,84.5l-3.9,144l-0.1,167zM845,1484.6l0.3,-311.3l3.9,-145.1l3.9,-85.7l3.9,-61.4l3.9,-48l3.9,-39.5l3.9,-33.6l4,-29.3l3.9,-26.1l3.9,-23.4l3.9,-21.3l3.9,-19.6l4,-18.1l3.9,-16.8l3.9,-15.7l4,-14.7l3.9,-13.9l7.8,-25.6l7.9,-23.1l7.9,-21.1l7.9,-19.3l7.8,-17.8l7.9,-16.6l7.9,-15.3l7.9,-14.4l7.9,-13.4l7.9,-12.6l7.9,-11.9l11.8,-16.4l11.9,-15.1l11.8,-13.7l11.9,-12.6l11.7,-11.6l11.8,-10.7l11.7,-9.7l11.7,-8.9l11.8,-8.1l11.8,-7.3l11.8,-6.5l11.8,-5.8l11.8,-5.1l11.9,-4.4l11.8,-3.7l11.9,-3.1l11.8,-2.4l11.9,-1.8l11.9,-1.2l11.9,-0.5l11.9,0.1l11.9,0.7l11.8,1.4l11.9,2l11.9,2.7l11.8,3.2l11.9,4l11.8,4.6l11.8,5.4l11.8,6l11.8,6.8l11.8,7.5l11.8,8.3l11.7,9.2l11.8,10.1l11.7,11l11.8,11.9l11.8,12.9l11.9,14.2l11.8,15.5l11.9,16.9l7.9,12.3l7.9,13l7.9,13.9l7.8,14.8l7.9,16l7.9,17.1l7.9,18.6l7.9,20.1l7.8,22.1l7.9,24.2l3.9,13.2l3.9,13.9l4,14.7l3.9,15.7l3.9,16.8l4,18.1l3.9,19.6l3.9,21.3l3.9,23.4l3.9,26.1l4,29.3l3.9,33.6l3.9,39.5l3.9,48l3.9,61.4l3.9,85.7l3.9,145.1l0.3,311.3h-6.8l-0.3,-311.2l-3.9,-145l-3.9,-85.6l-3.9,-61.2l-3.9,-47.8l-3.9,-39.4l-3.8,-33.6l-3.9,-29.2l-3.9,-25.9l-3.9,-23.4l-3.9,-21.2l-3.9,-19.4l-3.8,-18l-3.9,-16.7l-3.9,-15.6l-3.9,-14.7l-3.9,-13.8l-3.8,-13l-7.8,-24.2l-7.7,-21.8l-7.8,-20.1l-7.7,-18.4l-7.7,-17l-7.8,-15.8l-7.7,-14.8l-7.7,-13.8l-7.7,-12.9l-7.7,-12.1l-11.6,-16.9l-11.6,-15.4l-11.5,-14.1l-11.6,-12.9l-11.6,-11.8l-11.7,-10.7l-11.7,-9.8l-11.7,-8.8l-11.6,-8.1l-11.7,-7.2l-11.6,-6.5l-11.6,-5.8l-11.6,-5.1l-11.6,-4.4l-11.5,-3.7l-11.6,-3.1l-11.6,-2.5l-11.5,-1.9l-11.5,-1.3l-11.6,-0.7l-11.5,-0.1l-11.5,0.5l-11.6,1.1l-11.5,1.7l-11.5,2.3l-11.6,2.9l-11.6,3.5l-11.5,4.2l-11.6,4.9l-11.6,5.5l-11.7,6.2l-11.6,7l-11.6,7.8l-11.7,8.6l-11.7,9.4l-11.7,10.4l-11.6,11.4l-11.6,12.6l-11.6,13.7l-11.5,14.9l-11.6,16.4l-7.7,11.8l-7.7,12.5l-7.8,13.3l-7.7,14.3l-7.7,15.2l-7.7,16.4l-7.8,17.7l-7.7,19.2l-7.7,20.9l-7.8,23l-7.7,25.4l-3.9,13.8l-3.9,14.7l-3.9,15.6l-3.9,16.7l-3.8,18l-3.9,19.4l-3.9,21.2l-3.9,23.4l-3.9,25.9l-3.9,29.2l-3.8,33.6l-3.9,39.4l-3.9,47.8l-3.9,61.2l-3.9,85.6l-3.9,145l-0.3,311.2zM1625.6,1484.6l0.2,-307.1l3.9,-141.1l3.9,-81.5l4,-57.3l3.9,-43.8l3.9,-35.4l3.9,-29.5l3.9,-25.2l4,-21.9l3.9,-19.3l3.9,-17.2l4,-15.4l3.9,-13.9l4,-12.6l3.9,-11.5l4,-10.6l4,-9.6l4,-8.9l4,-8.2l4,-7.6l4,-7l4,-6.5l4,-5.9l4,-5.5l4,-5.1l4.1,-4.6l4,-4.3l4,-4l3.9,-3.8l3.9,-3.4l4,-3.1l4,-2.9l3.9,-2.5l4,-2.3l4,-2.1l4.1,-1.8l4,-1.5l4.1,-1.3l4,-1l4.1,-0.8l4.1,-0.6l4.1,-0.3l4,-0.2l4.2,0.2l8.1,0.8l8.1,1.7l8,2.6l8,3.3l8,4.1l7.9,5l7.9,5.7l7.9,6.6l7.8,7.4l8,8.3l8,9.1l7.9,10.2l8,11.3l7.9,12.6l8,13.9l7.9,15.4l7.9,17.1l4,9.3l3.9,9.9l3.9,10.4l4,11.1l3.9,11.7l4,12.6l3.9,13.4l3.9,14.4l4,15.5l3.9,16.9l3.9,18.3l4,20.1l3.9,22.2l3.9,24.9l3.9,28.2l3.9,32.5l4,38.4l3.9,46.9l3.9,60.2l3.9,84.7l3.9,144.1l0.1,167.1h-6.8l-0.1,-167l-3.9,-144l-3.9,-84.5l-3.9,-60.1l-3.9,-46.8l-3.9,-38.2l-3.9,-32.4l-3.9,-28.1l-3.8,-24.8l-3.9,-22.1l-3.9,-20l-3.9,-18.2l-3.8,-16.7l-3.9,-15.4l-3.9,-14.3l-3.9,-13.3l-3.8,-12.5l-3.9,-11.7l-3.9,-10.9l-3.8,-10.3l-3.9,-9.8l-3.8,-9.2l-7.7,-17l-7.7,-15.2l-7.7,-13.8l-7.7,-12.4l-7.6,-11.2l-7.6,-10.1l-7.7,-9.1l-7.6,-8l-7.8,-7.1l-7.8,-6.2l-7.7,-5.3l-7.7,-4.5l-7.6,-3.7l-7.6,-2.9l-7.5,-2.2l-7.6,-1.4l-7.5,-0.8l-3.7,-0.1l-3.7,0.1l-3.7,0.3l-3.7,0.5l-3.8,0.7l-3.7,0.9l-3.8,1l-3.7,1.3l-3.8,1.6l-3.8,1.7l-3.8,2l-3.8,2.3l-3.9,2.5l-3.8,2.9l-3.9,3.1l-3.9,3.4l-3.8,3.9l-3.8,4.2l-3.7,4.6l-3.8,5l-3.8,5.5l-3.8,5.8l-3.8,6.4l-3.8,6.8l-3.8,7.5l-3.8,8l-3.8,8.8l-3.9,9.5l-3.8,10.4l-3.9,11.4l-3.8,12.5l-3.9,13.7l-3.8,15.3l-3.9,17l-3.9,19.1l-3.8,21.8l-3.9,25l-3.9,29.4l-3.9,35.2l-3.9,43.8l-3.9,57l-3.9,81.5l-3.9,140.9l-0.2,307zM2016,1484.6l0.1,-165.1l3.9,-142l3.9,-82.6l3.9,-58.2l3.9,-44.8l4,-36.3l3.9,-30.5l3.9,-26.1l3.9,-22.8l4,-20.2l3.9,-18l3.9,-16.3l4,-14.8l3.9,-13.5l4,-12.3l3.9,-11.4l4,-10.5l4,-9.7l3.9,-9l4,-8.3l4,-7.8l4,-7.2l4,-6.7l4,-6.3l4,-5.8l4,-5.4l4,-5l4.1,-4.7l4,-4.3l4,-4l3.9,-3.8l3.9,-3.5l4,-3.2l6.3,-4.5l3.1,4.6l-6.2,4.2l-3.8,3l-3.9,3.2l-3.9,3.5l-3.8,3.9l-3.8,4.3l-3.8,4.6l-3.8,5l-3.8,5.3l-3.7,5.8l-3.9,6.1l-3.8,6.6l-3.8,7.1l-3.8,7.7l-3.8,8.2l-3.9,8.9l-3.8,9.5l-3.8,10.4l-3.9,11.2l-3.9,12.2l-3.8,13.4l-3.9,14.6l-3.8,16.1l-3.9,17.9l-3.9,20.1l-3.9,22.7l-3.8,26l-3.9,30.3l-3.9,36.2l-3.9,44.6l-3.9,58.1l-3.9,82.5l-3.9,141.8l-0.1,165z"/>
<path fill="#00CDFF" d="M321.1,660l6.8,4.8l-3.3,4.5l-6.8,-4.7zM334.7,670.9l6.8,6.5l-3.4,3.6l-6.7,-6.5zM348.1,684.3l5.5,6.8l-4.1,3.4l-5.5,-6.8zM359,698l4.5,6.8l-4.6,3.2l-4.6,-6.8zM368,711.7l3.9,6.8l-5.1,3l-3.9,-6.8zM375.7,725.4l3.5,6.8l-5.4,2.8l-3.5,-6.8zM382.5,739.1l3,6.8l-5.6,2.6l-3.1,-6.8zM388.5,752.8l2.7,6.8l-5.8,2.4l-2.8,-6.8zM393.9,766.5l2.4,6.8l-6,2.2l-2.5,-6.8zM398.7,780.2l2.2,6.8l-6.2,2l-2.1,-6.8zM403.1,793.9l2,6.8l-6.3,1.8l-2,-6.8zM407.1,807.6l1.8,6.8l-6.3,1.6l-1.9,-6.8zM410.7,821.2l1.7,6.8l-6.4,1.6l-1.7,-6.8zM414.1,834.9l1.5,6.8l-6.5,1.4l-1.5,-6.8zM417.1,848.5l1.5,6.8l-6.5,1.4l-1.5,-6.8zM419.9,862.2l1.4,6.8l-6.6,1.2l-1.3,-6.8zM422.6,875.8l1.2,6.8l-6.6,1.2l-1.2,-6.8zM424.9,889.4l1.2,6.8l-6.6,1.2l-1.2,-6.8zM427.2,903.1l1,6.8l-6.6,1l-1,-6.8zM429.3,916.7l1,6.8l-6.7,1l-1,-6.8zM431.2,930.4l0.9,6.8l-6.7,0.8l-0.9,-6.8zM432.9,944l0.9,6.8l-6.7,0.8l-0.8,-6.8zM434.7,957.6l0.7,6.8l-6.7,0.8l-0.8,-6.8zM436.1,971.2l0.8,6.8l-6.8,0.8l-0.7,-6.8zM437.6,984.8l0.7,6.8l-6.7,0.8l-0.7,-6.8zM438.9,998.5l0.6,6.8l-6.7,0.6l-0.6,-6.8zM440.1,1012.1l0.6,6.8l-6.7,0.6l-0.6,-6.8zM441.3,1025.7l0.6,6.8l-6.7,0.6l-0.6,-6.8zM442.5,1039.4l0.4,6.8l-6.8,0.4l-0.4,-6.8zM443.4,1053l0.4,6.8l-6.7,0.4l-0.5,-6.8zM444.3,1066.6l0.4,6.8l-6.7,0.4l-0.5,-6.8zM445.2,1080.2l0.4,6.8l-6.7,0.4l-0.5,-6.8zM446.1,1093.8l0.4,6.8l-6.8,0.4l-0.4,-6.8zM446.8,1107.4l0.3,6.8l-6.8,0.4l-0.3,-6.8zM447.4,1121l0.3,6.8l-6.7,0.4l-0.4,-6.8zM448.1,1134.6l0.3,6.8l-6.8,0.4l-0.3,-6.8zM448.7,1148.2l0.3,6.8l-6.8,0.4l-0.3,-6.8zM449.3,1161.8l0.4,6.8l-6.8,0.4l-0.3,-6.8zM450,1175.5l0.2,6.8l-6.8,0.2l-0.2,-6.8zM450.4,1189.1l0.2,6.8l-6.8,0.2l-0.2,-6.8zM450.8,1202.7l0.2,6.8l-6.8,0.2l-0.2,-6.8zM451.2,1216.3l0.1,6.8l-6.7,0.2l-0.2,-6.8zM451.5,1229.9l0.2,6.8l-6.8,0.2l-0.2,-6.8zM451.9,1243.5l0.2,6.8l-6.8,0.2l-0.2,-6.8zM452.3,1257.1l0.2,6.8l-6.8,0.2l-0.2,-6.8zM452.7,1270.7l0.1,6.8l-6.8,0.2l-0.1,-6.8zM453,1284.3l0.2,6.8l-6.8,0.2l-0.2,-6.8zM453.4,1297.9l0.2,6.8l-6.8,0.2l-0.2,-6.8zM453.8,1311.5l0.2,6.8l-6.8,0.2l-0.2,-6.8zM454,1325.2v6.8h-6.8v-6.8zM454,1338.8v6.8h-6.8v-6.8zM454,1352.4v6.8h-6.8v-6.8zM454,1366v6.8h-6.8v-6.8zM454.1,1379.6v6.8h-6.8v-6.8zM454.1,1393.2v6.8h-6.8v-6.8zM454.1,1406.8v6.8h-6.8v-6.8zM454.1,1420.4v6.8h-6.8v-6.8zM454.1,1434v6.8h-6.8v-6.8zM454.1,1447.6v6.8h-6.8v-6.8zM454.1,1461.2v6.8h-6.8v-6.8zM454.1,1474.8v6.8h-6.8v-6.8zM454.9,1479.7v-6.8h6.8v6.8zM454.9,1466.1v-6.8h6.8v6.8zM454.9,1452.5v-6.8h6.8v6.8zM454.9,1438.9v-6.8h6.8v6.8zM454.9,1425.3v-6.8h6.8v6.8zM454.9,1411.7v-6.8h6.8v6.8zM454.9,1398.1v-6.8h6.8v6.8zM454.9,1384.5l0.1,-6.8h6.8l-0.1,6.8zM455,1370.9v-6.8h6.8v6.8zM455,1357.3v-6.8h6.8v6.8zM455,1343.7v-6.8h6.8v6.8zM455,1330.1v-6.8h6.8v6.8zM455,1316.4l0.2,-6.8l6.8,0.2l-0.2,6.8zM455.4,1302.8l0.2,-6.8l6.8,0.2l-0.2,6.8zM455.8,1289.2l0.2,-6.8l6.8,0.2l-0.2,6.8zM456.1,1275.6l0.2,-6.8l6.8,0.2l-0.2,6.8zM456.5,1262l0.2,-6.8l6.8,0.2l-0.2,6.8zM456.9,1248.4l0.2,-6.8l6.8,0.2l-0.2,6.8zM457.2,1234.8l0.2,-6.8l6.8,0.2l-0.2,6.8zM457.6,1221.2l0.2,-6.8l6.8,0.2l-0.2,6.8zM458,1207.6l0.2,-6.8l6.8,0.2l-0.2,6.8zM458.4,1194l0.1,-6.8l6.8,0.2l-0.2,6.8zM458.7,1180.4l0.2,-6.8l6.8,0.2l-0.2,6.8zM459.2,1166.7l0.3,-6.8l6.8,0.4l-0.3,6.8zM459.8,1153.1l0.4,-6.8l6.7,0.4l-0.3,6.8zM460.5,1139.5l0.3,-6.8l6.8,0.4l-0.3,6.8zM461.1,1125.9l0.3,-6.8l6.8,0.4l-0.3,6.8zM461.7,1112.3l0.3,-6.8l6.8,0.4l-0.3,6.8zM462.4,1098.7l0.3,-6.8l6.8,0.4l-0.4,6.8zM463.1,1085.1l0.4,-6.8l6.8,0.4l-0.5,6.8zM463.9,1071.5l0.5,-6.8l6.8,0.4l-0.5,6.8zM464.8,1057.9l0.5,-6.8l6.7,0.4l-0.4,6.8zM465.7,1044.3l0.4,-6.8l6.8,0.4l-0.4,6.8zM466.6,1030.6l0.5,-6.8l6.8,0.6l-0.5,6.8zM467.7,1017l0.6,-6.8l6.7,0.6l-0.6,6.8zM468.8,1003.4l0.6,-6.8l6.7,0.6l-0.5,6.8zM470,989.8l0.5,-6.8l6.8,0.6l-0.6,6.8zM471.2,976.2l0.7,-6.8l6.7,0.6l-0.7,6.8zM472.6,962.6l0.7,-6.8l6.7,0.6l-0.7,6.8zM474,948.9l0.7,-6.8l6.7,0.8l-0.7,6.8zM475.5,935.3l0.8,-6.8l6.7,0.8l-0.8,6.8zM477.1,921.7l0.9,-6.8l6.7,0.8l-0.8,6.8zM478.8,908l1,-6.8l6.7,1l-1,6.8zM480.7,894.4l1,-6.8l6.7,1l-1,6.8zM482.7,880.8l1,-6.8l6.7,1l-1.1,6.8zM484.8,867.2l1.1,-6.8l6.6,1l-1.1,6.8zM487,853.5l1.2,-6.8l6.6,1.2l-1.2,6.8zM489.4,839.9l1.3,-6.8l6.6,1.2l-1.3,6.8zM492,826.3l1.3,-6.8l6.6,1.2l-1.3,6.8zM494.7,812.6l1.5,-6.8l6.5,1.4l-1.4,6.8zM497.7,799l1.5,-6.8l6.5,1.4l-1.6,6.8zM500.8,785.3l1.6,-6.8l6.5,1.6l-1.6,6.8zM504.2,771.7l1.7,-6.8l6.4,1.6l-1.7,6.8zM507.8,758l1.8,-6.8l6.3,1.8l-1.8,6.8zM511.6,744.4l2,-6.8l6.2,1.8l-1.9,6.8zM515.7,730.7l2.2,-6.8l6.1,2l-2.1,6.8zM520.2,717.1l2.3,-6.8l6.1,2l-2.3,6.8zM524.9,703.4l2.6,-6.8l5.9,2.2l-2.5,6.8zM530.1,689.7l2.7,-6.8l5.9,2.4l-2.7,6.8zM535.7,676.1l2.9,-6.8l5.8,2.4l-3,6.8zM541.8,662.4l3.2,-6.8l5.5,2.6l-3.2,6.8zM548.4,648.7l3.5,-6.8l5.4,2.8l-3.5,6.8zM555.7,635l3.9,-6.8l5.1,3l-3.9,6.8zM563.8,621.4l4.2,-6.8l4.9,3l-4.3,6.8zM572.7,607.7l4.9,-6.8l4.5,3.2l-4.8,6.8zM583,594l5.5,-6.8l4.1,3.4l-5.5,6.8zM594.9,580.4l6.5,-6.8l3.6,3.4l-6.6,6.8zM608.3,567l6.8,-5.6l3.4,4l-6.8,5.6zM622,556l6.8,-4.5l3.2,4.8l-6.8,4.4zM635.9,547.4l6.8,-3.2l2.6,5.6l-6.8,3.2zM649.9,541.3l6.8,-2l1.8,6.2l-6.8,2zM664,537.6l6.8,-0.8l0.8,6.7l-6.8,0.8zM678.2,536.6l6.8,0.4l-0.4,6.8l-6.8,-0.4zM692.4,538.3l6.8,1.7l-1.6,6.4l-6.8,-1.8zM706.5,542.8l6.8,3.1l-2.6,5.6l-6.8,-3.1zM720.4,550.4l6.8,4.7l-3.2,4.6l-6.8,-4.8zM734.1,561.2l3.1,2.9l3.7,3.8l-3.4,3.4l-3.7,-3.7l-3.1,-2.8zM747.3,574.7l5.4,6.8l-4.1,3.3l-5.4,-6.8zM757.9,588.4l4.4,6.8l-4.8,3.1l-4.4,-6.8zM766.6,602.1l3.7,6.8l-5.2,2.9l-3.7,-6.8zM774,615.8l3.2,6.8l-5.5,2.7l-3.2,-6.8zM780.4,629.5l2.8,6.8l-5.8,2.5l-2.8,-6.8zM786,643.2l2.6,6.8l-6,2.3l-2.6,-6.8zM791,656.9l2.3,6.8l-6.1,2.1l-2.3,-6.8zM795.5,670.6l2.1,6.8l-6.3,1.9l-2,-6.8zM799.5,684.3l1.9,6.8l-6.3,1.7l-1.9,-6.8zM803.2,697.9l1.7,6.8l-6.4,1.7l-1.7,-6.8zM806.5,711.6l1.6,6.8l-6.5,1.5l-1.6,-6.8zM809.6,725.3l1.4,6.8l-6.6,1.3l-1.4,-6.8zM812.4,738.9l1.2,6.8l-6.5,1.3l-1.3,-6.8zM814.9,752.6l1.2,6.8l-6.6,1.1l-1.2,-6.8zM817.3,766.2l1,6.8l-6.6,1.1l-1.1,-6.8zM819.4,779.8l1,6.8l-6.6,1.1l-1.1,-6.8zM821.4,793.5l0.9,6.8l-6.7,0.9l-0.9,-6.8zM823.2,807.1l0.9,6.8l-6.7,0.9l-0.9,-6.8zM825,820.8l0.7,6.8l-6.7,0.7l-0.7,-6.8zM826.5,834.4l0.7,6.8l-6.7,0.7l-0.7,-6.8zM828,848l0.7,6.8l-6.7,0.7l-0.7,-6.8zM829.3,861.7l0.6,6.8l-6.7,0.6l-0.6,-6.8zM830.5,875.3l0.7,6.8l-6.8,0.6l-0.6,-6.8zM831.8,888.9l0.6,6.8l-6.8,0.6l-0.6,-6.8zM832.9,902.5l0.4,6.8l-6.7,0.5l-0.5,-6.8zM833.8,916.1l0.5,6.8l-6.8,0.5l-0.5,-6.8zM834.7,929.7l0.5,6.8l-6.8,0.5l-0.4,-6.8zM835.7,943.3l0.4,6.8l-6.7,0.5l-0.5,-6.8zM836.6,957l0.3,6.8l-6.8,0.3l-0.3,-6.8zM837.2,970.6l0.3,6.8l-6.7,0.3l-0.4,-6.8zM837.9,984.2l0.3,6.8l-6.8,0.3l-0.3,-6.8zM838.5,997.8l0.3,6.8l-6.7,0.3l-0.4,-6.8zM839.2,1011.4l0.3,6.8l-6.8,0.3l-0.3,-6.8zM839.8,1025l0.3,6.8l-6.7,0.3l-0.4,-6.8zM840.4,1038.7l0.2,6.8l-6.8,0.1l-0.2,-6.8zM840.8,1052.3l0.2,6.8l-6.8,0.1l-0.2,-6.8zM841.2,1065.9l0.2,6.8l-6.8,0.1l-0.2,-6.8zM841.6,1079.5l0.1,6.8l-6.7,0.1l-0.2,-6.8zM841.9,1093.1l0.2,6.8l-6.8,0.1l-0.2,-6.8zM842.3,1106.7l0.2,6.8l-6.8,0.1l-0.2,-6.8zM842.7,1120.3l0.2,6.8l-6.8,0.1l-0.2,-6.8zM843.1,1133.9l0.2,6.8l-6.8,0.1l-0.2,-6.8zM843.4,1147.5l0.2,6.8l-6.8,0.1l-0.2,-6.8zM843.8,1161.1l0.2,6.8l-6.8,0.1l-0.2,-6.8zM844.2,1174.7l0.1,6.8l-6.8,0.1l-0.1,-6.8zM844.3,1188.3v6.8l-6.8,0.1v-6.8zM844.3,1201.9v6.8l-6.8,0.1v-6.8zM844.3,1215.5v6.8l-6.8,0.1v-6.8zM844.3,1229.1v6.8l-6.8,0.1v-6.8zM844.3,1242.7v6.8l-6.8,0.1v-6.8zM844.3,1256.3v6.8l-6.8,0.1v-6.8zM844.4,1269.9v6.8l-6.8,0.1v-6.8zM844.4,1283.5v6.8l-6.8,0.1v-6.8zM844.4,1297.1v6.8l-6.8,0.1v-6.8zM844.4,1310.7v6.8l-6.8,0.1v-6.8zM844.4,1324.3v6.8l-6.8,0.1v-6.8zM844.4,1337.9v6.8l-6.8,0.1v-6.8zM844.4,1351.5v6.8l-6.8,0.1v-6.8zM844.4,1365.1v6.8l-6.8,0.1v-6.8zM844.4,1378.7v6.8l-6.8,0.1v-6.8zM844.5,1392.3v6.8l-6.8,0.1v-6.8zM844.5,1405.9v6.8l-6.8,0.1v-6.8zM844.5,1419.5v6.8l-6.8,0.1v-6.8zM844.5,1433.1v6.8l-6.8,0.1v-6.8zM844.5,1446.7v6.8l-6.8,0.1v-6.8zM844.5,1460.3v6.8l-6.8,0.1v-6.8zM844.5,1473.9v6.8l-6.8,0.1v-6.8zM845,1479.7v-6.8h6.8v6.8zM845,1466.1v-6.8h6.8v6.8zM845,1452.5v-6.8h6.8v6.8zM845.1,1438.9v-6.8h6.8v6.8zM845.1,1425.3v-6.8h6.8v6.8zM845.1,1411.7v-6.8h6.8v6.8zM845.1,1398.1v-6.8h6.8v6.8zM845.1,1384.5v-6.8h6.8v6.8zM845.1,1370.9v-6.8h6.8v6.8zM845.1,1357.3v-6.8h6.8v6.8zM845.1,1343.7v-6.8h6.8v6.8zM845.1,1330.1l0.1,-6.8h6.8l-0.1,6.8zM845.2,1316.5v-6.8h6.8v6.8zM845.2,1302.9v-6.8h6.8v6.8zM845.2,1289.3v-6.8h6.8v6.8zM845.2,1275.7v-6.8h6.8v6.8zM845.2,1262.1v-6.8h6.8v6.8zM845.2,1248.5v-6.8h6.8v6.8zM845.2,1234.9v-6.8h6.8v6.8zM845.2,1221.3v-6.8h6.8v6.8zM845.2,1207.7l0.1,-6.8h6.8l-0.1,6.8zM845.3,1194.1v-6.8h6.8v6.8zM845.3,1180.5v-6.8h6.8v6.8zM845.5,1166.8l0.1,-6.8l6.8,0.2l-0.1,6.8zM845.8,1153.2l0.2,-6.8l6.8,0.2l-0.2,6.8zM846.2,1139.6l0.2,-6.8l6.8,0.2l-0.2,6.8zM846.6,1126l0.1,-6.8l6.8,0.2l-0.2,6.8zM846.9,1112.4l0.2,-6.8l6.8,0.2l-0.2,6.8zM847.3,1098.8l0.2,-6.8l6.8,0.2l-0.2,6.8zM847.7,1085.2l0.1,-6.8l6.8,0.2l-0.2,6.8zM848,1071.6l0.2,-6.8l6.8,0.2l-0.2,6.8zM848.4,1058l0.2,-6.8l6.8,0.2l-0.2,6.8zM848.7,1044.4l0.2,-6.8l6.8,0.2l-0.2,6.8zM849.1,1030.8l0.3,-6.8l6.8,0.2l-0.3,6.8zM849.7,1017.1l0.3,-6.8l6.8,0.4l-0.3,6.8zM850.3,1003.5l0.3,-6.8l6.8,0.4l-0.3,6.8zM850.9,989.9l0.3,-6.8l6.8,0.4l-0.3,6.8zM851.5,976.3l0.4,-6.8l6.7,0.4l-0.3,6.8zM852.2,962.7l0.3,-6.8l6.8,0.4l-0.3,6.8zM852.8,949.1l0.3,-6.8l6.8,0.4l-0.3,6.8zM853.5,935.5l0.5,-6.8l6.7,0.4l-0.4,6.8zM854.4,921.9l0.4,-6.8l6.8,0.4l-0.4,6.8zM855.3,908.3l0.4,-6.8l6.8,0.4l-0.5,6.8zM856.1,894.7l0.5,-6.8l6.7,0.4l-0.4,6.8zM857,881l0.6,-6.8l6.7,0.6l-0.5,6.8zM858.1,867.4l0.6,-6.8l6.7,0.6l-0.5,6.8zM859.2,853.8l0.6,-6.8l6.7,0.6l-0.5,6.8zM860.3,840.2l0.6,-6.8l6.7,0.6l-0.5,6.8zM861.6,826.6l0.6,-6.8l6.8,0.6l-0.7,6.8zM862.9,813l0.7,-6.8l6.7,0.6l-0.7,6.8zM864.3,799.4l0.7,-6.8l6.7,0.6l-0.7,6.8zM865.8,785.7l0.7,-6.8l6.8,0.8l-0.8,6.8zM867.3,772.1l0.8,-6.8l6.7,0.8l-0.8,6.8zM869,758.5l0.9,-6.8l6.6,0.8l-0.9,6.8zM870.8,744.9l0.9,-6.8l6.7,0.8l-1,6.8zM872.6,731.2l1,-6.8l6.7,1l-1.1,6.8zM874.6,717.6l1,-6.8l6.7,1l-1,6.8zM876.7,703.9l1.1,-6.8l6.6,1.2l-1.1,6.8zM879,690.3l1.1,-6.8l6.6,1.2l-1.1,6.8zM881.3,676.7l1.3,-6.8l6.6,1.2l-1.3,6.8zM883.8,663.1l1.3,-6.8l6.6,1.2l-1.3,6.8zM886.5,649.4l1.4,-6.8l6.5,1.4l-1.3,6.8zM889.3,635.8l1.5,-6.8l6.5,1.4l-1.5,6.8zM892.3,622.1l1.6,-6.8l6.4,1.6l-1.6,6.8zM895.5,608.5l1.6,-6.8l6.4,1.6l-1.6,6.8zM898.8,594.9l1.8,-6.8l6.3,1.6l-1.7,6.8zM902.4,581.3l1.8,-6.8l6.3,1.6l-1.8,6.8zM906.1,567.6l2,-6.8l6.3,1.8l-2,6.8zM910.1,554l2.1,-6.8l6.2,1.8l-2,6.8zM914.3,540.3l2.2,-6.8l6.2,2l-2.2,6.8zM918.8,526.7l2.3,-6.8l6.1,2l-2.3,6.8zM923.5,513l2.5,-6.8l6,2.2l-2.5,6.8zM928.5,499.4l2.6,-6.8l5.9,2.2l-2.5,6.8zM933.8,485.7l2.8,-6.8l5.8,2.4l-2.7,6.8zM939.4,472.1l3,-6.8l5.7,2.4l-2.9,6.8zM945.4,458.4l3.1,-6.8l5.7,2.6l-3.1,6.8zM951.8,444.8l3.2,-6.8l5.6,2.6l-3.3,6.8zM958.5,431.1l3.5,-6.8l5.4,2.8l-3.5,6.8zM965.7,417.5l3.7,-6.8l5.3,2.8l-3.8,6.8zM973.4,403.8l3.9,-6.8l5.1,3l-4,6.8zM981.5,390.2l4.3,-6.8l4.9,3l-4.3,6.8zM990.3,376.5l4.6,-6.8l4.6,3.2l-4.5,6.8zM999.7,362.9l4.9,-6.8l4.5,3.2l-4.9,6.8zM1009.8,349.3l5.4,-6.8l4.2,3.2l-5.3,6.8zM1020.8,335.6l5.8,-6.8l4,3.4l-5.8,6.8zM1032.8,322l6.3,-6.8l3.7,3.4l-6.3,6.8zM1045.9,308.4l6.8,-6.7l3.4,3.5l-6.8,6.6zM1059.5,295.3l6.8,-6l3.4,3.9l-6.8,5.9zM1073.1,283.5l6.8,-5.4l3.3,4.2l-6.8,5.4zM1086.8,272.9l6.8,-4.8l3.2,4.6l-6.8,4.7zM1100.5,263.4l6.8,-4.2l3,4.9l-6.8,4.2zM1114.1,255l6.8,-3.7l2.9,5.2l-6.8,3.7zM1127.9,247.6l6.8,-3.2l2.6,5.5l-6.8,3.3zM1141.6,241.2l6.8,-2.8l2.4,5.8l-6.8,2.8zM1155.3,235.7l6.8,-2.3l2.1,6.1l-6.8,2.3zM1169.1,231.1l6.8,-1.9l1.8,6.3l-6.8,1.9zM1182.9,227.5l6.8,-1.5l1.4,6.5l-6.8,1.5zM1196.7,224.7l6.8,-1.1l1,6.6l-6.8,1.1zM1210.5,222.7l6.8,-0.6l0.6,6.7l-6.8,0.6zM1224.3,221.6l6.8,-0.2l0.2,6.8l-6.8,0.2zM1238.1,221.4l6.8,0.2l-0.2,6.8l-6.8,-0.2zM1251.9,222l6.8,0.6l-0.6,6.7l-6.8,-0.6zM1265.7,223.5l6.8,1l-1,6.6l-6.8,-1zM1279.5,225.8l6.8,1.4l-1.4,6.5l-6.8,-1.4zM1293.3,229l6.8,1.9l-1.8,6.3l-6.8,-1.9zM1307,233.1l6.8,2.3l-2.1,6.1l-6.8,-2.3zM1320.8,238l6.8,2.8l-2.4,5.8l-6.8,-2.7zM1334.5,243.9l6.8,3.2l-2.6,5.6l-6.8,-3.2zM1348.2,250.8l6.8,3.7l-2.8,5.2l-6.8,-3.7zM1361.9,258.6l6.8,4.2l-3,4.9l-6.8,-4.2zM1375.6,267.5l6.8,4.7l-3.2,4.6l-6.8,-4.8zM1389.2,277.4l6.8,5.3l-3.3,4.2l-6.8,-5.3zM1402.9,288.5l6.8,5.9l-3.4,3.9l-6.8,-5.9zM1416.5,300.8l6.8,6.6l-3.4,3.5l-6.8,-6.5zM1430.1,314.3l6.3,6.8l-3.6,3.4l-6.4,-6.8zM1442.7,327.9l5.8,6.8l-4,3.3l-5.8,-6.8zM1454.2,341.5l5.3,6.8l-4.2,3.3l-5.3,-6.8zM1464.8,355.1l4.9,6.8l-4.4,3.3l-5,-6.8zM1474.6,368.8l4.6,6.8l-4.7,3.1l-4.6,-6.8zM1483.7,382.4l4.3,6.8l-4.9,3.1l-4.3,-6.8zM1492.2,396.1l4,6.8l-5.1,2.9l-4,-6.8zM1500.1,409.7l3.8,6.8l-5.2,2.9l-3.8,-6.8zM1507.6,423.4l3.5,6.8l-5.4,2.7l-3.5,-6.8zM1514.6,437l3.3,6.8l-5.5,2.7l-3.3,-6.8zM1521.1,450.7l3.1,6.8l-5.6,2.5l-3.1,-6.8zM1527.3,464.3l2.9,6.8l-5.7,2.5l-2.9,-6.8zM1533.1,478l2.8,6.8l-5.8,2.3l-2.8,-6.8zM1538.6,491.6l2.6,6.8l-5.9,2.3l-2.6,-6.8zM1543.8,505.3l2.5,6.8l-6,2.2l-2.5,-6.8zM1548.7,518.9l2.3,6.8l-6.1,2.1l-2.3,-6.8zM1553.3,532.6l2.2,6.8l-6.2,2l-2.2,-6.8zM1557.6,546.2l2.1,6.8l-6.2,1.9l-2.1,-6.8zM1561.8,559.9l1.9,6.8l-6.3,1.8l-1.9,-6.8zM1565.6,573.5l1.9,6.8l-6.4,1.7l-1.8,-6.8zM1569.3,587.1l1.7,6.8l-6.4,1.7l-1.7,-6.8zM1572.7,600.8l1.7,6.8l-6.4,1.5l-1.7,-6.8zM1576,614.4l1.6,6.8l-6.5,1.5l-1.6,-6.8zM1579.1,628.1l1.5,6.8l-6.5,1.4l-1.5,-6.8zM1582,641.7l1.4,6.8l-6.5,1.3l-1.4,-6.8zM1584.8,655.3l1.3,6.8l-6.6,1.3l-1.3,-6.8zM1587.3,669l1.3,6.8l-6.6,1.2l-1.2,-6.8zM1589.8,682.6l1.2,6.8l-6.6,1.1l-1.2,-6.8zM1592.1,696.2l1.1,6.8l-6.6,1.1l-1.1,-6.8zM1594.3,709.9l1,6.8l-6.6,1l-1,-6.8zM1596.4,723.5l1,6.8l-6.7,1l-1,-6.8zM1598.3,737.1l0.9,6.8l-6.7,0.9l-0.9,-6.8zM1600.1,750.7l0.9,6.8l-6.7,0.9l-0.9,-6.8zM1601.9,764.4l0.8,6.8l-6.8,0.7l-0.7,-6.8zM1603.4,778l0.8,6.8l-6.7,0.7l-0.8,-6.8zM1605,791.6l0.7,6.8l-6.7,0.7l-0.7,-6.8zM1606.4,805.2l0.7,6.8l-6.7,0.7l-0.7,-6.8zM1607.8,818.8l0.6,6.8l-6.7,0.7l-0.7,-6.8zM1609.1,832.5l0.6,6.8l-6.8,0.5l-0.5,-6.8zM1610.2,846.1l0.6,6.8l-6.8,0.5l-0.5,-6.8zM1611.3,859.7l0.6,6.8l-6.8,0.5l-0.5,-6.8zM1612.5,873.3l0.5,6.8l-6.7,0.5l-0.6,-6.8zM1613.5,886.9l0.4,6.8l-6.8,0.5l-0.4,-6.8zM1614.3,900.5l0.5,6.8l-6.8,0.5l-0.4,-6.8zM1615.2,914.1l0.4,6.8l-6.7,0.5l-0.5,-6.8zM1616.1,927.7l0.4,6.8l-6.8,0.5l-0.4,-6.8zM1616.9,941.4l0.4,6.8l-6.8,0.3l-0.3,-6.8zM1617.6,955l0.3,6.8l-6.8,0.3l-0.3,-6.8zM1618.2,968.6l0.3,6.8l-6.8,0.3l-0.3,-6.8zM1618.8,982.2l0.3,6.8l-6.8,0.3l-0.3,-6.8zM1619.4,995.8l0.3,6.8l-6.7,0.3l-0.3,-6.8zM1620.1,1009.4l0.3,6.8l-6.8,0.3l-0.3,-6.8zM1620.7,1023l0.3,6.8l-6.8,0.3l-0.3,-6.8zM1621.1,1036.7l0.2,6.8l-6.8,0.2l-0.2,-6.8zM1621.5,1050.3l0.2,6.8l-6.8,0.2l-0.2,-6.8zM1621.9,1063.9l0.2,6.8l-6.8,0.2l-0.2,-6.8zM1622.2,1077.5l0.2,6.8l-6.8,0.2l-0.2,-6.8zM1622.6,1091.1l0.2,6.8l-6.8,0.2l-0.2,-6.8zM1623,1104.7l0.2,6.8l-6.8,0.2l-0.2,-6.8zM1623.3,1118.3l0.2,6.8l-6.8,0.2l-0.2,-6.8zM1623.7,1131.9l0.2,6.8l-6.8,0.2l-0.2,-6.8zM1624.1,1145.5l0.2,6.8l-6.8,0.2l-0.2,-6.8zM1624.4,1159.1l0.2,6.8l-6.8,0.2l-0.2,-6.8zM1624.8,1172.7v6.8l-6.8,0.1v-6.8zM1624.8,1186.4v6.8h-6.8v-6.8zM1624.8,1200l0.1,6.8h-6.8l-0.1,-6.8zM1624.9,1213.6v6.8h-6.8v-6.8zM1624.9,1227.2v6.8h-6.8v-6.8zM1624.9,1240.8v6.8h-6.8v-6.8zM1624.9,1254.4v6.8h-6.8v-6.8zM1624.9,1268v6.8h-6.8v-6.8zM1624.9,1281.6v6.8h-6.8v-6.8zM1624.9,1295.2v6.8h-6.8v-6.8zM1624.9,1308.8v6.8h-6.8v-6.8zM1624.9,1322.4l0.1,6.8h-6.8l-0.1,-6.8zM1625,1336v6.8h-6.8v-6.8zM1625,1349.6v6.8h-6.8v-6.8zM1625,1363.2v6.8h-6.8v-6.8zM1625,1376.8v6.8h-6.8v-6.8zM1625,1390.4v6.8h-6.8v-6.8zM1625,1404v6.8h-6.8v-6.8zM1625,1417.6v6.8h-6.8v-6.8zM1625,1431.2v6.8h-6.8v-6.8zM1625.1,1444.8v6.8h-6.8v-6.8zM1625.1,1458.4v6.8h-6.8v-6.8zM1625.1,1472v6.8h-6.8v-6.8zM1625.6,1479.7v-6.8h6.8v6.8zM1625.6,1466.1v-6.8h6.8v6.8zM1625.6,1452.5v-6.8h6.8v6.8zM1625.6,1438.9v-6.8h6.8v6.8zM1625.6,1425.3v-6.8h6.8v6.8zM1625.6,1411.7v-6.8h6.8v6.8zM1625.6,1398.1v-6.8h6.8v6.8zM1625.7,1384.5v-6.8h6.8v6.8zM1625.7,1370.9v-6.8h6.8v6.8zM1625.7,1357.3v-6.8h6.8v6.8zM1625.7,1343.7v-6.8h6.8v6.8zM1625.7,1330.1v-6.8h6.8v6.8zM1625.7,1316.5v-6.8h6.8v6.8zM1625.7,1302.9v-6.8h6.8v6.8zM1625.7,1289.3v-6.8h6.8v6.8zM1625.7,1275.7v-6.8h6.8v6.8zM1625.8,1262.1v-6.8h6.8v6.8zM1625.8,1248.5v-6.8h6.8v6.8zM1625.8,1234.9v-6.8h6.8v6.8zM1625.8,1221.3v-6.8h6.8v6.8zM1625.8,1207.7v-6.8h6.8v6.8zM1625.8,1194.1v-6.8h6.8v6.8zM1625.8,1180.4l0.1,-6.8l6.8,0.2l-0.1,6.8zM1626.1,1166.8l0.2,-6.8l6.8,0.2l-0.2,6.8zM1626.5,1153.2l0.2,-6.8l6.8,0.2l-0.2,6.8zM1626.9,1139.6l0.2,-6.8l6.8,0.2l-0.2,6.8zM1627.3,1126l0.1,-6.8l6.8,0.2l-0.2,6.8zM1627.6,1112.4l0.2,-6.8l6.8,0.2l-0.2,6.8zM1628,1098.8l0.2,-6.8l6.8,0.2l-0.2,6.8zM1628.4,1085.2l0.2,-6.8l6.8,0.2l-0.2,6.8zM1628.8,1071.6l0.1,-6.8l6.8,0.2l-0.1,6.8zM1629.1,1058l0.2,-6.8l6.8,0.2l-0.2,6.8zM1629.5,1044.4l0.2,-6.8l6.8,0.2l-0.2,6.8zM1630,1030.7l0.3,-6.8l6.8,0.4l-0.3,6.8zM1630.7,1017.1l0.3,-6.8l6.8,0.4l-0.4,6.8zM1631.3,1003.5l0.3,-6.8l6.8,0.4l-0.3,6.8zM1632,989.9l0.3,-6.8l6.8,0.4l-0.4,6.8zM1632.6,976.3l0.3,-6.8l6.8,0.4l-0.3,6.8zM1633.3,962.7l0.3,-6.8l6.8,0.4l-0.4,6.8zM1634,949.1l0.5,-6.8l6.8,0.4l-0.5,6.8zM1635,935.5l0.4,-6.8l6.8,0.4l-0.5,6.8zM1635.9,921.9l0.5,-6.8l6.7,0.4l-0.4,6.8zM1636.8,908.3l0.5,-6.8l6.8,0.4l-0.5,6.8zM1637.8,894.6l0.6,-6.8l6.8,0.6l-0.6,6.8zM1639,881l0.6,-6.8l6.8,0.6l-0.6,6.8zM1640.3,867.4l0.6,-6.8l6.7,0.6l-0.6,6.8zM1641.5,853.7l0.7,-6.8l6.8,0.8l-0.8,6.8zM1643,840.1l0.7,-6.8l6.8,0.8l-0.8,6.8zM1644.5,826.5l0.7,-6.8l6.8,0.8l-0.8,6.8zM1646.1,812.9l0.9,-6.8l6.7,0.8l-0.9,6.8zM1647.9,799.3l0.9,-6.8l6.7,0.8l-0.9,6.8zM1649.8,785.6l1.1,-6.8l6.6,1l-1,6.8zM1651.9,772l1.1,-6.8l6.6,1l-1,6.8zM1654.2,758.3l1.2,-6.8l6.6,1.2l-1.2,6.8zM1656.7,744.7l1.3,-6.8l6.5,1.2l-1.3,6.8zM1659.4,731l1.3,-6.8l6.6,1.4l-1.4,6.8zM1662.3,717.4l1.5,-6.8l6.5,1.4l-1.6,6.8zM1665.5,703.7l1.7,-6.8l6.4,1.6l-1.7,6.8zM1669,690l1.9,-6.8l6.3,1.8l-1.9,6.8zM1672.9,676.3l2.1,-6.8l6.2,2l-2.1,6.8zM1677.2,662.7l2.3,-6.8l6.1,2l-2.4,6.8zM1681.9,649l2.6,-6.8l5.9,2.2l-2.5,6.8zM1687.3,635.3l2.9,-6.8l5.8,2.4l-2.9,6.8zM1693.4,621.6l3.2,-6.8l5.6,2.6l-3.3,6.8zM1700.3,607.9l3.8,-6.8l5.2,2.8l-3.8,6.8zM1708.4,594.1l4.5,-6.8l4.8,3.2l-4.5,6.8zM1718.2,580.4l5.5,-6.8l4.1,3.4l-5.5,6.8zM1730.3,566.7l6.5,-6.3l0.3,-0.3l3.3,3.9l-0.2,0.1l-6.5,6.2zM1744,554.3l6.8,-4.6l3.1,4.6l-6.8,4.6zM1757.9,545.4l6.8,-3.1l2.5,5.7l-6.8,3zM1772,539.6l6.8,-1.6l1.5,6.5l-6.8,1.6zM1786.2,536.9l6.8,-0.3l0.3,6.7l-6.8,0.4zM1800.4,536.9l6.8,0.9l-0.9,6.7l-6.8,-0.9zM1814.5,539.6l6.8,2l-1.9,6.2l-6.8,-2zM1828.5,544.7l6.8,3.3l-2.7,5.5l-6.8,-3.3zM1842.3,552.2l6.8,4.5l-3.1,4.7l-6.8,-4.4zM1856,562.2l6.8,5.8l-3.3,3.9l-6.8,-5.7zM1869.7,574.7l6.5,6.8l-3.5,3.4l-6.5,-6.8zM1882.5,588.3l5.5,6.8l-4.1,3.3l-5.6,-6.8zM1893.3,602l4.8,6.8l-4.6,3.2l-4.7,-6.8zM1902.7,615.6l4.3,6.8l-4.9,3.1l-4.2,-6.8zM1911.2,629.3l3.8,6.8l-5.2,2.9l-3.8,-6.8zM1918.7,643l3.5,6.8l-5.4,2.7l-3.4,-6.8zM1925.6,656.6l3.2,6.8l-5.6,2.7l-3.1,-6.8zM1931.9,670.3l2.9,6.8l-5.7,2.5l-2.9,-6.8zM1937.7,684l2.7,6.8l-5.9,2.3l-2.7,-6.8zM1943,697.7l2.5,6.8l-6,2.2l-2.5,-6.8zM1948,711.3l2.3,6.8l-6.1,2.1l-2.3,-6.8zM1952.6,725l2.1,6.8l-6.2,1.9l-2.1,-6.8zM1956.8,738.6l2,6.8l-6.3,1.9l-1.9,-6.8zM1960.8,752.3l1.8,6.8l-6.3,1.7l-1.8,-6.8zM1964.5,765.9l1.7,6.8l-6.4,1.7l-1.7,-6.8zM1967.9,779.6l1.6,6.8l-6.4,1.5l-1.6,-6.8zM1971.1,793.2l1.6,6.8l-6.5,1.5l-1.5,-6.8zM1974.1,806.9l1.5,6.8l-6.5,1.3l-1.5,-6.8zM1977,820.5l1.3,6.8l-6.6,1.3l-1.3,-6.8zM1979.6,834.2l1.2,6.8l-6.5,1.1l-1.3,-6.8zM1982,847.8l1.2,6.8l-6.6,1.1l-1.2,-6.8zM1984.4,861.4l1.1,6.8l-6.7,1.1l-1.1,-6.8zM1986.5,875l1.1,6.8l-6.6,1.1l-1.1,-6.8zM1988.6,888.7l0.9,6.8l-6.7,0.9l-0.9,-6.8zM1990.5,902.3l0.9,6.8l-6.7,0.9l-0.9,-6.8zM1992.3,915.9l0.8,6.8l-6.7,0.9l-0.8,-6.8zM1993.9,929.5l0.8,6.8l-6.7,0.9l-0.8,-6.8zM1995.5,943.2l0.7,6.8l-6.7,0.7l-0.7,-6.8zM1996.9,956.8l0.7,6.8l-6.7,0.7l-0.7,-6.8zM1998.3,970.4l0.7,6.8l-6.7,0.7l-0.7,-6.8zM1999.7,984.1l0.5,6.8l-6.7,0.5l-0.6,-6.8zM2000.8,997.7l0.6,6.8l-6.8,0.5l-0.6,-6.8zM2001.9,1011.3l0.6,6.8l-6.8,0.5l-0.5,-6.8zM2003.1,1024.9l0.5,6.8l-6.8,0.5l-0.5,-6.8zM2004,1038.5l0.5,6.8l-6.8,0.5l-0.4,-6.8zM2004.9,1052.1l0.4,6.8l-6.7,0.5l-0.5,-6.8zM2005.8,1065.7l0.4,6.8l-6.7,0.5l-0.5,-6.8zM2006.7,1079.3l0.4,6.8l-6.8,0.5l-0.4,-6.8zM2007.5,1093l0.3,6.8l-6.8,0.3l-0.3,-6.8zM2008.1,1106.6l0.3,6.8l-6.8,0.3l-0.3,-6.8zM2008.7,1120.2l0.3,6.8l-6.7,0.3l-0.4,-6.8zM2009.4,1133.8l0.3,6.8l-6.8,0.3l-0.3,-6.8zM2010,1147.4l0.3,6.8l-6.8,0.3l-0.3,-6.8zM2010.6,1161l0.3,6.8l-6.8,0.3l-0.3,-6.8zM2011.2,1174.7l0.2,6.8l-6.8,0.1l-0.2,-6.8zM2011.6,1188.3l0.2,6.8l-6.8,0.1l-0.2,-6.8zM2012,1201.9l0.1,6.8l-6.7,0.1l-0.2,-6.8zM2012.3,1215.5l0.2,6.8l-6.8,0.1l-0.2,-6.8zM2012.7,1229.1l0.2,6.8l-6.8,0.1l-0.2,-6.8zM2013.1,1242.7l0.2,6.8l-6.8,0.1l-0.2,-6.8zM2013.4,1256.3l0.2,6.8l-6.8,0.1l-0.2,-6.8zM2013.8,1269.9l0.2,6.8l-6.8,0.1l-0.2,-6.8zM2014.2,1283.5l0.2,6.8l-6.8,0.1l-0.2,-6.8zM2014.5,1297.1l0.2,6.8l-6.8,0.1l-0.2,-6.8zM2014.9,1310.7l0.2,6.8l-6.8,0.1l-0.2,-6.8zM2015.1,1324.3v6.8l-6.8,0.1v-6.8zM2015.1,1337.9v6.8l-6.8,0.1v-6.8zM2015.1,1351.5v6.8l-6.8,0.1v-6.8zM2015.1,1365.1v6.8l-6.8,0.1v-6.8zM2015.2,1378.7v6.8l-6.8,0.1v-6.8zM2015.2,1392.3v6.8l-6.8,0.1v-6.8zM2015.2,1405.9v6.8l-6.8,0.1v-6.8zM2015.2,1419.5v6.8l-6.8,0.1v-6.8zM2015.2,1433.1v6.8l-6.8,0.1v-6.8zM2015.2,1446.7v6.8l-6.8,0.1v-6.8zM2015.2,1460.3v6.8l-6.8,0.1v-6.8zM2015.2,1473.9v6.8l-6.8,0.1v-6.8zM2016,1479.7v-6.8h6.8v6.8zM2016,1466.1v-6.8h6.8v6.8zM2016,1452.5v-6.8h6.8v6.8zM2016,1438.9v-6.8h6.8v6.8zM2016,1425.3v-6.8h6.8v6.8zM2016,1411.7v-6.8h6.8v6.8zM2016,1398.1v-6.8h6.8v6.8zM2016,1384.5l0.1,-6.8h6.8l-0.1,6.8zM2016.1,1370.9v-6.8h6.8v6.8zM2016.1,1357.3v-6.8h6.8v6.8zM2016.1,1343.7v-6.8h6.8v6.8zM2016.1,1330.1v-6.8h6.8v6.8zM2016.2,1316.4l0.2,-6.8l6.8,0.2l-0.2,6.8zM2016.6,1302.8l0.2,-6.8l6.7,0.2l-0.1,6.8zM2016.9,1289.2l0.2,-6.8l6.8,0.2l-0.2,6.8zM2017.3,1275.6l0.2,-6.8l6.8,0.2l-0.2,6.8zM2017.7,1262l0.2,-6.8l6.8,0.2l-0.2,6.8zM2018.1,1248.4l0.1,-6.8l6.8,0.2l-0.1,6.8zM2018.4,1234.8l0.2,-6.8l6.8,0.2l-0.2,6.8zM2018.8,1221.2l0.2,-6.8l6.8,0.2l-0.2,6.8zM2019.2,1207.6l0.2,-6.8l6.8,0.2l-0.2,6.8zM2019.6,1194l0.1,-6.8l6.8,0.2l-0.2,6.8zM2019.9,1180.4l0.3,-6.8l6.8,0.2l-0.3,6.8zM2020.5,1166.7l0.3,-6.8l6.8,0.4l-0.3,6.8zM2021.2,1153.1l0.3,-6.8l6.8,0.4l-0.4,6.8zM2021.8,1139.5l0.3,-6.8l6.8,0.4l-0.3,6.8zM2022.4,1125.9l0.4,-6.8l6.8,0.4l-0.4,6.8zM2023.1,1112.3l0.3,-6.8l6.8,0.4l-0.3,6.8zM2023.7,1098.7l0.4,-6.8l6.8,0.4l-0.4,6.8zM2024.6,1085.1l0.4,-6.8l6.8,0.4l-0.4,6.8zM2025.5,1071.5l0.5,-6.8l6.7,0.4l-0.4,6.8zM2026.4,1057.9l0.5,-6.8l6.7,0.4l-0.4,6.8zM2027.3,1044.3l0.5,-6.8l6.7,0.4l-0.4,6.8zM2028.4,1030.6l0.6,-6.8l6.7,0.6l-0.6,6.8zM2029.6,1017l0.5,-6.8l6.8,0.6l-0.6,6.8zM2030.7,1003.4l0.6,-6.8l6.8,0.6l-0.6,6.8zM2032,989.7l0.7,-6.8l6.7,0.8l-0.7,6.8zM2033.4,976.1l0.8,-6.8l6.7,0.8l-0.7,6.8zM2034.9,962.5l0.7,-6.8l6.8,0.8l-0.8,6.8zM2036.5,948.9l0.9,-6.8l6.7,0.8l-0.9,6.8zM2038.3,935.3l0.8,-6.8l6.7,0.8l-0.8,6.8zM2040.1,921.6l1,-6.8l6.7,1l-1,6.8zM2042.2,908l1,-6.8l6.6,1l-1,6.8zM2044.3,894.3l1.2,-6.8l6.6,1.2l-1.2,6.8zM2046.7,880.7l1.2,-6.8l6.6,1.2l-1.3,6.8zM2049.2,867.1l1.3,-6.8l6.6,1.2l-1.3,6.8zM2051.9,853.4l1.5,-6.8l6.5,1.4l-1.5,6.8zM2054.9,839.7l1.6,-6.8l6.5,1.6l-1.6,6.8zM2058.2,826.1l1.7,-6.8l6.4,1.6l-1.7,6.8zM2061.7,812.4l1.8,-6.8l6.4,1.8l-1.9,6.8zM2065.6,798.8l2,-6.8l6.2,1.8l-2,6.8zM2069.8,785.1l2.2,-6.8l6.2,2l-2.3,6.8zM2074.5,771.4l2.5,-6.8l6,2.2l-2.5,6.8zM2079.6,757.7l2.8,-6.8l5.8,2.4l-2.7,6.8zM2085.4,744l3.1,-6.8l5.6,2.6l-3,6.8zM2091.9,730.3l3.5,-6.8l5.4,2.8l-3.5,6.8zM2099.3,716.6l4,-6.8l5,3l-4,6.8zM2107.8,702.9l4.8,-6.8l4.6,3.2l-4.8,6.8zM2118,689.2l5.7,-6.8l4,3.4l-5.7,6.8zM2130.5,675.5l6.8,-6.3l3.3,3.7l-6.7,6.2zM2144.2,663.4l4.9,-3.4l3.1,4.6l-4.9,3.4z"/>
</g>
<rect x="1381.2" y="60.4" width="768.6" height="728.6" fill="#fff" stroke="#3E3E3E" stroke-width="4.3"/>
<line x1="1396.7" y1="111.2" x2="1567" y2="111.2" stroke="#0078C8" stroke-width="6.8" stroke-dasharray="26.6 26.6 26.6 26.6 26.6 26.6 9.7 100"/>
<text x="1577.5" y="123.1" font-size="64" fill="#0c0c0c"><tspan textLength="166" lengthAdjust="spacingAndGlyphs">Pulse-</tspan><tspan x="1743.5" textLength="264.4" lengthAdjust="spacingAndGlyphs">OTFS(1,1)</tspan></text>
<line x1="1396.7" y1="202.4" x2="1567" y2="202.4" stroke="#FA5409" stroke-width="6.8" stroke-dasharray="26 9 11 7 26 8 13 7 27.5 6 13.5 7 9.3 100"/>
<text x="1577.5" y="214.3" font-size="64" fill="#0c0c0c"><tspan textLength="166" lengthAdjust="spacingAndGlyphs">Pulse-</tspan><tspan x="1743.5" textLength="294.7" lengthAdjust="spacingAndGlyphs">OTFS(1,64)</tspan></text>
<line x1="1396.7" y1="290.5" x2="1567" y2="290.5" stroke="#FFB000" stroke-width="6.8" stroke-dasharray="6.8 6.8"/>
<text x="1577.5" y="302.4" font-size="64" fill="#0c0c0c"><tspan textLength="166" lengthAdjust="spacingAndGlyphs">Pulse-</tspan><tspan x="1743.5" textLength="355.2" lengthAdjust="spacingAndGlyphs">OTFS(1,1023)</tspan></text>
<line x1="1396.7" y1="381.5" x2="1567" y2="381.5" stroke="#8E24A0" stroke-width="6.8" stroke-dasharray="26.6 26.6 26.6 26.6 26.6 26.6 9.7 100"/>
<text x="1577.5" y="393.4" font-size="64" fill="#0c0c0c"><tspan textLength="166" lengthAdjust="spacingAndGlyphs">Pulse-</tspan><tspan x="1743.5" textLength="294.7" lengthAdjust="spacingAndGlyphs">OTFS(10,1)</tspan></text>
<line x1="1396.7" y1="469.5" x2="1567" y2="469.5" stroke="#56B00C" stroke-width="6.8" stroke-dasharray="26 9 11 7 26 8 13 7 27.5 6 13.5 7 9.3 100"/>
<text x="1577.5" y="481.4" font-size="64" fill="#0c0c0c"><tspan textLength="166" lengthAdjust="spacingAndGlyphs">Pulse-</tspan><tspan x="1743.5" textLength="325" lengthAdjust="spacingAndGlyphs">OTFS(10,64)</tspan></text>
<line x1="1396.7" y1="560.4" x2="1567" y2="560.4" stroke="#0000FF" stroke-width="6.8"/>
<text x="1577.5" y="572.3" font-size="64" fill="#0c0c0c"><tspan textLength="166" lengthAdjust="spacingAndGlyphs">Pulse-</tspan><tspan x="1743.5" textLength="384.3" lengthAdjust="spacingAndGlyphs">OTFS(10,1023)</tspan></text>
<line x1="1396.7" y1="648.4" x2="1567" y2="648.4" stroke="#D2102D" stroke-width="6.8"/>
<text x="1577.5" y="660.3" font-size="64" fill="#0c0c0c"><tspan textLength="166" lengthAdjust="spacingAndGlyphs">Pulse-</tspan><tspan x="1743.5" textLength="221" lengthAdjust="spacingAndGlyphs">BPSK(5)</tspan></text>
<line x1="1396.7" y1="739.4" x2="1567" y2="739.4" stroke="#00CDFF" stroke-width="6.8" stroke-dasharray="6.8 6.8"/>
<text x="1577.5" y="751.3" font-size="64" fill="#0c0c0c" textLength="218.4" lengthAdjust="spacingAndGlyphs">BPSK(5)</text>
<text x="297" y="73.8" font-size="71" fill="#262626" text-anchor="end">60</text>
<text transform="translate(175.5,77.3) scale(1.21,0.88)" font-size="71" fill="#6a6a6a">−</text>
<text x="297" y="309.5" font-size="71" fill="#262626" text-anchor="end">70</text>
<text transform="translate(175.5,313) scale(1.21,0.88)" font-size="71" fill="#6a6a6a">−</text>
<text x="297" y="549.7" font-size="71" fill="#262626" text-anchor="end">80</text>
<text transform="translate(175.5,553.2) scale(1.21,0.88)" font-size="71" fill="#6a6a6a">−</text>
<text x="297" y="789.1" font-size="71" fill="#262626" text-anchor="end">90</text>
<text transform="translate(175.5,792.6) scale(1.21,0.88)" font-size="71" fill="#6a6a6a">−</text>
<text x="297" y="1025.1" font-size="71" fill="#262626" text-anchor="end">100</text>
<text transform="translate(141.5,1028.6) scale(1.21,0.88)" font-size="71" fill="#6a6a6a">−</text>
<text x="297" y="1261.7" font-size="71" fill="#262626" text-anchor="end">110</text>
<text transform="translate(141.5,1265.2) scale(1.21,0.88)" font-size="71" fill="#6a6a6a">−</text>
<text x="297" y="1502" font-size="71" fill="#262626" text-anchor="end">120</text>
<text transform="translate(141.5,1505.5) scale(1.21,0.88)" font-size="71" fill="#6a6a6a">−</text>
<text x="1963.4" y="1567.2" font-size="71" fill="#262626" text-anchor="start">10</text>
<text x="1600.4" y="1567.2" font-size="71" fill="#262626" text-anchor="start">5</text>
<text x="1219.9" y="1567.2" font-size="71" fill="#262626" text-anchor="start">0</text>
<text x="860.5" y="1567.2" font-size="71" fill="#262626" text-anchor="start">5</text>
<text transform="translate(810.4,1570.7) scale(1.21,0.88)" font-size="71" fill="#6a6a6a">−</text>
<text x="462.3" y="1567.2" font-size="71" fill="#262626" text-anchor="start">10</text>
<text transform="translate(411.5,1570.7) scale(1.21,0.88)" font-size="71" fill="#6a6a6a">−</text>
<text x="1236.4" y="1664.4" font-size="79" fill="#111" text-anchor="middle" textLength="576" lengthAdjust="spacingAndGlyphs">Frequency (MHz)</text>
<text transform="translate(86.6,769.5) rotate(-90)" font-size="79" fill="#111" text-anchor="middle" textLength="494" lengthAdjust="spacingAndGlyphs">PSD (dBW/Hz)</text>
</g>
</svg></body></html>
